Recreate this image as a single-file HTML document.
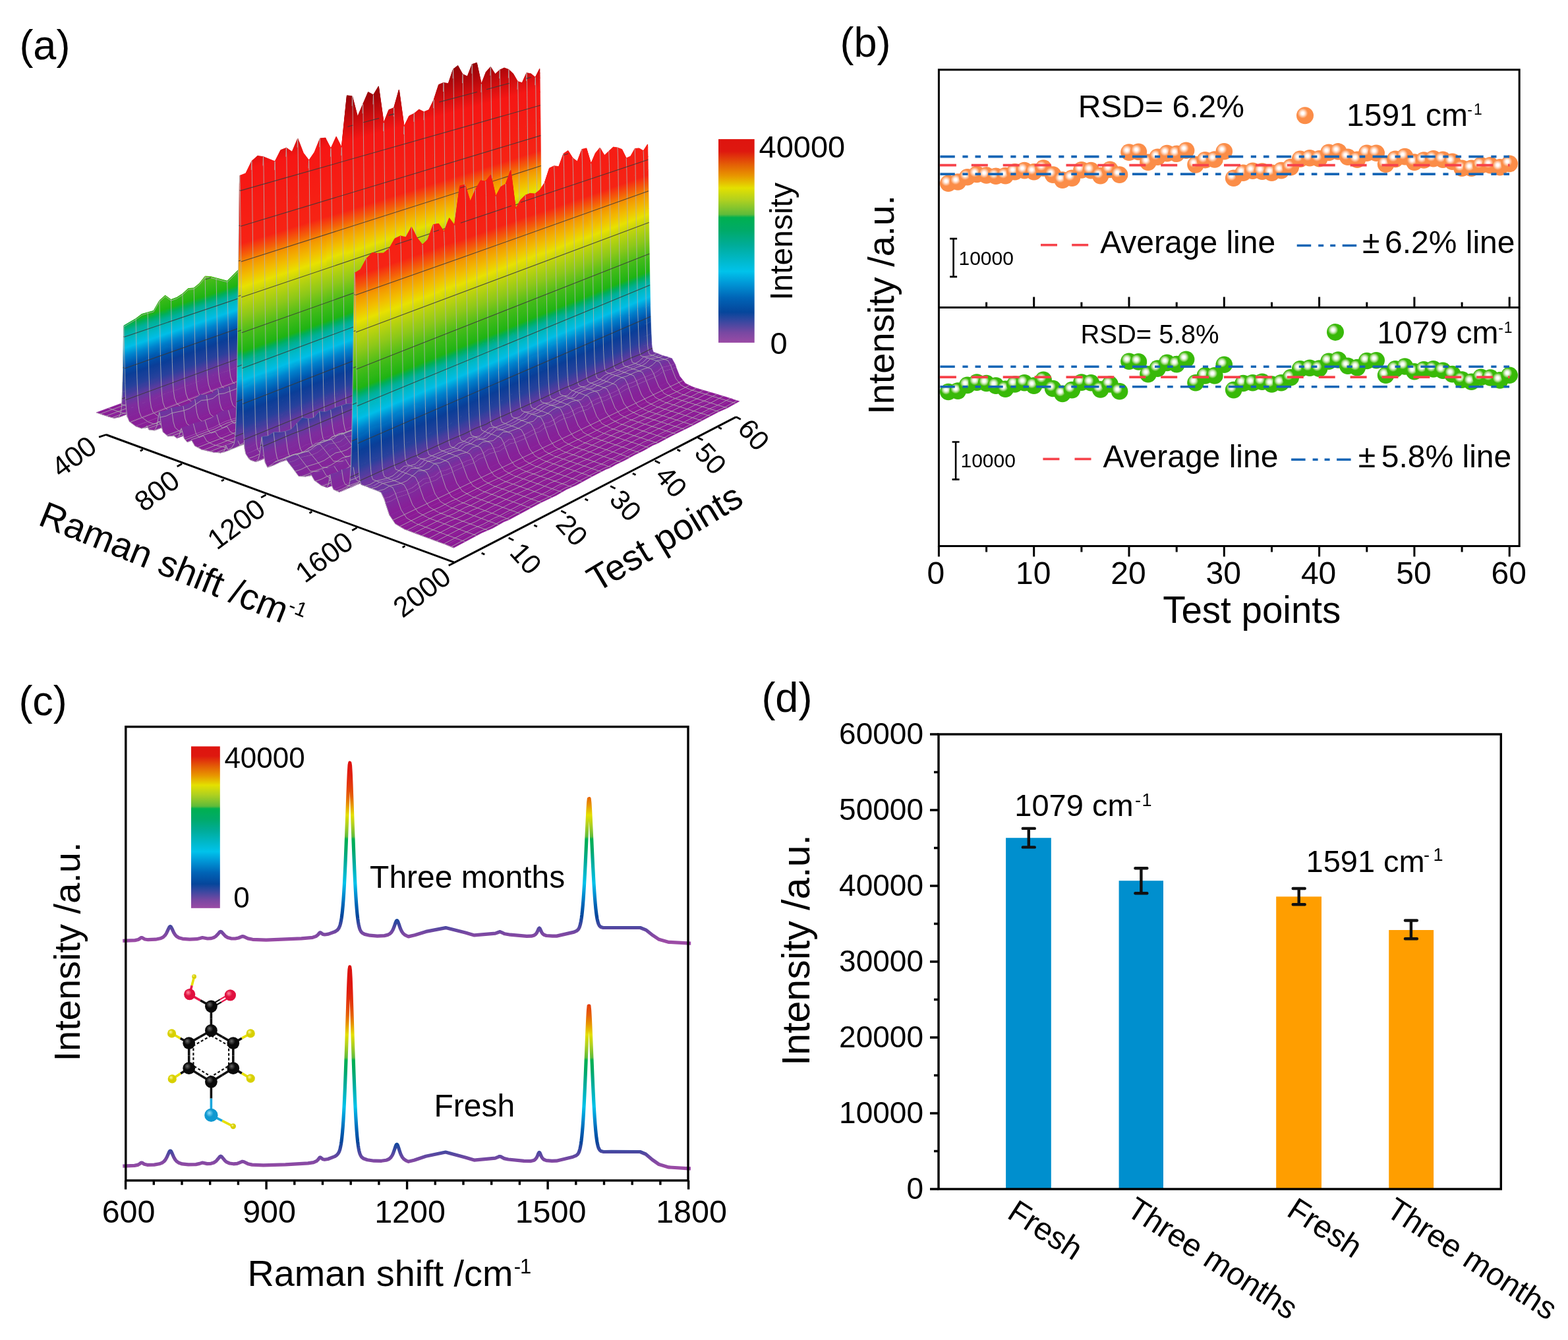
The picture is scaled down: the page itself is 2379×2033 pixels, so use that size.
<!DOCTYPE html>
<html><head><meta charset="utf-8"><title>Figure</title><style>html,body{margin:0;padding:0;background:#fff;}svg{display:block;}</style></head>
<body>
<svg xmlns="http://www.w3.org/2000/svg" xmlns:xlink="http://www.w3.org/1999/xlink" width="2379" height="2033" viewBox="0 0 2379 2033" style="font-family:'Liberation Sans',Arial,Helvetica,sans-serif">
<defs><linearGradient id="scm" x1="0" y1="0" x2="1" y2="0"><stop offset="0" stop-color="#8c1a96"/><stop offset="0.0476" stop-color="#8c1a96"/><stop offset="0.0952" stop-color="#7d2d9e"/><stop offset="0.1143" stop-color="#643aa0"/><stop offset="0.1429" stop-color="#28419c"/><stop offset="0.1746" stop-color="#0a3e98"/><stop offset="0.1952" stop-color="#0050aa"/><stop offset="0.2222" stop-color="#0082cd"/><stop offset="0.2444" stop-color="#00bee8"/><stop offset="0.2635" stop-color="#00b9c8"/><stop offset="0.2857" stop-color="#00b096"/><stop offset="0.2984" stop-color="#00af5a"/><stop offset="0.3095" stop-color="#1eb414"/><stop offset="0.3476" stop-color="#46bc19"/><stop offset="0.3889" stop-color="#8cc819"/><stop offset="0.4365" stop-color="#cdd70a"/><stop offset="0.4524" stop-color="#e8e100"/><stop offset="0.4762" stop-color="#f2be00"/><stop offset="0.5048" stop-color="#f49600"/><stop offset="0.5238" stop-color="#f46408"/><stop offset="0.5524" stop-color="#f62314"/><stop offset="0.7143" stop-color="#f61614"/><stop offset="0.7937" stop-color="#ac060a"/><stop offset="0.873" stop-color="#700005"/><stop offset="1" stop-color="#640005"/></linearGradient>
<linearGradient id="s1" href="#scm" gradientUnits="userSpaceOnUse" x1="442.6" y1="571.2" x2="262.6" y2="87.7"/>
<linearGradient id="s2" href="#scm" gradientUnits="userSpaceOnUse" x1="446.4" y1="571.1" x2="267.1" y2="86.8"/>
<linearGradient id="s3" href="#scm" gradientUnits="userSpaceOnUse" x1="450" y1="570.6" x2="271.8" y2="85.1"/>
<linearGradient id="s4" href="#scm" gradientUnits="userSpaceOnUse" x1="454" y1="569.7" x2="277.4" y2="82.9"/>
<linearGradient id="s5" href="#scm" gradientUnits="userSpaceOnUse" x1="458.3" y1="568.7" x2="283.4" y2="80.3"/>
<linearGradient id="s6" href="#scm" gradientUnits="userSpaceOnUse" x1="346.1" y1="612.6" x2="166.8" y2="103.3"/>
<linearGradient id="s7" href="#scm" gradientUnits="userSpaceOnUse" x1="576" y1="523.8" x2="409.8" y2="51.6"/>
<linearGradient id="s8" href="#scm" gradientUnits="userSpaceOnUse" x1="352" y1="611.5" x2="178" y2="97.9"/>
<linearGradient id="s9" href="#scm" gradientUnits="userSpaceOnUse" x1="581.9" y1="522.6" x2="420.6" y2="46.5"/>
<linearGradient id="s10" href="#scm" gradientUnits="userSpaceOnUse" x1="367.2" y1="607.1" x2="197" y2="90.7"/>
<linearGradient id="s11" href="#scm" gradientUnits="userSpaceOnUse" x1="597" y1="518.3" x2="439.4" y2="39.3"/>
<linearGradient id="s12" href="#scm" gradientUnits="userSpaceOnUse" x1="369" y1="606.7" x2="199.5" y2="89.7"/>
<linearGradient id="s13" href="#scm" gradientUnits="userSpaceOnUse" x1="598.7" y1="517.9" x2="441.8" y2="38.4"/>
<linearGradient id="s14" href="#scm" gradientUnits="userSpaceOnUse" x1="370.2" y1="606.5" x2="201.1" y2="89.2"/>
<linearGradient id="s15" href="#scm" gradientUnits="userSpaceOnUse" x1="600" y1="517.6" x2="443.4" y2="37.9"/>
<linearGradient id="s16" href="#scm" gradientUnits="userSpaceOnUse" x1="370.3" y1="606.5" x2="201.2" y2="89.2"/>
<linearGradient id="s17" href="#scm" gradientUnits="userSpaceOnUse" x1="600.1" y1="517.6" x2="443.6" y2="37.9"/>
<linearGradient id="s18" href="#scm" gradientUnits="userSpaceOnUse" x1="369.4" y1="606.9" x2="199.9" y2="89.8"/>
<linearGradient id="s19" href="#scm" gradientUnits="userSpaceOnUse" x1="599.2" y1="518" x2="442.2" y2="38.5"/>
<linearGradient id="s20" href="#scm" gradientUnits="userSpaceOnUse" x1="365.8" y1="608.1" x2="195" y2="91.8"/>
<linearGradient id="s21" href="#scm" gradientUnits="userSpaceOnUse" x1="595.6" y1="519.1" x2="437.4" y2="40.5"/>
<linearGradient id="s22" href="#scm" gradientUnits="userSpaceOnUse" x1="354.1" y1="612" x2="179.2" y2="98.6"/>
<linearGradient id="s23" href="#scm" gradientUnits="userSpaceOnUse" x1="583.9" y1="523" x2="421.8" y2="47.1"/>
<linearGradient id="s24" href="#scm" gradientUnits="userSpaceOnUse" x1="349.3" y1="613.7" x2="169.5" y2="103.8"/>
<linearGradient id="s25" href="#scm" gradientUnits="userSpaceOnUse" x1="579.1" y1="524.7" x2="412.5" y2="52"/>
<linearGradient id="s26" href="#scm" gradientUnits="userSpaceOnUse" x1="462.4" y1="570" x2="286.8" y2="80.8"/>
<linearGradient id="s27" href="#scm" gradientUnits="userSpaceOnUse" x1="459.2" y1="571.4" x2="281.6" y2="83.6"/>
<linearGradient id="s28" href="#scm" gradientUnits="userSpaceOnUse" x1="456.6" y1="572.8" x2="277.3" y2="86.1"/>
<linearGradient id="s29" href="#scm" gradientUnits="userSpaceOnUse" x1="455.1" y1="574.1" x2="274.2" y2="88.2"/>
<linearGradient id="s30" href="#scm" gradientUnits="userSpaceOnUse" x1="455.5" y1="575.5" x2="273.1" y2="89.7"/>
<linearGradient id="s31" href="#scm" gradientUnits="userSpaceOnUse" x1="496.7" y1="589.2" x2="304.5" y2="90.1"/>
<linearGradient id="s32" href="#scm" gradientUnits="userSpaceOnUse" x1="500.9" y1="589.4" x2="309.1" y2="88.6"/>
<linearGradient id="s33" href="#scm" gradientUnits="userSpaceOnUse" x1="505.4" y1="589" x2="314.5" y2="86.4"/>
<linearGradient id="s34" href="#scm" gradientUnits="userSpaceOnUse" x1="509.6" y1="588.1" x2="319.1" y2="84.7"/>
<linearGradient id="s35" href="#scm" gradientUnits="userSpaceOnUse" x1="509.7" y1="588.4" x2="319" y2="84.9"/>
<linearGradient id="s36" href="#scm" gradientUnits="userSpaceOnUse" x1="506.4" y1="590.8" x2="314.3" y2="87.7"/>
<linearGradient id="s37" href="#scm" gradientUnits="userSpaceOnUse" x1="507.1" y1="592.3" x2="312.8" y2="89.8"/>
<linearGradient id="s38" href="#scm" gradientUnits="userSpaceOnUse" x1="535.2" y1="600.9" x2="335" y2="89.1"/>
<linearGradient id="s39" href="#scm" gradientUnits="userSpaceOnUse" x1="539.8" y1="600.8" x2="339.5" y2="87.9"/>
<linearGradient id="s40" href="#scm" gradientUnits="userSpaceOnUse" x1="539" y1="602.5" x2="337.5" y2="89.7"/>
<linearGradient id="s41" href="#scm" gradientUnits="userSpaceOnUse" x1="552.6" y1="608.1" x2="346.5" y2="91.4"/>
<linearGradient id="s42" href="#scm" gradientUnits="userSpaceOnUse" x1="602" y1="622.9" x2="385.3" y2="91.7"/>
<linearGradient id="s43" href="#scm" gradientUnits="userSpaceOnUse" x1="606.9" y1="623.5" x2="390.1" y2="91.8"/>
<linearGradient id="s44" href="#scm" gradientUnits="userSpaceOnUse" x1="611" y1="624.8" x2="393.6" y2="93"/>
<linearGradient id="s45" href="#scm" gradientUnits="userSpaceOnUse" x1="617" y1="625.7" x2="399.7" y2="93"/>
<linearGradient id="s46" href="#scm" gradientUnits="userSpaceOnUse" x1="621.7" y1="625.6" x2="405" y2="91.9"/>
<linearGradient id="s47" href="#scm" gradientUnits="userSpaceOnUse" x1="625.5" y1="625" x2="410" y2="90"/>
<linearGradient id="s48" href="#scm" gradientUnits="userSpaceOnUse" x1="629.4" y1="624" x2="415.5" y2="87.4"/>
<linearGradient id="s49" href="#scm" gradientUnits="userSpaceOnUse" x1="519.6" y1="671.9" x2="299.5" y2="111.4"/>
<linearGradient id="s50" href="#scm" gradientUnits="userSpaceOnUse" x1="744.4" y1="575.5" x2="541.1" y2="57.2"/>
<linearGradient id="s51" href="#scm" gradientUnits="userSpaceOnUse" x1="526.4" y1="670" x2="309.2" y2="106.7"/>
<linearGradient id="s52" href="#scm" gradientUnits="userSpaceOnUse" x1="750.9" y1="573.6" x2="550.4" y2="52.7"/>
<linearGradient id="s53" href="#scm" gradientUnits="userSpaceOnUse" x1="533" y1="668.2" x2="319.2" y2="101.7"/>
<linearGradient id="s54" href="#scm" gradientUnits="userSpaceOnUse" x1="757" y1="571.9" x2="559.7" y2="48"/>
<linearGradient id="s55" href="#scm" gradientUnits="userSpaceOnUse" x1="540.7" y1="666.1" x2="331.2" y2="95.8"/>
<linearGradient id="s56" href="#scm" gradientUnits="userSpaceOnUse" x1="764.3" y1="570" x2="571" y2="42.6"/>
<linearGradient id="s57" href="#scm" gradientUnits="userSpaceOnUse" x1="487.5" y1="690.5" x2="277.6" y2="104.6"/>
<linearGradient id="s58" href="#scm" gradientUnits="userSpaceOnUse" x1="609.5" y1="638.1" x2="409.6" y2="75"/>
<linearGradient id="s59" href="#scm" gradientUnits="userSpaceOnUse" x1="719.4" y1="590.9" x2="527.4" y2="48.8"/>
<linearGradient id="s60" href="#scm" gradientUnits="userSpaceOnUse" x1="821.4" y1="547" x2="636.6" y2="24.7"/>
<linearGradient id="s61" href="#scm" gradientUnits="userSpaceOnUse" x1="497" y1="688.6" x2="294.2" y2="97"/>
<linearGradient id="s62" href="#scm" gradientUnits="userSpaceOnUse" x1="618.6" y1="636.4" x2="426.1" y2="67.3"/>
<linearGradient id="s63" href="#scm" gradientUnits="userSpaceOnUse" x1="728.1" y1="589.2" x2="543.3" y2="41.5"/>
<linearGradient id="s64" href="#scm" gradientUnits="userSpaceOnUse" x1="830.2" y1="545.3" x2="652.4" y2="17.4"/>
<linearGradient id="s65" href="#scm" gradientUnits="userSpaceOnUse" x1="508.6" y1="687.7" x2="320.1" y2="85.4"/>
<linearGradient id="s66" href="#scm" gradientUnits="userSpaceOnUse" x1="629.1" y1="635.9" x2="451.8" y2="55.9"/>
<linearGradient id="s67" href="#scm" gradientUnits="userSpaceOnUse" x1="738.2" y1="588.9" x2="568.1" y2="30.5"/>
<linearGradient id="s68" href="#scm" gradientUnits="userSpaceOnUse" x1="840.5" y1="544.9" x2="677" y2="6.7"/>
<linearGradient id="s69" href="#scm" gradientUnits="userSpaceOnUse" x1="535.8" y1="682.3" x2="359.5" y2="71.8"/>
<linearGradient id="s70" href="#scm" gradientUnits="userSpaceOnUse" x1="654.7" y1="631.1" x2="489.6" y2="43.1"/>
<linearGradient id="s71" href="#scm" gradientUnits="userSpaceOnUse" x1="762.9" y1="584.3" x2="604.6" y2="18.3"/>
<linearGradient id="s72" href="#scm" gradientUnits="userSpaceOnUse" x1="865.2" y1="540.4" x2="713.6" y2="-5.5"/>
<linearGradient id="s73" href="#scm" gradientUnits="userSpaceOnUse" x1="540.5" y1="682" x2="368.3" y2="69"/>
<linearGradient id="s74" href="#scm" gradientUnits="userSpaceOnUse" x1="658.9" y1="631.1" x2="498" y2="40.4"/>
<linearGradient id="s75" href="#scm" gradientUnits="userSpaceOnUse" x1="766.9" y1="584.2" x2="612.7" y2="15.7"/>
<linearGradient id="s76" href="#scm" gradientUnits="userSpaceOnUse" x1="869.2" y1="540.4" x2="721.7" y2="-8"/>
<linearGradient id="s77" href="#scm" gradientUnits="userSpaceOnUse" x1="544.5" y1="681.6" x2="374.6" y2="67.1"/>
<linearGradient id="s78" href="#scm" gradientUnits="userSpaceOnUse" x1="662.6" y1="630.7" x2="504.1" y2="38.7"/>
<linearGradient id="s79" href="#scm" gradientUnits="userSpaceOnUse" x1="770.4" y1="583.9" x2="618.6" y2="14"/>
<linearGradient id="s80" href="#scm" gradientUnits="userSpaceOnUse" x1="872.7" y1="540.1" x2="727.5" y2="-9.7"/>
<linearGradient id="s81" href="#scm" gradientUnits="userSpaceOnUse" x1="545.8" y1="681.5" x2="376.9" y2="66.4"/>
<linearGradient id="s82" href="#scm" gradientUnits="userSpaceOnUse" x1="663.7" y1="630.7" x2="506.3" y2="38.1"/>
<linearGradient id="s83" href="#scm" gradientUnits="userSpaceOnUse" x1="771.5" y1="583.9" x2="620.7" y2="13.4"/>
<linearGradient id="s84" href="#scm" gradientUnits="userSpaceOnUse" x1="873.8" y1="540.1" x2="729.6" y2="-10.2"/>
<linearGradient id="s85" href="#scm" gradientUnits="userSpaceOnUse" x1="546.7" y1="681.5" x2="378.3" y2="66.1"/>
<linearGradient id="s86" href="#scm" gradientUnits="userSpaceOnUse" x1="664.6" y1="630.7" x2="507.7" y2="37.7"/>
<linearGradient id="s87" href="#scm" gradientUnits="userSpaceOnUse" x1="772.4" y1="583.9" x2="622" y2="13.1"/>
<linearGradient id="s88" href="#scm" gradientUnits="userSpaceOnUse" x1="874.6" y1="540.1" x2="730.9" y2="-10.5"/>
<linearGradient id="s89" href="#scm" gradientUnits="userSpaceOnUse" x1="546.8" y1="681.6" x2="378.3" y2="66.1"/>
<linearGradient id="s90" href="#scm" gradientUnits="userSpaceOnUse" x1="664.7" y1="630.8" x2="507.7" y2="37.8"/>
<linearGradient id="s91" href="#scm" gradientUnits="userSpaceOnUse" x1="772.4" y1="584" x2="622" y2="13.2"/>
<linearGradient id="s92" href="#scm" gradientUnits="userSpaceOnUse" x1="874.7" y1="540.1" x2="730.9" y2="-10.5"/>
<linearGradient id="s93" href="#scm" gradientUnits="userSpaceOnUse" x1="546.1" y1="681.7" x2="377" y2="66.6"/>
<linearGradient id="s94" href="#scm" gradientUnits="userSpaceOnUse" x1="664.1" y1="630.9" x2="506.5" y2="38.3"/>
<linearGradient id="s95" href="#scm" gradientUnits="userSpaceOnUse" x1="771.9" y1="584.1" x2="620.8" y2="13.6"/>
<linearGradient id="s96" href="#scm" gradientUnits="userSpaceOnUse" x1="874.1" y1="540.2" x2="729.8" y2="-10"/>
<linearGradient id="s97" href="#scm" gradientUnits="userSpaceOnUse" x1="545.1" y1="681.8" x2="374.9" y2="67.4"/>
<linearGradient id="s98" href="#scm" gradientUnits="userSpaceOnUse" x1="663.2" y1="631" x2="504.5" y2="39"/>
<linearGradient id="s99" href="#scm" gradientUnits="userSpaceOnUse" x1="771.1" y1="584.2" x2="618.9" y2="14.3"/>
<linearGradient id="s100" href="#scm" gradientUnits="userSpaceOnUse" x1="873.3" y1="540.3" x2="727.9" y2="-9.4"/>
<linearGradient id="s101" href="#scm" gradientUnits="userSpaceOnUse" x1="541.5" y1="682.5" x2="368.7" y2="69.6"/>
<linearGradient id="s102" href="#scm" gradientUnits="userSpaceOnUse" x1="659.9" y1="631.5" x2="498.5" y2="41"/>
<linearGradient id="s103" href="#scm" gradientUnits="userSpaceOnUse" x1="767.9" y1="584.6" x2="613.2" y2="16.2"/>
<linearGradient id="s104" href="#scm" gradientUnits="userSpaceOnUse" x1="870.2" y1="540.7" x2="722.2" y2="-7.5"/>
<linearGradient id="s105" href="#scm" gradientUnits="userSpaceOnUse" x1="534.2" y1="683.7" x2="355.7" y2="74.2"/>
<linearGradient id="s106" href="#scm" gradientUnits="userSpaceOnUse" x1="653.3" y1="632.4" x2="486.1" y2="45.3"/>
<linearGradient id="s107" href="#scm" gradientUnits="userSpaceOnUse" x1="761.5" y1="585.5" x2="601.2" y2="20.4"/>
<linearGradient id="s108" href="#scm" gradientUnits="userSpaceOnUse" x1="863.9" y1="541.5" x2="710.4" y2="-3.5"/>
<linearGradient id="s109" href="#scm" gradientUnits="userSpaceOnUse" x1="511.4" y1="688.9" x2="320.3" y2="87.8"/>
<linearGradient id="s110" href="#scm" gradientUnits="userSpaceOnUse" x1="632.1" y1="637" x2="452" y2="58.2"/>
<linearGradient id="s111" href="#scm" gradientUnits="userSpaceOnUse" x1="741" y1="589.8" x2="568.2" y2="32.8"/>
<linearGradient id="s112" href="#scm" gradientUnits="userSpaceOnUse" x1="843.4" y1="545.7" x2="677.5" y2="8.7"/>
<linearGradient id="s113" href="#scm" gradientUnits="userSpaceOnUse" x1="500.8" y1="690.9" x2="296" y2="99.9"/>
<linearGradient id="s114" href="#scm" gradientUnits="userSpaceOnUse" x1="622.4" y1="638.6" x2="428.1" y2="70.1"/>
<linearGradient id="s115" href="#scm" gradientUnits="userSpaceOnUse" x1="731.7" y1="591.3" x2="545.1" y2="44.2"/>
<linearGradient id="s116" href="#scm" gradientUnits="userSpaceOnUse" x1="834" y1="547.2" x2="654.5" y2="19.9"/>
<linearGradient id="s117" href="#scm" gradientUnits="userSpaceOnUse" x1="554" y1="666.8" x2="347.6" y2="92.7"/>
<linearGradient id="s118" href="#scm" gradientUnits="userSpaceOnUse" x1="776.9" y1="570.5" x2="586.6" y2="39.6"/>
<linearGradient id="s119" href="#scm" gradientUnits="userSpaceOnUse" x1="546" y1="669.4" x2="334.2" y2="99.8"/>
<linearGradient id="s120" href="#scm" gradientUnits="userSpaceOnUse" x1="769.4" y1="572.9" x2="573.9" y2="46.3"/>
<linearGradient id="s121" href="#scm" gradientUnits="userSpaceOnUse" x1="539.1" y1="671.8" x2="322.8" y2="106.2"/>
<linearGradient id="s122" href="#scm" gradientUnits="userSpaceOnUse" x1="762.9" y1="575.2" x2="563.3" y2="52.2"/>
<linearGradient id="s123" href="#scm" gradientUnits="userSpaceOnUse" x1="533.6" y1="674" x2="313.7" y2="111.5"/>
<linearGradient id="s124" href="#scm" gradientUnits="userSpaceOnUse" x1="757.7" y1="577.2" x2="554.6" y2="57.2"/>
<linearGradient id="s125" href="#scm" gradientUnits="userSpaceOnUse" x1="642.3" y1="627" x2="428" y2="89"/>
<linearGradient id="s126" href="#scm" gradientUnits="userSpaceOnUse" x1="638.9" y1="628.7" x2="422.1" y2="92.9"/>
<linearGradient id="s127" href="#scm" gradientUnits="userSpaceOnUse" x1="636.2" y1="630.3" x2="417.6" y2="96.1"/>
<linearGradient id="s128" href="#scm" gradientUnits="userSpaceOnUse" x1="635.1" y1="631.6" x2="415.1" y2="98.7"/>
<linearGradient id="s129" href="#scm" gradientUnits="userSpaceOnUse" x1="636.8" y1="633.4" x2="415.4" y2="101.3"/>
<linearGradient id="s130" href="#scm" gradientUnits="userSpaceOnUse" x1="650.8" y1="638" x2="427.3" y2="105.7"/>
<linearGradient id="s131" href="#scm" gradientUnits="userSpaceOnUse" x1="655.2" y1="638.4" x2="432.1" y2="105.2"/>
<linearGradient id="s132" href="#scm" gradientUnits="userSpaceOnUse" x1="659.5" y1="638" x2="437.8" y2="103.2"/>
<linearGradient id="s133" href="#scm" gradientUnits="userSpaceOnUse" x1="665.7" y1="636.6" x2="445.2" y2="100.2"/>
<linearGradient id="s134" href="#scm" gradientUnits="userSpaceOnUse" x1="668.7" y1="635.9" x2="448.6" y2="99"/>
<linearGradient id="s135" href="#scm" gradientUnits="userSpaceOnUse" x1="668.8" y1="636.1" x2="448.6" y2="99.3"/>
<linearGradient id="s136" href="#scm" gradientUnits="userSpaceOnUse" x1="663.2" y1="639.4" x2="441.3" y2="104.1"/>
<linearGradient id="s137" href="#scm" gradientUnits="userSpaceOnUse" x1="662.9" y1="641.2" x2="438.4" y2="108"/>
<linearGradient id="s138" href="#scm" gradientUnits="userSpaceOnUse" x1="664" y1="642.6" x2="438.3" y2="110.4"/>
<linearGradient id="s139" href="#scm" gradientUnits="userSpaceOnUse" x1="669.7" y1="644.4" x2="443.3" y2="111.9"/>
<linearGradient id="s140" href="#scm" gradientUnits="userSpaceOnUse" x1="683.6" y1="646.7" x2="456.9" y2="112.7"/>
<linearGradient id="s141" href="#scm" gradientUnits="userSpaceOnUse" x1="694.2" y1="648.3" x2="466.9" y2="113.5"/>
<linearGradient id="s142" href="#scm" gradientUnits="userSpaceOnUse" x1="699.7" y1="650.2" x2="471.6" y2="115.3"/>
<linearGradient id="s143" href="#scm" gradientUnits="userSpaceOnUse" x1="703.4" y1="652.3" x2="474" y2="117.9"/>
<linearGradient id="s144" href="#scm" gradientUnits="userSpaceOnUse" x1="708.1" y1="655.9" x2="476.8" y2="122.4"/>
<linearGradient id="s145" href="#scm" gradientUnits="userSpaceOnUse" x1="734.8" y1="663.8" x2="499.6" y2="130.1"/>
<linearGradient id="s146" href="#scm" gradientUnits="userSpaceOnUse" x1="755.7" y1="671.3" x2="516.7" y2="138.1"/>
<linearGradient id="s147" href="#scm" gradientUnits="userSpaceOnUse" x1="759.4" y1="671.3" x2="521.3" y2="136.8"/>
<linearGradient id="s148" href="#scm" gradientUnits="userSpaceOnUse" x1="764.3" y1="670.1" x2="526.8" y2="134.7"/>
<linearGradient id="s149" href="#scm" gradientUnits="userSpaceOnUse" x1="764.7" y1="670.5" x2="527" y2="135.2"/>
<linearGradient id="s150" href="#scm" gradientUnits="userSpaceOnUse" x1="762.7" y1="672.3" x2="524" y2="137.8"/>
<linearGradient id="s151" href="#scm" gradientUnits="userSpaceOnUse" x1="763.3" y1="673.5" x2="523.3" y2="140.2"/>
<linearGradient id="s152" href="#scm" gradientUnits="userSpaceOnUse" x1="778.2" y1="678.3" x2="536.1" y2="144.8"/>
<linearGradient id="s153" href="#scm" gradientUnits="userSpaceOnUse" x1="788" y1="679.5" x2="545.7" y2="145"/>
<linearGradient id="s154" href="#scm" gradientUnits="userSpaceOnUse" x1="792.8" y1="679.5" x2="551" y2="144"/>
<linearGradient id="s155" href="#scm" gradientUnits="userSpaceOnUse" x1="796.4" y1="678.8" x2="555.6" y2="142"/>
<linearGradient id="s156" href="#scm" gradientUnits="userSpaceOnUse" x1="800.5" y1="677.7" x2="561.2" y2="139.1"/>
<linearGradient id="s157" href="#scm" gradientUnits="userSpaceOnUse" x1="805.5" y1="676.2" x2="568.4" y2="135"/>
<linearGradient id="s158" href="#scm" gradientUnits="userSpaceOnUse" x1="700.9" y1="727.3" x2="457.2" y2="159.8"/>
<linearGradient id="s159" href="#scm" gradientUnits="userSpaceOnUse" x1="919.7" y1="622.9" x2="695.3" y2="99.7"/>
<linearGradient id="s160" href="#scm" gradientUnits="userSpaceOnUse" x1="710" y1="724.5" x2="470.9" y2="152.1"/>
<linearGradient id="s161" href="#scm" gradientUnits="userSpaceOnUse" x1="928.4" y1="620.2" x2="708.3" y2="92.4"/>
<linearGradient id="s162" href="#scm" gradientUnits="userSpaceOnUse" x1="721.1" y1="721.2" x2="487.9" y2="142.9"/>
<linearGradient id="s163" href="#scm" gradientUnits="userSpaceOnUse" x1="938.9" y1="617.2" x2="724.5" y2="83.7"/>
<linearGradient id="s164" href="#scm" gradientUnits="userSpaceOnUse" x1="672.9" y1="747.2" x2="442.2" y2="148.8"/>
<linearGradient id="s165" href="#scm" gradientUnits="userSpaceOnUse" x1="793" y1="690.1" x2="574.6" y2="114.8"/>
<linearGradient id="s166" href="#scm" gradientUnits="userSpaceOnUse" x1="898.8" y1="639.4" x2="689.1" y2="86.6"/>
<linearGradient id="s167" href="#scm" gradientUnits="userSpaceOnUse" x1="999" y1="591.6" x2="797.6" y2="59.4"/>
<linearGradient id="s168" href="#scm" gradientUnits="userSpaceOnUse" x1="693.2" y1="742.2" x2="473.4" y2="134.3"/>
<linearGradient id="s169" href="#scm" gradientUnits="userSpaceOnUse" x1="812.8" y1="685.6" x2="605.9" y2="100.4"/>
<linearGradient id="s170" href="#scm" gradientUnits="userSpaceOnUse" x1="917.7" y1="635.1" x2="718.9" y2="72.9"/>
<linearGradient id="s171" href="#scm" gradientUnits="userSpaceOnUse" x1="1018.4" y1="587.2" x2="827.9" y2="45.7"/>
<linearGradient id="s172" href="#scm" gradientUnits="userSpaceOnUse" x1="709.6" y1="738.3" x2="496.4" y2="124.8"/>
<linearGradient id="s173" href="#scm" gradientUnits="userSpaceOnUse" x1="828.5" y1="682" x2="628.5" y2="91.3"/>
<linearGradient id="s174" href="#scm" gradientUnits="userSpaceOnUse" x1="932.8" y1="631.6" x2="740.7" y2="64.2"/>
<linearGradient id="s175" href="#scm" gradientUnits="userSpaceOnUse" x1="1033.8" y1="583.7" x2="850" y2="36.9"/>
<linearGradient id="s176" href="#scm" gradientUnits="userSpaceOnUse" x1="714.5" y1="737.5" x2="504.2" y2="121.7"/>
<linearGradient id="s177" href="#scm" gradientUnits="userSpaceOnUse" x1="833.2" y1="681.4" x2="636.2" y2="88.3"/>
<linearGradient id="s178" href="#scm" gradientUnits="userSpaceOnUse" x1="937.3" y1="631" x2="748" y2="61.3"/>
<linearGradient id="s179" href="#scm" gradientUnits="userSpaceOnUse" x1="1038.3" y1="583.1" x2="857.5" y2="34.1"/>
<linearGradient id="s180" href="#scm" gradientUnits="userSpaceOnUse" x1="718.2" y1="736.8" x2="509.4" y2="119.8"/>
<linearGradient id="s181" href="#scm" gradientUnits="userSpaceOnUse" x1="836.6" y1="680.8" x2="641.2" y2="86.5"/>
<linearGradient id="s182" href="#scm" gradientUnits="userSpaceOnUse" x1="940.6" y1="630.4" x2="752.9" y2="59.6"/>
<linearGradient id="s183" href="#scm" gradientUnits="userSpaceOnUse" x1="1041.7" y1="582.6" x2="862.3" y2="32.4"/>
<linearGradient id="s184" href="#scm" gradientUnits="userSpaceOnUse" x1="719.3" y1="736.6" x2="510.9" y2="119.3"/>
<linearGradient id="s185" href="#scm" gradientUnits="userSpaceOnUse" x1="837.7" y1="680.7" x2="642.7" y2="86"/>
<linearGradient id="s186" href="#scm" gradientUnits="userSpaceOnUse" x1="941.6" y1="630.3" x2="754.3" y2="59.1"/>
<linearGradient id="s187" href="#scm" gradientUnits="userSpaceOnUse" x1="1042.7" y1="582.4" x2="863.8" y2="31.9"/>
<linearGradient id="s188" href="#scm" gradientUnits="userSpaceOnUse" x1="719.5" y1="736.7" x2="511.1" y2="119.3"/>
<linearGradient id="s189" href="#scm" gradientUnits="userSpaceOnUse" x1="837.9" y1="680.7" x2="642.9" y2="86.1"/>
<linearGradient id="s190" href="#scm" gradientUnits="userSpaceOnUse" x1="941.8" y1="630.3" x2="754.5" y2="59.1"/>
<linearGradient id="s191" href="#scm" gradientUnits="userSpaceOnUse" x1="1042.9" y1="582.5" x2="864" y2="31.9"/>
<linearGradient id="s192" href="#scm" gradientUnits="userSpaceOnUse" x1="718.8" y1="736.9" x2="510" y2="119.9"/>
<linearGradient id="s193" href="#scm" gradientUnits="userSpaceOnUse" x1="837.3" y1="680.9" x2="641.8" y2="86.6"/>
<linearGradient id="s194" href="#scm" gradientUnits="userSpaceOnUse" x1="941.2" y1="630.5" x2="753.5" y2="59.6"/>
<linearGradient id="s195" href="#scm" gradientUnits="userSpaceOnUse" x1="1042.3" y1="582.7" x2="862.9" y2="32.4"/>
<linearGradient id="s196" href="#scm" gradientUnits="userSpaceOnUse" x1="715.8" y1="737.8" x2="505.5" y2="121.9"/>
<linearGradient id="s197" href="#scm" gradientUnits="userSpaceOnUse" x1="834.4" y1="681.7" x2="637.4" y2="88.5"/>
<linearGradient id="s198" href="#scm" gradientUnits="userSpaceOnUse" x1="938.5" y1="631.3" x2="749.2" y2="61.4"/>
<linearGradient id="s199" href="#scm" gradientUnits="userSpaceOnUse" x1="1039.5" y1="583.4" x2="858.6" y2="34.2"/>
<linearGradient id="s200" href="#scm" gradientUnits="userSpaceOnUse" x1="711.7" y1="738.8" x2="498.4" y2="125.1"/>
<linearGradient id="s201" href="#scm" gradientUnits="userSpaceOnUse" x1="830.6" y1="682.5" x2="630.5" y2="91.6"/>
<linearGradient id="s202" href="#scm" gradientUnits="userSpaceOnUse" x1="934.9" y1="632" x2="742.6" y2="64.4"/>
<linearGradient id="s203" href="#scm" gradientUnits="userSpaceOnUse" x1="1035.8" y1="584.1" x2="851.9" y2="37.2"/>
<linearGradient id="s204" href="#scm" gradientUnits="userSpaceOnUse" x1="696.9" y1="743.1" x2="476.8" y2="134.8"/>
<linearGradient id="s205" href="#scm" gradientUnits="userSpaceOnUse" x1="816.4" y1="686.4" x2="609.3" y2="100.9"/>
<linearGradient id="s206" href="#scm" gradientUnits="userSpaceOnUse" x1="921.2" y1="635.8" x2="722.2" y2="73.3"/>
<linearGradient id="s207" href="#scm" gradientUnits="userSpaceOnUse" x1="1021.8" y1="587.8" x2="831.1" y2="46.1"/>
<linearGradient id="s208" href="#scm" gradientUnits="userSpaceOnUse" x1="678.9" y1="748.5" x2="447.8" y2="149.6"/>
<linearGradient id="s209" href="#scm" gradientUnits="userSpaceOnUse" x1="798.7" y1="691.4" x2="580" y2="115.6"/>
<linearGradient id="s210" href="#scm" gradientUnits="userSpaceOnUse" x1="904.6" y1="640.5" x2="694.5" y2="87.3"/>
<linearGradient id="s211" href="#scm" gradientUnits="userSpaceOnUse" x1="1004.6" y1="592.7" x2="802.9" y2="60.1"/>
<linearGradient id="s212" href="#scm" gradientUnits="userSpaceOnUse" x1="729" y1="723" x2="495.3" y2="144"/>
<linearGradient id="s213" href="#scm" gradientUnits="userSpaceOnUse" x1="946.6" y1="618.6" x2="731.6" y2="84.7"/>
<linearGradient id="s214" href="#scm" gradientUnits="userSpaceOnUse" x1="719.6" y1="726.6" x2="479.8" y2="153.5"/>
<linearGradient id="s215" href="#scm" gradientUnits="userSpaceOnUse" x1="937.7" y1="622" x2="717" y2="93.6"/>
<linearGradient id="s216" href="#scm" gradientUnits="userSpaceOnUse" x1="712.1" y1="729.7" x2="467.6" y2="161.5"/>
<linearGradient id="s217" href="#scm" gradientUnits="userSpaceOnUse" x1="930.6" y1="624.9" x2="705.4" y2="101.1"/>
<linearGradient id="s218" href="#scm" gradientUnits="userSpaceOnUse" x1="706.6" y1="732.3" x2="458.5" y2="167.7"/>
<linearGradient id="s219" href="#scm" gradientUnits="userSpaceOnUse" x1="925.3" y1="627.4" x2="696.9" y2="106.9"/>
<linearGradient id="s220" href="#scm" gradientUnits="userSpaceOnUse" x1="814" y1="681" x2="573.4" y2="141.7"/>
<linearGradient id="s221" href="#scm" gradientUnits="userSpaceOnUse" x1="812" y1="682.5" x2="569.6" y2="145.1"/>
<linearGradient id="s222" href="#scm" gradientUnits="userSpaceOnUse" x1="811.7" y1="683.7" x2="568.1" y2="147.4"/>
<linearGradient id="s223" href="#scm" gradientUnits="userSpaceOnUse" x1="837.4" y1="692.1" x2="589.4" y2="156.5"/>
<linearGradient id="s224" href="#scm" gradientUnits="userSpaceOnUse" x1="841.5" y1="695.2" x2="592.1" y2="160.1"/>
<linearGradient id="s225" href="#scm" gradientUnits="userSpaceOnUse" x1="843" y1="696.9" x2="592.3" y2="162.8"/>
<linearGradient id="s226" href="#scm" gradientUnits="userSpaceOnUse" x1="842.2" y1="700.4" x2="589.6" y2="167.9"/>
<linearGradient id="s227" href="#scm" gradientUnits="userSpaceOnUse" x1="846.2" y1="704.2" x2="591.1" y2="173.6"/>
<linearGradient id="cba" x1="0" y1="1" x2="0" y2="0"><stop offset="0" stop-color="#9b4ba5"/><stop offset="0.05" stop-color="#7848a2"/><stop offset="0.11" stop-color="#3248a0"/><stop offset="0.15" stop-color="#05469b"/><stop offset="0.22" stop-color="#0064b6"/><stop offset="0.29" stop-color="#0096d6"/><stop offset="0.35" stop-color="#00c3eb"/><stop offset="0.4" stop-color="#00b9cd"/><stop offset="0.48" stop-color="#00ac98"/><stop offset="0.55" stop-color="#00aa69"/><stop offset="0.615" stop-color="#00b050"/><stop offset="0.63" stop-color="#5fbb3a"/><stop offset="0.7" stop-color="#afd020"/><stop offset="0.76" stop-color="#e4e000"/><stop offset="0.82" stop-color="#e89600"/><stop offset="0.87" stop-color="#e46405"/><stop offset="0.94" stop-color="#de180f"/><stop offset="1" stop-color="#de140f"/></linearGradient>
<radialGradient id="mo" cx="0.367" cy="0.367" r="0.3" fx="0.367" fy="0.367"><stop offset="0" stop-color="#fff"/><stop offset="0.22" stop-color="#fff"/><stop offset="0.5" stop-color="#ffdcc8"/><stop offset="0.75" stop-color="#fdb486"/><stop offset="1" stop-color="#fb8d48"/></radialGradient>
<radialGradient id="mg" cx="0.367" cy="0.367" r="0.3" fx="0.367" fy="0.367"><stop offset="0" stop-color="#fff"/><stop offset="0.22" stop-color="#fff"/><stop offset="0.5" stop-color="#d4ecc4"/><stop offset="0.75" stop-color="#8fd36a"/><stop offset="1" stop-color="#38b908"/></radialGradient>
<linearGradient id="cbc" x1="0" y1="1" x2="0" y2="0"><stop offset="0" stop-color="#9b4ba5"/><stop offset="0.05" stop-color="#7848a2"/><stop offset="0.11" stop-color="#3248a0"/><stop offset="0.15" stop-color="#05469b"/><stop offset="0.22" stop-color="#0064b6"/><stop offset="0.29" stop-color="#0096d6"/><stop offset="0.35" stop-color="#00c3eb"/><stop offset="0.4" stop-color="#00b9cd"/><stop offset="0.48" stop-color="#00ac98"/><stop offset="0.55" stop-color="#00aa69"/><stop offset="0.615" stop-color="#00b050"/><stop offset="0.63" stop-color="#5fbb3a"/><stop offset="0.7" stop-color="#afd020"/><stop offset="0.76" stop-color="#e4e000"/><stop offset="0.82" stop-color="#e89600"/><stop offset="0.87" stop-color="#e46405"/><stop offset="0.94" stop-color="#de180f"/><stop offset="1" stop-color="#de140f"/></linearGradient>
<radialGradient id="aty" cx="0.42" cy="0.4" r="0.62" fx="0.36" fy="0.33"><stop offset="0" stop-color="#fbf6a0"/><stop offset="0.45" stop-color="#d8d000"/><stop offset="1" stop-color="#d8d000"/></radialGradient><radialGradient id="atr" cx="0.42" cy="0.4" r="0.62" fx="0.36" fy="0.33"><stop offset="0" stop-color="#ff8aa0"/><stop offset="0.45" stop-color="#e0103f"/><stop offset="1" stop-color="#e0103f"/></radialGradient><radialGradient id="atk" cx="0.42" cy="0.4" r="0.62" fx="0.36" fy="0.33"><stop offset="0" stop-color="#6a6a6a"/><stop offset="0.45" stop-color="#0a0a0a"/><stop offset="1" stop-color="#0a0a0a"/></radialGradient><radialGradient id="atc" cx="0.42" cy="0.4" r="0.62" fx="0.36" fy="0.33"><stop offset="0" stop-color="#8fdcf8"/><stop offset="0.45" stop-color="#1098d0"/><stop offset="1" stop-color="#1098d0"/></radialGradient>
<linearGradient id="sgU" gradientUnits="userSpaceOnUse" x1="0" y1="1428" x2="0" y2="1138.2"><stop offset="0" stop-color="#9b4ba5"/><stop offset="0.0435" stop-color="#7848a2"/><stop offset="0.0957" stop-color="#3248a0"/><stop offset="0.1304" stop-color="#05469b"/><stop offset="0.1913" stop-color="#0064b6"/><stop offset="0.2522" stop-color="#0096d6"/><stop offset="0.3043" stop-color="#00c3eb"/><stop offset="0.3478" stop-color="#00b9cd"/><stop offset="0.4174" stop-color="#00ac98"/><stop offset="0.4783" stop-color="#00aa69"/><stop offset="0.5348" stop-color="#00b050"/><stop offset="0.5478" stop-color="#5fbb3a"/><stop offset="0.6087" stop-color="#afd020"/><stop offset="0.6609" stop-color="#e4e000"/><stop offset="0.713" stop-color="#e89600"/><stop offset="0.7565" stop-color="#e66206"/><stop offset="0.8087" stop-color="#e43e0c"/><stop offset="0.8696" stop-color="#e1200f"/><stop offset="0.9217" stop-color="#de140f"/><stop offset="1" stop-color="#da120f"/></linearGradient>
<linearGradient id="sgL" gradientUnits="userSpaceOnUse" x1="0" y1="1772" x2="0" y2="1466.1"><stop offset="0" stop-color="#9b4ba5"/><stop offset="0.0435" stop-color="#7848a2"/><stop offset="0.0957" stop-color="#3248a0"/><stop offset="0.1304" stop-color="#05469b"/><stop offset="0.1913" stop-color="#0064b6"/><stop offset="0.2522" stop-color="#0096d6"/><stop offset="0.3043" stop-color="#00c3eb"/><stop offset="0.3478" stop-color="#00b9cd"/><stop offset="0.4174" stop-color="#00ac98"/><stop offset="0.4783" stop-color="#00aa69"/><stop offset="0.5348" stop-color="#00b050"/><stop offset="0.5478" stop-color="#5fbb3a"/><stop offset="0.6087" stop-color="#afd020"/><stop offset="0.6609" stop-color="#e4e000"/><stop offset="0.713" stop-color="#e89600"/><stop offset="0.7565" stop-color="#e66206"/><stop offset="0.8087" stop-color="#e43e0c"/><stop offset="0.8696" stop-color="#e1200f"/><stop offset="0.9217" stop-color="#de140f"/><stop offset="1" stop-color="#da120f"/></linearGradient>
</defs>
<rect width="2379" height="2033" fill="#fff"/>
<text x="29.4" y="89.5" font-size="63">(a)</text>
<g stroke-linejoin="round"><path d="M146.2 625.9l465.7 -171.1l8.5 2.4l-465.3 171.9z" fill="#8a1d97" stroke="#8a1d97" stroke-width="0.6"/>
<path d="M155.1 629l465.3 -171.9l8.5 2.2l-464.9 172.6z" fill="#891d97" stroke="#891d97" stroke-width="0.6"/>
<path d="M164 632l464.9 -172.6l8.6 1.6l-464.5 173.4z" fill="#891e98" stroke="#891e98" stroke-width="0.6"/>
<path d="M173 634.4l464.5 -173.4l6.9 -1.9l-234.2 87.7l-56.5 20.6l-16.5 6.6l-33.6 11.9l-123.4 47.3z" fill="#882098" stroke="#882098" stroke-width="0.6"/>
<path d="M180.2 633l123.4 -47.3l33.6 -11.9l16.5 -6.6l56.5 -20.6l234.2 -87.7l2.4 -5.5l-6.8 2.3l-13.6 6l-34.7 12.2l-28.4 11.2l-28.9 9.6l-29.5 11.9l-7.5 2.3l-22.6 8.8l-46.3 16.7l-15.8 6.4l-56.5 20l-16.5 7l-33.6 11l-17.1 7.3l-25.9 10.1l-8.7 3.3l-8.8 2.5l-17.7 8.1l-45.1 17.3z" fill="url(#s1)" stroke="url(#s1)" stroke-width="0.6"/>
<path d="M182.8 627.7l45.1 -17.3l17.7 -8.1l8.8 -2.5l8.7 -3.3l25.9 -10.1l17.1 -7.3l33.6 -11l16.5 -7l56.5 -20l15.8 -6.4l46.3 -16.7l22.6 -8.8l7.5 -2.3l29.5 -11.9l28.9 -9.6l28.4 -11.2l34.7 -12.2l13.6 -6l6.8 -2.3l1.3 -8.2l-6.8 2.2l-13.6 6.7l-13.8 5l-6.9 1.8l-7 3l-7 1.9l-7 3.2l-14.2 5l-7.1 3.4l-28.9 8.7l-7.3 3.5l-14.8 5.2l-7.4 3.7l-7.5 2l-22.6 9.1l-7.6 2.2l-38.7 14l-15.8 6.8l-7.9 2.2l-40.3 14.4l-8.2 2.5l-16.5 7.6l-33.6 9.9l-17.1 8l-8.6 2.9l-17.3 7.5l-8.7 3.3l-8.8 1.9l-8.8 4l-8.9 5.1l-17.9 6.5l-27.2 11.2z" fill="url(#s2)" stroke="url(#s2)" stroke-width="0.6"/>
<path d="M184.1 619.6l27.2 -11.2l17.9 -6.5l8.9 -5.1l8.8 -4l8.8 -1.9l8.7 -3.3l17.3 -7.5l8.6 -2.9l17.1 -8l33.6 -9.9l16.5 -7.6l8.2 -2.5l40.3 -14.4l7.9 -2.2l15.8 -6.8l38.7 -14l7.6 -2.2l22.6 -9.1l7.5 -2l7.4 -3.7l14.8 -5.2l7.3 -3.5l28.9 -8.7l7.1 -3.4l14.2 -5l7 -3.2l7 -1.9l7 -3l6.9 -1.8l13.8 -5l13.6 -6.7l6.8 -2.2l0.9 -11.3l-6.8 2l-13.6 7.6l-13.8 4.9l-6.9 1.3l-7 3.2l-7 1.5l-7 3.6l-14.2 4.8l-7.1 3.9l-7.2 1.3l-7.2 2.5l-7.2 1.4l-7.3 2.2l-7.3 4l-14.8 5l-7.4 4.2l-7.5 1.6l-22.6 9.4l-7.6 1.8l-38.7 13.7l-15.8 7.3l-7.9 1.7l-40.3 14l-8.2 2.2l-16.5 8.4l-33.6 8.3l-8.5 4.8l-8.5 4l-8.6 2.7l-17.3 8.1l-8.7 3.2l-8.8 1.1l-8.8 4.3l-8.9 6.1l-17.9 6.4l-27.2 11.8z" fill="url(#s3)" stroke="url(#s3)" stroke-width="0.6"/>
<path d="M185 608.3l27.2 -11.8l17.9 -6.4l8.9 -6.1l8.8 -4.3l8.8 -1.1l8.7 -3.2l17.3 -8.1l8.6 -2.7l8.5 -4l8.5 -4.8l33.6 -8.3l16.5 -8.4l8.2 -2.2l40.3 -14l7.9 -1.7l15.8 -7.3l38.7 -13.7l7.6 -1.8l22.6 -9.4l7.5 -1.6l7.4 -4.2l14.8 -5l7.3 -4l7.3 -2.2l7.2 -1.4l7.2 -2.5l7.2 -1.3l7.1 -3.9l14.2 -4.8l7 -3.6l7 -1.5l7 -3.2l6.9 -1.3l13.8 -4.9l13.6 -7.6l6.8 -2l0.6 -13.1l-6.8 1.8l-13.6 8.7l-13.8 4.7l-6.9 0.8l-7 3.5l-7 1l-7 3.9l-14.2 4.6l-7.1 4.3l-7.2 0.7l-7.2 2.4l-7.2 0.8l-7.3 2l-7.3 4.5l-14.8 4.8l-7.4 4.7l-7.5 1.2l-15.1 6.1l-7.6 3.8l-7.6 1.4l-15.4 5.1l-15.5 6.1l-7.8 2.2l-7.9 3.5l-7.9 4.4l-7.9 1.2l-16 5.8l-8.1 1.8l-16.3 5.9l-8.2 1.8l-16.5 9.4l-25.1 4.5l-8.5 2l-8.5 5.5l-8.5 4.4l-8.6 2.5l-17.3 8.7l-8.7 3.2l-8.8 0.3l-8.8 4.7l-8.9 7.2l-17.9 6.2l-27.2 12.4z" fill="url(#s4)" stroke="url(#s4)" stroke-width="0.6"/>
<path d="M185.6 595.2l27.2 -12.4l17.9 -6.2l8.9 -7.2l8.8 -4.7l8.8 -0.3l8.7 -3.2l17.3 -8.7l8.6 -2.5l8.5 -4.4l8.5 -5.5l8.5 -2l25.1 -4.5l16.5 -9.4l8.2 -1.8l16.3 -5.9l8.1 -1.8l16 -5.8l7.9 -1.2l7.9 -4.4l7.9 -3.5l7.8 -2.2l15.5 -6.1l15.4 -5.1l7.6 -1.4l7.6 -3.8l15.1 -6.1l7.5 -1.2l7.4 -4.7l14.8 -4.8l7.3 -4.5l7.3 -2l7.2 -0.8l7.2 -2.4l7.2 -0.7l7.1 -4.3l14.2 -4.6l7 -3.9l7 -1l7 -3.5l6.9 -0.8l13.8 -4.7l13.6 -8.7l6.8 -1.8l0.4 -14.8l-6.8 1.5l-13.6 9.9l-13.8 4.5l-6.9 0.1l-7 3.7l-7 0.4l-7 4.4l-14.2 4.3l-7.1 4.9l-7.2 0l-7.2 2.2l-7.2 0.2l-7.3 1.8l-7.3 5.1l-14.8 4.5l-7.4 5.4l-7.5 0.6l-15.1 6.2l-7.6 4.1l-7.6 0.9l-15.4 4.8l-7.7 3.6l-7.8 2.6l-7.8 1.9l-7.9 3.6l-7.9 4.9l-7.9 0.6l-16 5.8l-8.1 1.4l-16.3 5.8l-8.2 1.4l-16.5 10.4l-25.1 2.9l-8.5 1.7l-8.5 6.3l-8.5 4.8l-8.6 2.2l-8.6 5.1l-8.7 4.3l-8.7 3.2l-8.8 -0.7l-8.8 5.2l-8.9 8.4l-17.9 6l-27.2 13.2z" fill="url(#s5)" stroke="url(#s5)" stroke-width="0.6"/>
<path d="M186.1 580.3l27.2 -13.2l17.9 -6l8.9 -8.4l8.8 -5.2l8.8 0.7l8.7 -3.2l8.7 -4.3l8.6 -5.1l8.6 -2.2l8.5 -4.8l8.5 -6.3l8.5 -1.7l25.1 -2.9l16.5 -10.4l8.2 -1.4l16.3 -5.8l8.1 -1.4l16 -5.8l7.9 -0.6l7.9 -4.9l7.9 -3.6l7.8 -1.9l0.4 -21.9l-7.8 1.5l-7.9 3.9l-7.9 5.5l-7.9 -0.3l-16 5.7l-8.1 0.8l-8.1 3.2l-8.1 2.4l-8.2 0.8l-16.5 11.9l-25.1 0.6l-8.5 1.1l-8.5 7.4l-8.5 5.3l-8.6 1.9l-8.6 5.8l-8.7 4.6l-8.7 3.2l-8.8 -2.1l-8.8 5.8l-8.9 10.1l-17.9 5.8l-9 5.2l-18.2 9z" fill="url(#s6)" stroke="url(#s6)" stroke-width="0.6"/>
<path d="M439.5 482l7.8 -2.6l7.7 -3.6l15.4 -4.8l7.6 -0.9l7.6 -4.1l15.1 -6.2l7.5 -0.6l7.4 -5.4l14.8 -4.5l7.3 -5.1l7.3 -1.8l7.2 -0.2l7.2 -2.2l7.2 0l7.1 -4.9l14.2 -4.3l7 -4.4l7 -0.4l7 -3.7l6.9 -0.1l13.8 -4.5l13.6 -9.9l6.8 -1.5l0.4 -20.8l-6.8 1.1l-13.6 11.6l-6.9 1.7l-6.9 2.6l-6.9 -0.7l-7 4.1l-7 -0.3l-7 5l-14.2 4l-7.1 5.7l-7.2 -0.9l-7.2 2.1l-7.2 -0.6l-7.3 1.4l-7.3 5.9l-7.4 1.6l-7.4 2.5l-7.4 6.2l-7.5 -0.1l-15.1 6.4l-7.6 4.5l-7.6 0.3l-15.4 4.5l-7.7 3.8l-7.8 2.5z" fill="url(#s7)" stroke="url(#s7)" stroke-width="0.6"/>
<path d="M186.5 559.5l18.2 -9l9 -5.2l17.9 -5.8l8.9 -10.1l8.8 -5.8l8.8 2.1l8.7 -3.2l8.7 -4.6l8.6 -5.8l8.6 -1.9l8.5 -5.3l8.5 -7.4l8.5 -1.1l25.1 -0.6l16.5 -11.9l8.2 -0.8l8.1 -2.4l8.1 -3.2l8.1 -0.8l16 -5.7l7.9 0.3l7.9 -5.5l7.9 -3.9l7.8 -1.5l0.9 -56l-7.8 0.5l-7.9 4.5l-7.9 7.2l-7.9 -2.4l-16 5.5l-8.1 -0.6l-8.1 3.3l-8.1 1.9l-8.2 -0.6l-16.5 15.6l-25.1 -5.3l-8.5 -0.2l-8.5 10.1l-8.5 6.7l-8.6 1l-8.6 7.6l-8.7 5.4l-8.7 3.2l-8.8 -5.6l-8.8 7.4l-8.9 14.6l-17.9 5.2l-9 6.5l-18.2 10.4z" fill="url(#s8)" stroke="url(#s8)" stroke-width="0.6"/>
<path d="M440 460.2l7.8 -2.5l7.7 -3.8l15.4 -4.5l7.6 -0.3l7.6 -4.5l15.1 -6.4l7.5 0.1l7.4 -6.2l7.4 -2.5l7.4 -1.6l7.3 -5.9l7.3 -1.4l7.2 0.6l7.2 -2.1l7.2 0.9l7.1 -5.7l14.2 -4l7 -5l7 0.3l7 -4.1l6.9 0.7l6.9 -2.6l6.9 -1.7l13.6 -11.6l6.8 -1.1l0.9 -53.2l-6.8 0.2l-13.6 16l-6.9 1l-6.9 2.5l-6.9 -2.9l-7 5.1l-7 -2.3l-7 6.5l-7.1 1.2l-7.1 1.9l-7.1 7.6l-7.2 -3.3l-7.2 1.7l-7.2 -2.8l-7.3 0.6l-7.3 8.1l-7.4 0.8l-7.4 2.4l-7.4 8.5l-7.5 -2l-15 6.9l-7.6 5.6l-7.6 -1.4l-15.4 3.5l-7.7 4.4l-7.8 2.3z" fill="url(#s9)" stroke="url(#s9)" stroke-width="0.6"/>
<path d="M187.4 506.1l18.2 -10.4l9 -6.5l17.9 -5.2l8.9 -14.6l8.8 -7.4l8.8 5.6l8.7 -3.2l8.7 -5.4l8.6 -7.6l8.6 -1l8.5 -6.7l8.5 -10.1l8.5 0.2l25.1 5.3l16.5 -15.6l8.2 0.6l8.1 -1.9l8.1 -3.3l8.1 0.6l16 -5.5l7.9 2.4l7.9 -7.2l7.9 -4.5l7.8 -0.5l0.1 -6.8l-7.8 0.3l-7.9 4.6l-7.9 7.4l-7.9 -2.7l-16 5.4l-8.1 -0.7l-8.1 3.3l-8.1 1.9l-8.2 -0.8l-16.5 16.1l-25.1 -6l-8.5 -0.4l-8.5 10.5l-8.5 6.9l-8.6 0.9l-8.6 7.8l-8.7 5.5l-8.7 3.2l-8.8 -6.1l-8.8 7.6l-8.9 15.1l-17.9 5.2l-9 6.6l-18.2 10.6z" fill="url(#s10)" stroke="url(#s10)" stroke-width="0.6"/>
<path d="M440.9 404.1l7.8 -2.3l7.7 -4.4l15.4 -3.5l7.6 1.4l7.6 -5.6l15 -6.9l7.5 2l7.4 -8.5l7.4 -2.4l7.4 -0.8l7.3 -8.1l7.3 -0.6l7.2 2.8l7.2 -1.7l7.2 3.3l7.1 -7.6l7.1 -1.9l7.1 -1.2l7 -6.5l7 2.3l7 -5.1l6.9 2.9l6.9 -2.5l6.9 -1l13.6 -16l6.8 -0.2l0.1 -6.4l-6.8 0.1l-6.8 7.7l-6.8 8.8l-6.9 1l-6.9 2.5l-6.9 -3.1l-7 5.2l-7 -2.5l-7 6.7l-7.1 1.1l-7.1 1.9l-7.1 7.9l-7.2 -3.6l-7.2 1.6l-7.2 -3.1l-7.3 0.5l-7.3 8.3l-7.4 0.7l-7.4 2.3l-7.4 8.7l-7.5 -2.2l-15 6.9l-7.6 5.7l-7.6 -1.6l-15.4 3.4l-7.7 4.4l-7.8 2.3z" fill="url(#s11)" stroke="url(#s11)" stroke-width="0.6"/>
<path d="M187.6 499.6l18.2 -10.6l9 -6.6l17.9 -5.2l8.9 -15.1l8.8 -7.6l8.8 6.1l8.7 -3.2l8.7 -5.5l8.6 -7.8l8.6 -0.9l8.5 -6.9l8.5 -10.5l8.5 0.4l25.1 6l16.5 -16.1l8.2 0.8l8.1 -1.9l8.1 -3.3l8.1 0.7l16 -5.4l7.9 2.7l7.9 -7.4l7.9 -4.6l7.8 -0.3l0.1 -4.4l-7.8 0.3l-7.9 4.7l-7.9 7.5l-7.9 -2.9l-16 5.4l-8.1 -0.8l-8.1 3.3l-8.1 1.9l-8.2 -0.9l-16.5 16.4l-25.1 -6.4l-8.5 -0.5l-8.5 10.7l-8.5 7l-8.6 0.8l-8.6 7.9l-8.7 5.6l-8.7 3.2l-8.8 -6.4l-8.8 7.8l-8.9 15.5l-17.9 5.1l-9 6.7l-18.2 10.7z" fill="url(#s12)" stroke="url(#s12)" stroke-width="0.6"/>
<path d="M441 397.4l7.8 -2.3l7.7 -4.4l15.4 -3.4l7.6 1.6l7.6 -5.7l15 -6.9l7.5 2.2l7.4 -8.7l7.4 -2.3l7.4 -0.7l7.3 -8.3l7.3 -0.5l7.2 3.1l7.2 -1.6l7.2 3.6l7.1 -7.9l7.1 -1.9l7.1 -1.1l7 -6.7l7 2.5l7 -5.2l6.9 3.1l6.9 -2.5l6.9 -1l6.8 -8.8l6.8 -7.7l6.8 -0.1l0.1 -4.1l-6.8 0l-6.8 7.8l-6.8 9l-6.9 0.9l-6.9 2.5l-6.9 -3.3l-7 5.3l-7 -2.7l-7 6.8l-7.1 1l-7.1 1.9l-7.1 8l-7.2 -3.8l-7.2 1.6l-7.2 -3.3l-7.3 0.4l-7.3 8.5l-7.4 0.7l-7.4 2.3l-7.4 8.9l-7.5 -2.3l-15 7l-7.6 5.8l-7.6 -1.8l-15.4 3.4l-7.7 4.5l-7.8 2.3z" fill="url(#s13)" stroke="url(#s13)" stroke-width="0.6"/>
<path d="M187.7 495.5l18.2 -10.7l9 -6.7l17.9 -5.1l8.9 -15.5l8.8 -7.8l8.8 6.4l8.7 -3.2l8.7 -5.6l8.6 -7.9l8.6 -0.8l8.5 -7l8.5 -10.7l8.5 0.5l25.1 6.4l16.5 -16.4l8.2 0.9l8.1 -1.9l8.1 -3.3l8.1 0.8l16 -5.4l7.9 2.9l7.9 -7.5l7.9 -4.7l7.8 -0.3l0.1 -1.5l-7.8 0.2l-7.9 4.7l-7.9 7.6l-7.9 -2.9l-16 5.4l-8.1 -0.9l-8.1 3.3l-8.1 1.8l-8.2 -0.9l-16.5 16.5l-25.1 -6.6l-8.5 -0.5l-8.5 10.8l-8.5 7l-8.6 0.8l-8.6 8l-8.7 5.6l-8.7 3.2l-8.8 -6.4l-8.8 7.8l-8.9 15.6l-17.9 5.1l-9 6.8l-18.2 10.7z" fill="url(#s14)" stroke="url(#s14)" stroke-width="0.6"/>
<path d="M441.2 393l7.8 -2.3l7.7 -4.5l15.4 -3.4l7.6 1.8l7.6 -5.8l15 -7l7.5 2.3l7.4 -8.9l7.4 -2.3l7.4 -0.7l7.3 -8.5l7.3 -0.4l7.2 3.3l7.2 -1.6l7.2 3.8l7.1 -8l7.1 -1.9l7.1 -1l7 -6.8l7 2.7l7 -5.3l6.9 3.3l6.9 -2.5l6.9 -0.9l6.8 -9l6.8 -7.8l6.8 0l0.1 -1.4l-6.8 0l-6.8 7.9l-6.8 9.1l-6.9 0.9l-6.9 2.5l-6.9 -3.4l-7 5.3l-7 -2.7l-7 6.9l-7.1 1l-7.1 1.9l-7.1 8.1l-7.2 -3.9l-7.2 1.6l-7.2 -3.3l-7.3 0.4l-7.3 8.5l-7.4 0.7l-7.4 2.3l-7.4 9l-7.5 -2.4l-15 7l-7.6 5.8l-7.6 -1.8l-15.4 3.3l-7.7 4.5l-7.8 2.2z" fill="url(#s15)" stroke="url(#s15)" stroke-width="0.6"/>
<path d="M146.2 625.9l17.8 6.1l9 2.4l7.2 -1.3l2.6 -5.3l1.4 -8.1l1.5 -24.4l2.3 -101.1M164.5 619.2l17.8 6.1l9 2.3l7.2 -1.5l2.6 -5.5l1.4 -8.3l1.5 -25.1l2.3 -103.8M182.5 612.6l17.8 6l8.9 2.3l7.2 -1.6l2.6 -5.6l1.4 -8.5l1.5 -25.6l2.3 -105.9M200.4 605.9l17.8 5.9l8.9 2.2l7.2 -1.9l2.5 -6.1l1.3 -9.1l1.5 -27.5l2.3 -113.5M218 599.5l17.7 5.9l8.9 2.2l7.2 -1.8l2.5 -5.9l1.3 -8.8l1.5 -26.6l2.3 -109.8M235.5 593l17.7 5.8l8.9 2.1l7.2 -1.9l2.5 -6l1.3 -9l1.5 -27l2.2 -111.4M252.8 586.7l17.7 5.7l8.9 2.1l7.1 -1.9l2.5 -6.1l1.3 -9.1l1.5 -27.4l2.2 -113M269.9 580.4l17.7 5.6l8.9 2l7.1 -2.3l2.5 -6.6l1.3 -9.8l1.5 -29.3l2.2 -120.9M286.8 574.2l17.6 5.6l8.9 2l7.1 -2.1l2.5 -6.2l1.3 -9.3l1.5 -27.8l2.2 -114.7M303.6 568.1l17.6 5.6l8.9 2l7.1 -1.8l2.5 -5.8l1.3 -8.6l1.5 -26l2.2 -107.2M320.1 562l17.6 5.5l8.9 2l7.1 -2.1l2.5 -6.2l1.3 -9.2l1.5 -27.7l2.2 -114.3M336.5 555.9l17.6 5.4l8.8 2l7.1 -2l2.5 -6l1.3 -8.9l1.5 -26.8l2.2 -110.7M352.8 550l17.5 5.4l8.8 2l7.1 -1.9l2.5 -5.9l1.3 -8.7l1.5 -26.2l2.2 -108.2M368.8 544.1l17.5 5.3l8.8 1.9l7.1 -1.9l2.5 -5.8l1.3 -8.7l1.5 -26.1l2.2 -107.8M384.7 538.2l17.5 5.3l8.8 1.9l7.1 -1.9l2.5 -5.8l1.3 -8.6l1.5 -25.9l2.2 -106.8M400.5 532.4l17.5 5.3l8.8 1.9l7.1 -1.9l2.5 -5.8l1.3 -8.6l1.5 -25.7l2.2 -106.1M416 526.7l17.4 5.2l8.8 1.9l7 -1.9l2.5 -5.8l1.3 -8.6l1.5 -25.9l2.2 -106.8M431.5 521l17.4 5.2l8.8 1.9l7 -1.9l2.5 -5.7l1.3 -8.5l1.5 -25.5l2.2 -105.1M446.7 515.4l17.4 5.1l8.7 1.8l7 -1.8l2.5 -5.6l1.3 -8.4l1.5 -25.2l2.2 -103.9M461.8 509.9l17.4 5.1l8.7 1.8l7 -1.9l2.5 -5.7l1.3 -8.5l1.5 -25.4l2.2 -104.8M476.8 504.4l17.3 5l8.7 1.8l7 -1.9l2.5 -5.8l1.3 -8.5l1.5 -25.6l2.2 -105.5M491.6 498.9l17.3 5l8.7 1.8l7 -1.9l2.5 -5.7l1.3 -8.4l1.5 -25.1l2.2 -103.7M506.3 493.6l17.3 4.9l8.7 1.7l7 -2l2.5 -5.8l1.3 -8.6l1.5 -25.7l2.2 -106.1M520.8 488.2l17.2 4.9l8.7 1.7l7 -1.8l2.5 -5.5l1.3 -8.2l1.5 -24.5l2.2 -101.1M535.2 482.9l17.2 4.8l8.7 1.7l7 -1.8l2.5 -5.5l1.3 -8.1l1.5 -24.3l2.2 -100.2M549.5 477.7l17.2 4.8l8.6 1.7l6.9 -1.8l2.5 -5.4l1.3 -8l1.5 -23.9l2.2 -98.5M563.6 472.5l17.2 4.8l8.6 1.7l6.9 -1.8l2.5 -5.3l1.3 -7.9l1.4 -23.7l2.2 -97.8M577.5 467.4l17.1 4.7l8.6 1.7l6.9 -1.7l2.5 -5.2l1.3 -7.7l1.4 -23.1l2.2 -95.5M591.4 462.2l17.1 4.7l8.6 1.7l6.9 -1.7l2.4 -5.1l1.3 -7.6l1.4 -22.8l2.2 -94.2M605.1 457.3l17.1 4.6l8.6 1.6l6.9 -2l2.4 -5.6l1.3 -8.3l1.4 -24.9l2.2 -102.5M152.1 628l465.4 -171.6M161.1 631l465 -172.4M170 633.7l464.6 -173.2M179 633.9l123.4 -47l33.6 -12l307.3 -114.9" fill="none" stroke="#b4b4b4" stroke-opacity="0.8" stroke-width="1"/>
<path d="M185.2 604.9l463.7 -169.6M186.6 558l463.7 -163.1M187.3 511l463.6 -156.5M311 423.9l8.6 -2.7" fill="none" stroke="#3a3a3a" stroke-opacity="0.85" stroke-width="1.1"/>
<path d="M187.9 494.1l18.2 -10.7l9 -6.8l17.9 -5.1l8.9 -15.6l8.8 -7.8l8.8 6.4l8.7 -3.2l8.7 -5.6l8.6 -8l8.6 -0.8l8.5 -7l8.5 -10.8l8.5 0.5l25.1 6.6l16.5 -16.5l8.2 0.9l8.1 -1.8l8.1 -3.3l8.1 0.9l16 -5.4l7.9 2.9l7.9 -7.6l7.9 -4.7l7.8 -0.2l0.1 1.6l-7.8 0.3l-7.9 4.7l-7.9 7.5l-7.9 -2.9l-16 5.4l-8.1 -0.8l-8.1 3.3l-8.1 1.9l-8.2 -0.9l-16.5 16.4l-25.1 -6.4l-8.5 -0.5l-8.5 10.7l-8.5 7l-8.6 0.8l-8.6 7.9l-8.7 5.6l-8.7 3.2l-8.8 -6.4l-8.8 7.8l-8.9 15.5l-17.9 5.1l-9 6.7l-18.2 10.7z" fill="url(#s16)" stroke="url(#s16)" stroke-width="0.6"/>
<path d="M441.3 391.5l7.8 -2.2l7.7 -4.5l15.4 -3.3l7.6 1.8l7.6 -5.8l15 -7l7.5 2.4l7.4 -9l7.4 -2.3l7.4 -0.7l7.3 -8.5l7.3 -0.4l7.2 3.3l7.2 -1.6l7.2 3.9l7.1 -8.1l7.1 -1.9l7.1 -1l7 -6.9l7 2.7l7 -5.3l6.9 3.4l6.9 -2.5l6.9 -0.9l6.8 -9.1l6.8 -7.9l6.8 0l0.1 1.5l-6.8 0l-6.8 7.8l-6.8 9l-6.9 0.9l-6.9 2.5l-6.9 -3.3l-7 5.3l-7 -2.7l-7 6.8l-7.1 1l-7.1 1.9l-7.1 8l-7.2 -3.8l-7.2 1.6l-7.2 -3.3l-7.3 0.4l-7.3 8.5l-7.4 0.7l-7.4 2.3l-7.4 8.9l-7.5 -2.3l-15 7l-7.6 5.8l-7.6 -1.8l-15.4 3.4l-7.7 4.5l-7.8 2.3z" fill="url(#s17)" stroke="url(#s17)" stroke-width="0.6"/>
<path d="M188 495.6l18.2 -10.7l9 -6.7l17.9 -5.1l8.9 -15.5l8.8 -7.8l8.8 6.4l8.7 -3.2l8.7 -5.6l8.6 -7.9l8.6 -0.8l8.5 -7l8.5 -10.7l8.5 0.5l25.1 6.4l16.5 -16.4l8.2 0.9l8.1 -1.9l8.1 -3.3l8.1 0.8l16 -5.4l7.9 2.9l7.9 -7.5l7.9 -4.7l7.8 -0.3l0.1 4.4l-7.8 0.3l-7.9 4.6l-7.9 7.4l-7.9 -2.7l-16 5.4l-8.1 -0.7l-8.1 3.3l-8.1 1.9l-8.2 -0.8l-16.5 16.1l-25.1 -6l-8.5 -0.4l-8.5 10.5l-8.5 6.9l-8.6 0.9l-8.6 7.8l-8.7 5.5l-8.7 3.2l-8.8 -6.1l-8.8 7.6l-8.9 15.1l-17.9 5.2l-9 6.6l-18.2 10.6z" fill="url(#s18)" stroke="url(#s18)" stroke-width="0.6"/>
<path d="M441.4 393.1l7.8 -2.3l7.7 -4.5l15.4 -3.4l7.6 1.8l7.6 -5.8l15 -7l7.5 2.3l7.4 -8.9l7.4 -2.3l7.4 -0.7l7.3 -8.5l7.3 -0.4l7.2 3.3l7.2 -1.6l7.2 3.8l7.1 -8l7.1 -1.9l7.1 -1l7 -6.8l7 2.7l7 -5.3l6.9 3.3l6.9 -2.5l6.9 -0.9l6.8 -9l6.8 -7.8l6.8 0l0.1 4.2l-6.8 0.1l-6.8 7.7l-6.8 8.8l-6.9 1l-6.9 2.5l-6.9 -3.1l-7 5.2l-7 -2.5l-7 6.7l-7.1 1.1l-7.1 1.9l-7.1 7.9l-7.2 -3.6l-7.2 1.6l-7.2 -3.1l-7.3 0.5l-7.3 8.3l-7.4 0.7l-7.4 2.3l-7.4 8.7l-7.5 -2.2l-15 6.9l-7.6 5.7l-7.6 -1.6l-15.4 3.4l-7.7 4.4l-7.8 2.3z" fill="url(#s19)" stroke="url(#s19)" stroke-width="0.6"/>
<path d="M188.2 499.8l18.2 -10.6l9 -6.6l17.9 -5.2l8.9 -15.1l8.8 -7.6l8.8 6.1l8.7 -3.2l8.7 -5.5l8.6 -7.8l8.6 -0.9l8.5 -6.9l8.5 -10.5l8.5 0.4l25.1 6l16.5 -16.1l8.2 0.8l8.1 -1.9l8.1 -3.3l8.1 0.7l16 -5.4l7.9 2.7l7.9 -7.4l7.9 -4.6l7.8 -0.3l0.3 15.4l-7.8 0.6l-7.9 4.4l-7.9 6.9l-7.9 -2.1l-16 5.5l-8.1 -0.3l-8.1 3.3l-8.1 2l-8.2 -0.4l-16.5 15.1l-25.1 -4.4l-8.5 0l-8.5 9.7l-8.5 6.5l-8.6 1.1l-8.6 7.3l-8.7 5.3l-8.7 3.2l-8.8 -5.1l-8.8 7.2l-8.9 13.9l-17.9 5.3l-9 6.3l-18.2 10.2z" fill="url(#s20)" stroke="url(#s20)" stroke-width="0.6"/>
<path d="M441.6 397.5l7.8 -2.3l7.7 -4.4l15.4 -3.4l7.6 1.6l7.6 -5.7l15 -6.9l7.5 2.2l7.4 -8.7l7.4 -2.3l7.4 -0.7l7.3 -8.3l7.3 -0.5l7.2 3.1l7.2 -1.6l7.2 3.6l7.1 -7.9l7.1 -1.9l7.1 -1.1l7 -6.7l7 2.5l7 -5.2l6.9 3.1l6.9 -2.5l6.9 -1l6.8 -8.8l6.8 -7.7l6.8 -0.1l0.3 14.6l-6.8 0.4l-13.6 15.4l-6.9 1.1l-6.9 2.5l-6.9 -2.5l-7 5l-7 -2l-7 6.3l-14.2 3.2l-7.1 7.3l-7.2 -3l-7.2 1.7l-7.2 -2.5l-7.3 0.7l-7.3 7.7l-7.4 0.9l-7.4 2.4l-7.4 8.1l-7.5 -1.7l-15 6.8l-7.6 5.4l-7.6 -1.2l-15.4 3.7l-7.7 4.3l-7.8 2.3z" fill="url(#s21)" stroke="url(#s21)" stroke-width="0.6"/>
<path d="M188.5 514.5l18.2 -10.2l9 -6.3l17.9 -5.3l8.9 -13.9l8.8 -7.2l8.8 5.1l8.7 -3.2l8.7 -5.3l8.6 -7.3l8.6 -1.1l8.5 -6.5l8.5 -9.7l8.5 0l25.1 4.4l16.5 -15.1l8.2 0.4l8.1 -2l8.1 -3.3l8.1 0.3l16 -5.5l7.9 2.1l7.9 -6.9l7.9 -4.4l7.8 -0.6l0.7 48l-7.8 1.5l-7.9 3.9l-7.9 5.5l-7.9 -0.3l-16 5.7l-8.1 0.8l-8.1 3.2l-8.1 2.4l-8.2 0.8l-16.5 11.9l-25.1 0.6l-8.5 1.1l-8.5 7.4l-8.5 5.3l-8.6 1.9l-8.6 5.8l-8.7 4.6l-8.7 3.2l-8.8 -2.1l-8.8 5.8l-8.9 10.2l-17.9 5.8l-9 5.2l-18.2 9z" fill="url(#s22)" stroke="url(#s22)" stroke-width="0.6"/>
<path d="M441.9 412.9l7.8 -2.3l7.7 -4.3l15.4 -3.7l7.6 1.2l7.6 -5.4l15 -6.8l7.5 1.7l7.4 -8.1l7.4 -2.4l7.4 -0.9l7.3 -7.7l7.3 -0.7l7.2 2.5l7.2 -1.7l7.2 3l7.1 -7.3l14.2 -3.2l7 -6.3l7 2l7 -5l6.9 2.5l6.9 -2.5l6.9 -1.1l13.6 -15.4l6.8 -0.4l0.7 45.5l-6.8 1.1l-13.6 11.7l-6.9 1.7l-6.9 2.6l-6.9 -0.7l-7 4.1l-7 -0.3l-7 5l-14.2 4l-7.1 5.7l-7.2 -0.9l-7.2 2.1l-7.2 -0.6l-7.3 1.4l-7.3 5.9l-7.4 1.6l-7.4 2.5l-7.4 6.2l-7.5 -0.1l-15 6.4l-7.6 4.5l-7.6 0.3l-15.4 4.5l-7.7 3.8l-7.8 2.5z" fill="url(#s23)" stroke="url(#s23)" stroke-width="0.6"/>
<path d="M189.2 560.4l18.2 -9l9 -5.2l17.9 -5.8l8.9 -10.2l8.8 -5.8l8.8 2.1l8.7 -3.2l8.7 -4.6l8.6 -5.8l8.6 -1.9l8.5 -5.3l8.5 -7.4l8.5 -1.1l25.1 -0.6l16.5 -11.9l8.2 -0.8l8.1 -2.4l8.1 -3.2l8.1 -0.8l16 -5.7l7.9 0.3l7.9 -5.5l7.9 -3.9l7.8 -1.5l0.4 22.1l-7.8 1.9l-7.9 3.7l-7.9 4.9l-7.9 0.6l-16 5.8l-8.1 1.4l-16.3 5.8l-8.2 1.4l-16.5 10.4l-25.1 2.9l-8.5 1.7l-8.5 6.3l-8.5 4.8l-8.6 2.2l-8.6 5.2l-8.7 4.3l-8.7 3.2l-8.8 -0.7l-8.8 5.2l-8.9 8.4l-17.9 6.1l-27.2 13.2z" fill="url(#s24)" stroke="url(#s24)" stroke-width="0.6"/>
<path d="M442.6 460.9l7.8 -2.5l7.7 -3.8l15.4 -4.5l7.6 -0.3l7.6 -4.5l15 -6.4l7.5 0.1l7.4 -6.2l7.4 -2.5l7.4 -1.6l7.3 -5.9l7.3 -1.4l7.2 0.6l7.2 -2.1l7.2 0.9l7.1 -5.7l14.2 -4l7 -5l7 0.3l7 -4.1l6.9 0.7l6.9 -2.6l6.9 -1.7l13.6 -11.7l6.8 -1.1l0.4 21l-6.8 1.5l-13.6 10l-13.8 4.5l-6.9 0.1l-7 3.7l-7 0.4l-7 4.4l-14.2 4.3l-7.1 4.9l-7.2 0l-7.2 2.3l-7.2 0.2l-7.3 1.8l-7.3 5.1l-14.7 4.5l-7.4 5.4l-7.5 0.7l-15 6.2l-7.6 4.1l-7.6 0.9l-15.4 4.8l-7.7 3.6l-7.8 2.6z" fill="url(#s25)" stroke="url(#s25)" stroke-width="0.6"/>
<path d="M189.7 581.5l27.2 -13.2l17.9 -6.1l8.9 -8.4l8.8 -5.2l8.8 0.7l8.7 -3.2l8.7 -4.3l8.6 -5.2l8.6 -2.2l8.5 -4.8l8.5 -6.3l8.5 -1.7l25.1 -2.9l16.5 -10.4l8.2 -1.4l16.3 -5.8l8.1 -1.4l16 -5.8l7.9 -0.6l7.9 -4.9l7.9 -3.7l7.8 -1.9l7.8 -2.6l7.7 -3.6l15.4 -4.8l7.6 -0.9l7.6 -4.1l15 -6.2l7.5 -0.7l7.4 -5.4l14.7 -4.5l7.3 -5.1l7.3 -1.8l7.2 -0.2l7.2 -2.3l7.2 0l7.1 -4.9l14.2 -4.3l7 -4.4l7 -0.4l7 -3.7l6.9 -0.1l13.8 -4.5l13.6 -10l6.8 -1.5l0.4 15.1l-6.8 1.8l-13.6 8.7l-13.8 4.7l-6.9 0.8l-7 3.5l-7 1l-7 4l-14.2 4.6l-7.1 4.4l-7.2 0.7l-7.2 2.4l-7.2 0.9l-7.3 2l-7.3 4.5l-14.7 4.8l-7.4 4.8l-7.5 1.2l-15 6.1l-7.6 3.8l-7.6 1.4l-15.4 5.1l-15.5 6.1l-7.8 2.2l-7.9 3.5l-7.9 4.4l-7.9 1.2l-16 5.8l-8.1 1.8l-16.3 5.9l-8.2 1.8l-16.5 9.4l-25.1 4.5l-8.5 2l-8.5 5.5l-8.5 4.4l-8.6 2.5l-17.3 8.7l-8.7 3.3l-8.8 0.3l-8.8 4.8l-8.9 7.2l-17.9 6.2l-27.2 12.5z" fill="url(#s26)" stroke="url(#s26)" stroke-width="0.6"/>
<path d="M190.1 596.7l27.2 -12.5l17.9 -6.2l8.9 -7.2l8.8 -4.8l8.8 -0.3l8.7 -3.3l17.3 -8.7l8.6 -2.5l8.5 -4.4l8.5 -5.5l8.5 -2l25.1 -4.5l16.5 -9.4l8.2 -1.8l16.3 -5.9l8.1 -1.8l16 -5.8l7.9 -1.2l7.9 -4.4l7.9 -3.5l7.8 -2.2l15.5 -6.1l15.4 -5.1l7.6 -1.4l7.6 -3.8l15 -6.1l7.5 -1.2l7.4 -4.8l14.7 -4.8l7.3 -4.5l7.3 -2l7.2 -0.9l7.2 -2.4l7.2 -0.7l7.1 -4.4l14.2 -4.6l7 -4l7 -1l7 -3.5l6.9 -0.8l13.8 -4.7l13.6 -8.7l6.8 -1.8l0.6 13.5l-6.8 2l-13.6 7.7l-13.8 4.9l-6.9 1.3l-7 3.2l-7 1.5l-7 3.6l-14.2 4.8l-7.1 3.9l-7.2 1.3l-7.2 2.5l-7.2 1.4l-7.3 2.2l-7.3 4l-14.7 5l-7.4 4.2l-7.5 1.6l-22.6 9.5l-7.6 1.8l-38.7 13.7l-15.8 7.3l-7.9 1.7l-40.3 14l-8.2 2.2l-16.5 8.5l-33.5 8.4l-8.5 4.8l-8.5 4.1l-8.6 2.7l-17.3 8.1l-8.7 3.3l-8.8 1.1l-8.8 4.4l-8.9 6.1l-17.9 6.4l-27.2 11.8z" fill="url(#s27)" stroke="url(#s27)" stroke-width="0.6"/>
<path d="M190.8 610.3l27.2 -11.8l17.9 -6.4l8.9 -6.1l8.8 -4.4l8.8 -1.1l8.7 -3.3l17.3 -8.1l8.6 -2.7l8.5 -4.1l8.5 -4.8l33.5 -8.4l16.5 -8.5l8.2 -2.2l40.3 -14l7.9 -1.7l15.8 -7.3l38.7 -13.7l7.6 -1.8l22.6 -9.5l7.5 -1.6l7.4 -4.2l14.7 -5l7.3 -4l7.3 -2.2l7.2 -1.4l7.2 -2.5l7.2 -1.3l7.1 -3.9l14.2 -4.8l7 -3.6l7 -1.5l7 -3.2l6.9 -1.3l13.8 -4.9l13.6 -7.7l6.8 -2l0.9 11.8l-6.8 2.2l-13.6 6.7l-13.8 5l-6.9 1.8l-7 3l-7 1.9l-7 3.2l-14.2 5l-7.1 3.4l-28.9 8.7l-7.3 3.5l-14.7 5.2l-7.4 3.7l-7.5 2.1l-22.6 9.1l-7.6 2.2l-38.7 14.1l-15.7 6.8l-7.9 2.2l-40.3 14.5l-8.2 2.5l-16.5 7.6l-33.5 9.9l-17 8l-8.6 2.9l-17.3 7.5l-8.7 3.3l-8.8 1.9l-8.8 4l-8.9 5.1l-17.9 6.5l-27.2 11.2z" fill="url(#s28)" stroke="url(#s28)" stroke-width="0.6"/>
<path d="M191.7 622.3l27.2 -11.2l17.9 -6.5l8.9 -5.1l8.8 -4l8.8 -1.9l8.7 -3.3l17.3 -7.5l8.6 -2.9l17 -8l33.5 -9.9l16.5 -7.6l8.2 -2.5l40.3 -14.5l7.9 -2.2l15.7 -6.8l38.7 -14.1l7.6 -2.2l22.6 -9.1l7.5 -2.1l7.4 -3.7l14.7 -5.2l7.3 -3.5l28.9 -8.7l7.1 -3.4l14.2 -5l7 -3.2l7 -1.9l7 -3l6.9 -1.8l13.8 -5l13.6 -6.7l6.8 -2.2l1.4 9.6l-6.8 2.4l-13.6 6l-34.7 12.4l-28.3 11.2l-28.9 9.8l-29.5 11.9l-76.4 28.1l-15.7 6.4l-56.4 20.1l-16.5 7l-33.5 11.2l-43 17.5l-8.7 3.3l-8.8 2.5l-17.7 8.1l-45.1 17.4z" fill="url(#s29)" stroke="url(#s29)" stroke-width="0.6"/>
<path d="M193.2 632l45.1 -17.4l17.7 -8.1l8.8 -2.5l8.7 -3.3l43 -17.5l33.5 -11.2l16.5 -7l56.4 -20.1l15.7 -6.4l76.4 -28.1l29.5 -11.9l28.9 -9.8l28.3 -11.2l34.7 -12.4l13.6 -6l6.8 -2.4l2.9 7.2l-306.7 115.8l-33.5 12.1l-123.3 47.6z" fill="url(#s30)" stroke="url(#s30)" stroke-width="0.6"/>
<path d="M196.2 639.5l123.3 -47.6l33.5 -12.1l306.7 -115.8l8.7 6l-463.1 176.2z" fill="#881f98" stroke="#881f98" stroke-width="0.6"/>
<path d="M205.3 646.4l463.1 -176.2l0.9 0.3l-463 176.3z" fill="#891e98" stroke="#891e98" stroke-width="0.6"/>
<path d="M187.9 494.1l1.8 87.4l1.1 28.8l0.9 12l1.5 9.8l3 7.5l10 7.3M206.1 483.4l1.8 89.7l1.1 29.5l0.9 12.3l1.5 10l3 7.7l10 7.3M224.1 473.7l1.8 91.4l1.1 30.1l0.9 12.5l1.5 10.2l3 7.8l10 7.4M241.9 455.9l1.8 97.9l1.1 32.2l0.9 13.4l1.5 10.9l3 8.2l10 7.6M259.5 454.5l1.8 94.8l1.1 31.2l0.9 12.9l1.5 10.5l3 8l10 7.4M276.9 445.7l1.8 96.1l1.1 31.6l0.9 13.1l1.5 10.6l3 8.1l10 7.5M294.2 437l1.8 97.5l1 32.1l0.9 13.3l1.5 10.8l3 8.2l9.9 7.5M311.2 419.2l1.8 104.2l1 34.3l0.9 14.2l1.5 11.5l3 8.7l9.9 7.8M328.1 421.8l1.8 98.9l1 32.5l0.9 13.5l1.5 10.9l3 8.3l9.9 7.5M344.8 426.3l1.8 92.5l1 30.4l0.9 12.6l1.5 10.3l3 7.8l9.9 7.2M361.3 409.8l1.8 98.6l1 32.4l0.9 13.4l1.5 10.9l3 8.2l9.9 7.4M377.6 408.9l1.8 95.5l1 31.4l0.9 13l1.5 10.6l3 8l9.9 7.2M393.8 406.5l1.8 93.3l1 30.7l0.9 12.7l1.5 10.3l3 7.8l9.9 7.1M409.8 401.1l1.8 92.9l1 30.6l0.9 12.7l1.5 10.3l3 7.8l9.8 7.1M425.6 396.4l1.8 92.1l1 30.3l0.9 12.6l1.5 10.2l3 7.7l9.8 7M441.3 391.5l1.8 91.5l1 30.1l0.9 12.5l1.5 10.1l3 7.7l9.8 7M456.8 384.8l1.8 92.1l1 30.3l0.9 12.6l1.5 10.2l3 7.7l9.8 7M472.2 381.4l1.8 90.6l1 29.8l0.9 12.4l1.5 10l3 7.6l9.8 6.9M487.4 377.4l1.8 89.6l1 29.5l0.9 12.2l1.5 9.9l2.9 7.5l9.8 6.8M502.4 370.5l1.8 90.4l1 29.7l0.9 12.3l1.5 10l2.9 7.5l9.7 6.8M517.3 363.9l1.8 90.9l1 29.9l0.9 12.4l1.5 10l2.9 7.6l9.7 6.8M532.1 360.9l1.8 89.4l1 29.4l0.9 12.2l1.5 9.9l2.9 7.5l9.7 6.7M546.7 352l1.8 91.4l1 30.1l0.9 12.5l1.5 10.1l2.9 7.6l9.7 6.8M561.1 353.8l1.7 87.1l1 28.7l0.9 11.9l1.5 9.6l2.9 7.3l9.7 6.6M575.4 349.6l1.7 86.4l1 28.4l0.9 11.8l1.5 9.5l2.9 7.2l9.7 6.5M589.6 346.7l1.7 85l1 27.9l0.9 11.6l1.5 9.4l2.9 7.1l9.6 6.4M603.7 342.5l1.7 84.3l1 27.7l0.9 11.5l1.5 9.3l2.9 7l9.6 6.4M617.6 340.6l1.7 82.4l1 27.1l0.9 11.2l1.5 9.1l2.9 6.9l9.6 6.3M631.3 337.1l1.7 81.3l1 26.7l0.9 11.1l1.4 9l2.9 6.8l9.6 6.2M645 320.2l1.7 88.3l1 29l0.9 12l1.4 9.7l2.9 7.3l9.6 6.5M188 495.6l18.2 -10.7l9 -6.7l9 -2.9l8.9 -2.2l8.9 -15.5l8.8 -7.8l8.8 6.4l8.7 -3.2l8.7 -5.6l8.6 -7.9l8.6 -0.8l8.5 -7l8.5 -10.7l8.5 0.5l25.1 6.4l8.3 -7.8l8.2 -8.6l8.2 0.9l8.1 -1.9l8.1 -3.3l8.1 0.8l16 -5.4l7.9 2.9l7.9 -7.5l7.9 -4.7l7.8 -0.3l7.8 -2.3l7.7 -4.5l15.4 -3.4l7.6 1.8l7.6 -5.8l15 -7l7.5 2.3l7.4 -8.9l7.4 -2.3l7.4 -0.7l7.3 -8.5l7.3 -0.4l7.2 3.3l7.2 -1.6l7.2 3.8l7.1 -8l7.1 -1.9l7.1 -1l7 -6.8l7 2.7l7 -5.3l6.9 3.3l6.9 -2.5l6.9 -0.9l6.8 -9l6.8 -7.8l6.8 0M197.1 640.7l123.2 -47.4l33.5 -12.2l306.7 -115.9M206.2 646.8l463 -176.3" fill="none" stroke="#b4b4b4" stroke-opacity="0.8" stroke-width="1"/>
<path d="M190.6 606.7l464 -169.9M189.2 558.9l464 -163.2M188.4 511.3l464.1 -156.4M311.5 424.1l8.4 -2.8" fill="none" stroke="#3a3a3a" stroke-opacity="0.85" stroke-width="1.1"/>
<path d="M206.2 646.8l463 -176.3l7.9 2.4l-462.6 177z" fill="#891e98" stroke="#891e98" stroke-width="0.6"/>
<path d="M214.4 649.9l462.6 -177l6.1 -0.7l-20.3 7.3l-13.7 5.8l-41.9 15.6l-57.9 22.3l-7.4 3.3l-68.3 25.5l-7.8 3.5l-23.6 9.1l-24 8.6l-16.2 6.9l-16.4 5.7l-24.9 10.1l-51 18.9l-8.7 3.8l-17.5 6.1l-17.7 7.7l-45 16.7z" fill="#881f98" stroke="#881f98" stroke-width="0.6"/>
<path d="M220.9 649.1l45 -16.7l17.7 -7.7l17.5 -6.1l8.7 -3.8l51 -18.9l24.9 -10.1l16.4 -5.7l16.2 -6.9l24 -8.6l23.6 -9.1l7.8 -3.5l68.3 -25.5l7.4 -3.3l57.9 -22.3l41.9 -15.6l13.7 -5.8l20.3 -7.3l2 -2.6l-20.3 6.8l-13.7 6.3l-41.9 15.2l-35.9 14.6l-22 7.8l-7.4 3.7l-14.9 4.8l-15.1 6.1l-15.2 5.2l-15.4 6.5l-7.7 2.3l-7.8 4l-23.6 9l-15.9 5.8l-8 2.3l-16.2 7.6l-16.4 5.1l-16.5 6.6l-8.3 3.9l-42.4 15.6l-8.6 2.6l-8.7 4.3l-17.5 5.6l-17.7 8.4l-45 16.2z" fill="#872199" stroke="#872199" stroke-width="0.6"/>
<path d="M223 646l45 -16.2l17.7 -8.4l17.5 -5.6l8.7 -4.3l8.6 -2.6l42.4 -15.6l8.3 -3.9l16.5 -6.6l16.4 -5.1l16.2 -7.6l8 -2.3l15.9 -5.8l23.6 -9l7.8 -4l7.7 -2.3l15.4 -6.5l15.2 -5.2l15.1 -6.1l14.9 -4.8l7.4 -3.7l22 -7.8l35.9 -14.6l41.9 -15.2l13.7 -6.3l20.3 -6.8l2.9 4.7l-20.3 7.4l-120.9 47.1l-68.3 25.7l-31.4 12.5l-24 8.7l-16.2 6.8l-16.4 5.8l-24.9 10l-77.1 29l-17.7 7.5l-45 16.9z" fill="#872199" stroke="#872199" stroke-width="0.6"/>
<path d="M226.1 651.9l45 -16.9l17.7 -7.5l77.1 -29l24.9 -10l16.4 -5.8l16.2 -6.8l24 -8.7l31.4 -12.5l68.3 -25.7l120.9 -47.1l20.3 -7.4l8.1 0.6l-20.3 7.2l-13.7 6l-41.9 15.6l-35.9 14.4l-21.9 8.1l-7.4 3.5l-14.9 5.1l-45.6 17.9l-7.7 2.5l-7.8 3.7l-23.6 9.1l-24 8.5l-16.2 7.2l-16.4 5.5l-24.9 10.3l-51 18.7l-8.7 4l-17.5 6l-17.6 8l-45 16.6z" fill="#882098" stroke="#882098" stroke-width="0.6"/>
<path d="M234.6 652.8l45 -16.6l17.6 -8l17.5 -6l8.7 -4l51 -18.7l24.9 -10.3l16.4 -5.5l16.2 -7.2l24 -8.5l23.6 -9.1l7.8 -3.7l7.7 -2.5l45.6 -17.9l14.9 -5.1l7.4 -3.5l21.9 -8.1l35.9 -14.4l41.9 -15.6l13.7 -6l20.3 -7.2l3.1 -4.5l-6.7 2.5l-13.5 3.9l-6.8 3.8l-6.9 3l-41.9 14.9l-14.2 6.4l-21.6 8.6l-7.3 2.1l-14.7 5.5l-7.4 4.2l-14.9 4.4l-15 6.3l-7.6 2l-7.6 3l-15.4 6.9l-7.7 2l-7.8 4.5l-7.8 2.5l-15.8 6.6l-15.9 5.7l-8 1.9l-16.2 8.3l-16.4 4.5l-8.2 3.9l-8.3 2.8l-8.3 4.3l-8.4 2.6l-34 12.7l-8.6 2.3l-8.7 4.8l-17.4 5.1l-17.6 9.2l-8.9 3.4l-17.9 5.5l-9 3.9l-9.1 2.9z" fill="url(#s31)" stroke="url(#s31)" stroke-width="0.6"/>
<path d="M237.8 647.3l9.1 -2.9l9 -3.9l17.9 -5.5l8.9 -3.4l17.6 -9.2l17.4 -5.1l8.7 -4.8l8.6 -2.3l34 -12.7l8.4 -2.6l8.3 -4.3l8.3 -2.8l8.2 -3.9l16.4 -4.5l16.2 -8.3l8 -1.9l15.9 -5.7l15.8 -6.6l7.8 -2.5l7.8 -4.5l7.7 -2l15.4 -6.9l7.6 -3l7.6 -2l15 -6.3l14.9 -4.4l7.4 -4.2l14.7 -5.5l7.3 -2.1l21.6 -8.6l14.2 -6.4l41.9 -14.9l6.9 -3l6.8 -3.8l13.5 -3.9l6.7 -2.5l1.8 -8.1l-6.7 2.4l-13.5 2.7l-6.8 4.8l-6.9 3.2l-20.8 6.6l-14 5.4l-7.1 1.8l-7.1 2.9l-7.1 4.3l-14.4 5.4l-7.2 3.5l-7.3 1.4l-14.7 5.4l-7.4 5.3l-14.9 3.1l-15 6.7l-7.6 1.1l-7.6 3l-7.7 4.3l-7.7 3.3l-7.7 1.1l-7.8 5.7l-7.8 2.1l-15.8 7l-15.9 5.2l-8 0.9l-16.2 10l-16.3 3l-8.2 4.5l-8.3 2.5l-8.3 5.3l-8.4 2l-34 12.4l-8.6 1.5l-8.7 6l-8.7 2.5l-8.7 1.2l-17.6 11.2l-8.9 3.3l-17.9 4.3l-9 4.3l-9.1 2.3z" fill="url(#s32)" stroke="url(#s32)" stroke-width="0.6"/>
<path d="M239.7 637.2l9.1 -2.3l9 -4.3l17.9 -4.3l8.9 -3.3l17.6 -11.2l8.7 -1.2l8.7 -2.5l8.7 -6l8.6 -1.5l34 -12.4l8.4 -2l8.3 -5.3l8.3 -2.5l8.2 -4.5l16.3 -3l16.2 -10l8 -0.9l15.9 -5.2l15.8 -7l7.8 -2.1l7.8 -5.7l7.7 -1.1l7.7 -3.3l7.7 -4.3l7.6 -3l7.6 -1.1l15 -6.7l14.9 -3.1l7.4 -5.3l14.7 -5.4l7.3 -1.4l7.2 -3.5l14.4 -5.4l7.1 -4.3l7.1 -2.9l7.1 -1.8l14 -5.4l20.8 -6.6l6.9 -3.2l6.8 -4.8l13.5 -2.7l6.7 -2.4l1.6 -9.3l-6.7 2.4l-13.5 1.3l-6.8 6l-6.9 3.5l-20.8 5.8l-14 5.3l-7.1 1.4l-7.1 3l-7.1 5.1l-7.2 3.2l-7.2 2.1l-7.2 3.8l-7.3 0.7l-7.3 2l-7.3 3.1l-7.4 6.5l-7.4 0.4l-7.5 1.4l-15 7.2l-7.6 0.2l-7.6 3l-7.7 5l-7.7 3.5l-7.7 0.1l-7.8 7.2l-7.8 1.6l-7.9 4.2l-7.9 3.2l-15.9 4.7l-8 -0.3l-16.2 11.9l-16.3 1.2l-8.2 5.2l-8.3 2.2l-8.3 6.3l-8.4 1.3l-16.9 5.5l-17.1 6.5l-8.6 0.5l-8.7 7.3l-8.7 2l-8.7 0l-17.6 13.5l-8.9 3.2l-17.9 3l-9 4.7l-9.1 1.7z" fill="url(#s33)" stroke="url(#s33)" stroke-width="0.6"/>
<path d="M241.4 625.7l9.1 -1.7l9 -4.7l17.9 -3l8.9 -3.2l17.6 -13.5l8.7 0l8.7 -2l8.7 -7.3l8.6 -0.5l17.1 -6.5l16.9 -5.5l8.4 -1.3l8.3 -6.3l8.3 -2.2l8.2 -5.2l16.3 -1.2l16.2 -11.9l8 0.3l15.9 -4.7l7.9 -3.2l7.9 -4.2l7.8 -1.6l7.8 -7.2l7.7 -0.1l7.7 -3.5l7.7 -5l7.6 -3l7.6 -0.2l15 -7.2l7.5 -1.4l7.4 -0.4l7.4 -6.5l7.3 -3.1l7.3 -2l7.3 -0.7l7.2 -3.8l7.2 -2.1l7.2 -3.2l7.1 -5.1l7.1 -3l7.1 -1.4l14 -5.3l20.8 -5.8l6.9 -3.5l6.8 -6l13.5 -1.3l6.7 -2.4l0.3 -0.3l-6.7 2.4l-13.5 1.3l-6.8 6l-6.9 3.5l-20.8 5.8l-14 5.3l-7.1 1.4l-7.1 3l-7.1 5.1l-7.2 3.2l-7.2 2.1l-7.2 3.9l-7.3 0.7l-7.3 2l-7.3 3.2l-7.4 6.6l-7.4 0.3l-7.5 1.4l-15 7.2l-7.6 0.2l-7.6 3l-7.7 5l-7.7 3.5l-7.7 0.1l-7.8 7.2l-7.8 1.6l-7.9 4.2l-7.9 3.2l-15.9 4.7l-8 -0.3l-16.2 12l-16.3 1.1l-8.2 5.2l-8.3 2.1l-8.3 6.3l-8.4 1.3l-16.9 5.5l-17.1 6.5l-8.6 0.4l-8.7 7.4l-8.7 2l-8.7 -0.1l-17.6 13.6l-8.9 3.2l-17.9 2.9l-9 4.7l-9.1 1.7z" fill="url(#s34)" stroke="url(#s34)" stroke-width="0.6"/>
<path d="M206.2 646.8l8.2 3.1l6.4 -0.7l2.1 -3.2l3.1 6l8.5 0.9l3.2 -5.5l3.9 -22M224.4 639.9l8.2 3.1l6.4 -0.7l2.1 -3.1l3.1 5.9l8.5 0.9l3.2 -5.4l3.9 -21.6M242.4 633.1l8.2 3.1l6.4 -0.3l2.1 -2.7l3.1 5.3l8.4 1.1l3.2 -4.6l3.9 -18.9M260.2 626.1l8.2 3.1l6.4 -0.6l2.1 -3.1l3.1 5.7l8.4 0.9l3.2 -5.3l3.9 -21.1M277.7 619.5l8.2 3l6.4 -0.6l2.1 -3l3.1 5.7l8.4 0.9l3.2 -5.2l3.8 -20.9M295.1 612.8l8.2 3l6.4 -0.9l2.1 -3.3l3 6l8.4 0.7l3.2 -5.7l3.8 -22.6M312.4 606.3l8.2 3l6.4 -0.6l2.1 -3l3 5.6l8.4 0.8l3.2 -5.1l3.8 -20.5M329.4 599.7l8.2 3l6.4 -0.6l2.1 -2.9l3 5.5l8.4 0.9l3.2 -5l3.8 -20.2M346.2 593.4l8.1 3l6.4 -0.4l2.1 -2.7l3 5.2l8.4 1l3.2 -4.6l3.8 -18.6M362.9 587.1l8.1 2.9l6.3 -0.6l2.1 -2.9l3 5.4l8.4 0.8l3.2 -5l3.8 -20M379.4 580.8l8.1 2.9l6.3 -0.6l2.1 -2.8l3 5.3l8.3 0.8l3.2 -4.9l3.8 -19.6M395.7 574.6l8.1 2.9l6.3 -0.6l2.1 -2.9l3 5.4l8.3 0.8l3.2 -4.9l3.8 -19.8M411.8 568.5l8.1 2.8l6.3 -0.6l2.1 -2.8l3 5.3l8.3 0.8l3.2 -4.8l3.8 -19.4M427.8 562.4l8.1 2.8l6.3 -0.5l2.1 -2.6l3 5.1l8.3 0.9l3.2 -4.6l3.8 -18.4M443.6 556.4l8.1 2.8l6.3 -0.6l2.1 -2.8l3 5.2l8.3 0.7l3.2 -4.8l3.8 -19.3M459.2 550.3l8.1 2.7l6.3 -0.9l2.1 -3.1l3 5.6l8.3 0.6l3.2 -5.3l3.8 -21M474.7 544.5l8 2.7l6.3 -0.7l2.1 -2.8l3 5.3l8.3 0.7l3.2 -4.9l3.8 -19.5M490.1 538.6l8 2.7l6.3 -0.9l2.1 -3.1l3 5.5l8.3 0.5l3.2 -5.3l3.8 -20.8M505.2 532.9l8 2.7l6.3 -0.7l2.1 -2.9l3 5.2l8.2 0.6l3.2 -4.9l3.8 -19.5M520.3 527.2l8 2.6l6.2 -0.7l2.1 -2.8l3 5.1l8.2 0.7l3.1 -4.7l3.8 -18.9M535.1 521.5l8 2.6l6.2 -0.8l2.1 -2.9l3 5.2l8.2 0.6l3.1 -5l3.7 -19.7M549.8 515.9l8 2.6l6.2 -0.7l2.1 -2.8l3 5.2l8.2 0.6l3.1 -4.9l3.7 -19.4M564.4 510.3l8 2.6l6.2 -0.7l2.1 -2.7l3 5l8.2 0.6l3.1 -4.7l3.7 -18.6M578.8 504.9l7.9 2.5l6.2 -0.7l2.1 -2.7l3 5l8.2 0.6l3.1 -4.6l3.7 -18.5M593.1 499.4l7.9 2.5l6.2 -0.9l2.1 -3l3 5.3l8.1 0.4l3.1 -5.1l3.7 -20.2M607.3 494.1l7.9 2.5l6.2 -0.8l2.1 -2.8l3 5.1l8.1 0.5l3.1 -4.8l3.7 -19.1M621.3 488.8l7.9 2.5l6.2 -0.7l2.1 -2.7l2.9 4.9l8.1 0.6l3.1 -4.7l3.7 -18.5M635.1 483.5l7.9 2.4l6.2 -0.6l2.1 -2.6l2.9 4.8l8.1 0.6l3.1 -4.5l3.7 -17.7M648.9 478.2l7.9 2.4l6.1 -1l2.1 -3.1l2.9 5.3l8.1 0.3l3.1 -5.2l3.7 -20.5M662.5 473l7.9 2.4l6.1 -0.7l2 -2.6l2.9 4.8l8.1 0.6l3.1 -4.5l3.7 -17.9M215.4 650.1l462.6 -177M224.6 650l45 -16.7l17.7 -7.8l17.5 -6l8.7 -3.9l51 -18.8l24.9 -10.1l16.4 -5.6l16.2 -7l24 -8.5l23.6 -9.1l7.8 -3.6l7.7 -2.6l45.7 -17.7l14.9 -5.2l7.4 -3.4l22 -8.1l35.9 -14.3l41.9 -15.6l13.7 -5.9l20.3 -7.3M233.8 653.2l45 -16.7l17.6 -7.8l17.5 -6l8.7 -3.9l51 -18.9l24.9 -10.2l16.4 -5.6l16.2 -7.1l24 -8.6l23.6 -9.1l7.8 -3.6l7.7 -2.6l45.6 -17.8l14.9 -5.2l7.4 -3.4l22 -8.1l35.9 -14.4l41.9 -15.7l13.7 -5.9l20.3 -7.2" fill="none" stroke="#b4b4b4" stroke-opacity="0.8" stroke-width="1"/>
<path d="M241.7 625.3l9.1 -1.7l9 -4.7l17.9 -2.9l8.9 -3.2l17.6 -13.6l8.7 0.1l8.7 -2l8.7 -7.4l8.6 -0.4l17.1 -6.5l16.9 -5.5l8.4 -1.3l8.3 -6.3l8.3 -2.1l8.2 -5.2l16.3 -1.1l16.2 -12l8 0.3l15.9 -4.7l7.9 -3.2l7.9 -4.2l7.8 -1.6l7.8 -7.2l7.7 -0.1l7.7 -3.5l7.7 -5l7.6 -3l7.6 -0.2l15 -7.2l7.5 -1.4l7.4 -0.3l7.4 -6.6l7.3 -3.2l7.3 -2l7.3 -0.7l7.2 -3.9l7.2 -2.1l7.2 -3.2l7.1 -5.1l7.1 -3l7.1 -1.4l14 -5.3l20.8 -5.8l6.9 -3.5l6.8 -6l13.5 -1.3l6.7 -2.4l0.6 1.6l-6.7 2.4l-13.5 1.5l-6.8 5.9l-6.9 3.5l-20.8 5.9l-14 5.3l-7.1 1.4l-7.1 3l-7.1 5l-7.2 3.1l-7.2 2.2l-7.2 3.8l-7.3 0.8l-7.3 2.1l-7.3 3.1l-7.4 6.4l-7.4 0.5l-7.5 1.4l-15 7.1l-7.6 0.3l-7.6 3l-7.7 4.9l-7.7 3.5l-7.7 0.2l-7.8 7l-7.8 1.6l-7.9 4.1l-7.9 3.2l-15.9 4.8l-8 -0.2l-16.2 11.7l-16.3 1.4l-8.2 5.1l-8.3 2.2l-8.3 6.2l-8.4 1.4l-16.9 5.5l-17.1 6.5l-8.6 0.6l-8.6 7.2l-8.7 2l-8.7 0.1l-17.6 13.2l-8.9 3.2l-17.9 3.1l-9 4.7l-9.1 1.8z" fill="url(#s35)" stroke="url(#s35)" stroke-width="0.6"/>
<path d="M242.3 627.3l9.1 -1.8l9 -4.7l17.9 -3.1l8.9 -3.2l17.6 -13.2l8.7 -0.1l8.7 -2l8.6 -7.2l8.6 -0.6l17.1 -6.5l16.9 -5.5l8.4 -1.4l8.3 -6.2l8.3 -2.2l8.2 -5.1l16.3 -1.4l16.2 -11.7l8 0.2l15.9 -4.8l7.9 -3.2l7.9 -4.1l7.8 -1.6l7.8 -7l7.7 -0.2l7.7 -3.5l7.7 -4.9l7.6 -3l7.6 -0.3l15 -7.1l7.5 -1.4l7.4 -0.5l7.4 -6.4l7.3 -3.1l7.3 -2.1l7.3 -0.8l7.2 -3.8l7.2 -2.2l7.2 -3.1l7.1 -5l7.1 -3l7.1 -1.4l14 -5.3l20.8 -5.9l6.9 -3.5l6.8 -5.9l13.5 -1.5l6.7 -2.4l2.5 15.8l-6.7 2.5l-13.5 3.5l-6.8 4.1l-6.9 3l-41.8 14.7l-7.1 2.9l-7.1 3.8l-21.6 8.7l-7.3 1.9l-14.7 5.5l-7.4 4.5l-14.9 4l-15 6.4l-7.6 1.7l-7.6 3l-15.3 7.1l-7.7 1.8l-7.8 4.8l-7.8 2.4l-15.7 6.7l-15.9 5.6l-8 1.6l-16.2 8.8l-16.3 4.1l-8.2 4.1l-8.3 2.8l-8.3 4.6l-8.4 2.4l-33.9 12.7l-8.6 2.1l-8.6 5.1l-8.7 2.8l-8.7 1.9l-17.6 9.8l-8.9 3.4l-17.9 5.2l-9 4l-9.1 2.7z" fill="url(#s36)" stroke="url(#s36)" stroke-width="0.6"/>
<path d="M244.9 646.9l9.1 -2.7l9 -4l17.9 -5.2l8.9 -3.4l17.6 -9.8l8.7 -1.9l8.7 -2.8l8.6 -5.1l8.6 -2.1l33.9 -12.7l8.4 -2.4l8.3 -4.6l8.3 -2.8l8.2 -4.1l16.3 -4.1l16.2 -8.8l8 -1.6l15.9 -5.6l15.7 -6.7l7.8 -2.4l7.8 -4.8l7.7 -1.8l15.3 -7.1l7.6 -3l7.6 -1.7l15 -6.4l14.9 -4l7.4 -4.5l14.7 -5.5l7.3 -1.9l21.6 -8.7l7.1 -3.8l7.1 -2.9l41.8 -14.7l6.9 -3l6.8 -4.1l13.5 -3.5l6.7 -2.5l2.5 6.9l-20.2 7l-13.7 6.3l-41.8 15.5l-35.8 14.7l-21.9 8l-7.4 3.7l-14.9 4.9l-15 6.2l-15.2 5.3l-15.3 6.6l-7.7 2.4l-7.8 3.9l-23.6 9.2l-15.9 5.9l-8 2.4l-16.2 7.6l-16.3 5.2l-24.8 10.6l-42.3 15.8l-8.6 2.7l-8.6 4.3l-17.4 5.7l-17.6 8.4l-44.9 16.5z" fill="url(#s37)" stroke="url(#s37)" stroke-width="0.6"/>
<path d="M247.6 655.6l44.9 -16.5l17.6 -8.4l17.4 -5.7l8.6 -4.3l8.6 -2.7l42.3 -15.8l24.8 -10.6l16.3 -5.2l16.2 -7.6l8 -2.4l15.9 -5.9l23.6 -9.2l7.8 -3.9l7.7 -2.4l15.3 -6.6l15.2 -5.3l15 -6.2l14.9 -4.9l7.4 -3.7l21.9 -8l35.8 -14.7l41.8 -15.5l13.7 -6.3l20.2 -7l6.7 4.9l-20.2 7.4l-13.6 5.9l-41.8 15.9l-57.7 22.7l-7.4 3.3l-68.1 26l-31.3 12.7l-23.9 8.8l-16.2 7l-16.3 5.8l-24.8 10.2l-50.9 19.2l-8.6 3.9l-17.4 6.3l-17.6 7.7l-44.9 17z" fill="#872099" stroke="#872099" stroke-width="0.6"/>
<path d="M254.5 661.8l44.9 -17l17.6 -7.7l17.4 -6.3l8.6 -3.9l50.9 -19.2l24.8 -10.2l16.3 -5.8l16.2 -7l23.9 -8.8l31.3 -12.7l68.1 -26l7.4 -3.3l57.7 -22.7l41.8 -15.9l13.6 -5.9l20.2 -7.4l6.4 -0.2l-20.2 7.2l-13.6 6.2l-41.7 15.7l-35.7 14.7l-21.9 8.1l-7.4 3.6l-14.8 5.1l-15 6.2l-15.2 5.4l-15.3 6.5l-7.7 2.5l-7.8 3.8l-23.5 9.2l-23.9 8.5l-16.1 7.4l-16.3 5.4l-24.8 10.5l-50.8 18.9l-8.6 4.2l-17.4 5.9l-17.6 8.2l-44.9 16.7z" fill="#872099" stroke="#872099" stroke-width="0.6"/>
<path d="M261.3 661.6l44.9 -16.7l17.6 -8.2l17.4 -5.9l8.6 -4.2l50.8 -18.9l24.8 -10.5l16.3 -5.4l16.1 -7.4l23.9 -8.5l23.5 -9.2l7.8 -3.8l7.7 -2.5l15.3 -6.5l15.2 -5.4l15 -6.2l14.8 -5.1l7.4 -3.6l21.9 -8.1l35.7 -14.7l41.7 -15.7l13.6 -6.2l20.2 -7.2l2.5 -0.3l-20.2 7l-13.6 6.3l-41.7 15.6l-35.7 14.8l-21.9 8l-7.4 3.7l-14.8 4.9l-15 6.2l-15.2 5.3l-15.3 6.6l-7.7 2.4l-7.8 4l-23.5 9.2l-15.9 5.9l-8 2.4l-16.1 7.7l-16.3 5.2l-16.5 6.7l-8.3 4l-42.2 15.9l-8.6 2.7l-8.6 4.3l-17.4 5.8l-17.6 8.5l-44.9 16.6z" fill="#862199" stroke="#862199" stroke-width="0.6"/>
<path d="M263.9 661.3l44.9 -16.6l17.6 -8.5l17.4 -5.8l8.6 -4.3l8.6 -2.7l42.2 -15.9l8.3 -4l16.5 -6.7l16.3 -5.2l16.1 -7.7l8 -2.4l15.9 -5.9l23.5 -9.2l7.8 -4l7.7 -2.4l15.3 -6.6l15.2 -5.3l15 -6.2l14.8 -4.9l7.4 -3.7l21.9 -8l35.7 -14.8l41.7 -15.6l13.6 -6.3l20.2 -7l4.3 2.5l-20.2 7.2l-13.6 6.2l-41.7 15.8l-35.7 14.7l-21.9 8.2l-7.4 3.6l-14.8 5.1l-15 6.2l-15.1 5.5l-15.3 6.5l-7.7 2.5l-7.8 3.8l-23.5 9.3l-23.9 8.5l-16.1 7.4l-16.3 5.5l-24.8 10.6l-50.8 19l-8.6 4.1l-17.4 6l-17.6 8.2l-44.9 16.8z" fill="#862199" stroke="#862199" stroke-width="0.6"/>
<path d="M268.5 664.4l44.9 -16.8l17.6 -8.2l17.4 -6l8.6 -4.1l50.8 -19l24.8 -10.6l16.3 -5.5l16.1 -7.4l23.9 -8.5l23.5 -9.3l7.8 -3.8l7.7 -2.5l15.3 -6.5l15.1 -5.5l15 -6.2l14.8 -5.1l7.4 -3.6l21.9 -8.2l35.7 -14.7l41.7 -15.8l13.6 -6.2l20.2 -7.2l3.3 -3.3l-6.7 2.6l-13.5 4l-6.8 3.8l-6.8 3l-41.7 15.3l-14.2 6.5l-21.5 8.8l-7.2 2.2l-14.6 5.6l-7.4 4.1l-14.8 4.5l-15 6.4l-7.5 2.1l-7.6 3l-15.3 6.9l-7.7 2.1l-7.7 4.4l-7.8 2.6l-15.7 6.6l-15.9 5.8l-8 2l-16.1 8.3l-16.3 4.7l-8.2 3.9l-8.3 2.9l-8.3 4.3l-8.3 2.7l-33.9 13l-8.6 2.4l-8.6 4.7l-17.4 5.3l-17.6 9.2l-8.9 3.4l-17.9 5.7l-9 4l-9.1 3z" fill="#852299" stroke="#852299" stroke-width="0.6"/>
<path d="M271.9 660.4l9.1 -3l9 -4l17.9 -5.7l8.9 -3.4l17.6 -9.2l17.4 -5.3l8.6 -4.7l8.6 -2.4l33.9 -13l8.3 -2.7l8.3 -4.3l8.3 -2.9l8.2 -3.9l16.3 -4.7l16.1 -8.3l8 -2l15.9 -5.8l15.7 -6.6l7.8 -2.6l7.7 -4.4l7.7 -2.1l15.3 -6.9l7.6 -3l7.5 -2.1l15 -6.4l14.8 -4.5l7.4 -4.1l14.6 -5.6l7.2 -2.2l21.5 -8.8l14.2 -6.5l41.7 -15.3l6.8 -3l6.8 -3.8l13.5 -4l6.7 -2.6l3 -8.8l-6.7 2.5l-13.5 2.7l-6.8 4.9l-6.8 3.3l-20.7 6.7l-14 5.4l-7 1.9l-7.1 3l-7.1 4.4l-14.3 5.5l-7.2 3.6l-7.2 1.5l-14.6 5.4l-7.4 5.4l-14.8 3.2l-15 6.8l-7.5 1.1l-7.6 3l-7.6 4.4l-7.7 3.4l-7.7 1.1l-7.7 5.8l-7.8 2.1l-15.7 7.1l-15.9 5.3l-8 0.9l-16.1 10.2l-16.3 3l-8.2 4.6l-8.3 2.6l-8.3 5.4l-8.3 2l-33.8 12.6l-8.6 1.5l-8.6 6.1l-8.7 2.5l-8.7 1.2l-17.6 11.4l-8.9 3.4l-17.9 4.4l-9 4.4l-9.1 2.4z" fill="url(#s38)" stroke="url(#s38)" stroke-width="0.6"/>
<path d="M275 649.5l9.1 -2.4l9 -4.4l17.9 -4.4l8.9 -3.4l17.6 -11.4l8.7 -1.2l8.7 -2.5l8.6 -6.1l8.6 -1.5l33.8 -12.6l8.3 -2l8.3 -5.4l8.3 -2.6l8.2 -4.6l16.3 -3l16.1 -10.2l8 -0.9l15.9 -5.3l15.7 -7.1l7.8 -2.1l7.7 -5.8l7.7 -1.1l7.7 -3.4l7.6 -4.4l7.6 -3l7.5 -1.1l15 -6.8l14.8 -3.2l7.4 -5.4l14.6 -5.4l7.2 -1.5l7.2 -3.6l14.3 -5.5l7.1 -4.4l7.1 -3l7 -1.9l14 -5.4l20.7 -6.7l6.8 -3.3l6.8 -4.9l13.5 -2.7l6.7 -2.5l0.1 0l-6.7 2.5l-13.5 2.7l-6.8 4.9l-6.8 3.3l-20.7 6.7l-14 5.4l-7 1.9l-7.1 3l-7.1 4.4l-14.3 5.5l-7.2 3.6l-7.2 1.5l-14.6 5.4l-7.4 5.4l-14.8 3.2l-15 6.8l-7.5 1.1l-7.6 3l-7.6 4.4l-7.7 3.4l-7.7 1.1l-7.7 5.9l-7.8 2.1l-15.7 7.1l-15.9 5.3l-8 0.9l-16.1 10.2l-16.3 3l-8.2 4.6l-8.3 2.6l-8.3 5.4l-8.3 2l-33.8 12.6l-8.6 1.5l-8.6 6.1l-8.7 2.5l-8.7 1.2l-17.6 11.4l-8.9 3.4l-17.9 4.4l-9 4.4l-9.1 2.4z" fill="#7f2b9d" stroke="#7f2b9d" stroke-width="0.6"/>
<path d="M241.7 625.3l0.6 2l2.6 19.7l2.6 8.6l7 6.2l9.4 -0.5l4.5 3.2l3.5 -4.1l3.3 -10.8M259.8 618.9l0.6 2l2.6 19.3l2.6 8.5l7 6.1l9.4 -0.5l4.5 3.1l3.4 -4l3.3 -10.6M277.7 616l0.6 1.8l2.6 17.2l2.6 7.6l7 5.7l9.3 -0.1l4.5 3l3.4 -3.4l3.3 -9.3M295.5 605.7l0.6 1.9l2.6 18.9l2.6 8.3l7 6l9.3 -0.5l4.5 3.1l3.4 -3.9l3.3 -10.4M313 599.3l0.6 1.9l2.6 18.7l2.6 8.2l7 5.9l9.3 -0.4l4.5 3l3.4 -3.9l3.3 -10.3M330.4 589.9l0.6 2l2.6 20l2.6 8.7l6.9 6.2l9.3 -0.8l4.5 3.1l3.4 -4.3l3.3 -11.2M347.5 586.5l0.6 1.9l2.6 18.4l2.6 8.1l6.9 5.8l9.3 -0.4l4.5 3l3.4 -3.8l3.3 -10.1M364.5 580.4l0.6 1.8l2.6 18l2.6 7.9l6.9 5.7l9.3 -0.4l4.5 2.9l3.4 -3.7l3.3 -9.9M381.3 576.2l0.6 1.7l2.6 16.8l2.6 7.4l6.9 5.5l9.3 -0.2l4.5 2.8l3.4 -3.4l3.3 -9.2M397.9 567.7l0.6 1.8l2.6 17.9l2.6 7.8l6.9 5.6l9.2 -0.4l4.5 2.9l3.4 -3.7l3.3 -9.9M414.3 562l0.6 1.8l2.6 17.5l2.6 7.7l6.9 5.6l9.2 -0.4l4.5 2.9l3.4 -3.6l3.2 -9.7M430.6 555.4l0.6 1.8l2.6 17.7l2.6 7.8l6.9 5.6l9.2 -0.5l4.5 2.9l3.4 -3.7l3.2 -9.8M446.7 549.7l0.6 1.8l2.6 17.3l2.6 7.6l6.9 5.5l9.2 -0.4l4.5 2.8l3.4 -3.6l3.2 -9.6M462.6 545l0.6 1.7l2.6 16.6l2.6 7.3l6.9 5.3l9.2 -0.3l4.5 2.7l3.4 -3.4l3.2 -9.1M478.3 537.6l0.6 1.7l2.6 17.2l2.6 7.5l6.8 5.4l9.2 -0.5l4.4 2.8l3.4 -3.6l3.2 -9.5M493.9 528.8l0.6 1.9l2.6 18.6l2.6 8.1l6.8 5.7l9.1 -0.8l4.4 2.9l3.4 -4l3.2 -10.4M509.4 525.2l0.6 1.8l2.6 17.4l2.6 7.6l6.8 5.4l9.1 -0.5l4.4 2.8l3.4 -3.7l3.2 -9.6M524.6 517.2l0.6 1.9l2.6 18.4l2.6 8l6.8 5.6l9.1 -0.8l4.4 2.8l3.4 -4l3.2 -10.3M539.7 513.4l0.6 1.8l2.6 17.4l2.6 7.6l6.8 5.4l9.1 -0.6l4.4 2.7l3.4 -3.7l3.2 -9.7M554.7 508.5l0.6 1.7l2.6 16.9l2.6 7.4l6.8 5.3l9.1 -0.5l4.4 2.7l3.3 -3.5l3.2 -9.3M569.5 501.6l0.6 1.8l2.6 17.4l2.6 7.6l6.8 5.3l9.1 -0.7l4.4 2.7l3.3 -3.7l3.2 -9.7M584.2 496.4l0.6 1.7l2.5 17.2l2.5 7.5l6.8 5.3l9 -0.6l4.4 2.7l3.3 -3.7l3.2 -9.6M598.7 491.9l0.6 1.7l2.5 16.6l2.5 7.3l6.8 5.1l9 -0.5l4.4 2.6l3.3 -3.5l3.2 -9.2M613 486.6l0.6 1.7l2.5 16.4l2.5 7.2l6.7 5.1l9 -0.5l4.4 2.6l3.3 -3.5l3.2 -9.1M627.3 478.4l0.6 1.8l2.5 17.8l2.5 7.7l6.7 5.3l9 -0.9l4.4 2.7l3.3 -3.9l3.2 -10M641.3 474.6l0.6 1.7l2.5 16.9l2.5 7.4l6.7 5.2l9 -0.7l4.4 2.6l3.3 -3.6l3.2 -9.5M655.3 470.2l0.6 1.7l2.5 16.4l2.5 7.2l6.7 5l9 -0.6l4.3 2.6l3.3 -3.5l3.2 -9.1M669.1 465.9l0.6 1.6l2.5 15.8l2.5 6.9l6.7 4.9l8.9 -0.5l4.3 2.5l3.3 -3.3l3.1 -8.8M682.8 456.4l0.6 1.8l2.5 18l2.5 7.8l6.7 5.3l8.9 -1l4.3 2.7l3.3 -4l3.1 -10.2M696.3 455.1l0.6 1.6l2.5 15.9l2.5 6.9l6.7 4.9l8.9 -0.6l4.3 2.5l3.3 -3.4l3.1 -8.8M243.1 633.2l9.1 -2.1l9 -4.5l17.9 -3.7l8.9 -3.3l17.6 -12.2l8.7 -0.7l8.7 -2.3l8.6 -6.6l8.6 -1l17.1 -6.5l16.9 -5.7l8.4 -1.7l8.3 -5.7l8.3 -2.4l8.2 -4.8l16.3 -2.2l16.2 -10.8l8 -0.4l15.9 -5l7.9 -3.2l7.9 -4l7.8 -1.9l7.8 -6.3l7.7 -0.7l7.7 -3.4l7.7 -4.6l7.6 -3l7.6 -0.7l15 -6.9l7.5 -1.7l7.4 -0.9l7.4 -5.8l7.3 -3.1l7.3 -2.2l7.3 -1.1l7.2 -3.6l7.2 -2.3l7.2 -3.1l7.1 -4.6l7.1 -3l7.1 -1.6l14 -5.3l20.8 -6.3l6.9 -3.3l6.8 -5.3l13.5 -2.1l6.7 -2.4M252.4 660.7l44.9 -17l17.6 -7.8l17.4 -6.2l8.6 -3.9l50.9 -19.2l24.8 -10.2l16.3 -5.7l16.2 -7l23.9 -8.7l23.5 -9.2l7.8 -3.6l7.7 -2.7l45.5 -18l14.9 -5.3l7.4 -3.4l21.9 -8.2l35.8 -14.4l41.8 -15.9l13.7 -5.9l20.2 -7.4M261.7 661.1l44.9 -16.7l17.6 -8.3l17.4 -5.8l8.6 -4.2l8.6 -2.8l42.2 -16l8.3 -3.9l8.3 -3l8.2 -3.7l16.3 -5.3l16.1 -7.5l8 -2.4l15.9 -5.9l23.5 -9.2l7.8 -3.9l7.7 -2.4l15.3 -6.6l15.2 -5.4l15 -6.2l14.8 -5l7.4 -3.7l21.9 -8.1l35.7 -14.8l41.7 -15.6l13.6 -6.3l20.2 -7.1M271.1 662.1l9.1 -3.1l9 -3.9l17.9 -6l8.9 -3.4l17.6 -8.8l17.4 -5.5l8.6 -4.5l8.6 -2.6l33.9 -13.1l8.3 -2.8l8.3 -4.1l8.3 -3l8.2 -3.8l16.3 -5l16.1 -8l8 -2.2l15.9 -5.9l15.7 -6.6l7.8 -2.7l7.7 -4.2l7.7 -2.3l15.3 -6.8l7.6 -3l7.5 -2.2l15 -6.3l14.8 -4.8l7.4 -3.9l14.6 -5.6l7.2 -2.3l21.5 -8.7l14.2 -6.3l41.7 -15.5l6.8 -2.9l6.8 -3.6l13.5 -4.2l6.7 -2.6" fill="none" stroke="#b4b4b4" stroke-opacity="0.8" stroke-width="1"/>
<path d="M275.2 649.5l9.1 -2.4l9 -4.4l17.9 -4.4l8.9 -3.4l17.6 -11.4l8.7 -1.2l8.7 -2.5l8.6 -6.1l8.6 -1.5l33.8 -12.6l8.3 -2l8.3 -5.4l8.3 -2.6l8.2 -4.6l16.3 -3l16.1 -10.2l8 -0.9l15.9 -5.3l15.7 -7.1l7.8 -2.1l7.7 -5.9l7.7 -1.1l7.7 -3.4l7.6 -4.4l7.6 -3l7.5 -1.1l15 -6.8l14.8 -3.2l7.4 -5.4l14.6 -5.4l7.2 -1.5l7.2 -3.6l14.3 -5.5l7.1 -4.4l7.1 -3l7 -1.9l14 -5.4l20.7 -6.7l6.8 -3.3l6.8 -4.9l13.5 -2.7l6.7 -2.5l1.2 3.1l-6.7 2.5l-13.5 3.1l-6.8 4.6l-6.8 3.2l-20.7 6.9l-13.9 5.5l-7 2l-7.1 3l-7.1 4.2l-14.3 5.5l-7.2 3.5l-7.2 1.7l-14.6 5.5l-7.4 5l-14.8 3.6l-15 6.7l-7.5 1.4l-7.6 3l-7.6 4.2l-7.7 3.4l-7.7 1.4l-7.7 5.5l-7.8 2.3l-15.7 7l-15.9 5.5l-8 1.2l-16.1 9.7l-16.3 3.5l-8.2 4.4l-8.3 2.7l-8.3 5.1l-8.3 2.2l-33.8 12.7l-8.6 1.8l-8.6 5.7l-8.7 2.6l-8.7 1.5l-17.6 10.8l-8.9 3.4l-17.9 4.8l-9 4.3l-9.1 2.5z" fill="url(#s39)" stroke="url(#s39)" stroke-width="0.6"/>
<path d="M276.5 653.4l9.1 -2.5l9 -4.3l17.9 -4.8l8.9 -3.4l17.6 -10.8l8.7 -1.5l8.7 -2.6l8.6 -5.7l8.6 -1.8l33.8 -12.7l8.3 -2.2l8.3 -5.1l8.3 -2.7l8.2 -4.4l16.3 -3.5l16.1 -9.7l8 -1.2l15.9 -5.5l15.7 -7l7.8 -2.3l7.7 -5.5l7.7 -1.4l7.7 -3.4l7.6 -4.2l7.6 -3l7.5 -1.4l15 -6.7l14.8 -3.6l7.4 -5l14.6 -5.5l7.2 -1.7l7.2 -3.5l14.3 -5.5l7.1 -4.2l7.1 -3l7 -2l13.9 -5.5l20.7 -6.9l6.8 -3.2l6.8 -4.6l13.5 -3.1l6.7 -2.5l2.7 9.3l-20.2 6.9l-13.6 6.6l-41.6 15.5l-35.7 15.1l-21.8 8l-7.4 3.9l-14.8 4.8l-15 6.3l-7.5 2.2l-7.6 3l-15.3 6.8l-7.7 2.3l-7.7 4.2l-7.8 2.7l-15.7 6.6l-15.9 5.9l-8 2.2l-16.1 8l-16.3 5l-8.2 3.8l-8.3 3l-8.3 4.2l-42.2 15.9l-8.6 2.6l-8.6 4.5l-17.4 5.6l-17.6 8.8l-44.8 16.5z" fill="url(#s40)" stroke="url(#s40)" stroke-width="0.6"/>
<path d="M279.3 665.1l44.8 -16.5l17.6 -8.8l17.4 -5.6l8.6 -4.5l8.6 -2.6l42.2 -15.9l8.3 -4.2l8.3 -3l8.2 -3.8l16.3 -5l16.1 -8l8 -2.2l15.9 -5.9l15.7 -6.6l7.8 -2.7l7.7 -4.2l7.7 -2.3l15.3 -6.8l7.6 -3l7.5 -2.2l15 -6.3l14.8 -4.8l7.4 -3.9l21.8 -8l35.7 -15.1l41.6 -15.5l13.6 -6.6l20.2 -6.9l4.3 4.4l-20.1 7.3l-13.6 6.1l-41.6 16l-35.6 14.8l-21.8 8.3l-7.3 3.5l-14.8 5.2l-45.4 18.3l-7.7 2.6l-7.7 3.8l-23.5 9.3l-23.8 8.7l-16.1 7.4l-16.3 5.6l-24.7 10.6l-50.7 19.2l-8.6 4.1l-17.4 6.1l-17.6 8.1l-44.8 17.1z" fill="#862199" stroke="#862199" stroke-width="0.6"/>
<path d="M283.9 670.7l44.8 -17.1l17.6 -8.1l17.4 -6.1l8.6 -4.1l50.7 -19.2l24.7 -10.6l16.3 -5.6l16.1 -7.4l23.8 -8.7l23.5 -9.3l7.7 -3.8l7.7 -2.6l45.4 -18.3l14.8 -5.2l7.3 -3.5l21.8 -8.3l35.6 -14.8l41.6 -16l13.6 -6.1l20.1 -7.3l4.2 -1.7l-20.1 6.9l-13.6 6.6l-41.6 15.6l-35.6 15.1l-21.8 8l-7.3 3.9l-14.8 4.8l-15 6.3l-15.1 5.3l-15.3 6.8l-7.7 2.3l-7.7 4.2l-23.4 9.3l-15.8 5.9l-8 2.3l-16.1 8l-16.3 5.1l-8.2 3.8l-8.2 3l-8.3 4.1l-42.1 16l-8.6 2.7l-8.6 4.5l-17.4 5.7l-17.6 8.8l-44.8 16.6z" fill="#862199" stroke="#862199" stroke-width="0.6"/>
<path d="M288.3 668.7l44.8 -16.6l17.6 -8.8l17.4 -5.7l8.6 -4.5l8.6 -2.7l42.1 -16l8.3 -4.1l8.2 -3l8.2 -3.8l16.3 -5.1l16.1 -8l8 -2.3l15.8 -5.9l23.4 -9.3l7.7 -4.2l7.7 -2.3l15.3 -6.8l15.1 -5.3l15 -6.3l14.8 -4.8l7.3 -3.9l21.8 -8l35.6 -15.1l41.6 -15.6l13.6 -6.6l20.1 -6.9l2.3 -0.7l-20.1 6.7l-6.8 3.8l-6.8 3l-41.6 15.5l-14.1 6.5l-21.5 8.8l-7.2 2.2l-14.6 5.7l-7.3 4.1l-14.8 4.7l-14.9 6.4l-7.5 2.2l-7.6 3l-15.3 6.9l-7.7 2.2l-7.7 4.4l-7.8 2.7l-15.7 6.7l-15.8 5.9l-8 2.1l-16.1 8.2l-16.3 4.9l-8.2 3.9l-8.2 3l-8.3 4.3l-8.3 2.7l-33.8 13.2l-8.6 2.5l-8.6 4.7l-17.4 5.4l-17.6 9.1l-26.7 9.4l-9 4l-9.1 3.1z" fill="#85239a" stroke="#85239a" stroke-width="0.6"/>
<path d="M290.7 667.9l9.1 -3.1l9 -4l26.7 -9.4l17.6 -9.1l17.4 -5.4l8.6 -4.7l8.6 -2.5l33.8 -13.2l8.3 -2.7l8.3 -4.3l8.2 -3l8.2 -3.9l16.3 -4.9l16.1 -8.2l8 -2.1l15.8 -5.9l15.7 -6.7l7.8 -2.7l7.7 -4.4l7.7 -2.2l15.3 -6.9l7.6 -3l7.5 -2.2l14.9 -6.4l14.8 -4.7l7.3 -4.1l14.6 -5.7l7.2 -2.2l21.5 -8.8l14.1 -6.5l41.6 -15.5l6.8 -3l6.8 -3.8l20.1 -6.7l4.7 6.8l-20.1 7.6l-13.6 6l-41.5 16.2l-57.4 23.1l-7.3 3.4l-67.8 26.5l-31.2 13l-23.8 9l-16.1 7.2l-16.3 5.9l-24.7 10.4l-50.7 19.6l-8.6 4l-17.4 6.4l-17.6 7.9l-44.8 17.4z" fill="url(#s41)" stroke="url(#s41)" stroke-width="0.6"/>
<path d="M295.6 676.5l44.8 -17.4l17.6 -7.9l17.4 -6.4l8.6 -4l50.7 -19.6l24.7 -10.4l16.3 -5.9l16.1 -7.2l23.8 -9l31.2 -13l67.8 -26.5l7.3 -3.4l57.4 -23.1l41.5 -16.2l13.6 -6l20.1 -7.6l9.1 4l-458.2 184.7z" fill="#881f98" stroke="#881f98" stroke-width="0.6"/>
<path d="M305.1 681.7l458.2 -184.7l0.8 0.2l-458.1 184.8z" fill="#891e98" stroke="#891e98" stroke-width="0.6"/>
<path d="M275.2 649.5l4.1 15.6l4.6 5.6l6.8 -2.8l4.9 8.6l10.3 5.6M293.3 642.8l4.1 15.3l4.6 5.5l6.8 -2.7l4.9 8.4l10.3 5.5M311.2 638.4l4.1 13.7l4.6 5.1l6.8 -2.2l4.9 7.6l10.3 5.3M328.9 629.1l4.1 15l4.6 5.4l6.8 -2.7l4.9 8.3l10.3 5.4M346.4 622.4l4.1 14.8l4.5 5.3l6.8 -2.7l4.9 8.2l10.3 5.3M363.7 613.8l4.1 15.8l4.5 5.6l6.8 -3.1l4.9 8.6l10.3 5.4M380.8 609.2l4.1 14.5l4.5 5.2l6.7 -2.6l4.9 8l10.3 5.2M397.7 602.8l4.1 14.3l4.5 5.2l6.7 -2.5l4.9 7.9l10.2 5.2M414.4 597.8l4 13.4l4.5 4.9l6.7 -2.2l4.9 7.4l10.2 5M431 589.8l4 14.2l4.5 5.1l6.7 -2.5l4.8 7.8l10.2 5.1M447.4 583.7l4 13.9l4.5 5l6.7 -2.5l4.8 7.7l10.2 5M463.6 577.1l4 14l4.5 5l6.7 -2.5l4.8 7.7l10.2 5M479.6 571.2l4 13.7l4.5 5l6.7 -2.5l4.8 7.6l10.1 4.9M495.5 565.9l4 13.1l4.5 4.8l6.7 -2.3l4.8 7.3l10.1 4.8M511.2 558.8l4 13.6l4.5 4.9l6.6 -2.5l4.8 7.5l10.1 4.9M526.7 550.8l4 14.7l4.5 5.2l6.6 -2.9l4.8 8l10.1 5M542.1 546.3l4 13.7l4.5 4.9l6.6 -2.6l4.8 7.5l10.1 4.8M557.3 538.9l4 14.5l4.4 5.1l6.6 -2.9l4.8 7.9l10.1 4.9M572.3 534.3l4 13.7l4.4 4.9l6.6 -2.6l4.8 7.5l10 4.8M587.2 529l4 13.3l4.4 4.8l6.6 -2.5l4.8 7.3l10 4.7M602 522.4l4 13.8l4.4 4.9l6.6 -2.7l4.8 7.5l10 4.7M616.6 516.9l4 13.5l4.4 4.8l6.6 -2.6l4.7 7.4l10 4.6M631 511.9l3.9 13.1l4.4 4.7l6.6 -2.5l4.7 7.2l10 4.6M645.3 506.5l3.9 13l4.4 4.6l6.5 -2.4l4.7 7.1l9.9 4.5M659.5 499.1l3.9 14l4.4 4.9l6.5 -2.8l4.7 7.6l9.9 4.6M673.5 494.6l3.9 13.3l4.4 4.7l6.5 -2.6l4.7 7.3l9.9 4.5M687.4 489.8l3.9 12.9l4.4 4.6l6.5 -2.5l4.7 7.1l9.9 4.4M701.1 485.1l3.9 12.5l4.4 4.5l6.5 -2.3l4.7 6.8l9.9 4.4M714.7 476.8l3.9 14.1l4.4 4.9l6.5 -3l4.7 7.6l9.8 4.5M728.2 474.2l3.9 12.5l4.3 4.5l6.5 -2.4l4.7 6.8l9.8 4.3M280.6 667.6l44.8 -16.8l17.6 -8.5l17.4 -5.9l8.6 -4.3l8.6 -2.8l42.2 -16.1l8.3 -4l8.3 -3.1l8.2 -3.7l16.3 -5.4l16.1 -7.6l8 -2.4l15.9 -6l23.5 -9.3l7.7 -4l7.7 -2.4l15.3 -6.6l15.1 -5.4l15 -6.3l14.8 -5l7.3 -3.7l21.8 -8.1l35.6 -14.9l41.6 -15.8l13.6 -6.3l20.2 -7.1M290 667.2l9.1 -3l9 -4l17.9 -5.8l8.9 -3.5l17.6 -9.2l8.7 -2.4l8.7 -3l8.6 -4.8l8.6 -2.5l33.8 -13.1l8.3 -2.7l8.3 -4.3l8.2 -3l8.2 -4l16.3 -4.8l16.1 -8.3l8 -2.1l15.8 -5.9l15.7 -6.7l7.8 -2.6l7.7 -4.4l7.7 -2.1l15.3 -6.9l7.6 -3l7.5 -2.1l14.9 -6.4l14.8 -4.6l7.3 -4.1l14.6 -5.7l7.2 -2.2l21.5 -8.8l7.1 -3.6l7 -2.9l41.6 -15.4l6.8 -3l6.8 -3.8l13.4 -4.1l6.7 -2.6M299.6 679.1l44.8 -17.6l17.6 -7.7l76.6 -30.3l24.7 -10.3l16.3 -6.1l16.1 -7l23.8 -9.1l31.1 -12.9l173.9 -69.6l13.6 -5.8l20.1 -7.7" fill="none" stroke="#b4b4b4" stroke-opacity="0.8" stroke-width="1"/>
<path d="M305.9 682l458.1 -184.8l8.3 1.5l-20.1 7.7l-13.5 5.9l-173.6 70l-31.1 13l-23.8 9.1l-16.1 7.1l-16.2 6.1l-24.7 10.5l-76.5 30.4l-17.5 7.8l-44.7 17.7z" fill="#891e98" stroke="#891e98" stroke-width="0.6"/>
<path d="M314.7 684.1l44.7 -17.7l17.5 -7.8l76.5 -30.4l24.7 -10.5l16.2 -6.1l16.1 -7.1l23.8 -9.1l31.1 -13l173.6 -70l13.5 -5.9l20.1 -7.7l9.1 1.4l-20 7.6l-13.5 6.1l-41.4 16.4l-35.4 15l-21.7 8.5l-7.3 3.5l-14.7 5.5l-52.8 21.4l-7.7 3.7l-23.4 9.5l-23.7 9l-16 7.4l-16.2 5.9l-24.6 10.7l-50.5 19.8l-8.6 4.1l-17.3 6.4l-17.5 8.1l-44.7 17.6z" fill="#881f98" stroke="#881f98" stroke-width="0.6"/>
<path d="M324.4 686.1l44.7 -17.6l17.5 -8.1l17.3 -6.4l8.6 -4.1l50.5 -19.8l24.6 -10.7l16.2 -5.9l16 -7.4l23.7 -9l23.4 -9.5l7.7 -3.7l52.8 -21.4l14.7 -5.5l7.3 -3.5l21.7 -8.5l35.4 -15l41.4 -16.4l13.5 -6.1l20 -7.6l9.2 0.8l-20 7.4l-13.5 6.4l-41.3 16.2l-35.4 15.2l-21.7 8.4l-7.3 3.7l-14.7 5.2l-14.9 6.4l-15 5.6l-15.2 6.7l-7.7 2.6l-7.7 3.9l-23.3 9.6l-23.7 8.7l-16 7.7l-16.2 5.6l-24.6 11l-41.9 16.6l-8.5 2.9l-8.6 4.3l-17.3 6.1l-17.5 8.5l-44.6 17.4z" fill="#872099" stroke="#872099" stroke-width="0.6"/>
<path d="M334 687.3l44.6 -17.4l17.5 -8.5l17.3 -6.1l8.6 -4.3l8.5 -2.9l41.9 -16.6l24.6 -11l16.2 -5.6l16 -7.7l23.7 -8.7l23.3 -9.6l7.7 -3.9l7.7 -2.6l15.2 -6.7l15 -5.6l14.9 -6.4l14.7 -5.2l7.3 -3.7l21.7 -8.4l35.4 -15.2l41.3 -16.2l13.5 -6.4l20 -7.4l5.5 -1.9l-6.6 2.7l-13.4 4.3l-6.7 3.8l-6.8 3l-41.3 15.8l-14 6.6l-21.3 9l-7.2 2.3l-14.5 5.8l-7.3 4.2l-14.7 4.8l-14.9 6.6l-7.5 2.2l-7.5 3.1l-15.2 7.1l-7.6 2.3l-7.7 4.4l-7.7 2.8l-15.6 6.8l-15.7 6l-7.9 2.2l-16 8.4l-16.2 5l-8.2 4.1l-8.2 3l-8.2 4.4l-8.3 2.8l-33.6 13.5l-8.5 2.6l-8.6 4.8l-17.3 5.6l-17.5 9.3l-26.6 9.6l-9 4.1l-9 3.2z" fill="#862299" stroke="#862299" stroke-width="0.6"/>
<path d="M339.9 685.1l9 -3.2l9 -4.1l26.6 -9.6l17.5 -9.3l17.3 -5.6l8.6 -4.8l8.5 -2.6l33.6 -13.5l8.3 -2.8l8.2 -4.4l8.2 -3l8.2 -4.1l16.2 -5l16 -8.4l7.9 -2.2l15.7 -6l15.6 -6.8l7.7 -2.8l7.7 -4.4l7.6 -2.3l15.2 -7.1l7.5 -3.1l7.5 -2.2l14.9 -6.6l14.7 -4.8l7.3 -4.2l14.5 -5.8l7.2 -2.3l21.3 -9l14 -6.6l41.3 -15.8l6.8 -3l6.7 -3.8l13.4 -4.3l6.6 -2.7l2.1 -5.7l-6.6 2.6l-13.3 3.4l-6.7 4.6l-6.8 3.2l-20.5 7.2l-13.8 5.6l-7 2.1l-7 3l-7 4.2l-14.2 5.6l-7.1 3.5l-7.2 1.8l-14.5 5.7l-7.3 5l-14.7 3.9l-14.9 6.9l-7.5 1.6l-7.5 3.1l-15.2 7.6l-7.6 1.7l-7.7 5.2l-7.7 2.5l-15.6 7.1l-15.7 5.6l-7.9 1.5l-16 9.6l-16.2 3.9l-8.2 4.6l-8.2 2.8l-8.2 5.1l-8.3 2.4l-33.6 13.3l-8.5 2l-8.6 5.7l-8.6 2.8l-8.7 1.8l-17.5 10.7l-8.8 3.5l-17.8 5.2l-9 4.4l-9 2.8z" fill="url(#s42)" stroke="url(#s42)" stroke-width="0.6"/>
<path d="M342.1 678.2l9 -2.8l9 -4.4l17.8 -5.2l8.8 -3.5l17.5 -10.7l8.7 -1.8l8.6 -2.8l8.6 -5.7l8.5 -2l33.6 -13.3l8.3 -2.4l8.2 -5.1l8.2 -2.8l8.2 -4.6l16.2 -3.9l16 -9.6l7.9 -1.5l15.7 -5.6l15.6 -7.1l7.7 -2.5l7.7 -5.2l7.6 -1.7l15.2 -7.6l7.5 -3.1l7.5 -1.6l14.9 -6.9l14.7 -3.9l7.3 -5l14.5 -5.7l7.2 -1.8l7.1 -3.5l14.2 -5.6l7 -4.2l7 -3l7 -2.1l13.8 -5.6l20.5 -7.2l6.8 -3.2l6.7 -4.6l13.3 -3.4l6.6 -2.6l0.8 -2l-6.6 2.6l-13.3 3.1l-6.7 4.8l-6.8 3.3l-20.5 7.1l-13.8 5.6l-7 2l-7 3.1l-7 4.3l-14.2 5.6l-7.1 3.6l-7.2 1.7l-14.5 5.6l-7.3 5.3l-14.7 3.6l-14.9 7l-7.5 1.4l-7.5 3.1l-7.6 4.3l-7.6 3.5l-7.6 1.5l-7.7 5.5l-7.7 2.4l-15.6 7.2l-15.7 5.5l-7.9 1.2l-16 10.1l-16.2 3.5l-8.2 4.7l-8.2 2.7l-8.2 5.3l-8.3 2.2l-33.6 13.2l-8.5 1.7l-8.6 6l-8.6 2.7l-8.7 1.5l-17.5 11.2l-8.8 3.5l-17.8 4.9l-9 4.4l-9 2.6z" fill="#80299c" stroke="#80299c" stroke-width="0.6"/>
<path d="M305.9 682l18.4 4l9.7 1.2l5.8 -2.2l3.1 -9.5M324 674.8l18.4 4l9.7 1.2l5.8 -2.1l3.1 -9.3M341.8 667.8l18.4 4.2l9.6 1.4l5.8 -1.7l3.1 -8.1M359.5 660.5l18.3 3.9l9.6 1.2l5.8 -2.1l3.1 -9.1M376.9 653.4l18.3 3.9l9.6 1.2l5.8 -2.1l3.1 -9M394.2 646.3l18.3 3.6l9.6 1l5.8 -2.4l3.1 -9.8M411.2 639.6l18.3 3.8l9.6 1.2l5.8 -2l3.1 -8.8M428.1 632.8l18.2 3.8l9.6 1.2l5.8 -2l3 -8.7M444.8 626.2l18.2 3.9l9.6 1.3l5.8 -1.7l3 -8M461.3 619.4l18.2 3.7l9.5 1.1l5.7 -2l3 -8.6M477.6 612.8l18.1 3.7l9.5 1.1l5.7 -2l3 -8.5M493.8 606.3l18.1 3.6l9.5 1.1l5.7 -2l3 -8.5M509.8 599.9l18.1 3.6l9.5 1.1l5.7 -1.9l3 -8.4M525.6 593.6l18 3.6l9.5 1.1l5.7 -1.8l3 -7.9M541.2 587.2l18 3.5l9.4 1l5.7 -1.9l3 -8.3M556.7 580.7l18 3.2l9.4 0.9l5.7 -2.2l3 -9.1M572 574.7l17.9 3.4l9.4 1l5.7 -2l3 -8.4M587.1 568.4l17.9 3.2l9.4 0.8l5.7 -2.2l3 -9M602.1 562.5l17.9 3.2l9.4 0.9l5.6 -2l3 -8.4M617 556.6l17.8 3.3l9.4 0.9l5.6 -2l3 -8.2M631.7 550.5l17.8 3.1l9.3 0.8l5.6 -2.1l3 -8.5M646.2 544.7l17.8 3.1l9.3 0.8l5.6 -2.1l3 -8.4M660.6 539l17.7 3.1l9.3 0.9l5.6 -2l3 -8.1M674.9 533.2l17.7 3.1l9.3 0.9l5.6 -1.9l3 -8M689 527.3l17.7 2.9l9.3 0.7l5.6 -2.2l2.9 -8.7M702.9 521.8l17.6 2.9l9.2 0.8l5.6 -2.1l2.9 -8.3M716.8 516.3l17.6 3l9.2 0.8l5.6 -2l2.9 -8M730.4 510.8l17.5 3l9.2 0.9l5.5 -1.8l2.9 -7.7M744 505.1l17.5 2.7l9.2 0.6l5.5 -2.3l2.9 -8.9M757.4 499.9l17.5 2.9l9.2 0.8l5.5 -1.9l2.9 -7.7M309.1 682.8l44.7 -17.7l17.5 -7.6l76.5 -30.5l24.7 -10.3l16.2 -6.2l16.1 -7l23.8 -9.2l218.3 -88.7l20.1 -7.8M318.7 685l44.7 -17.6l17.5 -7.9l17.3 -6.5l8.6 -4l50.6 -19.9l24.7 -10.5l16.2 -6l16 -7.2l23.7 -9.1l23.4 -9.5l7.7 -3.6l52.8 -21.3l14.7 -5.5l7.3 -3.4l21.7 -8.5l35.5 -14.8l41.4 -16.4l13.5 -6l20 -7.7M328.4 686.7l44.7 -17.5l17.5 -8.2l17.3 -6.3l8.6 -4.2l50.5 -19.7l24.6 -10.8l16.2 -5.8l16 -7.5l23.7 -8.9l23.3 -9.6l7.7 -3.8l7.7 -2.7l15.2 -6.6l15 -5.7l14.9 -6.3l14.7 -5.4l7.3 -3.6l21.7 -8.5l35.4 -15.1l41.3 -16.3l13.5 -6.2l20 -7.5M338.1 686.9l9 -3.3l9 -4l26.6 -9.9l17.5 -8.9l17.3 -5.9l8.6 -4.5l8.5 -2.8l33.6 -13.6l8.3 -2.9l8.2 -4.2l8.2 -3.1l8.2 -4l16.2 -5.3l16 -8l7.9 -2.4l15.8 -6.1l15.6 -6.8l7.7 -2.9l7.7 -4.1l7.6 -2.5l15.2 -6.9l7.5 -3.1l7.5 -2.4l14.9 -6.5l14.7 -5.1l7.3 -3.9l21.7 -8.3l21.3 -8.9l14 -6.5l41.3 -16l13.5 -6.6l20 -7.2" fill="none" stroke="#b4b4b4" stroke-opacity="0.8" stroke-width="1"/>
<path d="M342.9 675.7l9 -2.6l9 -4.4l17.8 -4.9l8.8 -3.5l17.5 -11.2l8.7 -1.5l8.6 -2.7l8.6 -6l8.5 -1.7l33.6 -13.2l8.3 -2.2l8.2 -5.3l8.2 -2.7l8.2 -4.7l16.2 -3.5l16 -10.1l7.9 -1.2l15.7 -5.5l15.6 -7.2l7.7 -2.4l7.7 -5.5l7.6 -1.5l7.6 -3.5l7.6 -4.3l7.5 -3.1l7.5 -1.4l14.9 -7l14.7 -3.6l7.3 -5.3l14.5 -5.6l7.2 -1.7l7.1 -3.6l14.2 -5.6l7 -4.3l7 -3.1l7 -2l13.8 -5.6l20.5 -7.1l6.8 -3.3l6.7 -4.8l13.3 -3.1l6.6 -2.6l0.3 0.2l-6.6 2.6l-13.3 3.1l-6.7 4.8l-6.8 3.3l-20.5 7.1l-13.8 5.6l-7 2l-7 3.1l-7 4.3l-14.2 5.6l-7.1 3.6l-7.2 1.7l-14.5 5.6l-7.3 5.2l-14.7 3.7l-14.8 7l-7.5 1.5l-7.5 3.1l-7.6 4.3l-7.6 3.5l-7.6 1.5l-7.7 5.5l-7.7 2.4l-15.6 7.2l-15.7 5.5l-7.9 1.2l-16 10l-16.2 3.5l-8.2 4.7l-8.2 2.7l-8.2 5.3l-8.3 2.2l-33.6 13.2l-8.5 1.8l-8.6 5.9l-8.6 2.7l-8.7 1.5l-17.5 11.2l-8.8 3.5l-17.8 4.9l-9 4.4l-9 2.6z" fill="#80299c" stroke="#80299c" stroke-width="0.6"/>
<path d="M343.3 676l9 -2.6l9 -4.4l17.8 -4.9l8.8 -3.5l17.5 -11.2l8.7 -1.5l8.6 -2.7l8.6 -5.9l8.5 -1.8l33.6 -13.2l8.3 -2.2l8.2 -5.3l8.2 -2.7l8.2 -4.7l16.2 -3.5l16 -10l7.9 -1.2l15.7 -5.5l15.6 -7.2l7.7 -2.4l7.7 -5.5l7.6 -1.5l7.6 -3.5l7.6 -4.3l7.5 -3.1l7.5 -1.5l14.8 -7l14.7 -3.7l7.3 -5.2l14.5 -5.6l7.2 -1.7l7.1 -3.6l14.2 -5.6l7 -4.3l7 -3.1l7 -2l13.8 -5.6l20.5 -7.1l6.8 -3.3l6.7 -4.8l13.3 -3.1l6.6 -2.6l2.5 5l-6.6 2.7l-13.3 3.8l-6.7 4.3l-6.8 3.1l-41.2 15.3l-7 3l-7 4l-14.2 5.6l-7.1 3.5l-7.2 2l-14.5 5.7l-7.3 4.7l-14.7 4.3l-14.8 6.8l-7.5 1.9l-7.5 3.1l-15.2 7.4l-7.6 1.9l-7.7 4.8l-7.7 2.6l-15.6 7l-15.7 5.7l-7.9 1.8l-16 9.2l-16.2 4.3l-8.2 4.5l-8.2 2.9l-8.2 4.8l-8.3 2.5l-33.6 13.4l-8.5 2.2l-8.6 5.3l-8.6 2.9l-8.7 2.1l-17.5 10.1l-8.8 3.5l-17.8 5.6l-9 4.3l-9 2.9z" fill="url(#s43)" stroke="url(#s43)" stroke-width="0.6"/>
<path d="M345.9 682.3l9 -2.9l9 -4.3l17.8 -5.6l8.8 -3.5l17.5 -10.1l8.7 -2.1l8.6 -2.9l8.6 -5.3l8.5 -2.2l33.6 -13.4l8.3 -2.5l8.2 -4.8l8.2 -2.9l8.2 -4.5l16.2 -4.3l16 -9.2l7.9 -1.8l15.7 -5.7l15.6 -7l7.7 -2.6l7.7 -4.8l7.6 -1.9l15.2 -7.4l7.5 -3.1l7.5 -1.9l14.8 -6.8l14.7 -4.3l7.3 -4.7l14.5 -5.7l7.2 -2l7.1 -3.5l14.2 -5.6l7 -4l7 -3l41.2 -15.3l6.8 -3.1l6.7 -4.3l13.3 -3.8l6.6 -2.7l5.4 -2.7l-6.6 2.7l-13.3 3.3l-6.7 4.7l-6.7 3.2l-20.4 7.1l-13.8 5.7l-7 2.1l-7 3.1l-7 4.3l-14.2 5.5l-7.1 3.6l-14.4 4.3l-7.2 3.2l-7.3 5.1l-14.7 3.9l-14.8 7.1l-7.5 1.6l-7.5 3.1l-7.6 4.2l-7.6 3.4l-7.6 1.7l-7.7 5l-7.7 2.6l-15.6 7.2l-15.7 5.4l-7.9 1.4l-16 9.9l-16.2 3.7l-8.1 4.9l-8.2 2.7l-8.2 5.2l-8.3 2.3l-33.6 13.3l-8.5 1.8l-8.6 5.8l-8.6 2.8l-8.7 1.8l-17.5 10.9l-8.8 3.5l-17.8 5.2l-9 4.4l-9 2.8z" fill="url(#s44)" stroke="url(#s44)" stroke-width="0.6"/>
<path d="M351.6 679.3l9 -2.8l9 -4.4l17.8 -5.2l8.8 -3.5l17.5 -10.9l8.7 -1.8l8.6 -2.8l8.6 -5.8l8.5 -1.8l33.6 -13.3l8.3 -2.3l8.2 -5.2l8.2 -2.7l8.1 -4.9l16.2 -3.7l16 -9.9l7.9 -1.4l15.7 -5.4l15.6 -7.2l7.7 -2.6l7.7 -5l7.6 -1.7l7.6 -3.4l7.6 -4.2l7.5 -3.1l7.5 -1.6l14.8 -7.1l14.7 -3.9l7.3 -5.1l7.2 -3.2l14.4 -4.3l7.1 -3.6l14.2 -5.5l7 -4.3l7 -3.1l7 -2.1l13.8 -5.7l20.4 -7.1l6.7 -3.2l6.7 -4.7l13.3 -3.3l6.6 -2.7l3.4 -5.3l-6.6 2.7l-13.3 2.8l-6.7 5.1l-6.7 3.3l-20.4 6.7l-13.8 5.7l-7 1.8l-7 3.2l-7 4.6l-14.2 5.2l-7.1 3.9l-14.4 3.8l-7.2 3.2l-7.3 5.6l-14.7 3.5l-14.8 7.5l-7.5 1.4l-7.5 3l-7.6 4.5l-7.6 3.5l-7.6 1.5l-7.7 5l-7.7 2.6l-15.6 7.5l-7.8 2l-7.9 2.9l-7.9 1l-16 10.7l-16.2 2.9l-8.1 5.8l-8.2 2.4l-8.2 5.6l-8.3 1.9l-33.6 13.3l-8.5 1.3l-8.6 6.3l-8.6 2.5l-8.7 1.4l-17.5 11.6l-8.8 3.4l-17.8 4.8l-9 4.7l-9 2.6z" fill="url(#s45)" stroke="url(#s45)" stroke-width="0.6"/>
<path d="M355.2 673.4l9 -2.6l9 -4.7l17.8 -4.8l8.8 -3.4l17.5 -11.6l8.7 -1.4l8.6 -2.5l8.6 -6.3l8.5 -1.3l33.6 -13.3l8.3 -1.9l8.2 -5.6l8.2 -2.4l8.1 -5.8l16.2 -2.9l16 -10.7l7.9 -1l7.9 -2.9l7.8 -2l15.6 -7.5l7.7 -2.6l7.7 -5l7.6 -1.5l7.6 -3.5l7.6 -4.5l7.5 -3l7.5 -1.4l14.8 -7.5l14.7 -3.5l7.3 -5.6l7.2 -3.2l14.4 -3.8l7.1 -3.9l14.2 -5.2l7 -4.6l7 -3.2l7 -1.8l13.8 -5.7l20.4 -6.7l6.7 -3.3l6.7 -5.1l13.3 -2.8l6.6 -2.7l1.4 -7.7l-6.6 2.9l-13.3 2.4l-6.7 5.5l-6.7 3.2l-20.4 6.1l-13.8 5.8l-6.9 1.5l-7 3.3l-7 5l-14.1 4.6l-7.1 4.2l-14.4 3.3l-7.2 3.3l-7.3 6.1l-7.3 1.2l-7.4 2l-14.8 8.1l-7.5 1.2l-7.5 2.9l-7.5 4.6l-7.6 3.5l-7.6 1.6l-7.7 4.3l-7.7 2.9l-15.5 7.9l-7.8 1.1l-7.9 3l-7.9 0.7l-16 11.5l-8.1 0.5l-8.1 1.4l-8.1 7.1l-8.2 2.1l-8.2 6l-8.3 1.5l-25.1 10.5l-8.5 2.9l-8.5 0.8l-8.6 6.8l-8.6 2.3l-8.7 1.2l-17.5 12.1l-8.8 3.3l-17.8 4.6l-9 5l-9 2.5z" fill="url(#s46)" stroke="url(#s46)" stroke-width="0.6"/>
<path d="M356.6 664.9l9 -2.5l9 -5l17.8 -4.6l8.8 -3.3l17.5 -12.1l8.7 -1.2l8.6 -2.3l8.6 -6.8l8.5 -0.8l8.5 -2.9l25.1 -10.5l8.3 -1.5l8.2 -6l8.2 -2.1l8.1 -7.1l8.1 -1.4l8.1 -0.5l16 -11.5l7.9 -0.7l7.9 -3l7.8 -1.1l15.5 -7.9l7.7 -2.9l7.7 -4.3l7.6 -1.6l7.6 -3.5l7.5 -4.6l7.5 -2.9l7.5 -1.2l14.8 -8.1l7.4 -2l7.3 -1.2l7.3 -6.1l7.2 -3.3l14.4 -3.3l7.1 -4.2l14.1 -4.6l7 -5l7 -3.3l6.9 -1.5l13.8 -5.8l20.4 -6.1l6.7 -3.2l6.7 -5.5l13.3 -2.4l6.6 -2.9l0.8 -9.5l-6.6 3.1l-13.3 2.1l-6.7 5.8l-6.7 3.2l-6.8 1.4l-13.7 4l-13.8 5.8l-6.9 1.2l-7 3.4l-7 5.4l-7.1 1.4l-7.1 2.4l-7.1 4.5l-14.4 2.7l-7.2 3.4l-7.3 6.6l-7.3 1l-7.4 2l-14.8 8.8l-7.5 1.2l-7.5 2.8l-7.5 4.7l-7.6 3.6l-7.6 1.8l-7.7 3l-7.7 3.4l-15.5 8.2l-7.8 -0.2l-7.9 3.2l-7.9 0.5l-16 12.3l-8.1 -0.3l-8.1 1.3l-8.1 8.8l-8.2 1.6l-8.2 6.4l-8.3 1l-8.3 3.1l-16.8 8l-8.5 2.5l-8.5 0.1l-8.6 7.3l-8.6 2.1l-8.7 1.2l-17.5 12.4l-8.8 3.1l-17.8 4.5l-9 5.4l-9 2.4z" fill="url(#s47)" stroke="url(#s47)" stroke-width="0.6"/>
<path d="M357.4 654.7l9 -2.4l9 -5.4l17.8 -4.5l8.8 -3.1l17.5 -12.4l8.7 -1.2l8.6 -2.1l8.6 -7.3l8.5 -0.1l8.5 -2.5l16.8 -8l8.3 -3.1l8.3 -1l8.2 -6.4l8.2 -1.6l8.1 -8.8l8.1 -1.3l8.1 0.3l16 -12.3l7.9 -0.5l7.9 -3.2l7.8 0.2l15.5 -8.2l7.7 -3.4l7.7 -3l7.6 -1.8l7.6 -3.6l7.5 -4.7l7.5 -2.8l7.5 -1.2l14.8 -8.8l7.4 -2l7.3 -1l7.3 -6.6l7.2 -3.4l14.4 -2.7l7.1 -4.5l7.1 -2.4l7.1 -1.4l7 -5.4l7 -3.4l6.9 -1.2l13.8 -5.8l13.7 -4l6.8 -1.4l6.7 -3.2l6.7 -5.8l13.3 -2.1l6.6 -3.1l0.6 -12.6l-6.6 3.4l-13.3 1.7l-6.7 6.2l-6.7 3l-6.8 0.9l-13.7 3.6l-13.8 6l-6.9 0.7l-7 3.5l-7 5.9l-7.1 0.3l-7.1 2.4l-7.1 5l-14.4 2l-7.2 3.4l-7.3 7.2l-7.3 0.9l-7.4 2l-14.8 9.8l-7.5 1.1l-7.5 2.6l-7.5 4.8l-7.6 3.6l-7.6 2.2l-7.7 1.3l-15.5 8.2l-7.8 4.7l-7.8 -2l-7.9 3.5l-7.9 0.2l-16 13.3l-8.1 -1.3l-8.1 1.1l-8.1 11.1l-8.2 1l-8.2 6.9l-8.3 0.4l-8.3 3l-16.8 8.8l-8.5 2.1l-8.5 -0.7l-8.6 7.8l-17.3 2.9l-8.7 6.9l-8.8 5.7l-8.8 2.9l-17.8 4.4l-9 5.8l-9 2.4z" fill="url(#s48)" stroke="url(#s48)" stroke-width="0.6"/>
<path d="M358.1 641.3l9 -2.4l9 -5.8l17.8 -4.4l8.8 -2.9l8.8 -5.7l8.7 -6.9l17.3 -2.9l8.6 -7.8l8.5 0.7l8.5 -2.1l16.8 -8.8l8.3 -3l8.3 -0.4l8.2 -6.9l8.2 -1l8.1 -11.1l8.1 -1.1l8.1 1.3l16 -13.3l7.9 -0.2l7.9 -3.5l7.8 2l7.8 -4.7l15.5 -8.2l7.7 -1.3l0.6 -18.9l-7.7 -1.5l-7.7 5.3l-7.8 4l-7.8 5.5l-7.8 -4.8l-7.9 3.9l-7.9 -0.1l-16 14.7l-8.1 -2.9l-8.1 0.9l-8.1 14.7l-8.2 0.1l-8.2 7.5l-8.3 -0.5l-8.3 2.9l-16.8 10l-8.5 1.4l-8.5 -1.8l-8.6 8.6l-17.3 2.5l-8.7 7.6l-8.8 5.3l-26.6 6.9l-9 6.5l-9 2.4z" fill="url(#s49)" stroke="url(#s49)" stroke-width="0.6"/>
<path d="M607.5 541l7.6 -2.2l7.6 -3.6l7.5 -4.8l7.5 -2.6l7.5 -1.1l14.8 -9.8l7.4 -2l7.3 -0.9l7.3 -7.2l7.2 -3.4l14.4 -2l7.1 -5l7.1 -2.4l7.1 -0.3l7 -5.9l7 -3.5l6.9 -0.7l13.8 -6l13.7 -3.6l6.8 -0.9l6.7 -3l6.7 -6.2l13.3 -1.7l6.6 -3.4l0.6 -19l-6.6 3.9l-13.3 1.1l-6.7 6.8l-6.7 2.8l-6.8 0.3l-13.7 2.9l-13.8 6.1l-6.9 0.1l-7 3.8l-7 6.6l-7.1 -1.4l-7.1 2.4l-7.1 5.7l-14.4 1l-7.2 3.6l-7.3 8.1l-7.3 0.7l-7.4 2l-14.8 11.3l-7.5 1.2l-7.5 2.2l-7.5 5l-7.6 3.6l-7.6 2.8z" fill="url(#s50)" stroke="url(#s50)" stroke-width="0.6"/>
<path d="M358.8 621.1l9 -2.4l9 -6.5l26.6 -6.9l8.8 -5.3l8.7 -7.6l17.3 -2.5l8.6 -8.6l8.5 1.8l8.5 -1.4l16.8 -10l8.3 -2.9l8.3 0.5l8.2 -7.5l8.2 -0.1l8.1 -14.7l8.1 -0.9l8.1 2.9l16 -14.7l7.9 0.1l7.9 -3.9l7.8 4.8l7.8 -5.5l7.8 -4l7.7 -5.3l7.7 1.5l0.5 -19.3l-7.7 -4.5l-7.7 6.5l-7.8 4l-7.8 6.3l-7.8 -7.7l-7.9 4.4l-7.9 -0.4l-16 16l-8.1 -4.6l-8.1 0.7l-8.1 18.3l-8.2 -0.9l-8.2 8.2l-8.3 -1.4l-8.3 2.7l-8.4 6.1l-8.4 5.2l-8.5 0.7l-8.5 -3l-8.6 9.3l-17.3 2.1l-8.7 8.2l-8.8 4.9l-17.7 3.8l-8.9 2.9l-9 7.2l-9 2.4z" fill="url(#s51)" stroke="url(#s51)" stroke-width="0.6"/>
<path d="M608.1 522.1l7.6 -2.8l7.6 -3.6l7.5 -5l7.5 -2.2l7.5 -1.2l14.8 -11.3l7.4 -2l7.3 -0.7l7.3 -8.1l7.2 -3.6l14.4 -1l7.1 -5.7l7.1 -2.4l7.1 1.4l7 -6.6l7 -3.8l6.9 -0.1l13.8 -6.1l13.7 -2.9l6.8 -0.3l6.7 -2.8l6.7 -6.8l13.3 -1.1l6.6 -3.9l0.5 -19.5l-6.6 4.4l-13.3 0.6l-6.7 7.3l-6.7 2.5l-6.8 -0.4l-13.6 2.2l-13.8 6.3l-6.9 -0.6l-7 4l-7 7.2l-7.1 -3.1l-7.1 2.4l-7.1 6.4l-7.2 0.4l-7.2 -0.5l-7.2 3.7l-7.3 8.9l-7.3 0.5l-7.4 2l-7.4 7l-7.4 5.8l-15 3.2l-7.5 5.1l-15.2 7.1z" fill="url(#s52)" stroke="url(#s52)" stroke-width="0.6"/>
<path d="M359.2 600.4l9 -2.4l9 -7.2l8.9 -2.9l17.7 -3.8l8.8 -4.9l8.7 -8.2l17.3 -2.1l8.6 -9.3l8.5 3l8.5 -0.7l8.4 -5.2l8.4 -6.1l8.3 -2.7l8.3 1.4l8.2 -8.2l8.2 0.9l8.1 -18.3l8.1 -0.7l8.1 4.6l16 -16l7.9 0.4l7.9 -4.4l7.8 7.7l7.8 -6.3l7.8 -4l7.7 -6.5l7.7 4.5l0.5 -24.3l-7.7 -8.3l-7.7 8.1l-7.8 3.9l-7.8 7.4l-7.8 -11.4l-7.9 5.1l-7.9 -0.8l-16 17.8l-8 -6.6l-8.1 0.6l-8.1 23l-8.2 -2.1l-8.2 9l-8.3 -2.5l-8.3 2.6l-8.4 7.2l-8.4 5.7l-8.5 -0.2l-8.5 -4.5l-8.6 10.2l-8.6 0.3l-8.7 1.3l-8.7 8.9l-8.8 4.3l-17.7 3l-8.9 3.2l-9 8.1l-9 2.5z" fill="url(#s53)" stroke="url(#s53)" stroke-width="0.6"/>
<path d="M608.6 502.8l15.2 -7.1l7.5 -5.1l15 -3.2l7.4 -5.8l7.4 -7l7.4 -2l7.3 -0.5l7.3 -8.9l7.2 -3.7l7.2 0.5l7.2 -0.4l7.1 -6.4l7.1 -2.4l7.1 3.1l7 -7.2l7 -4l6.9 0.6l13.8 -6.3l13.6 -2.2l6.8 0.4l6.7 -2.5l6.7 -7.3l13.3 -0.6l6.6 -4.4l0.5 -24.6l-6.6 5.1l-6.6 -0.4l-6.7 0.4l-6.7 8l-6.7 2.2l-6.8 -1.3l-13.6 1.3l-13.8 6.6l-6.9 -1.4l-7 4.3l-7 8.1l-7.1 -5.3l-7.1 2.4l-7.1 7.4l-7.2 0.1l-7.2 -1.4l-7.2 3.9l-7.3 10l-7.3 0.3l-7.4 2.1l-7.4 8.2l-7.4 6.5l-15 2.8l-7.5 5.2l-15.2 8z" fill="url(#s54)" stroke="url(#s54)" stroke-width="0.6"/>
<path d="M359.7 574.3l9 -2.5l9 -8.1l8.9 -3.2l17.7 -3l8.8 -4.3l8.7 -8.9l8.7 -1.3l8.6 -0.3l8.6 -10.2l8.5 4.5l8.5 0.2l8.4 -5.7l8.4 -7.2l8.3 -2.6l8.3 2.5l8.2 -9l8.2 2.1l8.1 -23l8.1 -0.6l8 6.6l16 -17.8l7.9 0.8l7.9 -5.1l7.8 11.4l7.8 -7.4l7.8 -3.9l7.7 -8.1l7.7 8.3l0.5 -29.5l-7.7 -13l-7.7 10l-7.7 3.8l-7.8 8.6l-7.8 -15.8l-7.9 5.9l-7.9 -1.2l-16 19.8l-8 -9.1l-8.1 0.3l-8.1 28.6l-8.2 -3.5l-8.2 9.9l-8.3 -3.9l-8.3 2.4l-8.4 8.6l-8.4 6.4l-8.5 -1.3l-8.5 -6.3l-8.6 11.3l-8.6 -0.3l-8.7 1.4l-8.7 9.8l-8.8 3.6l-17.7 2.2l-8.9 3.6l-9 9.2l-9 2.5z" fill="url(#s55)" stroke="url(#s55)" stroke-width="0.6"/>
<path d="M609.1 478.5l15.2 -8l7.5 -5.2l15 -2.8l7.4 -6.5l7.4 -8.2l7.4 -2.1l7.3 -0.3l7.3 -10l7.2 -3.9l7.2 1.4l7.2 -0.1l7.1 -7.4l7.1 -2.4l7.1 5.3l7 -8.1l7 -4.3l6.9 1.4l13.8 -6.6l13.6 -1.3l6.8 1.3l6.7 -2.2l6.7 -8l6.7 -0.4l6.6 0.4l6.6 -5.1l0.5 -29.9l-6.6 5.9l-6.6 -1l-6.7 0.3l-6.7 8.7l-6.7 1.8l-6.8 -2.4l-6.8 -0.2l-6.8 0.5l-6.9 3l-6.9 3.8l-6.9 -2.4l-7 4.7l-7 9.1l-7.1 -8l-7.1 2.4l-7.1 8.5l-7.2 -0.3l-7.2 -2.6l-7.2 4l-7.3 11.2l-7.3 0.1l-7.4 2.1l-7.4 9.7l-7.4 7.4l-15 2.4l-7.5 5.3l-7.6 3.7l-7.6 5.5z" fill="url(#s56)" stroke="url(#s56)" stroke-width="0.6"/>
<path d="M360.2 542.6l9 -2.5l9 -9.2l8.9 -3.6l17.7 -2.2l8.8 -3.6l8.7 -9.8l8.7 -1.4l8.6 0.3l8.6 -11.3l8.5 6.3l8.5 1.3l8.4 -6.4l8.4 -8.6l8.3 -2.4l0.5 -37.4l-8.3 2.2l-8.4 10.2l-8.4 7.2l-8.5 -2.6l-8.5 -8.4l-8.6 12.6l-8.6 -1.1l-8.7 1.6l-8.7 10.8l-8.8 2.8l-17.7 1.2l-8.9 4.2l-9 10.4l-9 2.6z" fill="url(#s57)" stroke="url(#s57)" stroke-width="0.6"/>
<path d="M490.1 489.5l8.3 3.9l8.2 -9.9l8.2 3.5l8.1 -28.6l8.1 -0.3l8 9.1l16 -19.8l7.9 1.2l7.9 -5.9l7.8 15.8l7.8 -8.6l7.7 -3.8l7.7 -10l7.7 13l0.5 -34.4l-7.7 -18.5l-7.7 12.3l-7.7 3.8l-7.8 10.1l-7.8 -21.1l-7.9 6.8l-7.9 -1.7l-16 22.2l-8 -12l-8.1 0.1l-8.1 35.3l-8.2 -5.2l-8.2 11l-8.3 -5.5z" fill="url(#s58)" stroke="url(#s58)" stroke-width="0.6"/>
<path d="M609.6 449l7.6 -5.5l7.6 -3.7l7.5 -5.3l15 -2.4l7.4 -7.4l7.4 -9.7l7.4 -2.1l7.3 -0.1l7.3 -11.2l7.2 -4l7.2 2.6l7.2 0.3l7.1 -8.5l0.5 -39.2l-7.1 9.8l-7.2 -0.8l-7.2 -4l-7.2 4.3l-7.3 12.7l-7.3 -0.1l-7.3 2.2l-7.4 11.4l-7.4 8.5l-7.5 1.7l-7.5 0.3l-7.5 5.4l-7.6 3.7l-7.6 6.8z" fill="url(#s59)" stroke="url(#s59)" stroke-width="0.6"/>
<path d="M712.8 392l7.1 -2.4l7.1 8l7 -9.1l7 -4.7l6.9 2.4l6.9 -3.8l6.9 -3l6.8 -0.5l6.8 0.2l6.8 2.4l6.7 -1.8l6.7 -8.7l6.7 -0.3l6.6 1l6.6 -5.9l0.5 -34.9l-6.6 6.8l-6.6 -1.6l-6.7 0l-6.7 9.6l-6.7 1.3l-6.8 -3.6l-6.8 -1l-6.8 0.1l-6.9 3l-6.9 4.2l-6.9 -3.6l-7 5.1l-7 10.3l-7.1 -11.2l-7.1 2.3z" fill="url(#s60)" stroke="url(#s60)" stroke-width="0.6"/>
<path d="M360.7 505.7l9 -2.6l9 -10.4l8.9 -4.2l17.7 -1.2l8.8 -2.8l8.7 -10.8l8.7 -1.6l8.6 1.1l8.6 -12.6l8.5 8.4l8.5 2.6l8.4 -7.2l8.4 -10.2l8.3 -2.2l0.6 -56.9l-8.3 1.9l-8.4 12.7l-8.4 8.3l-8.5 -4.6l-8.5 -11.6l-8.6 14.4l-8.6 -2.3l-8.7 2l-8.7 12.3l-8.8 1.5l-8.8 -0.6l-8.9 0.2l-8.9 5l-9 12.3l-9 2.8z" fill="url(#s61)" stroke="url(#s61)" stroke-width="0.6"/>
<path d="M490.6 452.1l8.3 5.5l8.2 -11l8.2 5.2l8.1 -35.3l8.1 -0.1l8 12l16 -22.2l7.9 1.7l7.9 -6.8l7.8 21.1l7.8 -10.1l7.7 -3.8l7.7 -12.3l7.7 18.5l0.6 -52.3l-7.7 -27l-7.7 15.8l-7.7 3.6l-7.8 12.3l-7.8 -29.1l-7.9 8.3l-7.9 -2.3l-16 25.8l-8 -16.4l-8.1 -0.3l-8.1 45.4l-8.2 -7.8l-8.2 12.7l-8.3 -8z" fill="url(#s62)" stroke="url(#s62)" stroke-width="0.6"/>
<path d="M610 414.6l7.6 -6.8l7.6 -3.7l7.5 -5.4l7.5 -0.3l7.5 -1.7l7.4 -8.5l7.4 -11.4l7.3 -2.2l7.3 0.1l7.3 -12.7l7.2 -4.3l7.2 4l7.2 0.8l7.1 -9.8l0.6 -59.7l-7.1 11.8l-7.2 -1.4l-7.2 -6.2l-7.2 4.6l-7.3 14.8l-7.3 -0.5l-7.3 2.4l-7.4 14.1l-7.4 10.1l-7.5 2l-7.5 -0.6l-7.5 5.6l-7.6 3.7l-7.6 8.8z" fill="url(#s63)" stroke="url(#s63)" stroke-width="0.6"/>
<path d="M713.3 352.7l7.1 -2.3l7.1 11.2l7 -10.3l7 -5.1l6.9 3.6l6.9 -4.2l6.9 -3l6.8 -0.1l6.8 1l6.8 3.6l6.7 -1.3l6.7 -9.6l6.7 0l6.6 1.6l6.6 -6.8l0.6 -53.1l-6.6 8.2l-6.6 -2.5l-6.7 -0.3l-6.7 10.9l-6.7 0.5l-6.8 -5.5l-6.8 -2.3l-6.8 -0.6l-6.9 3.1l-6.9 4.7l-6.9 -5.3l-7 5.8l-7 12.2l-7.1 -16l-7.1 2.3z" fill="url(#s64)" stroke="url(#s64)" stroke-width="0.6"/>
<path d="M361.4 449.5l9 -2.8l9 -12.3l8.9 -5l8.9 -0.2l8.8 0.6l8.8 -1.5l8.7 -12.3l8.7 -2l8.6 2.3l8.6 -14.4l8.5 11.6l8.5 4.6l8.4 -8.3l8.4 -12.7l8.3 -1.9l1.3 -123.9l-8.3 1.2l-8.4 18.1l-8.4 10.9l-8.5 -8.9l-8.5 -18.5l-8.6 18.4l-8.6 -4.8l-8.7 2.8l-8.7 15.6l-8.8 -1.6l-8.8 -2.8l-8.9 -0.8l-8.9 6.9l-9 16.4l-9 3.2z" fill="url(#s65)" stroke="url(#s65)" stroke-width="0.6"/>
<path d="M491.2 395.2l8.3 8l8.2 -12.7l8.2 7.8l8.1 -45.4l8.1 0.3l8 16.4l16 -25.8l7.9 2.3l7.9 -8.3l7.8 29.1l7.8 -12.3l7.7 -3.6l7.7 -15.8l7.7 27l1.3 -113.8l-7.7 -45.8l-7.7 23.4l-7.7 3.2l-7.8 17.3l-7.8 -46.6l-7.9 11.5l-7.9 -3.7l-16 33.5l-8 -26l-8.1 -0.9l-8.1 67.5l-8.2 -13.5l-8.2 16.2l-8.3 -13.3z" fill="url(#s66)" stroke="url(#s66)" stroke-width="0.6"/>
<path d="M610.7 362.3l7.6 -8.8l7.6 -3.7l7.5 -5.6l7.5 0.6l7.5 -2l7.4 -10.1l7.4 -14.1l7.3 -2.4l7.3 0.5l7.3 -14.8l7.2 -4.6l7.2 6.2l7.2 1.4l7.1 -11.8l1.3 -130.1l-7.1 16.1l-7.2 -2.8l-7.2 -10.8l-7.2 5.3l-7.3 19.4l-7.3 -1.1l-7.3 2.8l-7.4 19.9l-7.4 13.5l-7.5 2.8l-7.5 -2.7l-7.5 6l-7.6 3.7l-7.6 13.4z" fill="url(#s67)" stroke="url(#s67)" stroke-width="0.6"/>
<path d="M713.9 293.1l7.1 -2.3l7.1 16l7 -12.2l7 -5.8l6.9 5.3l6.9 -4.7l6.9 -3.1l6.8 0.6l6.8 2.3l6.8 5.5l6.7 -0.5l6.7 -10.9l6.7 0.3l6.6 2.5l6.6 -8.2l1.2 -115.6l-6.6 11.4l-6.6 -4.5l-6.7 -0.9l-6.7 13.7l-6.7 -1.2l-6.8 -9.6l-6.8 -5l-6.8 -1.9l-6.9 3.1l-6.9 5.8l-6.9 -9.2l-7 7.3l-7 16.1l-7 -26.6l-7.1 2.3z" fill="url(#s68)" stroke="url(#s68)" stroke-width="0.6"/>
<path d="M362.7 327.4l9 -3.2l9 -16.4l8.9 -6.9l8.9 0.8l8.8 2.8l8.8 1.6l8.7 -15.6l8.7 -2.8l8.6 4.8l8.6 -18.4l8.5 18.5l8.5 8.9l8.4 -10.9l8.4 -18.1l8.3 -1.2l0.3 -27.5l-8.3 1l-8.4 19.3l-8.4 11.5l-8.5 -9.8l-8.5 -20.1l-8.6 19.3l-8.6 -5.3l-8.7 3l-8.7 16.3l-8.8 -2.3l-8.8 -3.3l-8.9 -1.1l-8.9 7.3l-9 17.3l-9 3.3z" fill="url(#s69)" stroke="url(#s69)" stroke-width="0.6"/>
<path d="M492.5 271.2l8.3 13.3l8.2 -16.2l8.2 13.5l8.1 -67.5l8.1 0.9l8 26l16 -33.5l7.9 3.7l7.9 -11.5l7.8 46.6l7.8 -17.3l7.7 -3.2l7.7 -23.4l7.7 45.8l0.3 -25.2l-7.7 -50l-7.7 25.1l-7.7 3.2l-7.8 18.4l-7.8 -50.5l-7.9 12.2l-7.9 -4l-16 35.1l-8 -28.1l-8.1 -1.1l-8.1 72.4l-8.2 -14.7l-8.2 17l-8.3 -14.5z" fill="url(#s70)" stroke="url(#s70)" stroke-width="0.6"/>
<path d="M612 248.5l7.6 -13.4l7.6 -3.7l7.5 -6l7.5 2.7l7.5 -2.8l7.4 -13.5l7.4 -19.9l7.3 -2.8l7.3 1.1l7.3 -19.4l7.2 -5.3l7.2 10.8l7.2 2.8l7.1 -16.1l0.3 -28.8l-7.1 17l-7.2 -3l-7.2 -11.8l-7.2 5.5l-7.3 20.5l-7.3 -1.2l-7.3 2.9l-7.4 21.1l-7.4 14.3l-7.5 3l-7.5 -3.1l-7.5 6.1l-7.6 3.7l-7.6 14.4z" fill="url(#s71)" stroke="url(#s71)" stroke-width="0.6"/>
<path d="M715.1 163l7.1 -2.3l7 26.6l7 -16.1l7 -7.3l6.9 9.2l6.9 -5.8l6.9 -3.1l6.8 1.9l6.8 5l6.8 9.6l6.7 1.2l6.7 -13.7l6.7 0.9l6.6 4.5l6.6 -11.4l0.3 -25.6l-6.6 12.1l-6.6 -4.9l-6.7 -1l-6.7 14.3l-6.7 -1.6l-6.8 -10.5l-6.8 -5.6l-6.8 -2.2l-6.9 3.1l-6.9 6l-6.9 -10l-7 7.6l-7 16.9l-7 -29l-7.1 2.3z" fill="url(#s72)" stroke="url(#s72)" stroke-width="0.6"/>
<path d="M363 300.4l9 -3.3l9 -17.3l8.9 -7.3l8.9 1.1l8.8 3.3l8.8 2.3l8.7 -16.3l8.7 -3l8.6 5.3l8.6 -19.3l8.5 20.1l8.5 9.8l8.4 -11.5l8.4 -19.3l8.3 -1l0.3 -21.5l-8.3 0.9l-8.4 20.3l-8.4 11.9l-8.5 -10.6l-8.5 -21.3l-8.6 19.9l-8.6 -5.8l-8.7 3.2l-8.7 16.9l-8.8 -2.9l-8.8 -3.6l-8.9 -1.2l-8.9 7.7l-9 18.1l-9 3.4z" fill="url(#s73)" stroke="url(#s73)" stroke-width="0.6"/>
<path d="M492.8 243.8l8.3 14.5l8.2 -17l8.2 14.7l8.1 -72.4l8.1 1.1l8 28.1l16 -35.1l7.9 4l7.9 -12.2l7.8 50.5l7.8 -18.4l7.7 -3.2l7.7 -25.1l7.7 50l0.3 -19.7l-7.7 -53.4l-7.7 26.5l-7.7 3.1l-7.8 19.2l-7.8 -53.6l-7.9 12.7l-7.9 -4.2l-16 36.4l-8 -29.8l-8.1 -1.2l-8.1 76.3l-8.2 -15.7l-8.2 17.6l-8.3 -15.4z" fill="url(#s74)" stroke="url(#s74)" stroke-width="0.6"/>
<path d="M612.3 223.3l7.6 -14.4l7.6 -3.7l7.5 -6.1l7.5 3.1l7.5 -3l7.4 -14.3l7.4 -21.1l7.3 -2.9l7.3 1.2l7.3 -20.5l7.2 -5.5l7.2 11.8l7.2 3l7.1 -17l0.3 -22.6l-7.1 17.8l-7.2 -3.3l-7.2 -12.6l-7.2 5.6l-7.3 21.2l-7.3 -1.3l-7.3 3l-7.4 22.2l-7.4 14.9l-7.5 3.2l-7.5 -3.5l-7.5 6.1l-7.6 3.7l-7.6 15.3z" fill="url(#s75)" stroke="url(#s75)" stroke-width="0.6"/>
<path d="M715.4 134.1l7.1 -2.3l7 29l7 -16.9l7 -7.6l6.9 10l6.9 -6l6.9 -3.1l6.8 2.2l6.8 5.6l6.8 10.5l6.7 1.6l6.7 -14.3l6.7 1l6.6 4.9l6.6 -12.1l0.3 -20l-6.6 12.6l-6.6 -5.3l-6.7 -1.1l-6.7 14.8l-6.7 -1.9l-6.8 -11.2l-6.8 -6.1l-6.8 -2.4l-6.9 3.1l-6.9 6.2l-6.9 -10.7l-7 7.9l-7 17.6l-7 -30.9l-7.1 2.4z" fill="url(#s76)" stroke="url(#s76)" stroke-width="0.6"/>
<path d="M342.9 675.7l2.9 6.6l5.7 -3l3.6 -6l1.5 -8.4l0.8 -10.2l1.3 -33.6l1 -46.8l3.6 -295M360.9 668.6l2.9 6.5l5.7 -3l3.6 -6l1.5 -8.7l0.8 -10.5l1.3 -34.8l1 -48.5l3.6 -305.9M378.7 663.7l2.9 5.8l5.7 -2.6l3.6 -5.6l1.5 -8.4l0.8 -10.4l1.3 -34.7l1 -48.6l3.6 -307.8M396.3 654.4l2.9 6.4l5.7 -2.9l3.6 -5.9l1.5 -8.4l0.8 -10.1l1.3 -33.6l1 -46.8l3.6 -295.3M413.7 647.5l2.9 6.3l5.7 -3l3.6 -5.9l1.5 -8.6l0.8 -10.4l1.3 -34.6l1 -48.3l3.6 -305.2M430.9 638.8l2.9 6.7l5.7 -3.3l3.6 -6.3l1.5 -8.8l0.8 -10.6l1.3 -35.2l1 -49l3.6 -308.8M447.9 633.8l2.9 6.2l5.6 -2.8l3.6 -5.6l1.5 -8l0.8 -9.7l1.3 -32.1l1 -44.6l3.6 -281.7M464.7 627.1l2.9 6.1l5.6 -2.9l3.5 -5.8l1.5 -8.4l0.8 -10.3l1.3 -34.1l1 -47.6l3.6 -300.9M481.3 621.7l2.9 5.7l5.6 -2.6l3.5 -5.4l1.4 -7.9l0.8 -9.7l1.3 -32.4l1 -45.3l3.6 -286.4M497.8 613.7l2.9 6l5.6 -2.8l3.5 -5.6l1.4 -8l0.8 -9.7l1.3 -32l1 -44.6l3.5 -281.3M514 607.2l2.9 5.9l5.6 -3l3.5 -6.1l1.4 -9.1l0.8 -11.2l1.3 -37.5l1 -52.5l3.5 -332.9M530.1 600.4l2.9 5.9l5.6 -3l3.5 -6l1.4 -8.8l0.8 -10.8l1.3 -36l1 -50.4l3.5 -319.1M546 594.2l2.9 5.8l5.6 -2.9l3.5 -6l1.4 -8.9l0.8 -11l1.3 -36.6l1 -51.3l3.5 -325M561.8 588.7l2.9 5.6l5.6 -2.6l3.5 -5.5l1.4 -8l0.8 -9.8l1.3 -32.8l1 -45.9l3.5 -290.4M577.3 581.4l2.9 5.8l5.6 -2.8l3.5 -5.7l1.4 -8.4l0.8 -10.2l1.3 -34.1l1 -47.6l3.5 -301.5M592.8 573.5l2.8 6.2l5.5 -3l3.5 -5.7l1.4 -7.9l0.8 -9.5l1.3 -31.4l1 -43.6l3.5 -274.8M608 568.6l2.8 5.8l5.5 -2.8l3.5 -5.6l1.4 -8l0.8 -9.8l1.3 -32.4l1 -45.2l3.5 -285.8M623.1 561.2l2.8 6.1l5.5 -3l3.5 -5.8l1.4 -8.1l0.8 -9.7l1.3 -32.1l1 -44.7l3.5 -281.7M638 556.2l2.8 5.8l5.5 -2.9l3.5 -5.7l1.4 -8.2l0.8 -10l1.3 -33.1l0.9 -46.2l3.5 -291.9M652.8 550.6l2.8 5.6l5.5 -2.9l3.5 -5.8l1.4 -8.5l0.8 -10.4l1.3 -34.6l0.9 -48.4l3.5 -306.7M667.4 543.8l2.8 5.8l5.5 -3.1l3.5 -6l1.4 -8.8l0.8 -10.7l1.3 -35.7l0.9 -50l3.5 -316.3M681.9 538.2l2.8 5.7l5.5 -3l3.5 -5.9l1.4 -8.5l0.8 -10.4l1.3 -34.7l0.9 -48.5l3.5 -306.9M696.2 532.9l2.8 5.5l5.5 -2.9l3.4 -5.8l1.4 -8.6l0.8 -10.6l1.3 -35.4l0.9 -49.5l3.5 -314M710.4 527.3l2.8 5.5l5.5 -2.8l3.4 -5.5l1.4 -8l0.8 -9.8l1.3 -32.6l0.9 -45.6l3.4 -288.4M724.4 519.9l2.8 5.9l5.4 -3.1l3.4 -6l1.4 -8.5l0.8 -10.3l1.2 -34.2l0.9 -47.7l3.4 -301.4M738.3 515.2l2.8 5.6l5.4 -2.9l3.4 -5.7l1.4 -8.2l0.8 -10l1.2 -33.4l0.9 -46.6l3.4 -294.8M752 510.1l2.8 5.4l5.4 -2.8l3.4 -5.6l1.4 -8.1l0.8 -9.9l1.2 -33l0.9 -46.1l3.4 -291.7M765.7 505.2l2.8 5.3l5.4 -2.7l3.4 -5.3l1.4 -7.7l0.8 -9.4l1.2 -31.1l0.9 -43.5l3.4 -275.2M779.1 497.1l2.8 5.9l5.4 -3.1l3.4 -5.8l1.4 -8l0.8 -9.6l1.2 -31.7l0.9 -44.1l3.4 -277.9M792.5 494l2.8 5.3l5.4 -2.7l3.4 -5.3l1.4 -7.6l0.8 -9.3l1.2 -30.8l0.9 -42.9l3.4 -271.6M347.8 682.4l9 -2.9l9 -4.3l17.8 -5.6l8.8 -3.5l17.5 -10.2l8.7 -2.1l8.6 -2.9l8.6 -5.4l8.5 -2.2l33.6 -13.4l8.3 -2.5l8.2 -4.8l8.2 -2.9l8.1 -4.5l16.2 -4.3l16 -9.2l7.9 -1.7l15.7 -5.7l15.6 -7.1l7.7 -2.6l7.7 -4.8l7.6 -1.9l15.2 -7.4l7.5 -3.1l7.5 -1.9l14.8 -6.9l14.7 -4.3l7.3 -4.7l7.2 -3.1l14.4 -4.6l7.1 -3.5l14.2 -5.6l7 -4l7 -3l7 -2.2l13.8 -5.7l20.5 -7.4l6.8 -3.2l6.7 -4.3l13.3 -3.7l6.6 -2.7" fill="none" stroke="#b4b4b4" stroke-opacity="0.8" stroke-width="1"/>
<path d="M356.8 662.3l455.4 -183.9M359 609.4l455.2 -176.3M360 556.2l455.1 -168.6M360.8 502.8l455 -160.8M361.4 449.4l454.9 -153.1M361.9 396l454.9 -145.3M362.5 342.5l454.8 -137.5M363.2 289l454.6 -129.8M525.6 191.8l8.1 -2.2M549.9 185.4l23.5 -6.4M664.9 154.6l57.5 -15.5M736.7 135.4l34.6 -9.2" fill="none" stroke="#3a3a3a" stroke-opacity="0.85" stroke-width="1.1"/>
<path d="M363.3 279.3l9 -3.4l9 -18.1l8.9 -7.7l8.9 1.2l8.8 3.6l8.8 2.9l8.7 -16.9l8.7 -3.2l8.6 5.8l8.6 -19.9l8.5 21.3l8.5 10.6l8.4 -11.9l8.4 -20.3l8.3 -0.9l0.2 -7.3l-8.3 0.9l-8.4 20.6l-8.4 12.1l-8.5 -10.9l-8.5 -21.7l-8.6 20.1l-8.6 -5.9l-8.7 3.3l-8.7 17l-17.5 -6.8l-8.9 -1.3l-8.9 7.8l-9 18.3l-9 3.4z" fill="url(#s77)" stroke="url(#s77)" stroke-width="0.6"/>
<path d="M493.2 222.3l8.3 15.4l8.2 -17.6l8.2 15.7l8.1 -76.3l8.1 1.2l8 29.8l16 -36.4l7.9 4.2l7.9 -12.7l7.8 53.6l7.8 -19.2l7.7 -3.1l7.7 -26.5l7.7 53.4l0.2 -6.7l-7.7 -54.5l-7.7 27l-7.7 3.1l-7.8 19.5l-7.8 -54.7l-7.9 12.9l-7.9 -4.3l-16 36.9l-8 -30.4l-8.1 -1.2l-8.1 77.6l-8.2 -16.1l-8.2 17.8l-8.3 -15.7z" fill="url(#s78)" stroke="url(#s78)" stroke-width="0.6"/>
<path d="M612.6 203.7l7.6 -15.3l7.6 -3.7l7.5 -6.1l7.5 3.5l7.5 -3.2l7.4 -14.9l7.4 -22.2l7.3 -3l7.3 1.3l7.3 -21.2l7.2 -5.6l7.2 12.6l7.2 3.3l7.1 -17.8l0.2 -7.7l-7.1 18l-7.2 -3.3l-7.2 -12.9l-7.2 5.6l-7.3 21.5l-7.3 -1.4l-7.3 3l-7.4 22.5l-7.4 15.1l-7.5 3.2l-7.5 -3.6l-7.5 6.1l-7.6 3.7l-7.6 15.6z" fill="url(#s79)" stroke="url(#s79)" stroke-width="0.6"/>
<path d="M715.8 111.6l7.1 -2.4l7 30.9l7 -17.6l7 -7.9l6.9 10.7l6.9 -6.2l6.9 -3.1l6.8 2.4l6.8 6.1l6.8 11.2l6.7 1.9l6.7 -14.8l6.7 1.1l6.6 5.3l6.6 -12.6l0.2 -6.8l-6.6 12.8l-6.6 -5.4l-6.7 -1.1l-6.7 14.9l-6.7 -2l-6.8 -11.5l-6.8 -6.3l-6.8 -2.5l-6.9 3.1l-6.9 6.3l-6.9 -10.9l-7 7.9l-7 17.8l-7 -31.5l-7.1 2.4z" fill="url(#s80)" stroke="url(#s80)" stroke-width="0.6"/>
<path d="M363.5 272.1l9 -3.4l9 -18.3l8.9 -7.8l8.9 1.3l17.5 6.8l8.7 -17l8.7 -3.3l8.6 5.9l8.6 -20.1l8.5 21.7l8.5 10.9l8.4 -12.1l8.4 -20.6l8.3 -0.9l0.2 -4.5l-8.3 0.9l-8.4 20.8l-8.4 12.2l-8.5 -11l-8.5 -21.9l-8.6 20.3l-8.6 -6l-8.7 3.3l-8.7 17.1l-17.5 -7.1l-8.9 -1.3l-8.9 7.9l-9 18.4l-9 3.5z" fill="url(#s81)" stroke="url(#s81)" stroke-width="0.6"/>
<path d="M493.3 215l8.3 15.7l8.2 -17.8l8.2 16.1l8.1 -77.6l8.1 1.2l8 30.4l16 -36.9l7.9 4.3l7.9 -12.9l7.8 54.7l7.8 -19.5l7.7 -3.1l7.7 -27l7.7 54.5l0.2 -4.1l-7.7 -55.3l-7.7 27.3l-7.7 3l-7.8 19.7l-7.8 -55.3l-7.9 13.1l-7.9 -4.3l-16 37.1l-8 -30.7l-8.1 -1.2l-8.1 78.5l-8.2 -16.3l-8.2 17.9l-8.3 -15.9z" fill="url(#s82)" stroke="url(#s82)" stroke-width="0.6"/>
<path d="M612.8 197l7.6 -15.6l7.6 -3.7l7.5 -6.1l7.5 3.6l7.5 -3.2l7.4 -15.1l7.4 -22.5l7.3 -3l7.3 1.4l7.3 -21.5l7.2 -5.6l7.2 12.9l7.2 3.3l7.1 -18l0.2 -4.7l-7.1 18.2l-7.2 -3.4l-7.2 -13.1l-7.2 5.7l-7.3 21.7l-7.3 -1.4l-7.3 3l-7.4 22.7l-7.4 15.2l-7.5 3.3l-7.5 -3.7l-7.5 6.1l-7.6 3.7l-7.6 15.8z" fill="url(#s83)" stroke="url(#s83)" stroke-width="0.6"/>
<path d="M715.9 103.8l7.1 -2.4l7 31.5l7 -17.8l7 -7.9l6.9 10.9l6.9 -6.3l6.9 -3.1l6.8 2.5l6.8 6.3l6.8 11.5l6.7 2l6.7 -14.9l6.7 1.1l6.6 5.4l6.6 -12.8l0.2 -4.2l-6.6 13l-6.6 -5.5l-6.7 -1.1l-6.7 15l-6.7 -2l-6.8 -11.6l-6.8 -6.4l-6.8 -2.5l-6.9 3.1l-6.9 6.3l-6.9 -11.1l-7 8l-7 17.9l-7 -31.9l-7.1 2.4z" fill="url(#s84)" stroke="url(#s84)" stroke-width="0.6"/>
<path d="M363.7 267.7l9 -3.5l9 -18.4l8.9 -7.9l8.9 1.3l17.5 7.1l8.7 -17.1l8.7 -3.3l8.6 6l8.6 -20.3l8.5 21.9l8.5 11l8.4 -12.2l8.4 -20.8l8.3 -0.9l0.2 -1.3l-8.3 0.8l-8.4 20.9l-8.4 12.2l-8.5 -11.1l-8.5 -22l-8.6 20.3l-8.6 -6l-8.7 3.4l-8.7 17.2l-17.5 -7.1l-8.9 -1.3l-8.9 8l-9 18.5l-9 3.5z" fill="url(#s85)" stroke="url(#s85)" stroke-width="0.6"/>
<path d="M493.5 210.5l8.3 15.9l8.2 -17.9l8.2 16.3l8.1 -78.5l8.1 1.2l8 30.7l16 -37.1l7.9 4.3l7.9 -13.1l7.8 55.3l7.8 -19.7l7.7 -3l7.7 -27.3l7.7 55.3l0.2 -1.2l-7.7 -55.6l-7.7 27.4l-7.7 3l-7.8 19.8l-7.8 -55.5l-7.9 13.1l-7.9 -4.3l-16 37.2l-8 -30.8l-8.1 -1.2l-8.1 78.7l-8.2 -16.3l-8.2 17.9l-8.3 -16z" fill="url(#s86)" stroke="url(#s86)" stroke-width="0.6"/>
<path d="M612.9 192.9l7.6 -15.8l7.6 -3.7l7.5 -6.1l7.5 3.7l7.5 -3.3l7.4 -15.2l7.4 -22.7l7.3 -3l7.3 1.4l7.3 -21.7l7.2 -5.7l7.2 13.1l7.2 3.4l7.1 -18.2l0.2 -1.4l-7.1 18.2l-7.2 -3.4l-7.2 -13.1l-7.2 5.7l-7.3 21.7l-7.3 -1.4l-7.3 3.1l-7.4 22.8l-7.4 15.2l-7.5 3.3l-7.5 -3.7l-7.5 6.1l-7.6 3.7l-7.6 15.8z" fill="url(#s87)" stroke="url(#s87)" stroke-width="0.6"/>
<path d="M716.1 99.1l7.1 -2.4l7 31.9l7 -17.9l7 -8l6.9 11.1l6.9 -6.3l6.9 -3.1l6.8 2.5l6.8 6.4l6.8 11.6l6.7 2l6.7 -15l6.7 1.1l6.6 5.5l6.6 -13l0.2 -1.3l-6.6 13l-6.6 -5.5l-6.7 -1.1l-6.7 15l-6.7 -2.1l-6.8 -11.7l-6.8 -6.4l-6.8 -2.5l-6.9 3.1l-6.9 6.3l-6.9 -11.1l-7 8l-7 18l-7 -32.1l-7.1 2.4z" fill="url(#s88)" stroke="url(#s88)" stroke-width="0.6"/>
<path d="M363.8 266.4l9 -3.5l9 -18.5l8.9 -8l8.9 1.3l17.5 7.1l8.7 -17.2l8.7 -3.4l8.6 6l8.6 -20.3l8.5 22l8.5 11.1l8.4 -12.2l8.4 -20.9l8.3 -0.8l0.2 1.9l-8.3 0.9l-8.4 20.9l-8.4 12.2l-8.5 -11l-8.5 -21.9l-8.6 20.2l-8.6 -6l-8.7 3.4l-8.7 17.1l-17.5 -7.1l-8.9 -1.3l-8.9 8l-9 18.4l-9 3.5z" fill="url(#s89)" stroke="url(#s89)" stroke-width="0.6"/>
<path d="M493.6 209.2l8.3 16l8.2 -17.9l8.2 16.3l8.1 -78.7l8.1 1.2l8 30.8l16 -37.2l7.9 4.3l7.9 -13.1l7.8 55.5l7.8 -19.8l7.7 -3l7.7 -27.4l7.7 55.6l0.2 1.8l-7.7 -55.3l-7.7 27.3l-7.7 3l-7.8 19.7l-7.8 -55.3l-7.9 13.1l-7.9 -4.2l-16 37l-8 -30.7l-8.1 -1.1l-8.1 78.4l-8.2 -16.3l-8.2 17.8l-8.3 -15.9z" fill="url(#s90)" stroke="url(#s90)" stroke-width="0.6"/>
<path d="M613.1 191.7l7.6 -15.8l7.6 -3.7l7.5 -6.1l7.5 3.7l7.5 -3.3l7.4 -15.2l7.4 -22.8l7.3 -3.1l7.3 1.4l7.3 -21.7l7.2 -5.7l7.2 13.1l7.2 3.4l7.1 -18.2l0.2 2l-7.1 18.2l-7.2 -3.3l-7.2 -13.1l-7.2 5.7l-7.3 21.6l-7.3 -1.3l-7.3 3.1l-7.4 22.7l-7.4 15.2l-7.5 3.3l-7.5 -3.7l-7.5 6.1l-7.6 3.7l-7.6 15.8z" fill="url(#s91)" stroke="url(#s91)" stroke-width="0.6"/>
<path d="M716.2 97.7l7.1 -2.4l7 32.1l7 -18l7 -8l6.9 11.1l6.9 -6.3l6.9 -3.1l6.8 2.5l6.8 6.4l6.8 11.7l6.7 2.1l6.7 -15l6.7 1.1l6.6 5.5l6.6 -13l0.2 1.8l-6.6 13l-6.6 -5.4l-6.7 -1.1l-6.7 15l-6.7 -2.1l-6.8 -11.6l-6.8 -6.4l-6.8 -2.5l-6.9 3.1l-6.9 6.3l-6.9 -11l-7 8l-7 17.9l-7 -31.9l-7.1 2.4z" fill="url(#s92)" stroke="url(#s92)" stroke-width="0.6"/>
<path d="M364 268.3l9 -3.5l9 -18.4l8.9 -8l8.9 1.3l17.5 7.1l8.7 -17.1l8.7 -3.4l8.6 6l8.6 -20.2l8.5 21.9l8.5 11l8.4 -12.2l8.4 -20.9l8.3 -0.9l0.2 5.1l-8.3 0.9l-8.4 20.7l-8.4 12.1l-8.5 -10.8l-8.5 -21.6l-8.6 20l-8.6 -5.9l-8.7 3.4l-8.7 17l-17.5 -6.9l-8.9 -1.2l-8.9 7.9l-9 18.3l-9 3.5z" fill="url(#s93)" stroke="url(#s93)" stroke-width="0.6"/>
<path d="M493.8 211.1l8.3 15.9l8.2 -17.8l8.2 16.3l8.1 -78.4l8.1 1.1l8 30.7l16 -37l7.9 4.2l7.9 -13.1l7.8 55.3l7.8 -19.7l7.7 -3l7.7 -27.3l7.7 55.3l0.2 4.7l-7.7 -54.7l-7.7 27l-7.7 3l-7.8 19.5l-7.8 -54.6l-7.9 13l-7.9 -4.2l-16 36.7l-8 -30.3l-8.1 -1.1l-8.1 77.6l-8.2 -16l-8.2 17.7l-8.3 -15.7z" fill="url(#s94)" stroke="url(#s94)" stroke-width="0.6"/>
<path d="M613.2 193.5l7.6 -15.8l7.6 -3.7l7.5 -6.1l7.5 3.7l7.5 -3.3l7.4 -15.2l7.4 -22.7l7.3 -3.1l7.3 1.3l7.3 -21.6l7.2 -5.7l7.2 13.1l7.2 3.3l7.1 -18.2l0.2 5.3l-7.1 18l-7.2 -3.3l-7.2 -12.9l-7.2 5.6l-7.3 21.4l-7.3 -1.3l-7.3 3.1l-7.4 22.5l-7.4 15l-7.5 3.3l-7.5 -3.6l-7.5 6.1l-7.6 3.7l-7.6 15.7z" fill="url(#s95)" stroke="url(#s95)" stroke-width="0.6"/>
<path d="M716.4 99.7l7.1 -2.4l7 31.9l7 -17.9l7 -8l6.9 11l6.9 -6.3l6.9 -3.1l6.8 2.5l6.8 6.4l6.8 11.6l6.7 2.1l6.7 -15l6.7 1.1l6.6 5.4l6.6 -13l0.2 4.7l-6.6 12.8l-6.6 -5.3l-6.7 -1l-6.7 14.8l-6.7 -2l-6.8 -11.4l-6.8 -6.3l-6.8 -2.4l-6.9 3.1l-6.9 6.3l-6.9 -10.9l-7 7.9l-7 17.7l-7 -31.5l-7.1 2.4z" fill="url(#s96)" stroke="url(#s96)" stroke-width="0.6"/>
<path d="M364.2 273.3l9 -3.5l9 -18.3l8.9 -7.9l8.9 1.2l17.5 6.9l8.7 -17l8.7 -3.4l8.6 5.9l8.6 -20l8.5 21.6l8.5 10.8l8.4 -12.1l8.4 -20.7l8.3 -0.9l0.2 7.9l-8.3 0.9l-8.4 20.3l-8.4 11.9l-8.5 -10.6l-8.5 -21.1l-8.6 19.7l-8.6 -5.7l-8.7 3.4l-8.7 16.7l-17.5 -6.6l-8.8 -1.2l-8.9 7.8l-9 18l-9 3.5z" fill="url(#s97)" stroke="url(#s97)" stroke-width="0.6"/>
<path d="M494 216.1l8.3 15.7l8.2 -17.7l8.2 16l8.1 -77.6l8.1 1.1l8 30.3l16 -36.7l7.9 4.2l7.9 -13l7.8 54.6l7.8 -19.5l7.7 -3l7.7 -27l7.7 54.7l0.2 7.3l-7.7 -53.6l-7.7 26.6l-7.7 3l-7.8 19.2l-7.8 -53.6l-7.9 12.8l-7.9 -4l-16 36.2l-8 -29.7l-8.1 -1l-8.1 76.2l-8.2 -15.7l-8.2 17.4l-8.3 -15.3z" fill="url(#s98)" stroke="url(#s98)" stroke-width="0.6"/>
<path d="M613.4 198.2l7.6 -15.7l7.6 -3.7l7.5 -6.1l7.5 3.6l7.5 -3.3l7.4 -15l7.4 -22.5l7.3 -3.1l7.3 1.3l7.3 -21.4l7.2 -5.6l7.2 12.9l7.2 3.3l7.1 -18l0.2 8.3l-7.1 17.7l-7.2 -3.2l-7.2 -12.6l-7.2 5.6l-7.3 21.1l-7.3 -1.2l-7.3 3.1l-7.4 22.1l-7.4 14.8l-7.5 3.3l-7.5 -3.5l-7.5 6l-7.6 3.7l-7.6 15.4z" fill="url(#s99)" stroke="url(#s99)" stroke-width="0.6"/>
<path d="M716.6 104.9l7.1 -2.4l7 31.5l7 -17.7l7 -7.9l6.9 10.9l6.9 -6.3l6.9 -3.1l6.8 2.4l6.8 6.3l6.8 11.4l6.7 2l6.7 -14.8l6.7 1l6.6 5.3l6.6 -12.8l0.2 7.4l-6.6 12.7l-6.6 -5.2l-6.7 -1l-6.7 14.6l-6.7 -1.9l-6.8 -11.2l-6.8 -6.1l-6.8 -2.4l-6.9 3.1l-6.9 6.2l-6.9 -10.6l-7 7.8l-7 17.5l-7 -30.9l-7.1 2.4z" fill="url(#s100)" stroke="url(#s100)" stroke-width="0.6"/>
<path d="M364.3 281.2l9 -3.5l9 -18l8.9 -7.8l8.8 1.2l17.5 6.6l8.7 -16.7l8.7 -3.4l8.6 5.7l8.6 -19.7l8.5 21.1l8.5 10.6l8.4 -11.9l8.4 -20.3l8.3 -0.9l0.3 22.6l-8.3 1.1l-8.4 19.4l-8.4 11.5l-8.5 -9.8l-8.5 -19.8l-8.6 19l-8.6 -5.2l-8.6 3.3l-8.7 16.1l-17.5 -5.8l-8.8 -0.9l-8.9 7.5l-9 17.3l-9 3.5z" fill="url(#s101)" stroke="url(#s101)" stroke-width="0.6"/>
<path d="M494.1 224.1l8.3 15.3l8.2 -17.4l8.2 15.7l8.1 -76.2l8.1 1l8 29.7l16 -36.2l7.9 4l7.9 -12.8l7.8 53.6l7.8 -19.2l7.7 -3l7.7 -26.6l7.7 53.6l0.3 20.9l-7.7 -50.4l-7.7 25.3l-7.7 3.1l-7.8 18.4l-7.8 -50.5l-7.9 12.3l-7.9 -3.7l-16 34.7l-8 -27.9l-8.1 -0.9l-8.1 72.3l-8.2 -14.7l-8.2 16.7l-8.3 -14.3z" fill="url(#s102)" stroke="url(#s102)" stroke-width="0.6"/>
<path d="M613.6 205.5l7.6 -15.4l7.6 -3.7l7.5 -6l7.5 3.5l7.5 -3.3l7.4 -14.8l7.4 -22.1l7.3 -3.1l7.3 1.2l7.3 -21.1l7.2 -5.6l7.2 12.6l7.2 3.2l7.1 -17.7l0.3 23.6l-7.1 17l-7.2 -2.9l-7.2 -11.8l-7.2 5.5l-7.3 20.2l-7.3 -1l-7.3 3l-7.4 21.1l-7.4 14.2l-7.5 3.2l-7.5 -3.1l-7.5 5.9l-7.6 3.6l-7.6 14.7z" fill="url(#s103)" stroke="url(#s103)" stroke-width="0.6"/>
<path d="M716.7 113.2l7.1 -2.4l7 30.9l7 -17.5l7 -7.8l6.9 10.6l6.9 -6.2l6.9 -3.1l6.8 2.4l6.8 6.1l6.8 11.2l6.7 1.9l6.7 -14.6l6.7 1l6.6 5.2l6.6 -12.7l0.3 21l-6.6 12.1l-6.6 -4.8l-6.7 -0.8l-6.7 14.1l-6.7 -1.6l-6.8 -10.4l-6.8 -5.6l-6.8 -2.1l-6.9 3.1l-6.9 6l-6.9 -9.9l-7 7.6l-7 16.8l-7 -29l-7.1 2.4z" fill="url(#s104)" stroke="url(#s104)" stroke-width="0.6"/>
<path d="M364.6 303.6l9 -3.5l9 -17.3l8.9 -7.5l8.8 0.9l17.5 5.8l8.7 -16.1l8.6 -3.3l8.6 5.2l8.6 -19l8.5 19.8l8.5 9.8l8.4 -11.5l8.4 -19.4l8.3 -1.1l0.5 44.1l-8.3 1.3l-8.4 17.6l-8.4 10.6l-8.5 -8.3l-8.5 -17.4l-8.6 17.5l-8.6 -4.3l-8.6 3.1l-8.7 14.9l-8.7 -1.6l-8.8 -2.5l-8.8 -0.5l-8.9 7l-9 15.8l-9 3.4z" fill="url(#s105)" stroke="url(#s105)" stroke-width="0.6"/>
<path d="M494.5 246.7l8.3 14.3l8.2 -16.7l8.2 14.7l8.1 -72.3l8.1 0.9l8 27.9l16 -34.7l7.9 3.7l7.9 -12.3l7.8 50.5l7.8 -18.4l7.7 -3.1l7.7 -25.3l7.7 50.4l0.5 40.6l-7.7 -44l-7.7 22.7l-7.7 3.2l-7.8 16.7l-7.8 -44.4l-7.9 11.2l-7.9 -3.1l-16 31.9l-8 -24.5l-8.1 -0.5l-8.1 64.6l-8.2 -12.7l-8.2 15.4l-8.3 -12.4z" fill="url(#s106)" stroke="url(#s106)" stroke-width="0.6"/>
<path d="M613.9 226.3l7.6 -14.7l7.6 -3.6l7.5 -5.9l7.5 3.1l7.5 -3.2l7.4 -14.2l7.4 -21.1l7.3 -3l7.3 1l7.3 -20.2l7.2 -5.5l7.2 11.8l7.2 2.9l7.1 -17l0.5 46.1l-7.1 15.4l-7.2 -2.3l-7.2 -10.1l-7.2 5.2l-7.3 18.5l-7.3 -0.7l-7.3 2.9l-7.4 19.1l-7.4 13l-7.5 3l-7.5 -2.4l-7.5 5.7l-7.6 3.6l-7.6 13.2z" fill="url(#s107)" stroke="url(#s107)" stroke-width="0.6"/>
<path d="M717 136.8l7.1 -2.4l7 29l7 -16.8l7 -7.6l6.9 9.9l6.9 -6l6.9 -3.1l6.8 2.1l6.8 5.6l6.8 10.4l6.7 1.6l6.7 -14.1l6.7 0.8l6.6 4.8l6.6 -12.1l0.5 41.1l-6.6 11l-6.6 -4.1l-6.7 -0.5l-6.7 13l-6.7 -1.1l-6.8 -9l-6.8 -4.7l-6.8 -1.6l-6.9 3.1l-6.9 5.7l-6.9 -8.6l-7 7.1l-7 15.3l-7 -25.4l-7.1 2.4z" fill="url(#s108)" stroke="url(#s108)" stroke-width="0.6"/>
<path d="M365.1 347.2l9 -3.4l9 -15.8l8.9 -7l8.8 0.5l8.8 2.5l8.7 1.6l8.7 -14.9l8.6 -3.1l8.6 4.3l8.6 -17.5l8.5 17.4l8.5 8.3l8.4 -10.6l8.4 -17.6l8.3 -1.3l1.1 112.3l-8.3 2l-8.4 12.8l-8.4 8.3l-8.5 -4.5l-8.5 -11.1l-8.6 13.6l-8.6 -2l-8.6 2.7l-8.7 11.7l-8.7 0.7l-8.8 -0.5l-8.8 0.6l-8.9 5.5l-9 12.1l-9 3.2z" fill="url(#s109)" stroke="url(#s109)" stroke-width="0.6"/>
<path d="M494.9 290.8l8.3 12.4l8.2 -15.4l8.2 12.7l8.1 -64.6l8.1 0.5l8 24.5l16 -31.9l7.9 3.1l7.9 -11.2l7.8 44.4l7.8 -16.7l7.7 -3.2l7.7 -22.7l7.7 44l1.1 103.5l-7.7 -27.9l-7.7 16.1l-7.7 3.4l-7.8 12.3l-7.8 -29l-7.9 8.5l-7.9 -1.6l-16 24.7l-8 -15.9l-8.1 0.3l-8.1 45l-8.2 -7.6l-8.2 12.1l-8.3 -7.6z" fill="url(#s110)" stroke="url(#s110)" stroke-width="0.6"/>
<path d="M614.4 267l7.6 -13.2l7.6 -3.6l7.5 -5.7l7.5 2.4l7.5 -3l7.4 -13l7.4 -19.1l7.3 -2.9l7.3 0.7l7.3 -18.5l7.2 -5.2l7.2 10.1l7.2 2.3l7.1 -15.4l1.1 117.4l-7.1 11.6l-7.2 -1l-7.2 -6l-7.2 4.5l-7.3 14.1l-7.3 0.1l-7.3 2.7l-7.4 14l-7.4 9.9l-7.5 2.6l-7.5 -0.6l-7.5 5.2l-7.6 3.6l-7.6 9.4z" fill="url(#s111)" stroke="url(#s111)" stroke-width="0.6"/>
<path d="M717.5 182.9l7.1 -2.4l7 25.4l7 -15.3l7 -7.1l6.9 8.6l6.9 -5.7l6.9 -3.1l6.8 1.6l6.8 4.7l6.8 9l6.7 1.1l6.7 -13l6.7 0.5l6.6 4.1l6.6 -11l1.1 104.6l-6.6 8.3l-6.6 -2.2l-6.7 0.2l-6.7 10.3l-6.7 0.3l-6.8 -5.3l-6.8 -2.2l-6.8 -0.3l-6.9 3.1l-6.9 4.7l-6.9 -5.1l-7 5.8l-7 11.7l-7 -16.1l-7.1 2.5z" fill="url(#s112)" stroke="url(#s112)" stroke-width="0.6"/>
<path d="M366.3 458.3l9 -3.2l9 -12.1l8.9 -5.5l8.8 -0.6l8.8 0.5l8.7 -0.7l8.7 -11.7l8.6 -2.7l8.6 2l8.6 -13.6l8.5 11.1l8.5 4.5l8.4 -8.3l8.4 -12.8l8.3 -2l0.6 58.4l-8.3 2.3l-8.4 10.4l-8.4 7.1l-8.5 -2.5l-8.5 -7.8l-8.6 11.6l-8.6 -0.8l-8.6 2.5l-8.7 10.1l-8.7 2l-17.6 1.6l-8.9 4.7l-9 10.2l-9 3.1z" fill="url(#s113)" stroke="url(#s113)" stroke-width="0.6"/>
<path d="M496.1 403.1l8.3 7.6l8.2 -12.1l8.2 7.6l8.1 -45l8.1 -0.3l8 15.9l16 -24.7l7.9 1.6l7.9 -8.5l7.8 29l7.8 -12.3l7.7 -3.4l7.7 -16.1l7.7 27.9l0.6 53.8l-7.7 -19.5l-7.7 12.7l-7.7 3.5l-7.8 10.1l-7.8 -21l-7.9 7l-7.9 -0.9l-16 20.9l-8 -11.4l-8.1 0.7l-8.1 34.8l-8.2 -5l-8.2 10.3l-8.3 -5.1z" fill="url(#s114)" stroke="url(#s114)" stroke-width="0.6"/>
<path d="M615.5 370.4l7.6 -9.4l7.6 -3.6l7.5 -5.2l7.5 0.6l7.5 -2.6l7.4 -9.9l7.4 -14l7.3 -2.7l7.3 -0.1l7.3 -14.1l7.2 -4.5l7.2 6l7.2 1l7.1 -11.6l0.6 61l-7.1 9.5l-7.2 -0.3l-7.2 -3.8l-7.2 4.2l-7.3 11.8l-7.3 0.5l-7.3 2.6l-7.4 11.3l-7.4 8.3l-7.5 2.3l-7.5 0.3l-7.5 5l-7.6 3.5l-7.6 7.5z" fill="url(#s115)" stroke="url(#s115)" stroke-width="0.6"/>
<path d="M718.6 300.3l7.1 -2.5l7 16.1l7 -11.7l7 -5.8l6.9 5.1l6.9 -4.7l6.9 -3.1l6.8 0.3l6.8 2.2l6.8 5.3l6.7 -0.3l6.7 -10.3l6.7 -0.2l6.6 2.2l6.6 -8.3l0.6 54.4l-6.6 6.9l-6.6 -1.2l-6.7 0.5l-6.7 8.8l-6.7 1.1l-6.8 -3.4l-6.8 -1l-6.8 0.3l-6.9 3l-6.9 4.2l-6.9 -3.2l-7 5.1l-7 9.8l-7 -11.3l-7.1 2.5z" fill="url(#s116)" stroke="url(#s116)" stroke-width="0.6"/>
<path d="M366.9 516.1l9 -3.1l9 -10.2l8.9 -4.7l17.6 -1.6l8.7 -2l8.7 -10.1l8.6 -2.5l8.6 0.8l8.6 -11.6l8.5 7.8l8.5 2.5l8.4 -7.1l8.4 -10.4l8.3 -2.3l8.3 5.1l8.2 -10.3l8.2 5l8.1 -34.8l8.1 -0.7l8 11.4l16 -20.9l7.9 0.9l7.9 -7l7.8 21l7.8 -10.1l7.7 -3.5l7.7 -12.7l7.7 19.5l0.5 35.3l-7.7 -14.1l-7.7 10.4l-7.7 3.6l-7.8 8.6l-7.8 -15.7l-7.9 6.1l-7.9 -0.3l-16 18.4l-8 -8.5l-8.1 1l-8.1 28.2l-8.2 -3.3l-8.2 9.2l-8.3 -3.4l-8.3 2.5l-8.4 8.8l-8.4 6.4l-8.5 -1.2l-8.5 -5.6l-8.6 10.3l-8.6 0l-8.6 2.3l-8.7 9.1l-8.7 2.7l-17.6 2.7l-8.9 4.2l-8.9 8.9l-9 3z" fill="url(#s117)" stroke="url(#s117)" stroke-width="0.6"/>
<path d="M616.1 424.2l7.6 -7.5l7.6 -3.5l7.5 -5l7.5 -0.3l7.5 -2.3l7.4 -8.3l7.4 -11.3l7.3 -2.6l7.3 -0.5l7.3 -11.8l7.2 -4.2l7.2 3.8l7.2 0.3l7.1 -9.5l7.1 -2.5l7 11.3l7 -9.8l7 -5.1l6.9 3.2l6.9 -4.2l6.9 -3l6.8 -0.3l6.8 1l6.8 3.4l6.7 -1.1l6.7 -8.8l6.7 -0.5l6.6 1.2l6.6 -6.9l0.5 35.7l-6.6 5.9l-6.6 -0.5l-6.7 0.8l-6.7 7.9l-6.7 1.6l-6.8 -2.1l-6.8 -0.2l-6.8 0.8l-6.9 3l-6.9 3.9l-6.9 -2l-7 4.6l-7 8.6l-7 -8.1l-7.1 2.5l-7.1 8.2l-7.2 0.2l-7.2 -2.4l-7.2 4l-7.3 10.3l-7.3 0.8l-7.3 2.5l-7.4 9.6l-7.4 7.3l-7.5 2.2l-7.5 1l-7.5 4.8l-7.6 3.5l-7.6 6.2z" fill="url(#s118)" stroke="url(#s118)" stroke-width="0.6"/>
<path d="M367.4 554l9 -3l8.9 -8.9l8.9 -4.2l17.6 -2.7l8.7 -2.7l8.7 -9.1l8.6 -2.3l8.6 0l8.6 -10.3l8.5 5.6l8.5 1.2l8.4 -6.4l8.4 -8.8l8.3 -2.5l8.3 3.4l8.2 -9.2l8.2 3.3l8.1 -28.2l8.1 -1l8 8.5l16 -18.4l7.9 0.3l7.9 -6.1l7.8 15.7l7.8 -8.6l7.7 -3.6l7.7 -10.4l7.7 14.1l0.5 30.2l-7.7 -9.4l-7.7 8.5l-7.7 3.6l-7.8 7.3l-7.8 -11.2l-7.9 5.3l-7.9 0.1l-16 16.3l-8 -5.9l-8.1 1.3l-8.1 22.5l-8.2 -1.8l-8.2 8.2l-8.3 -2l-8.3 2.7l-8.4 7.4l-8.4 5.7l-8.5 -0.1l-8.5 -3.8l-8.5 9.2l-8.6 0.7l-8.6 2.2l-8.7 8.1l-8.7 3.4l-17.6 3.6l-8.9 3.8l-8.9 7.8l-9 3z" fill="url(#s119)" stroke="url(#s119)" stroke-width="0.6"/>
<path d="M616.6 459.6l7.6 -6.2l7.6 -3.5l7.5 -4.8l7.5 -1l7.5 -2.2l7.4 -7.3l7.4 -9.6l7.3 -2.5l7.3 -0.8l7.3 -10.3l7.2 -4l7.2 2.4l7.2 -0.2l7.1 -8.2l7.1 -2.5l7 8.1l7 -8.6l7 -4.6l6.9 2l6.9 -3.9l6.9 -3l6.8 -0.8l6.8 0.2l6.8 2.1l6.7 -1.6l6.7 -7.9l6.7 -0.8l6.6 0.5l6.6 -5.9l0.5 30.5l-6.6 5.1l-6.6 0.1l-6.7 1l-6.7 7.1l-6.7 2l-6.8 -1.1l-6.8 0.5l-6.8 1.1l-13.8 6.6l-6.9 -1l-7 4.3l-7 7.5l-7 -5.4l-7.1 2.6l-7.1 7.1l-7.2 0.6l-7.2 -1.2l-7.2 3.8l-7.3 9l-7.3 1l-7.3 2.5l-7.4 8.1l-7.4 6.4l-15 3.6l-7.5 4.7l-7.6 3.5l-7.6 5.1z" fill="url(#s120)" stroke="url(#s120)" stroke-width="0.6"/>
<path d="M367.9 586.5l9 -3l8.9 -7.8l8.9 -3.8l17.6 -3.6l8.7 -3.4l8.7 -8.1l8.6 -2.2l8.6 -0.7l8.5 -9.2l8.5 3.8l8.5 0.1l8.4 -5.7l8.4 -7.4l8.3 -2.7l8.3 2l8.2 -8.2l8.2 1.8l8.1 -22.5l8.1 -1.3l8 5.9l16 -16.3l7.9 -0.1l7.9 -5.3l7.8 11.2l7.8 -7.3l7.7 -3.6l7.7 -8.5l7.7 9.4l0.5 24.9l-7.7 -5.6l-7.7 7l-7.7 3.7l-7.8 6.3l-7.8 -7.5l-7.9 4.7l-7.9 0.5l-16 14.6l-8 -3.9l-8.1 1.5l-8.1 17.8l-8.2 -0.6l-8.2 7.4l-8.3 -0.8l-8.3 2.9l-8.4 6.3l-8.4 5.2l-8.5 0.8l-8.5 -2.2l-8.5 8.3l-8.6 1.3l-8.6 2.1l-8.7 7.4l-8.7 3.9l-17.6 4.3l-8.9 3.5l-8.9 6.9l-9 3z" fill="url(#s121)" stroke="url(#s121)" stroke-width="0.6"/>
<path d="M617.1 489.8l7.6 -5.1l7.6 -3.5l7.5 -4.7l15 -3.6l7.4 -6.4l7.4 -8.1l7.3 -2.5l7.3 -1l7.3 -9l7.2 -3.8l7.2 1.2l7.2 -0.6l7.1 -7.1l7.1 -2.6l7 5.4l7 -7.5l7 -4.3l6.9 1l13.8 -6.6l6.8 -1.1l6.8 -0.5l6.8 1.1l6.7 -2l6.7 -7.1l6.7 -1l6.6 -0.1l6.6 -5.1l0.5 25.1l-6.6 4.5l-13.3 1.7l-6.7 6.4l-6.7 2.3l-6.8 -0.2l-6.8 1.1l-6.8 1.4l-13.8 6.4l-6.9 -0.2l-7 4l-7 6.6l-7 -3.2l-7.1 2.6l-7.1 6.2l-7.2 1l-7.2 -0.2l-7.2 3.6l-7.3 8l-7.3 1.2l-7.3 2.4l-7.4 6.9l-7.4 5.6l-15 3.9l-7.5 4.5l-15.2 7.8z" fill="url(#s122)" stroke="url(#s122)" stroke-width="0.6"/>
<path d="M368.4 613.2l9 -3l8.9 -6.9l8.9 -3.5l17.6 -4.3l8.7 -3.9l8.7 -7.4l8.6 -2.1l8.6 -1.3l8.5 -8.3l8.5 2.2l8.5 -0.8l8.4 -5.2l8.4 -6.3l8.3 -2.9l8.3 0.8l8.2 -7.4l8.2 0.6l8.1 -17.8l8.1 -1.5l8 3.9l16 -14.6l7.9 -0.5l7.9 -4.7l7.8 7.5l7.8 -6.3l7.7 -3.7l7.7 -7l7.7 5.6l0.5 19.7l-7.7 -2.7l-7.7 5.8l-7.7 3.7l-7.8 5.5l-7.8 -4.7l-7.9 4.2l-7.9 0.8l-16 13.2l-8 -2.2l-8.1 1.6l-8.1 14.2l-8.2 0.4l-8.2 6.7l-8.3 0.1l-8.3 3l-16.8 10.2l-8.5 1.5l-8.5 -1l-8.5 7.5l-17.2 3.8l-8.7 6.8l-8.7 4.3l-17.6 4.9l-8.9 3.3l-8.9 6.2l-9 2.9z" fill="url(#s123)" stroke="url(#s123)" stroke-width="0.6"/>
<path d="M617.5 514.7l15.2 -7.8l7.5 -4.5l15 -3.9l7.4 -5.6l7.4 -6.9l7.3 -2.4l7.3 -1.2l7.3 -8l7.2 -3.6l7.2 0.2l7.2 -1l7.1 -6.2l7.1 -2.6l7 3.2l7 -6.6l7 -4l6.9 0.2l13.8 -6.4l6.8 -1.4l6.8 -1.1l6.8 0.2l6.7 -2.3l6.7 -6.4l13.3 -1.7l6.6 -4.5l0.5 19.9l-6.6 4l-13.3 2.2l-6.7 5.9l-6.7 2.6l-6.8 0.5l-13.6 3.2l-13.8 6.2l-6.9 0.5l-7 3.7l-7 5.9l-7 -1.5l-7.1 2.6l-7.1 5.4l-14.3 1.8l-7.2 3.5l-7.3 7.1l-7.3 1.4l-7.3 2.4l-7.4 5.9l-7.4 5l-15 4.2l-7.5 4.4l-15.2 7.1z" fill="url(#s124)" stroke="url(#s124)" stroke-width="0.6"/>
<path d="M368.9 634.3l9 -2.9l8.9 -6.2l8.9 -3.3l17.6 -4.9l8.7 -4.3l8.7 -6.8l17.2 -3.8l8.5 -7.5l8.5 1l8.5 -1.5l16.8 -10.2l8.3 -3l8.3 -0.1l8.2 -6.7l8.2 -0.4l8.1 -14.2l8.1 -1.6l8 2.2l16 -13.2l7.9 -0.8l7.9 -4.2l7.8 4.7l7.8 -5.5l7.7 -3.7l7.7 -5.8l7.7 2.7l15.2 -7.1l7.5 -4.4l15 -4.2l7.4 -5l7.4 -5.9l7.3 -2.4l7.3 -1.4l7.3 -7.1l7.2 -3.5l14.3 -1.8l7.1 -5.4l7.1 -2.6l7 1.5l7 -5.9l7 -3.7l6.9 -0.5l13.8 -6.2l13.6 -3.2l6.8 -0.5l6.7 -2.6l6.7 -5.9l13.3 -2.2l6.6 -4l0.6 19.3l-6.6 3.5l-13.3 2.8l-6.7 5.3l-6.7 2.8l-6.8 1.2l-13.6 3.9l-13.8 6l-6.9 1.1l-7 3.5l-7 5.3l-7 0.2l-7.1 2.6l-7.1 4.7l-14.3 2.8l-7.2 3.4l-7.3 6.3l-7.3 1.6l-7.3 2.4l-14.8 9.5l-15 4.5l-7.5 4.3l-15.2 6.4l-7.7 0.2l-23.2 13l-7.8 -1.9l-7.9 3.7l-7.9 1.1l-16 11.8l-8 -0.6l-8.1 1.8l-8.1 10.6l-8.2 1.3l-8.2 6l-8.3 1l-8.3 3.1l-16.8 9l-8.5 2.2l-8.5 0.1l-8.5 6.8l-17.2 4.2l-8.7 6.1l-8.7 4.7l-26.5 8.5l-8.9 5.5l-9 2.9z" fill="url(#s125)" stroke="url(#s125)" stroke-width="0.6"/>
<path d="M369.6 655l9 -2.9l8.9 -5.5l26.5 -8.5l8.7 -4.7l8.7 -6.1l17.2 -4.2l8.5 -6.8l8.5 -0.1l8.5 -2.2l16.8 -9l8.3 -3.1l8.3 -1l8.2 -6l8.2 -1.3l8.1 -10.6l8.1 -1.8l8 0.6l16 -11.8l7.9 -1.1l7.9 -3.7l7.8 1.9l23.2 -13l7.7 -0.2l15.2 -6.4l7.5 -4.3l15 -4.5l14.8 -9.5l7.3 -2.4l7.3 -1.6l7.3 -6.3l7.2 -3.4l14.3 -2.8l7.1 -4.7l7.1 -2.6l7 -0.2l7 -5.3l7 -3.5l6.9 -1.1l13.8 -6l13.6 -3.9l6.8 -1.2l6.7 -2.8l6.7 -5.3l13.3 -2.8l6.6 -3.5l0.6 12.8l-6.6 3.2l-13.3 3.2l-6.7 5l-6.7 2.9l-20.4 6l-13.8 5.9l-6.9 1.6l-7 3.3l-7 4.8l-7 1.3l-7.1 2.6l-7.1 4.3l-14.3 3.5l-7.2 3.3l-7.3 5.7l-14.6 4.1l-14.8 8.5l-7.5 1.9l-7.5 2.8l-7.5 4.2l-7.6 3.4l-15.3 4.5l-23.2 11.8l-7.8 -0.1l-7.9 3.4l-7.9 1.4l-15.9 10.9l-8 0.4l-8.1 2l-8.1 8.3l-8.2 1.9l-8.2 5.6l-8.3 1.6l-8.3 3.2l-16.8 8.2l-8.5 2.6l-8.5 0.9l-8.5 6.3l-17.2 4.5l-8.7 5.7l-8.7 4.9l-26.5 8.8l-8.9 5.1l-9 2.9z" fill="url(#s126)" stroke="url(#s126)" stroke-width="0.6"/>
<path d="M370.2 668.7l9 -2.9l8.9 -5.1l26.5 -8.8l8.7 -4.9l8.7 -5.7l17.2 -4.5l8.5 -6.3l8.5 -0.9l8.5 -2.6l16.8 -8.2l8.3 -3.2l8.3 -1.6l8.2 -5.6l8.2 -1.9l8.1 -8.3l8.1 -2l8 -0.4l15.9 -10.9l7.9 -1.4l7.9 -3.4l7.8 0.1l23.2 -11.8l15.3 -4.5l7.6 -3.4l7.5 -4.2l7.5 -2.8l7.5 -1.9l14.8 -8.5l14.6 -4.1l7.3 -5.7l7.2 -3.3l14.3 -3.5l7.1 -4.3l7.1 -2.6l7 -1.3l7 -4.8l7 -3.3l6.9 -1.6l13.8 -5.9l20.4 -6l6.7 -2.9l6.7 -5l13.3 -3.2l6.6 -3.2l0.9 10.9l-6.6 2.9l-13.3 3.5l-6.7 4.6l-6.7 3.1l-20.4 6.8l-13.8 5.8l-6.9 1.9l-7 3.2l-7 4.4l-14.1 4.8l-7.1 3.9l-14.3 4.1l-7.2 3.2l-7.3 5.2l-14.6 4.3l-14.8 7.7l-7.5 1.9l-7.5 3l-15.1 7.6l-7.6 2.3l-15.4 6.7l-15.5 7.5l-7.8 1.4l-7.9 3.2l-7.9 1.6l-15.9 10l-8 1.3l-8.1 2.1l-8.1 6.4l-8.2 2.4l-8.2 5.2l-8.3 2.1l-25.1 10.8l-8.5 3l-8.5 1.6l-8.5 5.8l-17.2 4.9l-17.4 10.4l-8.8 3.4l-17.7 5.7l-8.9 4.7l-9 3z" fill="url(#s127)" stroke="url(#s127)" stroke-width="0.6"/>
<path d="M371.2 680.5l9 -3l8.9 -4.7l17.7 -5.7l8.8 -3.4l17.4 -10.4l17.2 -4.9l8.5 -5.8l8.5 -1.6l8.5 -3l25.1 -10.8l8.3 -2.1l8.2 -5.2l8.2 -2.4l8.1 -6.4l8.1 -2.1l8 -1.3l15.9 -10l7.9 -1.6l7.9 -3.2l7.8 -1.4l15.5 -7.5l15.4 -6.7l7.6 -2.3l15.1 -7.6l7.5 -3l7.5 -1.9l14.8 -7.7l14.6 -4.3l7.3 -5.2l7.2 -3.2l14.3 -4.1l7.1 -3.9l14.1 -4.8l7 -4.4l7 -3.2l6.9 -1.9l13.8 -5.8l20.4 -6.8l6.7 -3.1l6.7 -4.6l13.3 -3.5l6.6 -2.9l1.6 7.3l-6.6 2.8l-13.3 3.8l-6.7 4.3l-6.7 3.1l-20.4 7.3l-13.8 5.8l-6.9 2.2l-7 3.1l-7 4.1l-14.1 5.4l-7.1 3.6l-14.3 4.5l-7.2 3.2l-7.3 4.8l-14.6 4.4l-14.8 7.2l-7.5 2l-7.5 3.1l-15.1 7.4l-7.6 2.2l-7.7 4.2l-7.7 2.9l-15.5 7.3l-7.8 2.3l-7.9 3.1l-7.9 1.8l-15.9 9.4l-16.1 4.1l-8.1 5.2l-8.2 2.7l-8.2 4.9l-8.3 2.4l-33.5 13.7l-8.5 2.1l-8.5 5.4l-17.2 5.1l-17.4 10.2l-8.8 3.5l-17.7 5.8l-8.9 4.4l-9 3z" fill="url(#s128)" stroke="url(#s128)" stroke-width="0.6"/>
<path d="M372.9 688.6l9 -3l8.9 -4.4l17.7 -5.8l8.8 -3.5l17.4 -10.2l17.2 -5.1l8.5 -5.4l8.5 -2.1l33.5 -13.7l8.3 -2.4l8.2 -4.9l8.2 -2.7l8.1 -5.2l16.1 -4.1l15.9 -9.4l7.9 -1.8l7.9 -3.1l7.8 -2.3l15.5 -7.3l7.7 -2.9l7.7 -4.2l7.6 -2.2l15.1 -7.4l7.5 -3.1l7.5 -2l14.8 -7.2l14.6 -4.4l7.3 -4.8l7.2 -3.2l14.3 -4.5l7.1 -3.6l14.1 -5.4l7 -4.1l7 -3.1l6.9 -2.2l13.8 -5.8l20.4 -7.3l6.7 -3.1l6.7 -4.3l13.3 -3.8l6.6 -2.8l5 6.6l-6.6 2.7l-13.3 4.2l-6.7 4.1l-6.7 3.1l-41 15.8l-14 6.9l-14.1 5.7l-7.1 3.4l-14.3 4.9l-7.2 3.2l-7.3 4.4l-14.6 4.7l-14.8 6.9l-7.4 2.2l-7.5 3.1l-15.1 7.3l-7.6 2.3l-7.7 4.4l-7.7 2.8l-15.5 7.1l-15.7 5.9l-7.9 2.1l-15.9 8.8l-16.1 4.8l-8.1 4.5l-8.2 3l-8.2 4.6l-8.3 2.7l-33.5 13.7l-8.5 2.5l-8.5 5.1l-17.2 5.5l-17.4 9.7l-8.8 3.6l-17.7 6.1l-8.9 4.3l-9 3.2z" fill="url(#s129)" stroke="url(#s129)" stroke-width="0.6"/>
<path d="M378.1 696.3l9 -3.2l8.9 -4.3l17.7 -6.1l8.8 -3.6l17.4 -9.7l17.2 -5.5l8.5 -5.1l8.5 -2.5l33.5 -13.7l8.3 -2.7l8.2 -4.6l8.2 -3l8.1 -4.5l16.1 -4.8l15.9 -8.8l7.9 -2.1l15.7 -5.9l15.5 -7.1l7.7 -2.8l7.7 -4.4l7.6 -2.3l15.1 -7.3l7.5 -3.1l7.4 -2.2l14.8 -6.9l14.6 -4.7l7.3 -4.4l7.2 -3.2l14.3 -4.9l7.1 -3.4l14.1 -5.7l14 -6.9l41 -15.8l6.7 -3.1l6.7 -4.1l13.3 -4.2l6.6 -2.7l2.3 1.5l-6.6 2.7l-13.3 4.2l-6.7 4l-6.7 3.1l-41 15.9l-14 6.9l-21.2 9.1l-14.3 5l-7.2 3.2l-7.3 4.4l-14.6 4.8l-14.8 6.8l-7.4 2.2l-7.5 3.1l-15.1 7.3l-7.6 2.3l-7.6 4.4l-7.7 2.8l-15.5 7l-15.7 6l-7.9 2.2l-15.9 8.8l-16.1 4.9l-8.1 4.4l-8.2 3l-8.2 4.6l-8.3 2.8l-33.5 13.8l-8.5 2.5l-8.5 5l-17.2 5.6l-17.4 9.6l-8.8 3.6l-17.7 6.1l-8.9 4.2l-9 3.2z" fill="#84259a" stroke="#84259a" stroke-width="0.6"/>
<path d="M363.3 279.3l0.5 -12.9l0.5 14.8l3.1 272.8l2.1 101l1.6 25.5l1.6 8.1l5.3 7.7l2.5 1.9M381.3 257.8l0.5 -13.4l0.5 15.3l3.1 282.4l2.1 104.4l1.6 26.3l1.6 8.3l5.3 7.8l2.5 1.9M399 251.3l0.5 -13.6l0.5 15.3l3.1 283.3l2.1 104.6l1.6 26.2l1.6 8.2l5.3 7.5l2.5 1.8M416.6 257.8l0.5 -12.9l0.5 14.8l3.1 272.7l2.1 100.9l1.6 25.4l1.6 8l5.2 7.6l2.5 1.8M433.9 237.8l0.5 -13.4l0.5 15.2l3.1 281.4l2.1 104l1.6 26.1l1.6 8.2l5.2 7.6l2.5 1.8M451.1 223.6l0.5 -13.5l0.5 15.4l3.1 285.1l2.1 105.5l1.6 26.5l1.6 8.4l5.2 7.8l2.5 1.9M468.1 255.4l0.5 -12.3l0.5 14.1l3.1 260.3l2.1 96.3l1.6 24.3l1.6 7.7l5.2 7.3l2.5 1.8M484.8 223.2l0.5 -13.2l0.5 15l3.1 277.4l2.1 102.5l1.6 25.7l1.6 8.1l5.2 7.5l2.4 1.8M501.4 237.7l0.5 -12.6l0.5 14.2l3.1 263.9l2.1 97.5l1.6 24.4l1.6 7.7l5.2 7.1l2.4 1.7M517.8 235.9l0.5 -12.3l0.5 14.1l3.1 259.7l2.1 96.1l1.6 24.2l1.6 7.6l5.2 7.2l2.4 1.7M534.1 160.7l0.5 -14.7l0.5 16.4l3.1 305.8l2.1 112.8l1.6 28.1l1.6 8.7l5.2 7.7l2.4 1.8M550.1 172.2l0.5 -14.1l0.5 15.8l3.1 293.4l2.1 108.3l1.6 27l1.6 8.4l5.2 7.5l2.4 1.8M566 158.3l0.5 -14.4l0.5 16l3.1 298.6l2.1 110.1l1.6 27.5l1.6 8.5l5.2 7.6l2.4 1.8M581.7 199.1l0.5 -12.8l0.5 14.4l3 267.3l2.1 98.7l1.6 24.7l1.6 7.7l5.2 7l2.4 1.7M597.2 176.8l0.5 -13.3l0.5 15l3 277.4l2.1 102.4l1.6 25.6l1.6 8l5.1 7.2l2.4 1.7M612.6 203.7l0.5 -12l0.5 13.8l3 254.1l2.1 94l1.6 23.7l1.6 7.5l5.1 7.1l2.4 1.7M627.8 184.7l0.5 -12.5l0.5 14.2l3 263.4l2.1 97.3l1.6 24.4l1.6 7.7l5.1 7.1l2.4 1.7M642.9 182.1l0.5 -12.3l0.5 14.1l3 260.2l2.1 96.2l1.6 24.2l1.6 7.7l5.1 7.1l2.4 1.7M657.7 164.1l0.5 -12.8l0.5 14.5l3 268.8l2.1 99.3l1.6 24.9l1.6 7.8l5.1 7.1l2.4 1.7M672.5 139l0.5 -13.5l0.5 15.2l3 281.9l2.1 104l1.6 26l1.6 8l5.1 7.2l2.4 1.7M687.1 119l0.5 -14l0.5 15.6l3 290.7l2.1 107.3l1.6 26.8l1.6 8.3l5.1 7.3l2.4 1.7M701.5 126.1l0.5 -13.5l0.5 15.2l3 282.2l2.1 104.1l1.6 26l1.6 8.1l5.1 7.2l2.4 1.7M715.8 111.6l0.5 -13.9l0.5 15.5l3 288.3l2 106.3l1.6 26.5l1.6 8.2l5.1 7.2l2.4 1.7M729.9 140.1l0.5 -12.7l0.5 14.3l3 265.3l2 97.9l1.6 24.5l1.6 7.6l5 6.9l2.4 1.6M743.9 114.6l0.5 -13.2l0.5 15l3 277.4l2 102.4l1.6 25.6l1.6 8l5 7.2l2.4 1.6M757.7 119.1l0.5 -13l0.5 14.6l3 271.2l2 100.1l1.6 25l1.6 7.8l5 7l2.4 1.6M771.4 118.4l0.5 -12.9l0.5 14.4l3 268.2l2 99l1.6 24.7l1.6 7.7l5 6.8l2.4 1.6M785 135.7l0.5 -12.1l0.5 13.6l3 253.2l2 93.5l1.6 23.4l1.6 7.3l5 6.6l2.3 1.5M798.5 122.8l0.5 -12.1l0.5 13.9l3 256.5l2 94.8l1.6 23.8l1.6 7.5l5 6.9l2.3 1.6M811.8 129.1l0.5 -11.9l0.5 13.5l2.9 250l2 92.3l1.6 23.1l1.6 7.2l5 6.5l2.3 1.5M377.3 695.5l9 -3.1l8.9 -4.3l17.7 -6l8.8 -3.6l17.4 -9.8l8.6 -2.4l8.6 -3.1l8.5 -5.1l8.5 -2.4l33.5 -13.7l8.3 -2.7l8.2 -4.6l8.2 -3l8.1 -4.5l16.1 -4.7l15.9 -8.9l7.9 -2.1l15.7 -5.8l15.5 -7.1l7.7 -2.9l7.7 -4.4l7.6 -2.3l22.6 -10.4l7.5 -2.2l14.8 -6.9l14.6 -4.7l7.3 -4.5l7.2 -3.2l14.3 -4.9l7.1 -3.4l14.1 -5.7l7 -3.9l7 -3.1l41 -15.8l6.7 -3.1l6.7 -4.1l13.3 -4.1l6.6 -2.7" fill="none" stroke="#b4b4b4" stroke-opacity="0.8" stroke-width="1"/>
<path d="M370.1 667l454.7 -185.1M368.4 612.7l454.9 -177.1M367.5 558.7l455 -169.1M366.8 504.7l455 -161.2M366.2 450.9l455.1 -153.3M365.7 397l455.2 -145.4M365.1 343.2l455.2 -137.6M364.4 289.4l455.4 -129.6M527.3 192.2l8.1 -2.2M551.2 185.7l24 -6.3M589.6 174.9l7.7 -2.1M590.3 175.1l7.8 -2.1M666.2 154.9l57.9 -15.4M738 135.7l34.5 -9.3M798.5 119l6.7 -1.8M799.3 119.1l6.6 -1.8" fill="none" stroke="#3a3a3a" stroke-opacity="0.85" stroke-width="1.1"/>
<path d="M380.6 698.2l9 -3.2l8.9 -4.2l17.7 -6.1l8.8 -3.6l17.4 -9.6l17.2 -5.6l8.5 -5l8.5 -2.5l33.5 -13.8l8.3 -2.8l8.2 -4.6l8.2 -3l8.1 -4.4l16.1 -4.9l15.9 -8.8l7.9 -2.2l15.7 -6l15.5 -7l7.7 -2.8l7.6 -4.4l7.6 -2.3l15.1 -7.3l7.5 -3.1l7.4 -2.2l14.8 -6.8l14.6 -4.8l7.3 -4.4l7.2 -3.2l14.3 -5l21.2 -9.1l14 -6.9l41 -15.9l6.7 -3.1l6.7 -4l13.3 -4.2l6.6 -2.7l7 1.8l-6.6 2.7l-13.3 4.1l-6.7 4.1l-6.7 3.2l-41 15.9l-7 3.1l-7 3.9l-21.2 9.2l-7.1 2.2l-14.4 5.9l-7.2 4.5l-14.6 4.7l-14.8 6.8l-7.4 2.1l-7.5 3.2l-15.1 7.4l-7.6 2.2l-7.6 4.7l-7.7 2.8l-15.5 7.1l-15.7 6l-7.9 2.1l-15.9 8.9l-16.1 4.8l-8.1 4.3l-8.2 3l-8.2 4.7l-8.2 2.8l-33.5 13.8l-8.5 2.5l-8.5 5.1l-17.2 5.5l-17.4 9.9l-8.8 3.6l-17.7 6l-8.9 4.3l-9 3.1z" fill="#84249a" stroke="#84249a" stroke-width="0.6"/>
<path d="M388.1 700.4l9 -3.1l8.9 -4.3l17.7 -6l8.8 -3.6l17.4 -9.9l17.2 -5.5l8.5 -5.1l8.5 -2.5l33.5 -13.8l8.2 -2.8l8.2 -4.7l8.2 -3l8.1 -4.3l16.1 -4.8l15.9 -8.9l7.9 -2.1l15.7 -6l15.5 -7.1l7.7 -2.8l7.6 -4.7l7.6 -2.2l15.1 -7.4l7.5 -3.2l7.4 -2.1l14.8 -6.8l14.6 -4.7l7.2 -4.5l14.4 -5.9l7.1 -2.2l21.2 -9.2l7 -3.9l7 -3.1l41 -15.9l6.7 -3.2l6.7 -4.1l13.3 -4.1l6.6 -2.7l3.8 -3.1l-6.6 2.7l-13.2 3.5l-6.7 4.6l-6.7 3.3l-20.3 7.4l-13.7 5.8l-6.9 2.2l-6.9 3.1l-7 4.2l-14.1 5.8l-7.1 3.6l-7.1 1.9l-14.4 5.8l-7.2 5l-14.6 4.1l-14.8 7l-7.4 1.7l-7.5 3.2l-15.1 7.8l-7.6 1.7l-7.6 5.4l-7.7 2.5l-15.5 7.3l-15.6 5.8l-7.9 1.5l-15.9 9.8l-16.1 4.1l-8.1 4.6l-8.2 2.9l-8.2 5.1l-8.2 2.5l-33.4 13.6l-8.5 2.1l-8.5 5.7l-8.6 2.9l-8.6 1.9l-17.4 10.9l-8.8 3.6l-17.7 5.4l-8.9 4.4l-9 2.9z" fill="url(#s130)" stroke="url(#s130)" stroke-width="0.6"/>
<path d="M392 696.6l9 -2.9l8.9 -4.4l17.7 -5.4l8.8 -3.6l17.4 -10.9l8.6 -1.9l8.6 -2.9l8.5 -5.7l8.5 -2.1l33.4 -13.6l8.2 -2.5l8.2 -5.1l8.2 -2.9l8.1 -4.6l16.1 -4.1l15.9 -9.8l7.9 -1.5l15.6 -5.8l15.5 -7.3l7.7 -2.5l7.6 -5.4l7.6 -1.7l15.1 -7.8l7.5 -3.2l7.4 -1.7l14.8 -7l14.6 -4.1l7.2 -5l14.4 -5.8l7.1 -1.9l7.1 -3.6l14.1 -5.8l7 -4.2l6.9 -3.1l6.9 -2.2l13.7 -5.8l20.3 -7.4l6.7 -3.3l6.7 -4.6l13.2 -3.5l6.6 -2.7l1.9 -6.7l-6.6 2.6l-13.2 2.5l-6.7 5.5l-6.7 3.5l-20.3 6.9l-13.7 5.7l-6.9 1.9l-6.9 3.2l-7 4.8l-7 3.2l-7.1 2.5l-7.1 3.8l-7.1 1.4l-7.2 2.4l-7.2 3.3l-7.2 6l-7.3 1.1l-7.3 1.9l-14.7 7.3l-7.4 1l-7.5 3.2l-7.5 4.8l-7.6 3.6l-7.6 1l-7.6 6.4l-7.7 2.1l-15.5 7.6l-15.6 5.5l-7.9 0.7l-15.9 11.2l-16.1 2.7l-8.1 5.1l-8.2 2.6l-8.2 5.9l-8.2 2l-33.4 13.3l-8.5 1.3l-8.5 6.8l-8.6 2.5l-8.6 1l-17.4 12.6l-8.8 3.5l-17.7 4.4l-8.9 4.7l-9 2.4z" fill="url(#s131)" stroke="url(#s131)" stroke-width="0.6"/>
<path d="M394 688.2l9 -2.4l8.9 -4.7l17.7 -4.4l8.8 -3.5l17.4 -12.6l8.6 -1l8.6 -2.5l8.5 -6.8l8.5 -1.3l33.4 -13.3l8.2 -2l8.2 -5.9l8.2 -2.6l8.1 -5.1l16.1 -2.7l15.9 -11.2l7.9 -0.7l15.6 -5.5l15.5 -7.6l7.7 -2.1l7.6 -6.4l7.6 -1l7.6 -3.6l7.5 -4.8l7.5 -3.2l7.4 -1l14.7 -7.3l7.3 -1.9l7.3 -1.1l7.2 -6l7.2 -3.3l7.2 -2.4l7.1 -1.4l7.1 -3.8l7.1 -2.5l7 -3.2l7 -4.8l6.9 -3.2l6.9 -1.9l13.7 -5.7l20.3 -6.9l6.7 -3.5l6.7 -5.5l13.2 -2.5l6.6 -2.6l1.7 -13.5l-6.6 2.5l-13.2 0.6l-6.7 7.1l-6.7 3.9l-6.7 1.6l-6.8 2.7l-6.8 1.5l-13.7 5.7l-6.9 1.2l-6.9 3.3l-7 6l-7 3.4l-7.1 2.1l-7.1 4.4l-7.1 0.3l-7.2 2l-7.2 3.4l-7.2 7.8l-7.3 -0.1l-7.3 1.2l-14.7 8l-7.4 -0.3l-7.5 3.2l-7.5 5.8l-7.6 3.9l-7.6 -0.4l-7.6 8.5l-7.7 1.4l-7.7 4.7l-7.8 3.5l-15.6 4.8l-7.9 -1l-15.9 14l-16.1 0.2l-8.1 6.1l-8.2 2.1l-8.2 7.4l-8.2 1l-16.6 5.7l-16.8 7l-8.5 -0.1l-8.5 8.7l-8.6 1.8l-8.6 -0.7l-17.4 15.9l-8.8 3.4l-8.8 1.6l-8.9 0.8l-8.9 5.3l-9 1.5z" fill="url(#s132)" stroke="url(#s132)" stroke-width="0.6"/>
<path d="M395.9 671.3l9 -1.5l8.9 -5.3l8.9 -0.8l8.8 -1.6l8.8 -3.4l17.4 -15.9l8.6 0.7l8.6 -1.8l8.5 -8.7l8.5 0.1l16.8 -7l16.6 -5.7l8.2 -1l8.2 -7.4l8.2 -2.1l8.1 -6.1l16.1 -0.2l15.9 -14l7.9 1l15.6 -4.8l7.8 -3.5l7.7 -4.7l7.7 -1.4l7.6 -8.5l7.6 0.4l7.6 -3.9l7.5 -5.8l7.5 -3.2l7.4 0.3l14.7 -8l7.3 -1.2l7.3 0.1l7.2 -7.8l7.2 -3.4l7.2 -2l7.1 -0.3l7.1 -4.4l7.1 -2.1l7 -3.4l7 -6l6.9 -3.3l6.9 -1.2l13.7 -5.7l6.8 -1.5l6.8 -2.7l6.7 -1.6l6.7 -3.9l6.7 -7.1l13.2 -0.6l6.6 -2.5l0.9 -6.5l-6.6 2.4l-13.2 -0.4l-6.7 7.9l-6.7 4.1l-6.7 1.4l-6.8 2.6l-6.8 1.2l-13.7 5.6l-6.9 0.9l-6.9 3.4l-7 6.5l-7 3.5l-7.1 2l-7.1 4.6l-7.1 -0.2l-7.2 1.8l-7.2 3.5l-7.2 8.6l-7.3 -0.7l-7.3 0.8l-14.7 8.3l-7.4 -1l-7.5 3.2l-7.5 6.2l-7.6 4l-7.6 -1.1l-7.6 9.5l-7.7 1.1l-7.7 5l-7.8 3.6l-15.6 4.4l-7.9 -1.8l-15.9 15.3l-16.1 -1l-8.1 6.6l-8.1 1.9l-8.2 8.2l-8.2 0.6l-16.6 5.4l-16.8 6.9l-8.5 -0.8l-8.5 9.7l-8.6 1.5l-8.6 -1.5l-17.4 17.5l-8.8 3.4l-8.8 1.2l-8.9 0.2l-8.9 5.6l-9 1z" fill="url(#s133)" stroke="url(#s133)" stroke-width="0.6"/>
<path d="M396.9 663.3l9 -1l8.9 -5.6l8.9 -0.2l8.8 -1.2l8.8 -3.4l17.4 -17.5l8.6 1.5l8.6 -1.5l8.5 -9.7l8.5 0.8l16.8 -6.9l16.6 -5.4l8.2 -0.6l8.2 -8.2l8.1 -1.9l8.1 -6.6l16.1 1l15.9 -15.3l7.9 1.8l15.6 -4.4l7.8 -3.6l7.7 -5l7.7 -1.1l7.6 -9.5l7.6 1.1l7.6 -4l7.5 -6.2l7.5 -3.2l7.4 1l14.7 -8.3l7.3 -0.8l7.3 0.7l7.2 -8.6l7.2 -3.5l7.2 -1.8l7.1 0.2l7.1 -4.6l7.1 -2l7 -3.5l7 -6.5l6.9 -3.4l6.9 -0.9l13.7 -5.6l6.8 -1.2l6.8 -2.6l6.7 -1.4l6.7 -4.1l6.7 -7.9l13.2 0.4l6.6 -2.4l0.3 -0.4l-6.6 2.4l-13.2 -0.4l-6.7 8l-6.7 4.1l-6.7 1.4l-6.8 2.6l-6.8 1.2l-13.7 5.6l-6.9 0.8l-6.9 3.4l-7 6.6l-7 3.5l-7.1 2l-7.1 4.6l-7.1 -0.2l-7.2 1.8l-7.2 3.5l-7.2 8.7l-7.3 -0.8l-7.3 0.8l-14.7 8.3l-7.4 -1l-7.5 3.2l-7.5 6.3l-7.5 4l-7.6 -1.2l-7.6 9.5l-7.7 1l-7.7 5l-7.8 3.6l-15.6 4.4l-7.9 -1.9l-15.9 15.4l-16.1 -1.1l-8.1 6.6l-8.1 1.8l-8.2 8.2l-8.2 0.5l-16.6 5.4l-16.8 6.9l-8.5 -0.8l-8.5 9.7l-8.6 1.5l-8.6 -1.6l-17.4 17.6l-8.8 3.4l-8.8 1.1l-8.9 0.2l-8.9 5.6l-9 1z" fill="url(#s134)" stroke="url(#s134)" stroke-width="0.6"/>
<path d="M380.6 698.2l7.4 2.3l4 -3.8l2 -8.4l3.2 -25.5M398.5 690.8l7.4 2.3l4 -3.7l2 -8.2l3.2 -25M416.3 684.7l7.4 2.4l4 -3.1l2 -7.2l3.1 -22M433.8 676.2l7.4 2.2l4 -3.6l2 -8.1l3.1 -24.5M451.1 668.9l7.4 2.2l4 -3.6l2 -8l3.1 -24.2M468.2 660.8l7.4 2.1l3.9 -4l2 -8.6l3.1 -26.1M485.2 654.8l7.4 2.1l3.9 -3.5l2 -7.8l3.1 -23.8M501.9 647.9l7.4 2.2l3.9 -3.5l2 -7.7l3.1 -23.3M518.5 641.7l7.3 2.2l3.9 -3.1l2 -7.1l3.1 -21.6M534.8 634.1l7.3 2.1l3.9 -3.4l2 -7.6l3.1 -23.1M551 627.2l7.3 2.2l3.9 -3.3l2 -7.4l3.1 -22.7M567.1 620.5l7.3 2.1l3.9 -3.4l2 -7.5l3.1 -22.9M582.9 613.9l7.3 2.2l3.9 -3.3l1.9 -7.4l3.1 -22.4M598.6 608l7.3 2.1l3.9 -3.1l1.9 -7l3.1 -21.3M614.1 600.9l7.3 2.1l3.9 -3.3l1.9 -7.3l3.1 -22.3M629.4 593.7l7.2 1.9l3.9 -3.8l1.9 -8l3.1 -24.3M644.6 588l7.2 2l3.9 -3.4l1.9 -7.4l3.1 -22.5M659.6 581l7.2 1.9l3.9 -3.7l1.9 -8l3.1 -24M674.4 575.3l7.2 1.9l3.8 -3.4l1.9 -7.4l3.1 -22.6M689.1 569.4l7.2 2l3.8 -3.3l1.9 -7.2l3 -21.8M703.7 562.8l7.2 1.9l3.8 -3.5l1.9 -7.5l3 -22.7M718.1 556.9l7.2 1.9l3.8 -3.4l1.9 -7.4l3 -22.3M732.3 551.2l7.1 2l3.8 -3.2l1.9 -7.1l3 -21.5M746.4 545.5l7.1 1.9l3.8 -3.2l1.9 -7l3 -21.3M760.4 538.7l7.1 1.8l3.8 -3.6l1.9 -7.7l3 -23.2M774.2 533.4l7.1 1.8l3.8 -3.4l1.9 -7.3l3 -22M787.9 528l7.1 1.8l3.8 -3.2l1.9 -7l3 -21.3M801.4 522.7l7.1 1.8l3.8 -3.1l1.9 -6.7l3 -20.5M814.8 515.6l7 1.7l3.8 -3.7l1.9 -7.8l3 -23.6M828.1 511.4l7 1.8l3.8 -3.1l1.9 -6.8l3 -20.6M387.2 700.5l9 -3.1l8.9 -4.2l17.7 -6.1l8.8 -3.6l17.4 -9.8l8.6 -2.4l8.6 -3.1l8.5 -5.1l8.5 -2.5l33.5 -13.8l8.2 -2.8l8.2 -4.6l8.2 -3l8.1 -4.3l16.1 -4.9l15.9 -8.9l7.9 -2.1l15.7 -6l15.5 -7.1l7.7 -2.8l7.6 -4.6l7.6 -2.2l15.1 -7.3l7.5 -3.2l7.4 -2.2l14.8 -6.8l14.6 -4.7l7.2 -4.4l14.4 -5.9l7.1 -2.3l21.2 -9.2l7 -3.8l7 -3.1l41 -16l6.7 -3.1l6.7 -4.1l13.3 -4.2l6.6 -2.7M397.2 662.7l9 -1l8.9 -5.6l8.9 -0.2l8.8 -1.1l8.8 -3.4l17.4 -17.6l8.6 1.6l8.6 -1.5l8.5 -9.7l8.5 0.8l8.4 -3.1l8.4 -3.8l16.6 -5.4l8.2 -0.5l8.2 -8.2l8.1 -1.8l8.1 -6.6l16.1 1.1l15.9 -15.4l7.9 1.9l15.6 -4.4l7.8 -3.6l7.7 -5l7.7 -1l7.6 -9.5l7.6 1.2l7.5 -4l7.5 -6.3l7.5 -3.2l7.4 1l14.7 -8.3l7.3 -0.8l7.3 0.8l7.2 -8.7l7.2 -3.5l7.2 -1.8l7.1 0.2l7.1 -4.6l7.1 -2l7 -3.5l7 -6.6l6.9 -3.4l6.9 -0.8l13.7 -5.6l6.8 -1.2l6.8 -2.6l6.7 -1.4l6.7 -4.1l6.7 -8l13.2 0.4l6.6 -2.4" fill="none" stroke="#b4b4b4" stroke-opacity="0.8" stroke-width="1"/>
<path d="M395.4 675.9l45 -18.1l16.5 -7.5l76.7 -31.1l23.9 -10.3l16.8 -6.4l15.1 -6.8l259.6 -107" fill="none" stroke="#3a3a3a" stroke-opacity="0.85" stroke-width="1.1"/>
<path d="M397.2 662.7l9 -1l8.9 -5.6l8.9 -0.2l8.8 -1.1l8.8 -3.4l17.4 -17.6l8.6 1.6l8.6 -1.5l8.5 -9.7l8.5 0.8l16.8 -6.9l16.6 -5.4l8.2 -0.5l8.2 -8.2l8.1 -1.8l8.1 -6.6l16.1 1.1l15.9 -15.4l7.9 1.9l15.6 -4.4l7.8 -3.6l7.7 -5l7.7 -1l7.6 -9.5l7.6 1.2l7.5 -4l7.5 -6.3l7.5 -3.2l7.4 1l14.7 -8.3l7.3 -0.8l7.3 0.8l7.2 -8.7l7.2 -3.5l7.2 -1.8l7.1 0.2l7.1 -4.6l7.1 -2l7 -3.5l7 -6.6l6.9 -3.4l6.9 -0.8l13.7 -5.6l6.8 -1.2l6.8 -2.6l6.7 -1.4l6.7 -4.1l6.7 -8l13.2 0.4l6.6 -2.4l0.5 1.5l-6.6 2.4l-13.2 -0.3l-6.7 7.8l-6.7 4.1l-6.7 1.4l-6.8 2.6l-6.8 1.3l-13.7 5.6l-6.9 0.9l-6.9 3.4l-7 6.5l-7 3.5l-7.1 2l-7.1 4.6l-7.1 -0.1l-7.2 1.8l-7.2 3.5l-7.2 8.5l-7.3 -0.6l-7.3 0.9l-14.7 8.3l-7.4 -0.9l-7.5 3.2l-7.5 6.2l-7.5 4l-7.6 -1l-7.6 9.4l-7.7 1.1l-7.7 4.9l-7.8 3.5l-15.6 4.5l-7.9 -1.7l-15.9 15.2l-16.1 -0.9l-8.1 6.5l-8.1 1.9l-8.2 8.1l-8.2 0.6l-16.6 5.5l-16.8 6.9l-8.5 -0.7l-8.5 9.5l-8.6 1.5l-8.6 -1.4l-17.4 17.3l-8.8 3.4l-8.8 1.2l-8.9 0.3l-8.9 5.6l-9 1.1z" fill="url(#s135)" stroke="url(#s135)" stroke-width="0.6"/>
<path d="M397.7 664.6l9 -1.1l8.9 -5.6l8.9 -0.3l8.8 -1.2l8.8 -3.4l17.4 -17.3l8.6 1.4l8.6 -1.5l8.5 -9.5l8.5 0.7l16.8 -6.9l16.6 -5.5l8.2 -0.6l8.2 -8.1l8.1 -1.9l8.1 -6.5l16.1 0.9l15.9 -15.2l7.9 1.7l15.6 -4.5l7.8 -3.5l7.7 -4.9l7.7 -1.1l7.6 -9.4l7.6 1l7.5 -4l7.5 -6.2l7.5 -3.2l7.4 0.9l14.7 -8.3l7.3 -0.9l7.3 0.6l7.2 -8.5l7.2 -3.5l7.2 -1.8l7.1 0.1l7.1 -4.6l7.1 -2l7 -3.5l7 -6.5l6.9 -3.4l6.9 -0.9l13.7 -5.6l6.8 -1.3l6.8 -2.6l6.7 -1.4l6.7 -4.1l6.7 -7.8l13.2 0.3l6.6 -2.4l2.5 21.5l-6.6 2.6l-13.2 2.6l-6.7 5.4l-6.7 3.5l-20.3 7l-13.7 5.8l-6.9 1.9l-6.9 3.2l-7 4.8l-7 3.2l-7 2.5l-7.1 3.8l-7.1 1.4l-7.2 2.4l-7.2 3.3l-7.2 5.9l-7.3 1.2l-7.3 2l-14.7 7.3l-7.4 1.1l-7.5 3.2l-7.5 4.7l-7.5 3.6l-7.6 1.1l-7.6 6.4l-7.7 2.2l-15.5 7.6l-15.6 5.5l-7.9 0.8l-15.9 11.1l-16.1 2.9l-8.1 5l-8.1 2.7l-8.2 5.9l-8.2 2l-33.4 13.3l-8.5 1.4l-8.5 6.7l-8.6 2.6l-8.6 1.1l-17.4 12.5l-8.8 3.6l-17.7 4.5l-8.9 4.7l-9 2.4z" fill="url(#s136)" stroke="url(#s136)" stroke-width="0.6"/>
<path d="M400.4 691.5l9 -2.4l8.9 -4.7l17.7 -4.5l8.8 -3.6l17.4 -12.5l8.6 -1.1l8.6 -2.6l8.5 -6.7l8.5 -1.4l33.4 -13.3l8.2 -2l8.2 -5.9l8.1 -2.7l8.1 -5l16.1 -2.9l15.9 -11.1l7.9 -0.8l15.6 -5.5l15.5 -7.6l7.7 -2.2l7.6 -6.4l7.6 -1.1l7.5 -3.6l7.5 -4.7l7.5 -3.2l7.4 -1.1l14.7 -7.3l7.3 -2l7.3 -1.2l7.2 -5.9l7.2 -3.3l7.2 -2.4l7.1 -1.4l7.1 -3.8l7 -2.5l7 -3.2l7 -4.8l6.9 -3.2l6.9 -1.9l13.7 -5.8l20.3 -7l6.7 -3.5l6.7 -5.4l13.2 -2.6l6.6 -2.6l1.9 8.4l-6.6 2.7l-13.2 3.7l-6.7 4.5l-6.7 3.3l-40.9 15.7l-6.9 3.1l-7 4.1l-14.1 5.8l-7.1 3.5l-7.1 2l-14.3 5.9l-7.2 4.9l-14.6 4.3l-14.7 7l-7.4 1.8l-7.5 3.2l-15 7.7l-7.6 1.9l-7.6 5.2l-7.7 2.6l-15.5 7.2l-15.6 6l-7.9 1.7l-15.9 9.6l-16.1 4.3l-8.1 4.5l-8.1 3l-8.2 5l-8.2 2.6l-33.4 13.7l-8.5 2.2l-8.5 5.6l-8.6 3l-8.6 2l-17.4 10.7l-8.8 3.6l-17.7 5.6l-8.9 4.4l-9 2.9z" fill="url(#s137)" stroke="url(#s137)" stroke-width="0.6"/>
<path d="M402.4 702l9 -2.9l8.9 -4.4l17.7 -5.6l8.8 -3.6l17.4 -10.7l8.6 -2l8.6 -3l8.5 -5.6l8.5 -2.2l33.4 -13.7l8.2 -2.6l8.2 -5l8.1 -3l8.1 -4.5l16.1 -4.3l15.9 -9.6l7.9 -1.7l15.6 -6l15.5 -7.2l7.7 -2.6l7.6 -5.2l7.6 -1.9l15 -7.7l7.5 -3.2l7.4 -1.8l14.7 -7l14.6 -4.3l7.2 -4.9l14.3 -5.9l7.1 -2l7.1 -3.5l14.1 -5.8l7 -4.1l6.9 -3.1l40.9 -15.7l6.7 -3.3l6.7 -4.5l13.2 -3.7l6.6 -2.7l3.3 5.5l-6.6 2.7l-13.2 4.4l-6.7 4l-6.7 3.1l-40.9 16.3l-13.9 6.8l-21.1 9.3l-7.1 2.4l-14.3 6l-7.2 4.3l-14.6 4.9l-14.7 6.8l-7.4 2.3l-7.5 3.2l-15 7.3l-7.6 2.3l-7.6 4.6l-7.7 2.8l-15.5 7.1l-15.6 6.2l-7.9 2.2l-15.9 8.7l-16.1 5.2l-8.1 4.2l-8.1 3.1l-8.2 4.5l-8.2 2.9l-33.4 13.9l-8.5 2.7l-8.5 5l-17.2 5.8l-17.4 9.6l-8.8 3.7l-17.7 6.3l-8.9 4.2l-9 3.2z" fill="url(#s138)" stroke="url(#s138)" stroke-width="0.6"/>
<path d="M405.9 709l9 -3.2l8.9 -4.2l17.7 -6.3l8.8 -3.7l17.4 -9.6l17.2 -5.8l8.5 -5l8.5 -2.7l33.4 -13.9l8.2 -2.9l8.2 -4.5l8.1 -3.1l8.1 -4.2l16.1 -5.2l15.9 -8.7l7.9 -2.2l15.6 -6.2l15.5 -7.1l7.7 -2.8l7.6 -4.6l7.6 -2.3l15 -7.3l7.5 -3.2l7.4 -2.3l14.7 -6.8l14.6 -4.9l7.2 -4.3l14.3 -6l7.1 -2.4l21.1 -9.3l13.9 -6.8l40.9 -16.3l6.7 -3.1l6.7 -4l13.2 -4.4l6.6 -2.7l7.6 -4.5l-6.5 2.7l-13.2 3.4l-6.6 4.8l-6.7 3.4l-20.3 7.5l-13.7 5.8l-6.9 2.2l-6.9 3.1l-7 4.3l-14 5.9l-7.1 3.6l-7.1 1.9l-14.3 5.9l-7.2 5.2l-14.6 4l-14.7 7.1l-7.4 1.6l-7.5 3.2l-7.5 4.4l-7.5 3.6l-7.6 1.6l-7.6 5.6l-7.7 2.5l-15.4 7.4l-15.6 5.9l-7.9 1.5l-15.9 10l-16 4l-8.1 4.7l-8.1 2.9l-8.2 5.3l-8.2 2.4l-33.4 13.7l-8.5 2l-8.5 5.9l-8.6 2.9l-8.6 1.8l-17.4 11.2l-8.8 3.6l-17.7 5.3l-8.9 4.5l-9 2.8z" fill="url(#s139)" stroke="url(#s139)" stroke-width="0.6"/>
<path d="M397.2 662.7l3.2 28.8l2 10.5l3.5 7l8 -5.4M415.1 656.1l3.2 28.2l2 10.3l3.5 6.9l8 -5.3M432.8 654.7l3.2 25.1l2 9.2l3.5 6.2l8 -4.4M450.3 642.2l3.1 27.7l2 10.1l3.5 6.7l8 -5.2M467.6 635.4l3.1 27.4l2 10l3.5 6.6l8 -5.1M484.7 624.2l3.1 29.3l2 10.7l3.5 7l8 -5.7M501.6 621.9l3.1 26.8l2 9.8l3.5 6.5l7.9 -5M518.3 615.6l3.1 26.4l2 9.6l3.5 6.4l7.9 -4.9M534.8 612.1l3.1 24.6l2 9l3.5 6l7.9 -4.4M551.2 602l3.1 26.1l2 9.5l3.4 6.3l7.9 -4.9M567.3 596l3.1 25.6l2 9.4l3.4 6.2l7.9 -4.8M583.3 588.8l3.1 25.8l2 9.4l3.4 6.3l7.9 -4.9M599.1 583l3.1 25.3l2 9.2l3.4 6.2l7.9 -4.7M614.8 578.6l3.1 24.2l2 8.8l3.4 5.9l7.8 -4.4M630.2 570.1l3.1 25.1l1.9 9.2l3.4 6.1l7.8 -4.7M645.5 559.5l3.1 27.2l1.9 9.9l3.4 6.5l7.8 -5.4M660.7 556.6l3.1 25.4l1.9 9.2l3.4 6.1l7.8 -4.9M675.6 547.1l3.1 26.9l1.9 9.8l3.4 6.4l7.8 -5.4M690.5 543.9l3.1 25.4l1.9 9.2l3.4 6.1l7.8 -4.9M705.1 539.1l3.1 24.6l1.9 9l3.4 5.9l7.7 -4.7M719.6 531.1l3 25.5l1.9 9.3l3.4 6.1l7.7 -5M734 525.8l3 25l1.9 9.1l3.4 6l7.7 -4.9M748.2 521.4l3 24.2l1.9 8.8l3.4 5.8l7.7 -4.7M762.3 515.9l3 23.9l1.9 8.7l3.3 5.8l7.7 -4.6M776.2 505.9l3 25.9l1.9 9.4l3.3 6.2l7.7 -5.2M790 502.6l3 24.7l1.9 9l3.3 5.9l7.6 -4.9M803.6 498.3l3 23.9l1.9 8.7l3.3 5.7l7.6 -4.7M817.1 494.2l3 23l1.9 8.4l3.3 5.5l7.6 -4.4M830.5 482.1l3 26.2l1.9 9.5l3.3 6.2l7.6 -5.4M843.7 482.6l3 23.2l1.9 8.4l3.3 5.6l7.6 -4.5M407.2 708.5l9 -3.2l8.9 -4.3l17.7 -6.2l8.8 -3.7l17.4 -9.8l8.6 -2.5l8.6 -3.2l8.5 -5.1l8.5 -2.6l33.4 -13.9l8.2 -2.8l8.2 -4.6l8.1 -3.1l8.1 -4.2l16.1 -5l15.9 -8.8l7.9 -2.2l15.6 -6.2l15.4 -7.1l7.7 -2.8l7.6 -4.7l7.6 -2.2l15 -7.4l7.5 -3.2l7.4 -2.2l14.7 -6.8l14.6 -4.8l7.2 -4.4l14.3 -6l7.1 -2.3l21.1 -9.3l7 -3.8l6.9 -3.1l40.9 -16.2l6.7 -3.2l6.7 -4.1l13.2 -4.3l6.6 -2.7" fill="none" stroke="#b4b4b4" stroke-opacity="0.8" stroke-width="1"/>
<path d="M398.9 677.2l43.8 -18.6l18.3 -6.9l115.5 -48.5l16.7 -6.3l258.6 -107.4" fill="none" stroke="#3a3a3a" stroke-opacity="0.85" stroke-width="1.1"/>
<path d="M413.9 703.6l9 -2.8l8.9 -4.5l17.7 -5.3l8.8 -3.6l17.4 -11.2l8.6 -1.8l8.6 -2.9l8.5 -5.9l8.5 -2l33.4 -13.7l8.2 -2.4l8.2 -5.3l8.1 -2.9l8.1 -4.7l16 -4l15.9 -10l7.9 -1.5l15.6 -5.9l15.4 -7.4l7.7 -2.5l7.6 -5.6l7.6 -1.6l7.5 -3.6l7.5 -4.4l7.5 -3.2l7.4 -1.6l14.7 -7.1l14.6 -4l7.2 -5.2l14.3 -5.9l7.1 -1.9l7.1 -3.6l14 -5.9l7 -4.3l6.9 -3.1l6.9 -2.2l13.7 -5.8l20.3 -7.5l6.7 -3.4l6.6 -4.8l13.2 -3.4l6.5 -2.7l1.9 -1.5l-6.5 2.7l-13.2 3.2l-6.6 5l-6.7 3.4l-20.2 7.3l-13.7 5.8l-6.9 2.1l-6.9 3.2l-7 4.5l-14 5.8l-7.1 3.7l-7.1 1.7l-14.3 5.8l-7.2 5.5l-14.5 3.7l-14.7 7.2l-7.4 1.4l-7.5 3.2l-7.5 4.5l-7.5 3.6l-7.6 1.4l-7.6 5.9l-7.7 2.4l-15.4 7.5l-15.6 5.8l-7.9 1.2l-15.9 10.5l-16 3.6l-8.1 4.8l-8.1 2.8l-8.2 5.5l-8.2 2.3l-33.4 13.6l-8.5 1.8l-8.5 6.2l-8.6 2.8l-8.6 1.5l-17.4 11.7l-8.8 3.6l-17.7 5l-8.9 4.6l-9 2.7z" fill="#80299c" stroke="#80299c" stroke-width="0.6"/>
<path d="M415.9 701.7l9 -2.7l8.9 -4.6l17.7 -5l8.8 -3.6l17.4 -11.7l8.6 -1.5l8.6 -2.8l8.5 -6.2l8.5 -1.8l33.4 -13.6l8.2 -2.3l8.2 -5.5l8.1 -2.8l8.1 -4.8l16 -3.6l15.9 -10.5l7.9 -1.2l15.6 -5.8l15.4 -7.5l7.7 -2.4l7.6 -5.9l7.6 -1.4l7.5 -3.6l7.5 -4.5l7.5 -3.2l7.4 -1.4l14.7 -7.2l14.5 -3.7l7.2 -5.5l14.3 -5.8l7.1 -1.7l7.1 -3.7l14 -5.8l7 -4.5l6.9 -3.2l6.9 -2.1l13.7 -5.8l20.2 -7.3l6.7 -3.4l6.6 -5l13.2 -3.2l6.5 -2.7l9.5 -3.8l-6.5 2.6l-13.2 2.3l-6.6 5.8l-6.7 3.6l-20.2 6.8l-13.6 5.8l-6.9 1.8l-6.9 3.2l-6.9 5l-7 3.3l-7 2.5l-7.1 4l-7.1 1.2l-7.1 2.4l-7.2 3.4l-7.2 6.3l-7.2 1l-7.3 1.9l-14.7 7.5l-7.4 0.8l-7.4 3.2l-7.5 5l-7.5 3.7l-7.6 0.8l-7.6 6.9l-7.6 2.1l-7.7 4.3l-7.7 3.5l-15.6 5.5l-7.9 0.4l-15.8 11.8l-16 2.4l-8.1 5.3l-8.1 2.6l-8.2 6.2l-8.2 1.9l-16.6 6.2l-16.8 7.1l-8.4 1.2l-8.5 7.1l-8.5 2.5l-8.6 0.8l-17.3 13.3l-8.7 3.6l-17.6 4.1l-8.9 4.9l-9 2.3z" fill="url(#s140)" stroke="url(#s140)" stroke-width="0.6"/>
<path d="M426 697.2l9 -2.3l8.9 -4.9l17.6 -4.1l8.7 -3.6l17.3 -13.3l8.6 -0.8l8.5 -2.5l8.5 -7.1l8.4 -1.2l16.8 -7.1l16.6 -6.2l8.2 -1.9l8.2 -6.2l8.1 -2.6l8.1 -5.3l16 -2.4l15.8 -11.8l7.9 -0.4l15.6 -5.5l7.7 -3.5l7.7 -4.3l7.6 -2.1l7.6 -6.9l7.6 -0.8l7.5 -3.7l7.5 -5l7.4 -3.2l7.4 -0.8l14.7 -7.5l7.3 -1.9l7.2 -1l7.2 -6.3l7.2 -3.4l7.1 -2.4l7.1 -1.2l7.1 -4l7 -2.5l7 -3.3l6.9 -5l6.9 -3.2l6.9 -1.8l13.6 -5.8l20.2 -6.8l6.7 -3.6l6.6 -5.8l13.2 -2.3l6.5 -2.6l6.4 -1.4l-6.5 2.6l-13.2 1.8l-6.6 6.2l-6.7 3.7l-20.2 6.6l-13.6 5.8l-6.9 1.6l-6.9 3.3l-6.9 5.3l-7 3.4l-7 2.4l-7 4.1l-7.1 1l-7.1 2.3l-7.2 3.4l-7.2 6.7l-7.2 0.7l-7.3 1.7l-14.7 7.7l-7.4 0.5l-7.4 3.3l-7.5 5.2l-7.5 3.8l-7.6 0.5l-7.6 7.4l-7.6 1.9l-7.7 4.4l-7.7 3.5l-15.6 5.3l-7.8 0.1l-15.8 12.4l-16 1.9l-8.1 5.5l-8.1 2.5l-8.2 6.6l-8.2 1.7l-16.6 6.1l-16.7 7.1l-8.4 0.8l-8.5 7.6l-8.5 2.3l-8.6 0.4l-17.3 14.1l-8.7 3.6l-17.6 3.7l-8.9 5l-8.9 2.1z" fill="url(#s141)" stroke="url(#s141)" stroke-width="0.6"/>
<path d="M432.8 695.6l8.9 -2.1l8.9 -5l17.6 -3.7l8.7 -3.6l17.3 -14.1l8.6 -0.4l8.5 -2.3l8.5 -7.6l8.4 -0.8l16.7 -7.1l16.6 -6.1l8.2 -1.7l8.2 -6.6l8.1 -2.5l8.1 -5.5l16 -1.9l15.8 -12.4l7.8 -0.1l15.6 -5.3l7.7 -3.5l7.7 -4.4l7.6 -1.9l7.6 -7.4l7.6 -0.5l7.5 -3.8l7.5 -5.2l7.4 -3.3l7.4 -0.5l14.7 -7.7l7.3 -1.7l7.2 -0.7l7.2 -6.7l7.2 -3.4l7.1 -2.3l7.1 -1l7 -4.1l7 -2.4l7 -3.4l6.9 -5.3l6.9 -3.3l6.9 -1.6l13.6 -5.8l20.2 -6.6l6.7 -3.7l6.6 -6.2l13.2 -1.8l6.5 -2.6l4.5 4.8l-6.5 2.6l-13.1 2.3l-6.6 5.8l-6.7 3.6l-20.2 6.9l-13.6 5.8l-6.9 1.8l-6.9 3.3l-6.9 5l-7 3.4l-7 2.5l-7 4l-7.1 1.3l-7.1 2.4l-7.2 3.4l-7.2 6.3l-7.2 1l-7.3 1.9l-14.7 7.5l-7.4 0.9l-7.4 3.3l-7.5 5l-7.5 3.7l-7.5 0.8l-7.6 6.8l-7.6 2.1l-7.7 4.3l-7.7 3.5l-15.6 5.5l-7.8 0.5l-15.8 11.8l-16 2.5l-8.1 5.3l-8.1 2.6l-8.2 6.2l-8.2 1.9l-16.5 6.3l-16.7 7.2l-8.4 1.2l-8.5 7.1l-8.5 2.5l-8.6 0.8l-17.3 13.3l-8.7 3.6l-17.6 4.2l-8.9 4.9l-8.9 2.3z" fill="url(#s142)" stroke="url(#s142)" stroke-width="0.6"/>
<path d="M413.9 703.6l2 -1.9l10.1 -4.5l6.8 -1.6l4.7 6.2M431.8 696.2l2 -1.8l10.1 -4.4l6.7 -1.5l4.7 6.1M449.4 690.9l2 -1.5l10.1 -3.5l6.7 -1.1l4.7 5.5M466.9 681.5l2 -1.8l10 -4.3l6.7 -1.5l4.7 5.9M484.2 674.2l2 -1.8l10 -4.3l6.7 -1.5l4.7 5.9M501.2 665.4l2 -2l10 -4.9l6.7 -1.8l4.7 6.2M518.1 660l2 -1.7l10 -4.2l6.7 -1.4l4.7 5.8M534.8 653.1l2 -1.7l10 -4.1l6.7 -1.4l4.7 5.7M551.3 647.3l2 -1.5l9.9 -3.6l6.7 -1.2l4.7 5.4M567.6 639.1l2 -1.7l9.9 -4.1l6.6 -1.4l4.7 5.6M583.7 632.5l2 -1.6l9.9 -4l6.6 -1.4l4.7 5.5M599.7 625.5l2 -1.7l9.9 -4.1l6.6 -1.4l4.6 5.5M615.5 619l2 -1.6l9.9 -3.9l6.6 -1.4l4.6 5.4M631.1 613.1l2 -1.5l9.8 -3.6l6.6 -1.2l4.6 5.2M646.5 605.7l2 -1.6l9.8 -4l6.6 -1.4l4.6 5.4M661.8 597.7l2 -1.8l9.8 -4.6l6.6 -1.7l4.6 5.7M676.9 592.5l2 -1.7l9.8 -4.1l6.5 -1.4l4.6 5.4M691.8 584.9l1.9 -1.8l9.8 -4.6l6.5 -1.7l4.6 5.6M706.6 579.6l1.9 -1.7l9.7 -4.2l6.5 -1.5l4.6 5.4M721.2 573.8l1.9 -1.6l9.7 -4l6.5 -1.4l4.6 5.2M735.7 567l1.9 -1.7l9.7 -4.2l6.5 -1.5l4.6 5.3M750 561.1l1.9 -1.7l9.7 -4.2l6.5 -1.5l4.5 5.3M764.2 555.6l1.9 -1.6l9.7 -3.9l6.5 -1.4l4.5 5.1M778.2 549.7l1.9 -1.6l9.6 -3.9l6.4 -1.4l4.5 5.1M792.1 542.2l1.9 -1.8l9.6 -4.5l6.4 -1.7l4.5 5.4M805.9 537.2l1.9 -1.7l9.6 -4.2l6.4 -1.5l4.5 5.2M819.5 531.9l1.9 -1.6l9.6 -4l6.4 -1.4l4.5 5M832.9 526.8l1.9 -1.5l9.5 -3.7l6.4 -1.3l4.5 4.9M846.3 518.7l1.9 -1.8l9.5 -4.7l6.4 -1.8l4.5 5.4M859.5 515.2l1.9 -1.5l9.5 -3.8l6.4 -1.4l4.5 4.9M417.3 700.4l9 -2.6l8.9 -4.7l17.7 -4.8l8.8 -3.6l17.4 -12.1l8.6 -1.4l8.6 -2.7l8.5 -6.4l8.5 -1.7l33.4 -13.5l8.2 -2.2l8.2 -5.7l8.1 -2.8l8.1 -4.9l16 -3.3l15.9 -10.7l7.9 -1l15.6 -5.7l15.4 -7.5l7.7 -2.3l7.6 -6.1l7.6 -1.3l7.5 -3.6l7.5 -4.6l7.4 -3.2l7.4 -1.3l14.7 -7.3l7.3 -2.1l7.3 -1.4l7.2 -5.6l7.2 -3.3l7.1 -2.5l7.1 -1.6l7.1 -3.8l7 -2.6l7 -3.3l7 -4.6l6.9 -3.2l6.9 -2l13.7 -5.8l20.2 -7.2l6.7 -3.5l6.6 -5.2l13.2 -3l6.5 -2.7M427.4 696.7l9 -2.2l8.9 -4.9l17.6 -4l8.7 -3.6l17.3 -13.5l8.6 -0.7l8.5 -2.4l8.5 -7.3l8.4 -1.1l16.8 -7.1l16.6 -6.2l8.2 -1.8l8.2 -6.3l8.1 -2.6l8.1 -5.3l16 -2.3l15.8 -11.9l7.9 -0.3l15.6 -5.5l7.7 -3.5l7.7 -4.3l7.6 -2l7.6 -7l7.6 -0.7l7.5 -3.7l7.5 -5l7.4 -3.2l7.4 -0.7l14.7 -7.6l7.3 -1.8l7.2 -0.9l7.2 -6.4l7.2 -3.4l7.1 -2.4l7.1 -1.2l7.1 -4l7 -2.4l7 -3.4l6.9 -5.1l6.9 -3.2l6.9 -1.8l13.6 -5.8l6.8 -2l6.7 -2.8l6.7 -2l6.7 -3.7l6.6 -5.9l13.2 -2.2l6.5 -2.6M437.5 701.8l8.9 -2.3l8.9 -4.9l17.6 -4.2l8.7 -3.6l17.3 -13.3l8.6 -0.8l8.5 -2.5l8.5 -7.1l8.4 -1.2l16.7 -7.2l16.5 -6.3l8.2 -1.9l8.2 -6.2l8.1 -2.6l8.1 -5.3l16 -2.5l15.8 -11.8l7.8 -0.5l15.6 -5.5l7.7 -3.5l7.7 -4.3l7.6 -2.1l7.6 -6.8l7.5 -0.8l7.5 -3.7l7.5 -5l7.4 -3.3l7.4 -0.9l14.7 -7.5l7.3 -1.9l7.2 -1l7.2 -6.3l7.2 -3.4l7.1 -2.4l7.1 -1.3l7 -4l7 -2.5l7 -3.4l6.9 -5l6.9 -3.3l6.9 -1.8l13.6 -5.8l20.2 -6.9l6.7 -3.6l6.6 -5.8l13.1 -2.3l6.5 -2.6" fill="none" stroke="#b4b4b4" stroke-opacity="0.8" stroke-width="1"/>
<path d="M437.5 701.8l8.9 -2.3l8.9 -4.9l17.6 -4.2l8.7 -3.6l17.3 -13.3l8.6 -0.8l8.5 -2.5l8.5 -7.1l8.4 -1.2l16.7 -7.2l16.5 -6.3l8.2 -1.9l8.2 -6.2l8.1 -2.6l8.1 -5.3l16 -2.5l15.8 -11.8l7.8 -0.5l15.6 -5.5l7.7 -3.5l7.7 -4.3l7.6 -2.1l7.6 -6.8l7.5 -0.8l7.5 -3.7l7.5 -5l7.4 -3.3l7.4 -0.9l14.7 -7.5l7.3 -1.9l7.2 -1l7.2 -6.3l7.2 -3.4l7.1 -2.4l7.1 -1.3l7 -4l7 -2.5l7 -3.4l6.9 -5l6.9 -3.3l6.9 -1.8l13.6 -5.8l20.2 -6.9l6.7 -3.6l6.6 -5.8l13.1 -2.3l6.5 -2.6l5.1 5.2l-6.5 2.7l-13.1 2.9l-6.6 5.3l-6.7 3.5l-20.2 7.2l-13.6 5.9l-6.9 2l-6.9 3.2l-6.9 4.7l-14 5.9l-7 3.8l-7.1 1.6l-7.1 2.5l-7.2 3.3l-7.2 5.8l-7.2 1.3l-7.3 2.1l-14.6 7.4l-7.4 1.2l-7.4 3.3l-7.5 4.7l-7.5 3.7l-7.5 1.2l-7.6 6.3l-7.6 2.3l-15.4 7.7l-15.5 5.8l-7.8 1l-15.8 11l-16 3.2l-8.1 5l-8.1 2.8l-8.1 5.8l-8.2 2.2l-33.3 13.7l-8.4 1.6l-8.5 6.6l-8.5 2.7l-8.6 1.3l-17.3 12.4l-8.7 3.7l-17.6 4.8l-8.9 4.8l-8.9 2.6z" fill="url(#s143)" stroke="url(#s143)" stroke-width="0.6"/>
<path d="M443 708.5l8.9 -2.6l8.9 -4.8l17.6 -4.8l8.7 -3.7l17.3 -12.4l8.6 -1.3l8.5 -2.7l8.5 -6.6l8.4 -1.6l33.3 -13.7l8.2 -2.2l8.1 -5.8l8.1 -2.8l8.1 -5l16 -3.2l15.8 -11l7.8 -1l15.5 -5.8l15.4 -7.7l7.6 -2.3l7.6 -6.3l7.5 -1.2l7.5 -3.7l7.5 -4.7l7.4 -3.3l7.4 -1.2l14.6 -7.4l7.3 -2.1l7.2 -1.3l7.2 -5.8l7.2 -3.3l7.1 -2.5l7.1 -1.6l7 -3.8l14 -5.9l6.9 -4.7l6.9 -3.2l6.9 -2l13.6 -5.9l20.2 -7.2l6.7 -3.5l6.6 -5.3l13.1 -2.9l6.5 -2.7l9.6 11l-6.5 2.8l-13.1 4.1l-6.6 4.4l-6.6 3.3l-40.6 16.3l-6.9 3.2l-6.9 4.1l-21 9.6l-7.1 2.2l-14.2 6.1l-7.2 4.8l-14.5 4.6l-14.6 7l-7.4 2.1l-7.4 3.3l-14.9 7.7l-7.5 2.1l-7.6 5.1l-7.6 2.7l-15.4 7.3l-15.5 6.2l-7.8 2l-15.8 9.4l-16 4.8l-8 4.4l-8.1 3.1l-8.1 4.9l-8.2 2.8l-33.2 14.1l-8.4 2.5l-8.5 5.5l-8.5 3.1l-8.6 2.3l-17.3 10.5l-8.7 3.7l-17.6 6l-8.9 4.4l-8.9 3.1z" fill="url(#s144)" stroke="url(#s144)" stroke-width="0.6"/>
<path d="M453.2 722.5l8.9 -3.1l8.9 -4.4l17.6 -6l8.7 -3.7l17.3 -10.5l8.6 -2.3l8.5 -3.1l8.5 -5.5l8.4 -2.5l33.2 -14.1l8.2 -2.8l8.1 -4.9l8.1 -3.1l8 -4.4l16 -4.8l15.8 -9.4l7.8 -2l15.5 -6.2l15.4 -7.3l7.6 -2.7l7.6 -5.1l7.5 -2.1l14.9 -7.7l7.4 -3.3l7.4 -2.1l14.6 -7l14.5 -4.6l7.2 -4.8l14.2 -6.1l7.1 -2.2l21 -9.6l6.9 -4.1l6.9 -3.2l40.6 -16.3l6.6 -3.3l6.6 -4.4l13.1 -4.1l6.5 -2.8l9.6 0.1l-6.5 2.8l-13.1 3.7l-6.6 4.7l-6.6 3.4l-20.1 7.7l-13.6 6l-6.8 2.3l-6.9 3.2l-6.9 4.3l-13.9 6l-7 3.7l-7.1 2l-14.2 6l-7.2 5.1l-14.4 4.3l-14.6 7.2l-7.4 1.8l-7.4 3.3l-14.9 8l-7.5 1.8l-7.6 5.5l-7.6 2.6l-15.3 7.5l-15.5 6.1l-7.8 1.7l-15.8 10l-15.9 4.3l-8 4.7l-8.1 3l-8.1 5.3l-8.2 2.6l-33.2 14.1l-8.4 2.2l-8.5 5.9l-8.5 3l-8.6 2l-17.3 11.2l-8.7 3.7l-17.6 5.7l-8.9 4.6l-8.9 3z" fill="#82269b" stroke="#82269b" stroke-width="0.6"/>
<path d="M463.4 722.9l8.9 -3l8.9 -4.6l17.6 -5.7l8.7 -3.7l17.3 -11.2l8.6 -2l8.5 -3l8.5 -5.9l8.4 -2.2l33.2 -14.1l8.2 -2.6l8.1 -5.3l8.1 -3l8 -4.7l15.9 -4.3l15.8 -10l7.8 -1.7l15.5 -6.1l15.3 -7.5l7.6 -2.6l7.6 -5.5l7.5 -1.8l14.9 -8l7.4 -3.3l7.4 -1.8l14.6 -7.2l14.4 -4.3l7.2 -5.1l14.2 -6l7.1 -2l7 -3.7l13.9 -6l6.9 -4.3l6.9 -3.2l6.8 -2.3l13.6 -6l20.1 -7.7l6.6 -3.4l6.6 -4.7l13.1 -3.7l6.5 -2.8l6 -1.1l-6.5 2.7l-13.1 3.3l-6.6 5l-6.6 3.5l-20.1 7.5l-13.6 6l-6.8 2.2l-6.9 3.2l-6.9 4.6l-13.9 6l-7 3.8l-7 1.8l-14.2 6l-7.2 5.5l-14.4 3.9l-14.6 7.3l-7.4 1.5l-7.4 3.3l-7.4 4.6l-7.5 3.7l-7.5 1.5l-7.6 6l-7.6 2.5l-15.3 7.6l-15.5 6l-7.8 1.3l-15.8 10.6l-15.9 3.8l-8 4.9l-8.1 2.9l-8.1 5.6l-8.2 2.4l-33.1 14l-8.4 1.9l-8.5 6.3l-8.5 2.9l-8.6 1.7l-17.3 11.9l-8.7 3.7l-17.6 5.3l-8.9 4.7l-8.9 2.8z" fill="#81289c" stroke="#81289c" stroke-width="0.6"/>
<path d="M469.8 721.6l8.9 -2.8l8.9 -4.7l17.6 -5.3l8.7 -3.7l17.3 -11.9l8.6 -1.7l8.5 -2.9l8.5 -6.3l8.4 -1.9l33.1 -14l8.2 -2.4l8.1 -5.6l8.1 -2.9l8 -4.9l15.9 -3.8l15.8 -10.6l7.8 -1.3l15.5 -6l15.3 -7.6l7.6 -2.5l7.6 -6l7.5 -1.5l7.5 -3.7l7.4 -4.6l7.4 -3.3l7.4 -1.5l14.6 -7.3l14.4 -3.9l7.2 -5.5l14.2 -6l7 -1.8l7 -3.8l13.9 -6l6.9 -4.6l6.9 -3.2l6.8 -2.2l13.6 -6l20.1 -7.5l6.6 -3.5l6.6 -5l13.1 -3.3l6.5 -2.7l1.8 -1.5l-6.5 2.7l-13.1 3l-6.6 5.3l-6.6 3.5l-20.1 7.4l-13.5 6l-6.8 2.1l-6.9 3.3l-6.9 4.7l-13.9 6l-7 3.9l-7 1.7l-7.1 2.6l-7.1 3.4l-7.2 5.8l-14.4 3.6l-14.6 7.4l-7.4 1.3l-7.4 3.3l-7.4 4.7l-7.5 3.7l-7.5 1.3l-7.6 6.3l-7.6 2.4l-15.3 7.7l-15.5 5.9l-7.8 1.1l-15.7 11l-15.9 3.5l-8 5l-8.1 2.9l-8.1 5.8l-8.2 2.3l-33.1 13.9l-8.4 1.7l-8.5 6.6l-8.5 2.8l-8.6 1.4l-17.3 12.4l-8.7 3.7l-17.6 5l-8.9 4.8l-8.9 2.7z" fill="#7f2a9d" stroke="#7f2a9d" stroke-width="0.6"/>
<path d="M437.5 701.8l15.7 20.7l10.3 0.4l6.4 -1.3l1.9 -1.9M455.3 694.6l15.6 20.3l10.3 0.4l6.3 -1.2l1.9 -1.8M473 690.3l15.6 18.6l10.2 0.7l6.3 -0.9l1.9 -1.6M490.4 679.8l15.6 19.9l10.2 0.4l6.3 -1.2l1.9 -1.8M507.6 672.6l15.5 19.7l10.2 0.4l6.3 -1.2l1.9 -1.8M524.6 663l15.5 20.7l10.2 0.1l6.3 -1.5l1.9 -2M541.5 658.4l15.5 19.3l10.2 0.4l6.3 -1.2l1.9 -1.7M558.1 651.6l15.4 19l10.1 0.4l6.3 -1.1l1.9 -1.7M574.5 646.4l15.4 18l10.1 0.6l6.3 -0.9l1.9 -1.5M590.8 637.5l15.4 18.8l10.1 0.4l6.2 -1.2l1.9 -1.7M606.9 631l15.4 18.5l10.1 0.4l6.2 -1.1l1.9 -1.7M622.8 623.8l15.3 18.5l10 0.3l6.2 -1.2l1.9 -1.7M638.5 617.5l15.3 18.2l10 0.3l6.2 -1.1l1.8 -1.6M654.1 612l15.3 17.5l10 0.5l6.2 -1l1.8 -1.5M669.5 604.1l15.2 18l10 0.3l6.2 -1.1l1.8 -1.6M684.7 595.2l15.2 19.1l10 0l6.2 -1.4l1.8 -1.8M699.7 590.6l15.2 18l9.9 0.2l6.1 -1.2l1.8 -1.7M714.6 582.4l15.1 18.8l9.9 0l6.1 -1.4l1.8 -1.8M729.4 577.7l15.1 18l9.9 0.1l6.1 -1.2l1.8 -1.7M744 572.1l15.1 17.5l9.9 0.2l6.1 -1.2l1.8 -1.6M758.4 564.8l15 17.9l9.8 0.1l6.1 -1.3l1.8 -1.7M772.7 559l15 17.7l9.8 0.1l6.1 -1.3l1.8 -1.7M786.8 553.8l15 17.2l9.8 0.2l6.1 -1.2l1.8 -1.6M800.8 547.9l14.9 17l9.8 0.2l6.1 -1.2l1.8 -1.6M814.6 539.6l14.9 18l9.8 -0.1l6 -1.4l1.8 -1.8M828.3 535l14.9 17.3l9.7 0l6 -1.3l1.8 -1.7M841.9 530l14.8 16.9l9.7 0.1l6 -1.2l1.8 -1.6M855.3 525.1l14.8 16.3l9.7 0.2l6 -1.1l1.8 -1.5M868.5 515.7l14.7 18.1l9.7 -0.2l6 -1.5l1.8 -1.8M881.7 513.3l14.7 16.3l9.6 0.1l6 -1.2l1.8 -1.5M447.7 715.1l8.9 -2.8l8.9 -4.6l17.6 -5.4l8.7 -3.7l17.3 -11.5l8.6 -1.8l8.5 -2.9l8.5 -6.1l8.4 -2l33.2 -13.9l8.2 -2.5l8.1 -5.4l8.1 -2.9l8.1 -4.7l16 -4l15.8 -10.3l7.8 -1.4l15.5 -6l15.4 -7.5l7.6 -2.5l7.6 -5.8l7.5 -1.6l7.5 -3.6l7.5 -4.5l7.4 -3.3l7.4 -1.6l14.6 -7.2l14.5 -4l7.2 -5.3l7.1 -3.3l7.1 -2.6l7.1 -1.9l7 -3.7l14 -6l6.9 -4.4l6.9 -3.2l6.9 -2.2l13.6 -5.9l20.1 -7.5l6.6 -3.4l6.6 -4.9l13.1 -3.4l6.5 -2.7M458 722.8l8.9 -3.1l8.9 -4.5l17.6 -5.9l8.7 -3.7l17.3 -10.8l8.6 -2.2l8.5 -3.1l8.5 -5.6l8.4 -2.3l33.2 -14.1l8.2 -2.7l8.1 -5.1l8.1 -3.1l8 -4.5l16 -4.6l15.8 -9.7l7.8 -1.8l15.5 -6.2l15.3 -7.4l7.6 -2.7l7.6 -5.3l7.5 -2l7.5 -3.6l7.4 -4.3l7.4 -3.3l7.4 -1.9l14.6 -7.1l14.5 -4.5l7.2 -4.9l14.2 -6l7.1 -2.1l7 -3.6l13.9 -6l6.9 -4.2l6.9 -3.2l6.8 -2.4l13.6 -5.9l20.1 -7.8l6.6 -3.3l6.6 -4.5l13.1 -3.9l6.5 -2.8M468.3 722.9l8.9 -2.9l8.9 -4.6l17.6 -5.5l8.7 -3.7l17.3 -11.5l8.6 -1.8l8.5 -3l8.5 -6.1l8.4 -2.1l33.2 -14l8.2 -2.5l8.1 -5.4l8.1 -3l8 -4.8l15.9 -4.1l15.8 -10.3l7.8 -1.5l15.5 -6.1l15.3 -7.6l7.6 -2.5l7.6 -5.7l7.5 -1.7l7.5 -3.6l7.4 -4.5l7.4 -3.3l7.4 -1.7l14.6 -7.3l14.4 -4.1l7.2 -5.3l14.2 -6l7 -1.9l7 -3.7l13.9 -6l6.9 -4.4l6.9 -3.2l6.8 -2.2l13.6 -6l20.1 -7.7l6.6 -3.4l6.6 -4.9l13.1 -3.5l6.5 -2.7" fill="none" stroke="#b4b4b4" stroke-opacity="0.8" stroke-width="1"/>
<path d="M471.7 719.7l8.9 -2.7l8.9 -4.8l17.6 -5l8.7 -3.7l17.3 -12.4l8.6 -1.4l8.5 -2.8l8.5 -6.6l8.4 -1.7l33.1 -13.9l8.2 -2.3l8.1 -5.8l8.1 -2.9l8 -5l15.9 -3.5l15.7 -11l7.8 -1.1l15.5 -5.9l15.3 -7.7l7.6 -2.4l7.6 -6.3l7.5 -1.3l7.5 -3.7l7.4 -4.7l7.4 -3.3l7.4 -1.3l14.6 -7.4l14.4 -3.6l7.2 -5.8l7.1 -3.4l7.1 -2.6l7 -1.7l7 -3.9l13.9 -6l6.9 -4.7l6.9 -3.3l6.8 -2.1l13.5 -6l20.1 -7.4l6.6 -3.5l6.6 -5.3l13.1 -3l6.5 -2.7l0.5 0.5l-6.5 2.7l-13.1 3.1l-6.6 5.2l-6.6 3.5l-20.1 7.4l-13.5 6l-6.8 2.1l-6.9 3.3l-6.9 4.7l-13.9 6l-7 3.8l-7 1.7l-7.1 2.6l-7.1 3.4l-7.2 5.7l-14.4 3.7l-14.6 7.4l-7.4 1.4l-7.4 3.3l-7.4 4.7l-7.5 3.7l-7.5 1.4l-7.6 6.2l-7.6 2.4l-15.3 7.7l-15.5 5.9l-7.8 1.1l-15.7 10.9l-15.9 3.5l-8 5l-8.1 2.9l-8.1 5.8l-8.2 2.3l-33.1 13.9l-8.4 1.8l-8.5 6.5l-8.5 2.8l-8.6 1.5l-17.3 12.3l-8.7 3.7l-17.6 5l-8.9 4.8l-8.9 2.7z" fill="#7f2a9d" stroke="#7f2a9d" stroke-width="0.6"/>
<path d="M472.2 720.3l8.9 -2.7l8.9 -4.8l17.6 -5l8.7 -3.7l17.3 -12.3l8.6 -1.5l8.5 -2.8l8.5 -6.5l8.4 -1.8l33.1 -13.9l8.2 -2.3l8.1 -5.8l8.1 -2.9l8 -5l15.9 -3.5l15.7 -10.9l7.8 -1.1l15.5 -5.9l15.3 -7.7l7.6 -2.4l7.6 -6.2l7.5 -1.4l7.5 -3.7l7.4 -4.7l7.4 -3.3l7.4 -1.4l14.6 -7.4l14.4 -3.7l7.2 -5.7l7.1 -3.4l7.1 -2.6l7 -1.7l7 -3.8l13.9 -6l6.9 -4.7l6.9 -3.3l6.8 -2.1l13.5 -6l20.1 -7.4l6.6 -3.5l6.6 -5.2l13.1 -3.1l6.5 -2.7l4.4 6.6l-6.5 2.8l-13.1 3.9l-6.6 4.6l-6.6 3.4l-40.4 16.2l-6.9 3.2l-6.9 4.3l-13.9 6.1l-7 3.7l-7 2.1l-14.2 6.1l-7.2 5.1l-14.4 4.4l-14.6 7.2l-7.3 1.9l-7.4 3.3l-14.9 7.9l-7.5 1.9l-7.5 5.4l-7.6 2.7l-15.3 7.5l-15.5 6.2l-7.8 1.8l-15.7 9.9l-15.9 4.5l-8 4.6l-8.1 3.1l-8.1 5.2l-8.2 2.7l-33.1 14.2l-8.4 2.3l-8.4 5.8l-8.5 3.1l-8.5 2.1l-17.2 11.1l-8.7 3.8l-17.5 5.8l-8.9 4.6l-8.9 3.1z" fill="url(#s145)" stroke="url(#s145)" stroke-width="0.6"/>
<path d="M476.9 728.7l8.9 -3.1l8.9 -4.6l17.5 -5.8l8.7 -3.8l17.2 -11.1l8.5 -2.1l8.5 -3.1l8.4 -5.8l8.4 -2.3l33.1 -14.2l8.2 -2.7l8.1 -5.2l8.1 -3.1l8 -4.6l15.9 -4.5l15.7 -9.9l7.8 -1.8l15.5 -6.2l15.3 -7.5l7.6 -2.7l7.5 -5.4l7.5 -1.9l14.9 -7.9l7.4 -3.3l7.3 -1.9l14.6 -7.2l14.4 -4.4l7.2 -5.1l14.2 -6.1l7 -2.1l7 -3.7l13.9 -6.1l6.9 -4.3l6.9 -3.2l40.4 -16.2l6.6 -3.4l6.6 -4.6l13.1 -3.9l6.5 -2.8l9.7 6l-6.5 2.8l-13 4.3l-6.6 4.3l-6.6 3.3l-40.3 16.7l-6.8 3.2l-6.9 4l-20.9 9.7l-7 2.3l-14.2 6.2l-7.1 4.7l-14.4 4.9l-14.6 7.1l-7.3 2.2l-7.4 3.3l-14.9 7.7l-7.5 2.3l-7.5 5l-7.6 2.9l-15.3 7.4l-15.5 6.4l-7.8 2.2l-15.7 9.3l-15.9 5.1l-8 4.4l-8.1 3.2l-8.1 4.9l-8.2 2.9l-33.1 14.4l-8.4 2.6l-8.4 5.4l-8.5 3.3l-8.5 2.5l-17.2 10.4l-8.7 3.8l-17.5 6.3l-8.8 4.5l-8.9 3.3z" fill="#83269b" stroke="#83269b" stroke-width="0.6"/>
<path d="M487.2 736.5l8.9 -3.3l8.8 -4.5l17.5 -6.3l8.7 -3.8l17.2 -10.4l8.5 -2.5l8.5 -3.3l8.4 -5.4l8.4 -2.6l33.1 -14.4l8.2 -2.9l8.1 -4.9l8.1 -3.2l8 -4.4l15.9 -5.1l15.7 -9.3l7.8 -2.2l15.5 -6.4l15.3 -7.4l7.6 -2.9l7.5 -5l7.5 -2.3l14.9 -7.7l7.4 -3.3l7.3 -2.2l14.6 -7.1l14.4 -4.9l7.1 -4.7l14.2 -6.2l7 -2.3l20.9 -9.7l6.9 -4l6.8 -3.2l40.3 -16.7l6.6 -3.3l6.6 -4.3l13 -4.3l6.5 -2.8l8 2.3l-6.5 2.8l-13 4.4l-6.6 4.3l-6.6 3.3l-40.3 16.8l-6.8 3.2l-6.9 4l-20.8 9.7l-7 2.4l-14.1 6.2l-7.1 4.7l-14.4 5l-14.5 7.1l-7.3 2.3l-7.4 3.3l-14.9 7.7l-7.5 2.3l-7.5 5l-7.6 2.9l-15.3 7.4l-15.4 6.4l-7.8 2.2l-15.7 9.3l-15.9 5.2l-8 4.4l-8 3.2l-8.1 4.9l-8.1 2.9l-33 14.5l-8.4 2.7l-8.4 5.4l-8.5 3.3l-8.5 2.5l-17.2 10.4l-8.7 3.8l-17.5 6.4l-8.8 4.5l-8.9 3.3z" fill="#84249a" stroke="#84249a" stroke-width="0.6"/>
<path d="M495.8 739.6l8.9 -3.3l8.8 -4.5l17.5 -6.4l8.7 -3.8l17.2 -10.4l8.5 -2.5l8.5 -3.3l8.4 -5.4l8.4 -2.7l33 -14.5l8.1 -2.9l8.1 -4.9l8 -3.2l8 -4.4l15.9 -5.2l15.7 -9.3l7.8 -2.2l15.4 -6.4l15.3 -7.4l7.6 -2.9l7.5 -5l7.5 -2.3l14.9 -7.7l7.4 -3.3l7.3 -2.3l14.5 -7.1l14.4 -5l7.1 -4.7l14.1 -6.2l7 -2.4l20.8 -9.7l6.9 -4l6.8 -3.2l40.3 -16.8l6.6 -3.3l6.6 -4.3l13 -4.4l6.5 -2.8l2.4 -3.8l-6.5 2.8l-13 3.7l-6.6 4.8l-6.6 3.4l-20 7.8l-13.5 6l-6.8 2.3l-6.8 3.3l-6.9 4.4l-13.8 6.1l-7 3.7l-7 2l-14.1 6.1l-7.1 5.2l-14.4 4.3l-14.5 7.3l-7.3 1.8l-7.4 3.3l-14.8 8.1l-7.5 1.8l-7.5 5.6l-7.6 2.6l-15.3 7.6l-15.4 6.2l-7.8 1.7l-15.7 10.2l-15.9 4.4l-8 4.8l-8 3.1l-8.1 5.4l-8.1 2.6l-33 14.3l-8.4 2.2l-8.4 6l-8.5 3.1l-8.5 2l-17.2 11.4l-8.7 3.8l-17.5 5.7l-8.8 4.7l-8.9 3z" fill="url(#s146)" stroke="url(#s146)" stroke-width="0.6"/>
<path d="M498.4 734.9l8.9 -3l8.8 -4.7l17.5 -5.7l8.7 -3.8l17.2 -11.4l8.5 -2l8.5 -3.1l8.4 -6l8.4 -2.2l33 -14.3l8.1 -2.6l8.1 -5.4l8 -3.1l8 -4.8l15.9 -4.4l15.7 -10.2l7.8 -1.7l15.4 -6.2l15.3 -7.6l7.6 -2.6l7.5 -5.6l7.5 -1.8l14.8 -8.1l7.4 -3.3l7.3 -1.8l14.5 -7.3l14.4 -4.3l7.1 -5.2l14.1 -6.1l7 -2l7 -3.7l13.8 -6.1l6.9 -4.4l6.8 -3.3l6.8 -2.3l13.5 -6l20 -7.8l6.6 -3.4l6.6 -4.8l13 -3.7l6.5 -2.8l1.6 -9.6l-6.5 2.7l-13 2.3l-6.6 6l-6.6 3.7l-20 7.1l-13.5 6l-6.8 1.8l-6.8 3.3l-6.9 5.2l-6.9 3.4l-6.9 2.5l-7 4.1l-7 1.3l-7.1 2.5l-7.1 3.5l-7.1 6.5l-7.2 1l-7.2 1.9l-14.5 7.8l-7.3 0.9l-7.4 3.4l-7.4 5.1l-7.4 3.9l-7.5 0.8l-7.5 7.1l-7.6 2.1l-7.6 4.4l-7.6 3.6l-15.4 5.7l-7.8 0.5l-15.7 12.2l-15.9 2.5l-8 5.5l-8 2.7l-8.1 6.4l-8.1 2l-16.4 6.5l-16.6 7.4l-8.4 1.2l-8.4 7.4l-8.5 2.6l-8.5 0.8l-17.2 13.8l-8.7 3.7l-17.5 4.3l-8.8 5.1l-8.9 2.4z" fill="url(#s147)" stroke="url(#s147)" stroke-width="0.6"/>
<path d="M500.1 723l8.9 -2.4l8.8 -5.1l17.5 -4.3l8.7 -3.7l17.2 -13.8l8.5 -0.8l8.5 -2.6l8.4 -7.4l8.4 -1.2l16.6 -7.4l16.4 -6.5l8.1 -2l8.1 -6.4l8 -2.7l8 -5.5l15.9 -2.5l15.7 -12.2l7.8 -0.5l15.4 -5.7l7.6 -3.6l7.6 -4.4l7.6 -2.1l7.5 -7.1l7.5 -0.8l7.4 -3.9l7.4 -5.1l7.4 -3.4l7.3 -0.9l14.5 -7.8l7.2 -1.9l7.2 -1l7.1 -6.5l7.1 -3.5l7.1 -2.5l7 -1.3l7 -4.1l6.9 -2.5l6.9 -3.4l6.9 -5.2l6.8 -3.3l6.8 -1.8l13.5 -6l20 -7.1l6.6 -3.7l6.6 -6l13 -2.3l6.5 -2.7l0.7 -2.5l-6.5 2.7l-13 2l-6.6 6.3l-6.6 3.8l-20 6.8l-13.5 6l-6.8 1.7l-6.8 3.4l-6.9 5.4l-6.9 3.5l-6.9 2.5l-7 4.2l-7 1.1l-7 2.4l-7.1 3.5l-7.1 6.9l-7.2 0.8l-7.2 1.8l-14.5 7.9l-7.3 0.6l-7.4 3.4l-7.4 5.3l-7.4 3.9l-7.5 0.6l-7.5 7.5l-7.6 2l-7.6 4.6l-7.6 3.6l-15.4 5.5l-7.8 0.1l-15.7 12.7l-15.9 2l-8 5.7l-8 2.6l-8.1 6.7l-8.1 1.8l-16.4 6.4l-16.6 7.4l-8.4 0.9l-8.4 7.8l-8.5 2.4l-8.5 0.5l-17.2 14.4l-8.7 3.7l-17.5 3.9l-8.8 5.2l-8.9 2.2z" fill="url(#s148)" stroke="url(#s148)" stroke-width="0.6"/>
<path d="M471.7 719.7l5.2 9l10.4 7.8l8.5 3.2l2.6 -4.7l2.4 -15M489.5 712.2l5.2 8.9l10.4 7.7l8.5 3.1l2.6 -4.6l2.4 -14.7M507 707.2l5.2 8l10.3 7.2l8.5 3.1l2.6 -4l2.4 -12.9M524.4 697.1l5.1 8.7l10.3 7.5l8.5 3.1l2.6 -4.5l2.4 -14.4M541.5 689.7l5.1 8.6l10.3 7.4l8.4 3l2.6 -4.5l2.4 -14.3M558.5 680.4l5.1 9.1l10.3 7.7l8.4 3l2.6 -4.9l2.4 -15.4M575.2 675.2l5.1 8.4l10.3 7.3l8.4 3l2.6 -4.4l2.4 -14M591.8 668.2l5.1 8.3l10.2 7.2l8.4 2.9l2.6 -4.3l2.4 -13.7M608.2 662.5l5.1 7.8l10.2 6.9l8.4 2.9l2.6 -4l2.4 -12.7M624.4 653.8l5.1 8.2l10.2 7.1l8.4 2.9l2.6 -4.3l2.4 -13.6M640.4 647.1l5.1 8l10.2 7l8.3 2.8l2.6 -4.2l2.4 -13.4M656.2 639.8l5.1 8.1l10.1 6.9l8.3 2.8l2.6 -4.2l2.4 -13.5M671.9 633.3l5 7.9l10.1 6.8l8.3 2.8l2.5 -4.2l2.4 -13.2M687.4 627.4l5 7.6l10.1 6.6l8.3 2.7l2.5 -3.9l2.4 -12.6M702.7 619.7l5 7.8l10.1 6.8l8.3 2.7l2.5 -4.1l2.4 -13.1M717.8 611.1l5 8.4l10.1 7l8.2 2.7l2.5 -4.6l2.4 -14.3M732.8 606l5 7.9l10 6.7l8.2 2.7l2.5 -4.2l2.4 -13.3M747.6 598l5 8.3l10 6.9l8.2 2.7l2.5 -4.5l2.4 -14.2M762.3 592.8l5 7.8l10 6.7l8.2 2.6l2.5 -4.2l2.3 -13.3M776.8 587l5 7.6l10 6.5l8.2 2.6l2.5 -4.1l2.3 -12.9M791.2 579.8l5 7.8l9.9 6.6l8.2 2.6l2.5 -4.3l2.3 -13.4M805.4 573.8l4.9 7.7l9.9 6.5l8.1 2.5l2.5 -4.2l2.3 -13.1M819.4 568.3l4.9 7.5l9.9 6.4l8.1 2.5l2.5 -4l2.3 -12.7M833.3 562.3l4.9 7.4l9.9 6.3l8.1 2.5l2.5 -4l2.3 -12.5M847.1 554.4l4.9 7.9l9.9 6.6l8.1 2.5l2.5 -4.4l2.3 -13.7M860.7 549.4l4.9 7.6l9.8 6.4l8.1 2.4l2.5 -4.1l2.3 -13M874.2 544.1l4.9 7.4l9.8 6.2l8 2.4l2.5 -4l2.3 -12.5M887.5 539l4.9 7.1l9.8 6.1l8 2.4l2.5 -3.8l2.3 -12M900.7 530.1l4.9 7.9l9.8 6.5l8 2.4l2.5 -4.5l2.3 -13.9M913.8 527.1l4.9 7.1l9.7 6l8 2.4l2.4 -3.9l2.3 -12.1M478.6 730.2l8.9 -3.1l8.9 -4.5l17.5 -5.9l8.7 -3.8l17.2 -10.9l8.5 -2.2l8.5 -3.1l8.4 -5.7l8.4 -2.4l33.1 -14.2l8.2 -2.7l8.1 -5.1l8.1 -3.1l8 -4.6l15.9 -4.6l15.7 -9.8l7.8 -1.8l15.5 -6.2l15.3 -7.5l7.6 -2.7l7.5 -5.3l7.5 -2l7.5 -3.6l7.4 -4.3l7.4 -3.3l7.3 -2l14.6 -7.2l14.4 -4.5l7.1 -5l14.2 -6.1l7 -2.1l7 -3.6l13.9 -6.1l6.9 -4.2l6.9 -3.2l6.8 -2.4l13.5 -6l20 -7.9l6.6 -3.4l6.6 -4.6l13.1 -3.9l6.5 -2.8M489 737.6l8.9 -3.3l8.8 -4.4l17.5 -6.4l8.7 -3.8l17.2 -10.3l8.5 -2.6l8.5 -3.3l8.4 -5.3l8.4 -2.7l33.1 -14.4l8.1 -2.9l8.1 -4.8l8.1 -3.2l8 -4.4l15.9 -5.2l15.7 -9.2l7.8 -2.2l15.4 -6.4l15.3 -7.4l7.6 -2.9l7.5 -4.9l7.5 -2.3l14.9 -7.7l7.4 -3.3l7.3 -2.3l14.5 -7.1l14.4 -5l7.1 -4.6l14.2 -6.2l7 -2.4l20.9 -9.7l6.9 -4l6.8 -3.2l40.3 -16.8l6.6 -3.3l6.6 -4.2l13 -4.4l6.5 -2.8M499.4 728.8l8.9 -2.7l8.8 -4.9l17.5 -5l8.7 -3.8l17.2 -12.6l8.5 -1.4l8.5 -2.8l8.4 -6.7l8.4 -1.7l16.6 -7.4l16.4 -6.7l8.1 -2.3l8.1 -5.9l8 -2.9l8 -5.1l15.9 -3.4l15.7 -11.2l7.8 -1l15.4 -5.9l7.6 -3.6l7.6 -4.3l7.6 -2.4l7.5 -6.4l7.5 -1.3l7.4 -3.8l7.4 -4.8l7.4 -3.3l7.3 -1.3l14.5 -7.6l7.2 -2.2l7.2 -1.4l7.1 -5.9l7.1 -3.4l7.1 -2.6l7 -1.6l7 -3.9l6.9 -2.7l6.9 -3.4l6.9 -4.8l6.8 -3.3l6.8 -2.1l13.5 -6l20 -7.4l6.6 -3.6l6.6 -5.4l13 -3l6.5 -2.7" fill="none" stroke="#b4b4b4" stroke-opacity="0.8" stroke-width="1"/>
<path d="M500.8 719.9l8.9 -2.2l8.8 -5.2l17.5 -3.9l8.7 -3.7l17.2 -14.4l8.5 -0.5l8.5 -2.4l8.4 -7.8l8.4 -0.9l16.6 -7.4l16.4 -6.4l8.1 -1.8l8.1 -6.7l8 -2.6l8 -5.7l15.9 -2l15.7 -12.7l7.8 -0.1l15.4 -5.5l7.6 -3.6l7.6 -4.6l7.6 -2l7.5 -7.5l7.5 -0.6l7.4 -3.9l7.4 -5.3l7.4 -3.4l7.3 -0.6l14.5 -7.9l7.2 -1.8l7.2 -0.8l7.1 -6.9l7.1 -3.5l7 -2.4l7 -1.1l7 -4.2l6.9 -2.5l6.9 -3.5l6.9 -5.4l6.8 -3.4l6.8 -1.7l13.5 -6l20 -6.8l6.6 -3.8l6.6 -6.3l13 -2l6.5 -2.7l0.8 4l-6.5 2.7l-13 2.5l-6.6 5.8l-6.6 3.7l-20 7.1l-13.5 6l-6.8 1.9l-6.8 3.3l-6.9 5.1l-6.9 3.4l-6.9 2.6l-7 4.1l-7 1.4l-7 2.5l-7.1 3.5l-7.1 6.4l-7.2 1.1l-7.2 2l-14.5 7.7l-7.3 1l-7.4 3.4l-7.4 5.1l-7.4 3.8l-7.5 0.9l-7.5 6.9l-7.6 2.2l-7.6 4.4l-7.6 3.6l-15.4 5.7l-7.8 0.6l-15.7 12l-15.9 2.7l-8 5.4l-8 2.7l-8.1 6.3l-8.1 2l-16.4 6.5l-16.6 7.4l-8.4 1.3l-8.4 7.2l-8.5 2.6l-8.5 0.9l-17.2 13.5l-8.7 3.7l-17.5 4.5l-8.8 5l-8.9 2.5z" fill="url(#s149)" stroke="url(#s149)" stroke-width="0.6"/>
<path d="M501.7 724.9l8.9 -2.5l8.8 -5l17.5 -4.5l8.7 -3.7l17.2 -13.5l8.5 -0.9l8.5 -2.6l8.4 -7.2l8.4 -1.3l16.6 -7.4l16.4 -6.5l8.1 -2l8.1 -6.3l8 -2.7l8 -5.4l15.9 -2.7l15.7 -12l7.8 -0.6l15.4 -5.7l7.6 -3.6l7.6 -4.4l7.6 -2.2l7.5 -6.9l7.5 -0.9l7.4 -3.8l7.4 -5.1l7.4 -3.4l7.3 -1l14.5 -7.7l7.2 -2l7.2 -1.1l7.1 -6.4l7.1 -3.5l7 -2.5l7 -1.4l7 -4.1l6.9 -2.6l6.9 -3.4l6.9 -5.1l6.8 -3.3l6.8 -1.9l13.5 -6l20 -7.1l6.6 -3.7l6.6 -5.8l13 -2.5l6.5 -2.7l1.5 9.1l-6.4 2.8l-13 3.7l-6.5 4.8l-6.6 3.5l-20 7.8l-13.5 6.1l-6.8 2.3l-6.8 3.3l-6.9 4.4l-13.8 6.1l-7 3.8l-7 2l-14.1 6.1l-7.1 5.3l-14.4 4.3l-14.5 7.4l-7.3 1.8l-7.4 3.4l-7.4 4.5l-7.4 3.7l-7.5 1.8l-7.5 5.6l-7.6 2.6l-15.2 7.6l-15.4 6.2l-7.8 1.6l-15.7 10.3l-15.9 4.3l-8 4.8l-8 3.1l-8.1 5.4l-8.1 2.6l-33 14.3l-8.4 2.2l-8.4 6l-8.5 3.1l-8.5 2l-17.2 11.5l-8.7 3.8l-17.5 5.7l-8.8 4.7l-8.9 3z" fill="url(#s150)" stroke="url(#s150)" stroke-width="0.6"/>
<path d="M503.3 736.3l8.9 -3l8.8 -4.7l17.5 -5.7l8.7 -3.8l17.2 -11.5l8.5 -2l8.5 -3.1l8.4 -6l8.4 -2.2l33 -14.3l8.1 -2.6l8.1 -5.4l8 -3.1l8 -4.8l15.9 -4.3l15.7 -10.3l7.8 -1.6l15.4 -6.2l15.2 -7.6l7.6 -2.6l7.5 -5.6l7.5 -1.8l7.4 -3.7l7.4 -4.5l7.4 -3.4l7.3 -1.8l14.5 -7.4l14.4 -4.3l7.1 -5.3l14.1 -6.1l7 -2l7 -3.8l13.8 -6.1l6.9 -4.4l6.8 -3.3l6.8 -2.3l13.5 -6.1l20 -7.8l6.6 -3.5l6.5 -4.8l13 -3.7l6.4 -2.8l2.5 4.9l-6.4 2.8l-13 4.3l-6.5 4.3l-6.6 3.3l-40.2 16.8l-6.8 3.2l-6.9 4.1l-20.8 9.8l-7 2.3l-14.1 6.2l-7.1 4.7l-14.4 4.9l-14.5 7.2l-7.3 2.2l-7.4 3.4l-14.8 7.8l-7.5 2.3l-7.5 5l-7.6 2.9l-15.2 7.5l-15.4 6.4l-7.8 2.2l-15.7 9.4l-15.9 5.1l-8 4.5l-8 3.2l-8.1 4.9l-8.1 2.9l-33 14.5l-8.4 2.6l-8.4 5.5l-8.5 3.3l-8.5 2.5l-17.2 10.5l-8.7 3.8l-17.5 6.3l-8.8 4.5l-8.9 3.3z" fill="url(#s151)" stroke="url(#s151)" stroke-width="0.6"/>
<path d="M505.9 742.6l8.9 -3.3l8.8 -4.5l17.5 -6.3l8.7 -3.8l17.2 -10.5l8.5 -2.5l8.5 -3.3l8.4 -5.5l8.4 -2.6l33 -14.5l8.1 -2.9l8.1 -4.9l8 -3.2l8 -4.5l15.9 -5.1l15.7 -9.4l7.8 -2.2l15.4 -6.4l15.2 -7.5l7.6 -2.9l7.5 -5l7.5 -2.3l14.8 -7.8l7.4 -3.4l7.3 -2.2l14.5 -7.2l14.4 -4.9l7.1 -4.7l14.1 -6.2l7 -2.3l20.8 -9.8l6.9 -4.1l6.8 -3.2l40.2 -16.8l6.6 -3.3l6.5 -4.3l13 -4.3l6.4 -2.8l8.2 2.7l-6.4 2.9l-13 4.4l-6.5 4.3l-6.6 3.3l-40.1 16.9l-6.8 3.2l-6.8 4.1l-20.8 9.8l-7 2.4l-14.1 6.2l-7.1 4.7l-14.3 5l-14.5 7.2l-7.3 2.3l-7.3 3.4l-14.8 7.8l-7.5 2.3l-7.5 4.9l-7.5 2.9l-15.2 7.5l-15.4 6.4l-7.8 2.2l-15.7 9.4l-15.8 5.2l-8 4.5l-8 3.2l-8.1 4.9l-8.1 3l-33 14.6l-8.4 2.7l-8.4 5.4l-8.5 3.3l-8.5 2.6l-17.2 10.4l-8.7 3.9l-17.5 6.5l-8.8 4.5l-8.9 3.4z" fill="#84259a" stroke="#84259a" stroke-width="0.6"/>
<path d="M514.6 746.3l8.9 -3.4l8.8 -4.5l17.5 -6.5l8.7 -3.9l17.2 -10.4l8.5 -2.6l8.5 -3.3l8.4 -5.4l8.4 -2.7l33 -14.6l8.1 -3l8.1 -4.9l8 -3.2l8 -4.5l15.8 -5.2l15.7 -9.4l7.8 -2.2l15.4 -6.4l15.2 -7.5l7.5 -2.9l7.5 -4.9l7.5 -2.3l14.8 -7.8l7.3 -3.4l7.3 -2.3l14.5 -7.2l14.3 -5l7.1 -4.7l14.1 -6.2l7 -2.4l20.8 -9.8l6.8 -4.1l6.8 -3.2l40.1 -16.9l6.6 -3.3l6.5 -4.3l13 -4.4l6.4 -2.9l9.9 -4.2l-6.4 2.9l-12.9 3.6l-6.5 5l-6.6 3.5l-19.9 7.7l-13.4 6.2l-6.8 2.2l-6.8 3.3l-6.8 4.6l-13.8 6l-6.9 3.9l-14 4.6l-7.1 3.4l-7.1 5.5l-14.3 4.3l-14.5 7.6l-7.3 1.8l-7.3 3.4l-7.4 4.5l-7.4 3.8l-7.5 1.8l-7.5 5.4l-7.5 2.7l-15.2 7.8l-15.4 6.1l-7.7 1.6l-15.6 10.6l-15.8 4.1l-8 5.2l-8 3l-8.1 5.6l-8.1 2.5l-32.9 14.5l-8.3 2.1l-8.4 6.2l-8.4 3l-8.5 2l-17.1 11.8l-8.6 3.8l-17.5 5.7l-8.8 4.8l-8.9 3z" fill="url(#s152)" stroke="url(#s152)" stroke-width="0.6"/>
<path d="M525.2 741.6l8.9 -3l8.8 -4.8l17.5 -5.7l8.6 -3.8l17.1 -11.8l8.5 -2l8.4 -3l8.4 -6.2l8.3 -2.1l32.9 -14.5l8.1 -2.5l8.1 -5.6l8 -3l8 -5.2l15.8 -4.1l15.6 -10.6l7.7 -1.6l15.4 -6.1l15.2 -7.8l7.5 -2.7l7.5 -5.4l7.5 -1.8l7.4 -3.8l7.4 -4.5l7.3 -3.4l7.3 -1.8l14.5 -7.6l14.3 -4.3l7.1 -5.5l7.1 -3.4l14 -4.6l6.9 -3.9l13.8 -6l6.8 -4.6l6.8 -3.3l6.8 -2.2l13.4 -6.2l19.9 -7.7l6.6 -3.5l6.5 -5l12.9 -3.6l6.4 -2.9l4 -4.5l-6.4 2.9l-12.9 3.3l-6.5 5.3l-6.6 3.6l-19.9 7.3l-13.4 6.2l-6.8 2l-6.8 3.4l-6.8 4.9l-13.8 5.7l-6.9 4.1l-14 4.2l-7.1 3.5l-7.1 5.9l-14.3 4l-14.5 8l-7.3 1.7l-7.3 3.3l-7.4 4.7l-7.4 3.8l-7.4 1.8l-7.5 5l-7.5 2.9l-15.2 8l-15.4 5.6l-7.7 1.3l-15.6 11.2l-15.8 3.5l-8 6l-8 2.8l-8.1 6l-8.1 2.2l-32.9 14.5l-8.3 1.7l-8.4 6.6l-8.4 2.9l-8.5 1.8l-17.1 12.4l-8.6 3.8l-17.4 5.5l-8.8 5l-8.9 2.9z" fill="url(#s153)" stroke="url(#s153)" stroke-width="0.6"/>
<path d="M529.4 736.9l8.9 -2.9l8.8 -5l17.4 -5.5l8.6 -3.8l17.1 -12.4l8.5 -1.8l8.4 -2.9l8.4 -6.6l8.3 -1.7l32.9 -14.5l8.1 -2.2l8.1 -6l8 -2.8l8 -6l15.8 -3.5l15.6 -11.2l7.7 -1.3l15.4 -5.6l15.2 -8l7.5 -2.9l7.5 -5l7.4 -1.8l7.4 -3.8l7.4 -4.7l7.3 -3.3l7.3 -1.7l14.5 -8l14.3 -4l7.1 -5.9l7.1 -3.5l14 -4.2l6.9 -4.1l13.8 -5.7l6.8 -4.9l6.8 -3.4l6.8 -2l13.4 -6.2l19.9 -7.3l6.6 -3.6l6.5 -5.3l12.9 -3.3l6.4 -2.9l1.3 -6.7l-6.4 3.1l-12.9 3.1l-6.5 5.5l-6.6 3.6l-6.6 1.8l-13.3 5l-13.4 6.4l-6.8 1.7l-6.8 3.5l-6.8 5.1l-13.8 5.1l-6.9 4.4l-14 3.7l-7.1 3.5l-7.1 6.2l-7.1 1.5l-7.2 2.3l-14.5 8.5l-7.3 1.7l-7.3 3.2l-14.8 8.6l-7.4 2l-15 7l-15.2 8.3l-7.7 1.8l-7.7 3.2l-7.7 1.2l-15.6 11.8l-7.9 0.9l-7.9 1.9l-8 7.1l-8 2.5l-8.1 6.3l-8.1 1.9l-8.2 3.4l-16.4 8.1l-8.3 3.1l-8.3 1.2l-8.4 6.9l-8.4 2.8l-8.5 1.7l-17.1 12.7l-8.6 3.7l-17.4 5.5l-8.8 5.3l-8.9 3z" fill="url(#s154)" stroke="url(#s154)" stroke-width="0.6"/>
<path d="M530.9 730.1l8.9 -3l8.8 -5.3l17.4 -5.5l8.6 -3.7l17.1 -12.7l8.5 -1.7l8.4 -2.8l8.4 -6.9l8.3 -1.2l8.3 -3.1l16.4 -8.1l8.2 -3.4l8.1 -1.9l8.1 -6.3l8 -2.5l8 -7.1l7.9 -1.9l7.9 -0.9l15.6 -11.8l7.7 -1.2l7.7 -3.2l7.7 -1.8l15.2 -8.3l15 -7l7.4 -2l14.8 -8.6l7.3 -3.2l7.3 -1.7l14.5 -8.5l7.2 -2.3l7.1 -1.5l7.1 -6.2l7.1 -3.5l14 -3.7l6.9 -4.4l13.8 -5.1l6.8 -5.1l6.8 -3.5l6.8 -1.7l13.4 -6.4l13.3 -5l6.6 -1.8l6.6 -3.6l6.5 -5.5l12.9 -3.1l6.4 -3.1l0.8 -9.3l-6.4 3.3l-12.9 2.9l-6.5 5.7l-6.5 3.6l-6.6 1.4l-13.3 4.7l-13.4 6.5l-6.8 1.3l-6.8 3.6l-6.8 5.5l-6.9 1.7l-6.9 2.7l-6.9 4.9l-14 3.1l-7.1 3.5l-7.1 6.7l-7.1 1.4l-7.2 2.4l-14.4 9.3l-7.3 1.8l-7.3 3.1l-14.8 8.7l-14.9 4.2l-22.7 12.3l-7.7 0.8l-7.7 3.4l-7.7 1.1l-15.6 12.4l-7.9 0.1l-7.9 1.9l-8 8.7l-8 2.1l-8.1 6.8l-8.1 1.5l-8.1 3.4l-16.4 8.8l-8.3 2.7l-8.3 0.7l-8.4 7.2l-8.4 2.6l-8.5 1.8l-17.1 13.1l-8.6 3.6l-17.4 5.5l-8.8 5.6l-8.8 3z" fill="url(#s155)" stroke="url(#s155)" stroke-width="0.6"/>
<path d="M531.7 720.6l8.8 -3l8.8 -5.6l17.4 -5.5l8.6 -3.6l17.1 -13.1l8.5 -1.8l8.4 -2.6l8.4 -7.2l8.3 -0.7l8.3 -2.7l16.4 -8.8l8.1 -3.4l8.1 -1.5l8.1 -6.8l8 -2.1l8 -8.7l7.9 -1.9l7.9 -0.1l15.6 -12.4l7.7 -1.1l7.7 -3.4l7.7 -0.8l22.7 -12.3l14.9 -4.2l14.8 -8.7l7.3 -3.1l7.3 -1.8l14.4 -9.3l7.2 -2.4l7.1 -1.4l7.1 -6.7l7.1 -3.5l14 -3.1l6.9 -4.9l6.9 -2.7l6.9 -1.7l6.8 -5.5l6.8 -3.6l6.8 -1.3l13.4 -6.5l13.3 -4.7l6.6 -1.4l6.5 -3.6l6.5 -5.7l12.9 -2.9l6.4 -3.3l0.7 -12.4l-6.4 3.5l-12.9 2.6l-6.5 6l-6.5 3.5l-6.6 0.7l-13.3 4.4l-13.4 6.8l-6.8 0.7l-6.8 3.8l-6.8 5.9l-6.9 0.6l-6.9 2.6l-6.9 5.4l-14 2.3l-7.1 3.6l-7.1 7.2l-7.1 1.3l-7.2 2.4l-7.2 5.6l-7.2 4.6l-7.3 2l-7.3 3l-14.8 8.7l-7.4 2.7l-7.5 -0.5l-22.7 13.4l-7.7 -0.6l-7.7 3.7l-7.7 1l-15.6 13.2l-7.9 -0.9l-7.9 1.9l-8 10.8l-8 1.5l-8.1 7.4l-8.1 0.9l-8.1 3.3l-8.2 5.3l-8.2 4.3l-8.3 2.1l-8.3 0l-8.4 7.5l-16.9 4.3l-17.1 13.5l-8.6 3.5l-17.4 5.6l-8.8 6.1l-8.8 3.1z" fill="url(#s156)" stroke="url(#s156)" stroke-width="0.6"/>
<path d="M532.4 708l8.8 -3.1l8.8 -6.1l17.4 -5.6l8.6 -3.5l17.1 -13.5l16.9 -4.3l8.4 -7.5l8.3 0l8.3 -2.1l8.2 -4.3l8.2 -5.3l8.1 -3.3l8.1 -0.9l8.1 -7.4l8 -1.5l8 -10.8l7.9 -1.9l7.9 0.9l15.6 -13.2l7.7 -1l7.7 -3.7l7.7 0.6l22.7 -13.4l7.5 0.5l7.4 -2.7l14.8 -8.7l7.3 -3l7.3 -2l7.2 -4.6l7.2 -5.6l7.2 -2.4l7.1 -1.3l7.1 -7.2l7.1 -3.6l14 -2.3l6.9 -5.4l6.9 -2.6l6.9 -0.6l6.8 -5.9l6.8 -3.8l6.8 -0.7l13.4 -6.8l13.3 -4.4l6.6 -0.7l6.5 -3.5l6.5 -6l12.9 -2.6l6.4 -3.5l0.7 -18.5l-6.4 3.9l-12.9 2.2l-6.5 6.3l-6.5 3.5l-6.6 -0.2l-13.3 3.9l-13.4 7.1l-6.8 0l-6.8 4.1l-6.8 6.6l-6.9 -0.9l-6.9 2.6l-6.9 6.3l-14 1.1l-7 3.7l-7.1 8l-7.1 1.2l-7.2 2.5l-7.2 6.7l-7.2 5l-14.6 4.9l-14.8 8.9l-7.4 3.3l-7.5 -4.2l-7.5 5.5l-7.6 4.3l-7.6 5.3l-7.7 -2.7l-7.7 4.1l-7.7 0.8l-15.6 14.4l-7.9 -2.5l-7.9 1.8l-8 13.9l-8 0.7l-8.1 8.2l-8.1 0.1l-8.1 3.2l-8.2 6.4l-8.2 4.6l-8.3 1.3l-8.3 -1.1l-8.4 8.1l-16.9 4.1l-8.5 7.5l-8.6 6.5l-8.6 3.3l-8.7 2.2l-8.7 3.5l-8.8 6.7l-8.8 3.3z" fill="url(#s157)" stroke="url(#s157)" stroke-width="0.6"/>
<path d="M533.2 689.2l8.8 -3.3l8.8 -6.7l8.7 -3.5l8.7 -2.2l8.6 -3.3l8.6 -6.5l8.5 -7.5l16.9 -4.1l8.4 -8.1l8.3 1.1l8.3 -1.3l8.2 -4.6l8.2 -6.4l8.1 -3.2l8.1 -0.1l8.1 -8.2l8 -0.7l8 -13.9l7.9 -1.8l7.9 2.5l15.6 -14.4l7.7 -0.8l7.7 -4.1l7.7 2.7l7.6 -5.3l7.6 -4.3l7.5 -5.5l7.5 4.2l0.7 -25.2l-7.5 -9.4l-7.5 6.9l-7.6 4.3l-7.6 6.2l-7.7 -5.5l-7.7 4.7l-7.7 0.6l-15.6 16.1l-7.9 -4.7l-7.9 1.8l-8 18.3l-8 -0.4l-8.1 9.4l-8.1 -1.1l-8.1 3l-8.2 8l-8.2 4.9l-8.3 0.1l-8.3 -2.5l-8.4 8.8l-16.9 3.9l-8.5 8.3l-8.6 6.6l-8.6 3l-8.7 1.9l-8.7 4l-8.8 7.7l-8.8 3.5z" fill="url(#s158)" stroke="url(#s158)" stroke-width="0.6"/>
<path d="M777.3 579.6l7.4 -3.3l14.8 -8.9l14.6 -4.9l7.2 -5l7.2 -6.7l7.2 -2.5l7.1 -1.2l7.1 -8l7 -3.7l14 -1.1l6.9 -6.3l6.9 -2.6l6.9 0.9l6.8 -6.6l6.8 -4.1l6.8 0l13.4 -7.1l13.3 -3.9l6.6 0.2l6.5 -3.5l6.5 -6.3l12.9 -2.2l6.4 -3.9l0.7 -25.9l-6.4 4.5l-6.4 0.4l-6.5 1.3l-6.5 6.8l-6.5 3.4l-6.6 -1.4l-13.3 3.2l-13.4 7.6l-6.8 -1.2l-6.8 4.5l-6.8 7.5l-6.9 -3l-6.9 2.5l-6.9 7.4l-7 0.1l-7 -0.7l-7 3.8l-7.1 9.1l-7.1 0.9l-7.2 2.5l-7.2 8.2l-7.2 5.6l-14.6 5l-22.2 13.3z" fill="url(#s159)" stroke="url(#s159)" stroke-width="0.6"/>
<path d="M533.9 662.8l8.8 -3.5l8.8 -7.7l8.7 -4l8.7 -1.9l8.6 -3l8.6 -6.6l8.5 -8.3l16.9 -3.9l8.4 -8.8l8.3 2.5l8.3 -0.1l8.2 -4.9l8.2 -8l8.1 -3l8.1 1.1l8.1 -9.4l8 0.4l8 -18.3l7.9 -1.8l7.9 4.7l15.6 -16.1l7.7 -0.6l7.7 -4.7l7.7 5.5l7.6 -6.2l7.6 -4.3l7.5 -6.9l7.5 9.4l0.7 -32.9l-7.5 -16.2l-7.5 8.9l-7.6 4.3l-7.6 7.3l-7.7 -9.3l-7.7 5.4l-7.7 0.4l-7.8 8.5l-7.8 9.8l-7.9 -7.6l-7.9 1.8l-8 24.1l-8 -1.9l-8.1 11l-8.1 -2.6l-8.1 2.8l-8.2 10l-8.2 5.3l-8.3 -1.4l-8.3 -4.4l-8.4 9.8l-8.4 1.2l-8.5 2.4l-8.5 9.2l-8.6 6.6l-8.6 2.6l-8.7 1.5l-8.7 4.6l-8.8 8.9l-8.8 3.7z" fill="url(#s160)" stroke="url(#s160)" stroke-width="0.6"/>
<path d="M778 554.4l22.2 -13.3l14.6 -5l7.2 -5.6l7.2 -8.2l7.2 -2.5l7.1 -0.9l7.1 -9.1l7 -3.8l7 0.7l7 -0.1l6.9 -7.4l6.9 -2.5l6.9 3l6.8 -7.5l6.8 -4.5l6.8 1.2l13.4 -7.6l13.3 -3.2l6.6 1.4l6.5 -3.4l6.5 -6.8l6.5 -1.3l6.4 -0.4l6.4 -4.5l0.7 -33.8l-6.4 5.3l-6.4 -0.2l-6.5 1.2l-6.5 7.5l-6.5 3.4l-6.6 -3.1l-13.3 2.2l-13.4 8.3l-6.8 -2.6l-6.8 5l-6.8 8.6l-6.9 -5.8l-6.9 2.4l-6.9 8.9l-7 -0.7l-7 -2.1l-7 3.9l-7.1 10.6l-7.1 0.7l-7.2 2.7l-7.2 10.1l-7.2 6.3l-7.3 3l-7.3 2l-7.4 4.1l-14.8 10.6z" fill="url(#s161)" stroke="url(#s161)" stroke-width="0.6"/>
<path d="M534.6 628.3l8.8 -3.7l8.8 -8.9l8.7 -4.6l8.7 -1.5l8.6 -2.6l8.6 -6.6l8.5 -9.2l8.5 -2.4l8.4 -1.2l8.4 -9.8l8.3 4.4l8.3 1.4l8.2 -5.3l8.2 -10l8.1 -2.8l8.1 2.6l8.1 -11l8 1.9l8 -24.1l7.9 -1.8l7.9 7.6l7.8 -9.8l7.8 -8.5l7.7 -0.4l7.7 -5.4l7.7 9.3l7.6 -7.3l7.6 -4.3l7.5 -8.9l7.5 16.2l0.7 -40l-7.5 -24.5l-7.5 11.2l-7.6 4.4l-7.6 8.6l-7.7 -13.9l-7.7 6.3l-7.7 0l-7.8 9.5l-7.8 11.4l-7.9 -11l-7.9 1.8l-8 31.1l-8 -3.7l-8.1 12.9l-8.1 -4.4l-8.1 2.5l-8.2 12.5l-8.2 5.8l-8.3 -3.2l-8.3 -6.8l-8.4 10.9l-8.4 0.6l-8.5 2.7l-8.5 10.4l-8.6 6.7l-8.6 2.2l-8.7 1.1l-8.7 5.4l-8.8 10.3l-8.8 4.1z" fill="url(#s162)" stroke="url(#s162)" stroke-width="0.6"/>
<path d="M778.7 521.4l14.8 -10.6l7.4 -4.1l7.3 -2l7.3 -3l7.2 -6.3l7.2 -10.1l7.2 -2.7l7.1 -0.7l7.1 -10.6l7 -3.9l7 2.1l7 0.7l6.9 -8.9l6.9 -2.4l6.9 5.8l6.8 -8.6l6.8 -5l6.8 2.6l13.4 -8.3l13.3 -2.2l6.6 3.1l6.5 -3.4l6.5 -7.5l6.5 -1.2l6.4 0.2l6.4 -5.3l0.7 -41.1l-6.4 6.2l-6.4 -0.9l-6.5 1.1l-6.5 8.3l-6.5 3.3l-6.6 -5.1l-13.3 1.1l-13.4 9.1l-6.8 -4.4l-6.8 5.6l-6.8 10.1l-6.9 -9.2l-6.9 2.3l-6.9 10.8l-7 -1.6l-7 -3.9l-7 4.1l-7.1 12.3l-7.1 0.4l-7.2 2.8l-7.2 12.5l-7.2 7.2l-7.3 3.6l-7.3 1.4l-7.4 3.8l-7.4 5.6l-7.4 6.9z" fill="url(#s163)" stroke="url(#s163)" stroke-width="0.6"/>
<path d="M535.3 586.5l8.8 -4.1l8.8 -10.3l8.7 -5.4l8.7 -1.1l8.6 -2.2l8.6 -6.7l8.5 -10.4l8.5 -2.7l8.4 -0.6l8.4 -10.9l8.3 6.8l8.3 3.2l8.2 -5.8l8.2 -12.5l8.1 -2.5l1 -76.4l-8.1 2l-8.2 16.8l-8.2 6.6l-8.3 -6.4l-8.3 -10.8l-8.4 12.9l-8.4 -0.4l-8.5 3.3l-8.5 12.4l-8.6 6.8l-8.6 1.5l-8.7 0.3l-8.7 6.8l-8.8 12.9l-8.8 4.7z" fill="url(#s164)" stroke="url(#s164)" stroke-width="0.6"/>
<path d="M662.6 521.2l8.1 4.4l8.1 -12.9l8 3.7l8 -31.1l7.9 -1.8l7.9 11l7.8 -11.4l7.8 -9.5l7.7 0l7.7 -6.3l7.7 13.9l7.6 -8.6l7.6 -4.4l7.5 -11.2l7.5 24.5l1 -69.3l-7.5 -38.8l-7.5 15.3l-7.6 4.4l-7.6 11l-7.7 -21.8l-7.7 7.9l-7.7 -0.5l-7.8 11.4l-7.8 14l-7.9 -17l-7.9 1.7l-8 43.2l-8 -6.8l-8.1 16.1l-8.1 -7.5z" fill="url(#s165)" stroke="url(#s165)" stroke-width="0.6"/>
<path d="M779.4 481.4l7.4 -6.9l7.4 -5.6l7.4 -3.8l7.3 -1.4l7.3 -3.6l7.2 -7.2l7.2 -12.5l7.2 -2.8l7.1 -0.4l7.1 -12.3l7 -4.1l7 3.9l7 1.6l6.9 -10.8l1 -79.4l-6.9 14l-7 -3.1l-7 -7l-7 4.4l-7.1 15.3l-7.1 -0.2l-7.2 3l-7.2 16.5l-7.2 8.7l-7.3 4.6l-7.3 0.5l-7.4 3.4l-7.4 6.4l-7.4 9.5z" fill="url(#s166)" stroke="url(#s166)" stroke-width="0.6"/>
<path d="M880 415.5l6.9 -2.3l6.9 9.2l6.8 -10.1l6.8 -5.6l6.8 4.4l13.4 -9.1l13.3 -1.1l6.6 5.1l6.5 -3.3l6.5 -8.3l6.5 -1.1l6.4 0.9l6.4 -6.2l1 -71.2l-6.4 7.7l-6.4 -2.1l-6.5 0.9l-6.5 9.7l-6.5 3.1l-6.6 -8.6l-6.6 -0.9l-6.6 0.1l-13.4 10.5l-6.8 -7.4l-6.8 6.7l-6.8 12.5l-6.9 -15.1l-6.9 2z" fill="url(#s167)" stroke="url(#s167)" stroke-width="0.6"/>
<path d="M536.3 514l8.8 -4.7l8.8 -12.9l8.7 -6.8l8.7 -0.3l8.6 -1.5l8.6 -6.8l8.5 -12.4l8.5 -3.3l8.4 0.4l8.4 -12.9l8.3 10.8l8.3 6.4l8.2 -6.6l8.2 -16.8l8.1 -2l0.9 -64.2l-8.1 1.6l-8.2 20.4l-8.2 7.4l-8.3 -9l-8.3 -14.1l-8.4 14.6l-8.4 -1.3l-8.5 3.7l-8.5 14l-8.6 6.9l-8.6 0.8l-8.7 -0.4l-8.7 8l-8.8 15l-8.8 5.2z" fill="url(#s168)" stroke="url(#s168)" stroke-width="0.6"/>
<path d="M663.7 444.8l8.1 7.5l8.1 -16.1l8 6.8l8 -43.2l7.9 -1.7l7.9 17l7.8 -14l7.8 -11.4l7.7 0.5l7.7 -7.9l7.7 21.8l7.6 -11l7.6 -4.4l7.5 -15.3l7.5 38.8l0.9 -58.2l-7.5 -50.8l-7.5 18.7l-7.6 4.5l-7.6 12.9l-7.6 -28.5l-7.7 9.2l-7.7 -0.9l-7.8 12.9l-7.8 16.3l-7.9 -22l-7.9 1.7l-8 53.3l-8 -9.4l-8 18.8l-8.1 -10.2z" fill="url(#s169)" stroke="url(#s169)" stroke-width="0.6"/>
<path d="M780.4 412.1l7.4 -9.5l7.4 -6.4l7.4 -3.4l7.3 -0.5l7.3 -4.6l7.2 -8.7l7.2 -16.5l7.2 -3l7.1 0.2l7.1 -15.3l7 -4.4l7 7l7 3.1l6.9 -14l0.8 -66.7l-6.9 16.6l-7 -4.4l-7 -9.6l-7 4.7l-7.1 17.9l-7.1 -0.7l-7.2 3.3l-7.2 19.9l-7.2 10l-7.3 5.5l-7.3 -0.3l-7.4 3l-7.4 7.1l-7.4 11.6z" fill="url(#s170)" stroke="url(#s170)" stroke-width="0.6"/>
<path d="M881 336.1l6.9 -2l6.9 15.1l6.8 -12.5l6.8 -6.7l6.8 7.4l13.4 -10.5l6.6 -0.1l6.6 0.9l6.6 8.6l6.5 -3.1l6.5 -9.7l6.5 -0.9l6.4 2.1l6.4 -7.7l0.8 -59.8l-6.4 9l-6.4 -3.1l-6.5 0.7l-6.5 10.8l-6.5 3l-6.6 -11.5l-6.6 -1.9l-6.6 -0.5l-13.4 11.7l-6.8 -10l-6.8 7.6l-6.8 14.6l-6.9 -20.1l-6.9 1.9z" fill="url(#s171)" stroke="url(#s171)" stroke-width="0.6"/>
<path d="M537.2 453.2l8.8 -5.2l8.8 -15l8.7 -8l8.7 0.4l8.6 -0.8l8.6 -6.9l8.5 -14l8.5 -3.7l8.4 1.3l8.4 -14.6l8.3 14.1l8.3 9l8.2 -7.4l8.2 -20.4l8.1 -1.6l0.3 -21.1l-8.1 1.5l-8.2 21.6l-8.2 7.6l-8.3 -9.9l-8.3 -15.2l-8.4 15.1l-8.4 -1.6l-8.5 3.9l-8.5 14.6l-8.6 6.9l-8.6 0.6l-8.7 -0.7l-8.7 8.4l-8.8 15.7l-8.8 5.3z" fill="url(#s172)" stroke="url(#s172)" stroke-width="0.6"/>
<path d="M664.5 380.6l8.1 10.2l8 -18.8l8 9.4l8 -53.3l7.9 -1.7l7.9 22l7.8 -16.3l7.8 -12.9l7.7 0.9l7.7 -9.2l7.6 28.5l7.6 -12.9l7.6 -4.5l7.5 -18.7l7.5 50.8l0.3 -19.2l-7.5 -54.8l-7.5 19.8l-7.6 4.5l-7.6 13.6l-7.6 -30.6l-7.7 9.6l-7.7 -1.1l-7.8 13.4l-7.8 17l-7.9 -23.7l-7.9 1.7l-8 56.7l-8 -10.2l-8 19.7l-8.1 -11.1z" fill="url(#s173)" stroke="url(#s173)" stroke-width="0.6"/>
<path d="M781.3 354l7.4 -11.6l7.4 -7.1l7.4 -3l7.3 0.3l7.3 -5.5l7.2 -10l7.2 -19.9l7.2 -3.3l7.1 0.7l7.1 -17.9l7 -4.7l7 9.6l7 4.4l6.9 -16.6l0.3 -22l-6.9 17.5l-7 -4.9l-7 -10.4l-7 4.7l-7.1 18.7l-7.1 -0.8l-7.2 3.3l-7.2 21.1l-7.2 10.4l-7.3 5.8l-7.3 -0.5l-7.4 2.9l-7.4 7.3l-7.4 12.4z" fill="url(#s174)" stroke="url(#s174)" stroke-width="0.6"/>
<path d="M881.8 269.3l6.9 -1.9l6.9 20.1l6.8 -14.6l6.8 -7.6l6.8 10l13.4 -11.7l6.6 0.5l6.6 1.9l6.6 11.5l6.5 -3l6.5 -10.8l6.5 -0.7l6.4 3.1l6.4 -9l0.3 -19.7l-6.4 9.5l-6.4 -3.5l-6.5 0.6l-6.5 11.2l-6.5 2.9l-6.6 -12.5l-6.6 -2.2l-6.6 -0.7l-13.4 12.1l-6.8 -10.8l-6.8 7.9l-6.8 15.2l-6.9 -21.7l-6.9 1.8z" fill="url(#s175)" stroke="url(#s175)" stroke-width="0.6"/>
<path d="M537.6 433.2l8.8 -5.3l8.8 -15.7l8.7 -8.4l8.7 0.7l8.6 -0.6l8.6 -6.9l8.5 -14.6l8.5 -3.9l8.4 1.6l8.4 -15.1l8.3 15.2l8.3 9.9l8.2 -7.6l8.2 -21.6l8.1 -1.5l0.3 -14.7l-8.1 1.4l-8.2 22.4l-8.2 7.8l-8.3 -10.5l-8.3 -16l-8.4 15.5l-8.4 -1.8l-8.5 4l-8.5 15l-8.6 6.9l-8.6 0.5l-8.7 -0.8l-8.7 8.7l-8.8 16.2l-8.8 5.5z" fill="url(#s176)" stroke="url(#s176)" stroke-width="0.6"/>
<path d="M664.9 359.4l8.1 11.1l8 -19.7l8 10.2l8 -56.7l7.9 -1.7l7.9 23.7l7.8 -17l7.8 -13.4l7.7 1.1l7.7 -9.6l7.6 30.6l7.6 -13.6l7.6 -4.5l7.5 -19.8l7.5 54.8l0.3 -13.3l-7.5 -57.5l-7.5 20.6l-7.6 4.5l-7.6 14l-7.6 -32.2l-7.7 9.9l-7.7 -1.2l-7.8 13.8l-7.8 17.6l-7.9 -24.8l-7.9 1.7l-8 59l-8 -10.8l-8 20.4l-8.1 -11.7z" fill="url(#s177)" stroke="url(#s177)" stroke-width="0.6"/>
<path d="M781.6 334.8l7.4 -12.4l7.4 -7.3l7.4 -2.9l7.3 0.5l7.3 -5.8l7.2 -10.4l7.2 -21.1l7.2 -3.3l7.1 0.8l7.1 -18.7l7 -4.7l7 10.4l7 4.9l6.9 -17.5l0.3 -15.3l-6.9 18.1l-7 -5.2l-7 -11l-7 4.8l-7.1 19.3l-7.1 -0.9l-7.2 3.4l-7.2 21.8l-7.2 10.7l-7.3 5.9l-7.3 -0.7l-7.4 2.8l-7.4 7.5l-7.4 12.8z" fill="url(#s178)" stroke="url(#s178)" stroke-width="0.6"/>
<path d="M882.2 247.4l6.9 -1.8l6.9 21.7l6.8 -15.2l6.8 -7.9l6.8 10.8l13.4 -12.1l6.6 0.7l6.6 2.2l6.6 12.5l6.5 -2.9l6.5 -11.2l6.5 -0.6l6.4 3.5l6.4 -9.5l0.3 -13.7l-6.4 9.8l-6.4 -3.7l-6.5 0.6l-6.5 11.5l-6.5 2.9l-6.6 -13.1l-6.6 -2.5l-6.6 -0.8l-13.4 12.4l-6.8 -11.4l-6.8 8.1l-6.8 15.7l-6.9 -22.9l-6.9 1.7z" fill="url(#s179)" stroke="url(#s179)" stroke-width="0.6"/>
<path d="M537.9 419.2l8.8 -5.5l8.8 -16.2l8.7 -8.7l8.7 0.8l8.6 -0.5l8.6 -6.9l8.5 -15l8.5 -4l8.4 1.8l8.4 -15.5l8.3 16l8.3 10.5l8.2 -7.8l8.2 -22.4l8.1 -1.4l0.2 -4l-8.1 1.3l-8.2 22.6l-8.2 7.8l-8.3 -10.7l-8.3 -16.2l-8.4 15.6l-8.4 -1.9l-8.5 4l-8.5 15.1l-8.6 6.9l-8.6 0.4l-8.7 -0.9l-8.7 8.7l-8.8 16.3l-8.8 5.5z" fill="url(#s180)" stroke="url(#s180)" stroke-width="0.6"/>
<path d="M665.2 344.7l8.1 11.7l8 -20.4l8 10.8l8 -59l7.9 -1.7l7.9 24.8l7.8 -17.6l7.8 -13.8l7.7 1.2l7.7 -9.9l7.6 32.2l7.6 -14l7.6 -4.5l7.5 -20.6l7.5 57.5l0.2 -3.6l-7.5 -58.3l-7.5 20.8l-7.6 4.5l-7.6 14.1l-7.6 -32.6l-7.7 10l-7.7 -1.2l-7.8 13.9l-7.8 17.7l-7.9 -25.1l-7.9 1.7l-8 59.6l-8 -11l-8 20.5l-8.1 -11.8z" fill="url(#s181)" stroke="url(#s181)" stroke-width="0.6"/>
<path d="M782 321.5l7.4 -12.8l7.4 -7.5l7.4 -2.8l7.3 0.7l7.3 -5.9l7.2 -10.7l7.2 -21.8l7.2 -3.4l7.1 0.9l7.1 -19.3l7 -4.8l7 11l7 5.2l6.9 -18.1l0.2 -4.1l-6.9 18.3l-7 -5.3l-7 -11.2l-7 4.8l-7.1 19.4l-7.1 -1l-7.2 3.4l-7.2 22.1l-7.2 10.8l-7.3 6l-7.3 -0.8l-7.4 2.8l-7.4 7.5l-7.4 13z" fill="url(#s182)" stroke="url(#s182)" stroke-width="0.6"/>
<path d="M882.5 232.1l6.9 -1.7l6.9 22.9l6.8 -15.7l6.8 -8.1l6.8 11.4l13.4 -12.4l6.6 0.8l6.6 2.5l6.6 13.1l6.5 -2.9l6.5 -11.5l6.5 -0.6l6.4 3.7l6.4 -9.8l0.2 -3.7l-6.4 9.9l-6.4 -3.8l-6.5 0.6l-6.5 11.5l-6.5 2.9l-6.6 -13.3l-6.6 -2.5l-6.6 -0.9l-13.4 12.4l-6.8 -11.6l-6.8 8.2l-6.8 15.8l-6.9 -23.2l-6.9 1.7z" fill="url(#s183)" stroke="url(#s183)" stroke-width="0.6"/>
<path d="M538.1 415.4l8.8 -5.5l8.8 -16.3l8.7 -8.7l8.7 0.9l8.6 -0.4l8.6 -6.9l8.5 -15.1l8.5 -4l8.4 1.9l8.4 -15.6l8.3 16.2l8.3 10.7l8.2 -7.8l8.2 -22.6l8.1 -1.3l0.2 -1.4l-8.1 1.3l-8.2 22.7l-8.2 7.8l-8.3 -10.7l-8.3 -16.3l-8.4 15.7l-8.4 -1.9l-8.5 4l-8.5 15.1l-8.6 6.9l-8.6 0.4l-8.7 -0.9l-8.7 8.8l-8.8 16.4l-8.8 5.5z" fill="url(#s184)" stroke="url(#s184)" stroke-width="0.6"/>
<path d="M665.4 340.7l8.1 11.8l8 -20.5l8 11l8 -59.6l7.9 -1.7l7.9 25.1l7.8 -17.7l7.8 -13.9l7.7 1.2l7.7 -10l7.6 32.6l7.6 -14.1l7.6 -4.5l7.5 -20.8l7.5 58.3l0.2 -1.3l-7.5 -58.5l-7.5 20.9l-7.6 4.5l-7.6 14.2l-7.6 -32.7l-7.7 10l-7.7 -1.2l-7.8 13.9l-7.8 17.8l-7.9 -25.3l-7.9 1.7l-8 59.8l-8 -11l-8 20.6l-8.1 -11.9z" fill="url(#s185)" stroke="url(#s185)" stroke-width="0.6"/>
<path d="M782.1 317.9l7.4 -13l7.4 -7.5l7.4 -2.8l7.3 0.8l7.3 -6l7.2 -10.8l7.2 -22.1l7.2 -3.4l7.1 1l7.1 -19.4l7 -4.8l7 11.2l7 5.3l6.9 -18.3l0.2 -1.4l-6.9 18.3l-7 -5.3l-7 -11.2l-7 4.8l-7.1 19.5l-7.1 -1l-7.2 3.4l-7.2 22.1l-7.2 10.9l-7.3 6l-7.3 -0.8l-7.4 2.8l-7.4 7.5l-7.4 13z" fill="url(#s186)" stroke="url(#s186)" stroke-width="0.6"/>
<path d="M882.7 228l6.9 -1.7l6.9 23.2l6.8 -15.8l6.8 -8.2l6.8 11.6l13.4 -12.4l6.6 0.9l6.6 2.5l6.6 13.3l6.5 -2.9l6.5 -11.5l6.5 -0.6l6.4 3.8l6.4 -9.9l0.2 -1.3l-6.4 9.9l-6.4 -3.8l-6.5 0.5l-6.5 11.6l-6.5 2.9l-6.6 -13.4l-6.6 -2.5l-6.6 -0.9l-13.4 12.5l-6.8 -11.6l-6.8 8.2l-6.8 15.9l-6.9 -23.3l-6.9 1.7z" fill="url(#s187)" stroke="url(#s187)" stroke-width="0.6"/>
<path d="M500.8 719.9l2.4 16.4l2.6 6.3l8.8 3.7l10.6 -4.7l4.2 -4.6l1.4 -6.8l1.6 -22l1.4 -45.2l3.7 -229.6l0.7 -19M518.5 712.5l2.4 16.1l2.6 6.1l8.7 3.6l10.5 -4.7l4.2 -4.8l1.4 -7.1l1.6 -23l1.4 -47.2l3.7 -239.5l0.7 -19.8M536 708.6l2.4 14.4l2.6 5.5l8.7 3.5l10.5 -3.9l4.2 -4.6l1.4 -7.1l1.6 -23.1l1.4 -47.5l3.7 -241.4l0.7 -20M553.3 697.4l2.4 15.8l2.6 6l8.7 3.5l10.5 -4.6l4.2 -4.8l1.4 -7.1l1.6 -23l1.4 -47.1l3.7 -239.3l0.7 -19.8M570.4 690l2.4 15.6l2.6 5.9l8.7 3.5l10.5 -4.6l4.2 -4.9l1.4 -7.3l1.6 -23.7l1.4 -48.7l3.7 -247.3l0.7 -20.5M587.3 679.8l2.4 16.7l2.6 6.3l8.7 3.5l10.4 -5.2l4.2 -5.1l1.4 -7.5l1.6 -24.1l1.4 -49.3l3.7 -250.2l0.7 -20.7M604 675.4l2.4 15.3l2.6 5.8l8.7 3.4l10.4 -4.4l4.2 -4.5l1.4 -6.7l1.6 -21.8l1.4 -44.8l3.7 -227.5l0.7 -18.8M620.5 668.5l2.4 15l2.6 5.7l8.6 3.4l10.4 -4.5l4.2 -4.8l1.4 -7.2l1.6 -23.4l1.4 -48l3.7 -243.8l0.7 -20.2M636.8 663.3l2.4 14l2.6 5.4l8.6 3.3l10.4 -4l4.2 -4.5l1.4 -6.8l1.6 -22.2l1.4 -45.7l3.7 -232.3l0.7 -19.2M653 654l2.4 14.9l2.6 5.7l8.6 3.3l10.4 -4.4l4.2 -4.6l1.4 -6.9l1.6 -22.3l1.4 -45.9l3.6 -232.8l0.7 -19.3M668.9 647.3l2.4 14.6l2.6 5.6l8.6 3.2l10.3 -4.6l4.1 -5.2l1.4 -8l1.6 -26l1.4 -53.4l3.6 -271l0.7 -22.4M684.7 639.9l2.4 14.7l2.6 5.6l8.6 3.2l10.3 -4.6l4.1 -5.1l1.4 -7.7l1.6 -25l1.4 -51.3l3.6 -260.6l0.7 -21.6M700.3 633.5l2.4 14.4l2.6 5.5l8.5 3.1l10.3 -4.5l4.1 -5.1l1.4 -7.8l1.6 -25.4l1.4 -52.1l3.6 -264.7l0.7 -21.9M715.7 627.9l2.4 13.8l2.5 5.3l8.5 3.1l10.3 -4.1l4.1 -4.7l1.4 -7.2l1.5 -23.4l1.4 -48.2l3.6 -244.6l0.7 -20.2M731 619.7l2.4 14.3l2.5 5.4l8.5 3.1l10.2 -4.5l4.1 -4.9l1.4 -7.4l1.5 -24.2l1.4 -49.7l3.6 -252.1l0.7 -20.9M746 610.3l2.4 15.5l2.5 5.8l8.5 3.2l10.2 -4.8l4.1 -4.6l1.4 -6.6l1.5 -21.1l1.4 -43.3l3.6 -219.6l0.7 -18.2M761 605.8l2.4 14.4l2.5 5.5l8.5 3.1l10.2 -4.4l4.1 -4.6l1.4 -6.8l1.5 -22.1l1.4 -45.4l3.6 -230.3l0.7 -19.1M775.7 597.1l2.4 15.3l2.5 5.8l8.4 3.1l10.2 -4.8l4.1 -4.7l1.4 -6.8l1.5 -21.7l1.4 -44.5l3.6 -226l0.7 -18.7M790.3 592.5l2.3 14.4l2.5 5.5l8.4 3l10.1 -4.5l4.1 -4.7l1.4 -6.9l1.5 -22.5l1.4 -46.1l3.6 -234l0.7 -19.4M804.8 586.8l2.3 14l2.5 5.3l8.4 3l10.1 -4.5l4.1 -4.9l1.4 -7.3l1.5 -23.8l1.4 -48.8l3.6 -247.7l0.7 -20.5M819.1 579.2l2.3 14.5l2.5 5.5l8.4 2.9l10.1 -4.8l4.1 -5.1l1.4 -7.6l1.5 -24.5l1.4 -50.3l3.6 -255.5l0.7 -21.2M833.2 573.3l2.3 14.2l2.5 5.4l8.4 2.9l10.1 -4.6l4 -4.9l1.3 -7.3l1.5 -23.7l1.3 -48.6l3.5 -246.7l0.7 -20.4M847.2 568l2.3 13.8l2.5 5.2l8.3 2.9l10 -4.5l4 -4.9l1.3 -7.4l1.5 -24.2l1.3 -49.6l3.5 -251.8l0.7 -20.8M861 562.1l2.3 13.6l2.5 5.1l8.3 2.9l10 -4.3l4 -4.6l1.3 -6.9l1.5 -22.3l1.3 -45.8l3.5 -232.5l0.7 -19.2M874.7 553.3l2.3 14.7l2.5 5.5l8.3 2.9l10 -4.9l4 -5l1.3 -7.3l1.5 -23.4l1.3 -48l3.5 -243.6l0.7 -20.2M888.3 548.7l2.3 14l2.5 5.3l8.3 2.8l10 -4.6l4 -4.8l1.3 -7l1.5 -22.7l1.3 -46.6l3.5 -236.6l0.7 -19.6M901.7 543.6l2.3 13.6l2.5 5.1l8.3 2.8l9.9 -4.4l4 -4.7l1.3 -7l1.5 -22.7l1.3 -46.5l3.5 -236.2l0.7 -19.6M915 538.7l2.3 13.1l2.5 4.9l8.2 2.8l9.9 -4.1l4 -4.4l1.3 -6.6l1.5 -21.2l1.3 -43.6l3.5 -221.3l0.7 -18.3M928.1 528.6l2.3 14.9l2.5 5.6l8.2 2.8l9.9 -5l4 -4.7l1.3 -6.8l1.5 -21.7l1.3 -44.4l3.5 -225.1l0.7 -18.7M941.1 526.6l2.3 13.2l2.5 5l8.2 2.7l9.9 -4.2l4 -4.4l1.3 -6.5l1.5 -21.2l1.3 -43.5l3.5 -220.6l0.7 -18.3M509.9 745.4l8.9 -3.4l8.8 -4.5l17.5 -6.5l8.7 -3.9l17.2 -10.3l8.5 -2.7l8.5 -3.3l8.4 -5.3l8.4 -2.7l33 -14.6l8.1 -3l8.1 -4.8l8 -3.3l8 -4.5l15.8 -5.3l15.7 -9.2l7.8 -2.3l15.4 -6.5l15.2 -7.4l7.6 -2.9l7.5 -4.8l7.5 -2.4l14.8 -7.7l7.3 -3.4l7.3 -2.3l14.5 -7.1l14.3 -5.1l7.1 -4.6l14.1 -6.2l7 -2.4l20.8 -9.7l6.9 -4l6.8 -3.2l40.2 -17l6.6 -3.3l6.5 -4.2l13 -4.5l6.4 -2.9M520.4 743.8l8.9 -3.2l8.8 -4.7l17.5 -6l8.7 -3.8l17.2 -11.2l8.5 -2.2l8.5 -3.2l8.4 -5.9l8.4 -2.3l32.9 -14.5l8.1 -2.7l8.1 -5.3l8 -3.1l8 -4.9l15.8 -4.6l15.6 -10.1l7.8 -1.9l15.4 -6.2l15.2 -7.7l7.5 -2.8l7.5 -5.3l7.5 -2l7.4 -3.7l7.4 -4.4l7.3 -3.4l7.3 -2l14.5 -7.4l14.3 -4.6l7.1 -5.1l14.1 -6.2l7 -2.1l7 -3.8l13.8 -6.1l6.8 -4.3l6.8 -3.3l6.8 -2.4l13.4 -6.1l19.9 -8l6.6 -3.4l6.5 -4.7l13 -4l6.4 -2.9M531 728.6l8.9 -3l8.8 -5.3l17.4 -5.5l8.6 -3.7l17.1 -12.8l8.5 -1.7l8.4 -2.7l8.4 -6.9l8.3 -1.2l8.3 -3l16.4 -8.2l8.2 -3.4l8.1 -1.8l8.1 -6.4l8 -2.4l8 -7.3l7.9 -1.9l7.9 -0.8l15.6 -11.9l7.7 -1.2l7.7 -3.3l7.7 -1.6l15.2 -8.3l15 -6.8l7.4 -2l7.4 -3.9l7.4 -4.7l7.3 -3.2l7.3 -1.7l14.5 -8.6l7.2 -2.3l7.1 -1.5l7.1 -6.3l7.1 -3.5l14 -3.6l6.9 -4.5l13.8 -5l6.8 -5.2l6.8 -3.5l6.8 -1.6l13.4 -6.4l13.3 -4.9l6.6 -1.7l6.6 -3.6l6.5 -5.5l12.9 -3.1l6.4 -3.1" fill="none" stroke="#b4b4b4" stroke-opacity="0.8" stroke-width="1"/>
<path d="M531.4 724.1l444.6 -199.6M533.7 669.2l444.4 -191.4M534.8 613.8l444.2 -183.1M535.7 558.3l444.1 -174.8M536.5 502.8l444 -166.5M537.3 447.2l443.8 -158.1M598.7 371.1l25.1 -8.6M657 351.4l8.2 -2.7M696.5 337.7l77.2 -26M789.5 306.9l192.3 -65M697.4 285.1l7.9 -2.5M854.7 235.2l6.9 -2.3" fill="none" stroke="#3a3a3a" stroke-opacity="0.85" stroke-width="1.1"/>
<path d="M538.3 414.1l8.8 -5.5l8.8 -16.4l8.7 -8.8l8.7 0.9l8.6 -0.4l8.6 -6.9l8.5 -15.1l8.5 -4l8.4 1.9l8.4 -15.7l8.3 16.3l8.3 10.7l8.2 -7.8l8.2 -22.7l8.1 -1.3l0.2 1.3l-8.1 1.3l-8.2 22.6l-8.2 7.8l-8.3 -10.7l-8.3 -16.2l-8.4 15.6l-8.4 -1.9l-8.5 4l-8.5 15.1l-8.6 7l-8.6 0.4l-8.7 -0.9l-8.7 8.7l-8.8 16.3l-8.8 5.5z" fill="url(#s188)" stroke="url(#s188)" stroke-width="0.6"/>
<path d="M665.6 339.4l8.1 11.9l8 -20.6l8 11l8 -59.8l7.9 -1.7l7.9 25.3l7.8 -17.8l7.8 -13.9l7.7 1.2l7.7 -10l7.6 32.7l7.6 -14.2l7.6 -4.5l7.5 -20.9l7.5 58.5l0.2 1.2l-7.5 -58.3l-7.5 20.8l-7.6 4.5l-7.6 14.1l-7.6 -32.6l-7.7 10l-7.7 -1.2l-7.8 13.9l-7.8 17.7l-7.9 -25.2l-7.9 1.7l-8 59.6l-8 -11l-8 20.6l-8.1 -11.9z" fill="url(#s189)" stroke="url(#s189)" stroke-width="0.6"/>
<path d="M782.3 316.6l7.4 -13l7.4 -7.5l7.4 -2.8l7.3 0.8l7.3 -6l7.2 -10.9l7.2 -22.1l7.2 -3.4l7.1 1l7.1 -19.5l7 -4.8l7 11.2l7 5.3l6.9 -18.3l0.2 1.4l-6.9 18.3l-7 -5.3l-7 -11.2l-7 4.8l-7.1 19.5l-7.1 -1l-7.2 3.4l-7.2 22.1l-7.2 10.8l-7.3 6l-7.3 -0.8l-7.4 2.8l-7.4 7.5l-7.4 13z" fill="url(#s190)" stroke="url(#s190)" stroke-width="0.6"/>
<path d="M882.8 226.5l6.9 -1.7l6.9 23.3l6.8 -15.9l6.8 -8.2l6.8 11.6l13.4 -12.5l6.6 0.9l6.6 2.5l6.6 13.4l6.5 -2.9l6.5 -11.6l6.5 -0.5l6.4 3.8l6.4 -9.9l0.2 1.2l-6.4 9.9l-6.4 -3.8l-6.5 0.5l-6.5 11.6l-6.5 2.9l-6.6 -13.3l-6.6 -2.5l-6.6 -0.9l-13.4 12.4l-6.8 -11.6l-6.8 8.2l-6.8 15.9l-6.9 -23.2l-6.9 1.7z" fill="url(#s191)" stroke="url(#s191)" stroke-width="0.6"/>
<path d="M538.5 415.4l8.8 -5.5l8.8 -16.3l8.7 -8.7l8.7 0.9l8.6 -0.4l8.6 -7l8.5 -15.1l8.5 -4l8.4 1.9l8.4 -15.6l8.3 16.2l8.3 10.7l8.2 -7.8l8.2 -22.6l8.1 -1.3l0.2 3.9l-8.1 1.4l-8.2 22.4l-8.2 7.8l-8.3 -10.5l-8.3 -16l-8.4 15.6l-8.4 -1.8l-8.5 3.9l-8.5 15l-8.6 7l-8.6 0.5l-8.7 -0.8l-8.7 8.7l-8.8 16.2l-8.8 5.4z" fill="url(#s192)" stroke="url(#s192)" stroke-width="0.6"/>
<path d="M665.8 340.7l8.1 11.9l8 -20.6l8 11l8 -59.6l7.9 -1.7l7.9 25.2l7.8 -17.7l7.8 -13.9l7.7 1.2l7.7 -10l7.6 32.6l7.6 -14.1l7.6 -4.5l7.5 -20.8l7.5 58.3l0.2 3.5l-7.5 -57.5l-7.5 20.6l-7.6 4.5l-7.6 14l-7.6 -32.2l-7.7 9.9l-7.7 -1.2l-7.8 13.8l-7.8 17.6l-7.9 -24.9l-7.9 1.7l-8 59l-8 -10.8l-8 20.4l-8.1 -11.7z" fill="url(#s193)" stroke="url(#s193)" stroke-width="0.6"/>
<path d="M782.5 317.8l7.4 -13l7.4 -7.5l7.4 -2.8l7.3 0.8l7.3 -6l7.2 -10.8l7.2 -22.1l7.2 -3.4l7.1 1l7.1 -19.5l7 -4.8l7 11.2l7 5.3l6.9 -18.3l0.2 4.1l-6.9 18.1l-7 -5.2l-7 -11l-7 4.8l-7.1 19.3l-7.1 -1l-7.2 3.4l-7.2 21.8l-7.2 10.8l-7.3 5.9l-7.3 -0.7l-7.4 2.8l-7.4 7.5l-7.4 12.8z" fill="url(#s194)" stroke="url(#s194)" stroke-width="0.6"/>
<path d="M883 227.9l6.9 -1.7l6.9 23.2l6.8 -15.9l6.8 -8.2l6.8 11.6l13.4 -12.4l6.6 0.9l6.6 2.5l6.6 13.3l6.5 -2.9l6.5 -11.6l6.5 -0.5l6.4 3.8l6.4 -9.9l0.2 3.6l-6.4 9.8l-6.4 -3.7l-6.5 0.6l-6.5 11.5l-6.5 2.9l-6.6 -13.2l-6.6 -2.5l-6.6 -0.8l-13.4 12.4l-6.7 -11.4l-6.8 8.1l-6.8 15.7l-6.9 -22.9l-6.9 1.7z" fill="url(#s195)" stroke="url(#s195)" stroke-width="0.6"/>
<path d="M538.7 419.1l8.8 -5.4l8.8 -16.2l8.7 -8.7l8.7 0.8l8.6 -0.5l8.6 -7l8.5 -15l8.5 -3.9l8.4 1.8l8.4 -15.6l8.3 16l8.3 10.5l8.2 -7.8l8.2 -22.4l8.1 -1.4l0.3 14.6l-8.1 1.5l-8.2 21.6l-8.2 7.6l-8.3 -9.9l-8.3 -15.3l-8.4 15.2l-8.4 -1.7l-8.5 3.8l-8.5 14.6l-8.6 7l-8.6 0.6l-8.7 -0.7l-8.7 8.4l-8.8 15.7l-8.8 5.3z" fill="url(#s196)" stroke="url(#s196)" stroke-width="0.6"/>
<path d="M665.9 344.6l8.1 11.7l8 -20.4l8 10.8l8 -59l7.9 -1.7l7.9 24.9l7.8 -17.6l7.8 -13.8l7.7 1.2l7.7 -9.9l7.6 32.2l7.6 -14l7.6 -4.5l7.5 -20.6l7.5 57.5l0.3 13.2l-7.5 -54.7l-7.5 19.8l-7.6 4.5l-7.6 13.6l-7.6 -30.7l-7.7 9.6l-7.7 -1.2l-7.8 13.5l-7.8 17.1l-7.9 -23.7l-7.9 1.7l-8 56.7l-8 -10.2l-8 19.8l-8.1 -11.1z" fill="url(#s197)" stroke="url(#s197)" stroke-width="0.6"/>
<path d="M782.7 321.3l7.4 -12.8l7.4 -7.5l7.4 -2.8l7.3 0.7l7.3 -5.9l7.2 -10.8l7.2 -21.8l7.2 -3.4l7.1 1l7.1 -19.3l7 -4.8l7 11l7 5.2l6.9 -18.1l0.3 15.1l-6.9 17.5l-7 -4.9l-7 -10.4l-7 4.7l-7.1 18.8l-7.1 -0.9l-7.2 3.3l-7.2 21.1l-7.2 10.5l-7.3 5.7l-7.3 -0.5l-7.4 2.9l-7.4 7.3l-7.4 12.3z" fill="url(#s198)" stroke="url(#s198)" stroke-width="0.6"/>
<path d="M883.2 232l6.9 -1.7l6.9 22.9l6.8 -15.7l6.8 -8.1l6.7 11.4l13.4 -12.4l6.6 0.8l6.6 2.5l6.6 13.2l6.5 -2.9l6.5 -11.5l6.5 -0.6l6.4 3.7l6.4 -9.8l0.3 13.6l-6.4 9.5l-6.4 -3.5l-6.5 0.6l-6.5 11.3l-6.5 2.9l-6.6 -12.5l-6.6 -2.2l-6.6 -0.7l-13.4 12.1l-6.7 -10.8l-6.8 7.9l-6.8 15.3l-6.9 -21.7l-6.9 1.8z" fill="url(#s199)" stroke="url(#s199)" stroke-width="0.6"/>
<path d="M539 432.9l8.8 -5.3l8.8 -15.7l8.7 -8.4l8.7 0.7l8.6 -0.6l8.6 -7l8.5 -14.6l8.5 -3.8l8.4 1.7l8.4 -15.2l8.3 15.3l8.3 9.9l8.2 -7.6l8.2 -21.6l8.1 -1.5l0.3 21l-8.1 1.6l-8.2 20.4l-8.2 7.4l-8.3 -9l-8.3 -14.2l-8.4 14.7l-8.4 -1.4l-8.5 3.6l-8.5 14.1l-8.6 7l-8.6 0.8l-8.7 -0.5l-8.7 8l-8.8 15l-8.8 5.1z" fill="url(#s200)" stroke="url(#s200)" stroke-width="0.6"/>
<path d="M666.3 359.2l8.1 11.1l8 -19.8l8 10.2l8 -56.7l7.9 -1.7l7.9 23.7l7.8 -17.1l7.8 -13.5l7.7 1.2l7.7 -9.6l7.6 30.7l7.6 -13.6l7.6 -4.5l7.5 -19.8l7.5 54.7l0.3 19l-7.5 -50.7l-7.5 18.7l-7.6 4.5l-7.6 12.9l-7.6 -28.5l-7.7 9.2l-7.7 -1l-7.8 13l-7.8 16.4l-7.9 -22.1l-7.9 1.7l-8 53.4l-8 -9.4l-8 18.9l-8.1 -10.3z" fill="url(#s201)" stroke="url(#s201)" stroke-width="0.6"/>
<path d="M783 334.5l7.4 -12.3l7.4 -7.3l7.4 -2.9l7.3 0.5l7.3 -5.7l7.2 -10.5l7.2 -21.1l7.2 -3.3l7.1 0.9l7.1 -18.8l7 -4.7l7 10.4l7 4.9l6.9 -17.5l0.3 21.9l-6.9 16.7l-7 -4.5l-7 -9.6l-7 4.7l-7.1 18l-7.1 -0.7l-7.2 3.2l-7.2 20l-7.2 10l-7.3 5.4l-7.3 -0.3l-7.4 3.1l-7.4 7.1l-7.4 11.6z" fill="url(#s202)" stroke="url(#s202)" stroke-width="0.6"/>
<path d="M883.5 247.1l6.9 -1.8l6.9 21.7l6.8 -15.3l6.8 -7.9l6.7 10.8l13.4 -12.1l6.6 0.7l6.6 2.2l6.6 12.5l6.5 -2.9l6.5 -11.3l6.5 -0.6l6.4 3.5l6.4 -9.5l0.3 19.6l-6.4 9l-6.4 -3.2l-6.5 0.6l-6.5 10.9l-6.5 3l-6.6 -11.5l-6.6 -1.9l-6.6 -0.5l-13.4 11.7l-6.7 -10l-6.8 7.6l-6.8 14.6l-6.9 -20.1l-6.9 1.8z" fill="url(#s203)" stroke="url(#s203)" stroke-width="0.6"/>
<path d="M539.4 452.8l8.8 -5.1l8.8 -15l8.7 -8l8.7 0.5l8.6 -0.8l8.6 -7l8.5 -14.1l8.5 -3.6l8.4 1.4l8.4 -14.7l8.3 14.2l8.3 9l8.2 -7.4l8.2 -20.4l8.1 -1.6l0.9 64l-8.1 2l-8.2 16.8l-8.2 6.7l-8.3 -6.4l-8.3 -10.9l-8.4 13.1l-8.4 -0.5l-8.5 3.1l-8.5 12.5l-8.6 7l-8.6 1.4l-8.7 0.2l-8.7 6.7l-8.8 12.9l-8.8 4.6z" fill="url(#s204)" stroke="url(#s204)" stroke-width="0.6"/>
<path d="M666.6 380.2l8.1 10.3l8 -18.9l8 9.4l8 -53.4l7.9 -1.7l7.9 22.1l7.8 -16.4l7.8 -13l7.7 1l7.7 -9.2l7.6 28.5l7.6 -12.9l7.6 -4.5l7.5 -18.7l7.5 50.7l0.9 57.9l-7.5 -38.6l-7.5 15.2l-7.6 4.5l-7.6 11l-7.6 -21.8l-7.7 7.8l-7.7 -0.7l-7.8 11.5l-7.8 14.2l-7.9 -17.1l-7.9 1.6l-8 43.3l-8 -6.8l-8 16.3l-8.1 -7.6z" fill="url(#s205)" stroke="url(#s205)" stroke-width="0.6"/>
<path d="M783.3 353.5l7.4 -11.6l7.4 -7.1l7.4 -3.1l7.3 0.3l7.3 -5.4l7.2 -10l7.2 -20l7.2 -3.2l7.1 0.7l7.1 -18l7 -4.7l7 9.6l7 4.5l6.9 -16.7l0.8 66.5l-6.9 14l-7 -3.3l-7 -7l-7 4.4l-7.1 15.5l-7.1 -0.3l-7.2 3l-7.2 16.6l-7.2 8.8l-7.3 4.5l-7.3 0.5l-7.4 3.5l-7.4 6.4l-7.4 9.4z" fill="url(#s206)" stroke="url(#s206)" stroke-width="0.6"/>
<path d="M883.9 269l6.9 -1.8l6.9 20.1l6.8 -14.6l6.8 -7.6l6.7 10l13.4 -11.7l6.6 0.5l6.6 1.9l6.6 11.5l6.5 -3l6.5 -10.9l6.5 -0.6l6.4 3.2l6.4 -9l0.8 59.5l-6.4 7.7l-6.4 -2.2l-6.5 0.7l-6.5 9.9l-6.5 3.1l-6.6 -8.6l-6.6 -0.9l-6.6 0l-13.4 10.5l-6.7 -7.5l-6.8 6.7l-6.8 12.6l-6.9 -15.1l-6.9 2z" fill="url(#s207)" stroke="url(#s207)" stroke-width="0.6"/>
<path d="M540.2 513.4l8.8 -4.6l8.8 -12.9l8.7 -6.7l8.7 -0.2l8.6 -1.4l8.6 -7l8.5 -12.5l8.5 -3.1l8.4 0.5l8.4 -13.1l8.3 10.9l8.3 6.4l8.2 -6.7l8.2 -16.8l8.1 -2l1 76.2l-8.1 2.5l-8.2 12.5l-8.2 5.8l-8.3 -3.2l-8.3 -7l-8.4 11.3l-8.4 0.5l-8.5 2.4l-8.5 10.6l-8.6 7l-8.6 2.2l-8.7 0.9l-8.7 5.3l-8.8 10.5l-8.8 3.9z" fill="url(#s208)" stroke="url(#s208)" stroke-width="0.6"/>
<path d="M667.5 444.2l8.1 7.6l8 -16.3l8 6.8l8 -43.3l7.9 -1.6l7.9 17.1l7.8 -14.2l7.8 -11.5l7.7 0.7l7.7 -7.8l7.6 21.8l7.6 -11l7.6 -4.5l7.5 -15.2l7.5 38.6l1 68.9l-7.5 -24.2l-7.5 11.1l-7.6 4.5l-7.6 8.7l-7.6 -13.9l-7.7 6.2l-7.7 -0.2l-7.8 9.8l-7.8 11.6l-7.9 -11.2l-7.9 1.6l-8 31.3l-8 -3.8l-8 13.1l-8.1 -4.5z" fill="url(#s209)" stroke="url(#s209)" stroke-width="0.6"/>
<path d="M784.2 411.4l7.4 -9.4l7.4 -6.4l7.4 -3.5l7.3 -0.5l7.3 -4.5l7.2 -8.8l7.2 -16.6l7.2 -3l7.1 0.3l7.1 -15.5l7 -4.4l7 7l7 3.3l6.9 -14l1 79.2l-6.9 10.9l-7 -1.8l-7 -4l-7 4.1l-7.1 12.6l-7.1 0.2l-7.2 2.7l-7.2 12.5l-7.2 7.3l-7.3 3.4l-7.3 1.4l-7.4 4l-7.4 5.6l-7.4 6.7z" fill="url(#s210)" stroke="url(#s210)" stroke-width="0.6"/>
<path d="M884.7 335.4l6.9 -2l6.9 15.1l6.8 -12.6l6.8 -6.7l6.7 7.5l13.4 -10.5l6.6 0l6.6 0.9l6.6 8.6l6.5 -3.1l6.5 -9.9l6.5 -0.7l6.4 2.2l6.4 -7.7l1 70.9l-6.4 6.2l-6.4 -1.1l-6.5 0.9l-6.5 8.6l-6.5 3.3l-6.6 -5.2l-13.2 1l-13.4 9.1l-6.7 -4.5l-6.8 5.7l-6.8 10.3l-6.9 -9.2l-6.9 2.2z" fill="url(#s211)" stroke="url(#s211)" stroke-width="0.6"/>
<path d="M541.3 585.5l8.8 -3.9l8.8 -10.5l8.7 -5.3l8.7 -0.9l8.6 -2.2l8.6 -7l8.5 -10.6l8.5 -2.4l8.4 -0.5l8.4 -11.3l8.3 7l8.3 3.2l8.2 -5.8l8.2 -12.5l8.1 -2.5l8.1 4.5l8 -13.1l8 3.8l8 -31.3l7.9 -1.6l7.9 11.2l7.8 -11.6l7.8 -9.8l7.7 0.2l7.7 -6.2l7.6 13.9l7.6 -8.7l7.6 -4.5l7.5 -11.1l7.5 24.2l0.7 39.8l-7.5 -15.8l-7.5 8.7l-7.6 4.5l-7.6 7.3l-7.6 -9.4l-7.7 5.3l-7.7 0l-7.8 8.8l-7.8 10.1l-7.9 -7.8l-7.9 1.5l-8 24.3l-8 -2l-8 11.3l-8.1 -2.8l-8.1 2.7l-8.2 10l-8.2 5.3l-8.3 -1.4l-8.3 -4.7l-8.4 10.2l-8.4 1.1l-8.5 2.1l-8.5 9.5l-8.6 7l-8.6 2.6l-8.7 1.4l-8.7 4.4l-8.8 9l-8.8 3.6z" fill="url(#s212)" stroke="url(#s212)" stroke-width="0.6"/>
<path d="M785.2 480.3l7.4 -6.7l7.4 -5.6l7.4 -4l7.3 -1.4l7.3 -3.4l7.2 -7.3l7.2 -12.5l7.2 -2.7l7.1 -0.2l7.1 -12.6l7 -4.1l7 4l7 1.8l6.9 -10.9l6.9 -2.2l6.9 9.2l6.8 -10.3l6.8 -5.7l6.7 4.5l13.4 -9.1l13.2 -1l6.6 5.2l6.5 -3.3l6.5 -8.6l6.5 -0.9l6.4 1.1l6.4 -6.2l0.7 40.9l-6.4 5.2l-6.4 -0.4l-6.5 1l-6.5 7.9l-6.5 3.5l-6.6 -3.2l-13.2 2.1l-13.4 8.3l-6.7 -2.8l-6.8 5.1l-6.8 8.9l-6.9 -5.8l-6.9 2.3l-6.9 9.1l-7 -0.9l-7 -2.2l-7 4l-7.1 11l-7.1 0.4l-7.2 2.5l-7.2 10.2l-7.2 6.4l-7.3 2.8l-7.3 2l-7.4 4.3l-14.8 10.3z" fill="url(#s213)" stroke="url(#s213)" stroke-width="0.6"/>
<path d="M542 627.2l8.8 -3.6l8.8 -9l8.7 -4.4l8.7 -1.4l8.6 -2.6l8.6 -7l8.5 -9.5l8.5 -2.1l8.4 -1.1l8.4 -10.2l8.3 4.7l8.3 1.4l8.2 -5.3l8.2 -10l8.1 -2.7l8.1 2.8l8 -11.3l8 2l8 -24.3l7.9 -1.5l7.9 7.8l7.8 -10.1l7.8 -8.8l7.7 0l7.7 -5.3l7.6 9.4l7.6 -7.3l7.6 -4.5l7.5 -8.7l7.5 15.8l0.7 32.7l-7.5 -8.9l-7.5 6.8l-7.6 4.5l-7.6 6.2l-7.6 -5.6l-7.7 4.6l-7.7 0.2l-15.6 16.9l-7.9 -5l-7.9 1.5l-8 18.6l-8 -0.5l-8 9.8l-8.1 -1.3l-8.1 2.9l-8.2 7.9l-8.2 4.9l-8.3 0.1l-8.3 -2.9l-8.4 9.3l-16.9 3.3l-8.5 8.7l-8.6 7.1l-8.6 3l-8.7 1.7l-8.7 3.7l-8.8 7.8l-8.8 3.3z" fill="url(#s214)" stroke="url(#s214)" stroke-width="0.6"/>
<path d="M785.9 520.1l14.8 -10.3l7.4 -4.3l7.3 -2l7.3 -2.8l7.2 -6.4l7.2 -10.2l7.2 -2.5l7.1 -0.4l7.1 -11l7 -4l7 2.2l7 0.9l6.9 -9.1l6.9 -2.3l6.9 5.8l6.8 -8.9l6.8 -5.1l6.7 2.8l13.4 -8.3l13.2 -2.1l6.6 3.2l6.5 -3.5l6.5 -7.9l6.5 -1l6.4 0.4l6.4 -5.2l0.7 33.6l-6.4 4.5l-6.4 0.2l-6.5 1l-6.5 7.3l-6.5 3.5l-6.6 -1.6l-13.2 3l-13.4 7.7l-6.7 -1.3l-6.8 4.6l-6.8 7.8l-6.9 -3l-6.9 2.4l-6.9 7.6l-14 -1l-7 3.8l-7.1 9.6l-7.1 0.6l-7.2 2.4l-7.2 8.3l-7.2 5.7l-14.6 4.6l-14.7 9.4l-7.4 3.9z" fill="url(#s215)" stroke="url(#s215)" stroke-width="0.6"/>
<path d="M542.7 661.4l8.8 -3.3l8.8 -7.8l8.7 -3.7l8.7 -1.7l8.6 -3l8.6 -7.1l8.5 -8.7l16.9 -3.3l8.4 -9.3l8.3 2.9l8.3 -0.1l8.2 -4.9l8.2 -7.9l8.1 -2.9l8.1 1.3l8 -9.8l8 0.5l8 -18.6l7.9 -1.5l7.9 5l15.6 -16.9l7.7 -0.2l7.7 -4.6l7.6 5.6l7.6 -6.2l7.6 -4.5l7.5 -6.8l7.5 8.9l0.7 25l-7.5 -3.6l-22.7 15.1l-7.6 -2.7l-7.7 4l-7.7 0.3l-15.6 15.3l-7.9 -2.9l-7.9 1.5l-8 14.3l-8 0.6l-8 8.7l-8.1 -0.2l-8.1 3.1l-8.2 6.4l-8.2 4.6l-8.3 1.3l-8.3 -1.5l-8.4 8.7l-16.9 3.4l-8.5 8l-8.6 7.1l-8.6 3.3l-8.7 2l-8.7 3.1l-8.8 6.9l-8.8 3z" fill="url(#s216)" stroke="url(#s216)" stroke-width="0.6"/>
<path d="M786.6 552.8l7.4 -3.9l14.7 -9.4l14.6 -4.6l7.2 -5.7l7.2 -8.3l7.2 -2.4l7.1 -0.6l7.1 -9.6l7 -3.8l14 1l6.9 -7.6l6.9 -2.4l6.9 3l6.8 -7.8l6.8 -4.6l6.7 1.3l13.4 -7.7l13.2 -3l6.6 1.6l6.5 -3.5l6.5 -7.3l6.5 -1l6.4 -0.2l6.4 -4.5l0.7 25.7l-6.4 3.9l-12.9 1.6l-6.5 6.8l-6.5 3.6l-6.6 -0.3l-13.2 3.7l-13.4 7.1l-6.7 -0.2l-6.8 4.2l-6.8 6.9l-6.9 -0.8l-6.9 2.5l-6.9 6.4l-14 0.7l-7 3.7l-7.1 8.6l-7.1 0.8l-7.2 2.2l-7.2 6.8l-7.2 5.1l-7.3 1.8l-7.3 2.7l-14.7 9.3l-7.4 2.9z" fill="url(#s217)" stroke="url(#s217)" stroke-width="0.6"/>
<path d="M543.4 687.5l8.8 -3l8.8 -6.9l8.7 -3.1l8.7 -2l8.6 -3.3l8.6 -7.1l8.5 -8l16.9 -3.4l8.4 -8.7l8.3 1.5l8.3 -1.3l8.2 -4.6l8.2 -6.4l8.1 -3.1l8.1 0.2l8 -8.7l8 -0.6l8 -14.3l7.9 -1.5l7.9 2.9l15.6 -15.3l7.7 -0.3l7.7 -4l7.6 2.7l22.7 -15.1l7.5 3.6l0.7 17.8l-7.5 0.2l-22.7 13.4l-7.6 -0.7l-7.7 3.6l-7.7 0.4l-15.6 14.2l-7.9 -1.4l-7.9 1.4l-8 11.2l-8 1.4l-8 7.9l-8.1 0.6l-8.1 3.2l-8.2 5.2l-8.2 4.4l-8.3 2.1l-8.3 -0.5l-8.4 8.2l-8.4 2.2l-8.5 1.3l-17.1 14.6l-8.6 3.5l-17.4 4.9l-8.8 6.3l-8.8 2.8z" fill="url(#s218)" stroke="url(#s218)" stroke-width="0.6"/>
<path d="M787.3 577.7l7.4 -2.9l14.7 -9.3l7.3 -2.7l7.3 -1.8l7.2 -5.1l7.2 -6.8l7.2 -2.2l7.1 -0.8l7.1 -8.6l7 -3.7l14 -0.7l6.9 -6.4l6.9 -2.5l6.9 0.8l6.8 -6.9l6.8 -4.2l6.7 0.2l13.4 -7.1l13.2 -3.7l6.6 0.3l6.5 -3.6l6.5 -6.8l12.9 -1.6l6.4 -3.9l0.7 18.3l-6.4 3.5l-12.9 2l-6.5 6.5l-6.5 3.7l-6.6 0.6l-13.2 4.2l-13.4 6.8l-6.7 0.5l-6.8 3.9l-6.8 6.3l-6.9 0.7l-6.9 2.5l-6.9 5.6l-14 1.8l-7 3.7l-7.1 7.9l-7.1 0.9l-7.2 2.2l-7.2 5.7l-7.2 4.8l-7.3 1.5l-7.3 3l-14.7 9.2l-7.4 2.2z" fill="url(#s219)" stroke="url(#s219)" stroke-width="0.6"/>
<path d="M544.2 706.1l8.8 -2.8l8.8 -6.3l17.4 -4.9l8.6 -3.5l17.1 -14.6l8.5 -1.3l8.4 -2.2l8.4 -8.2l8.3 0.5l8.3 -2.1l8.2 -4.4l8.2 -5.2l8.1 -3.2l8.1 -0.6l8 -7.9l8 -1.4l8 -11.2l7.9 -1.4l7.9 1.4l15.6 -14.2l7.7 -0.4l7.7 -3.6l7.6 0.7l22.7 -13.4l7.5 -0.2l7.4 -2.2l14.7 -9.2l7.3 -3l7.3 -1.5l7.2 -4.8l7.2 -5.7l7.2 -2.2l7.1 -0.9l7.1 -7.9l7 -3.7l14 -1.8l6.9 -5.6l6.9 -2.5l6.9 -0.7l6.8 -6.3l6.8 -3.9l6.7 -0.5l13.4 -6.8l13.2 -4.2l6.6 -0.6l6.5 -3.7l6.5 -6.5l12.9 -2l6.4 -3.5l0.8 14.4l-6.4 3.2l-12.9 2.2l-6.5 6.3l-6.5 3.7l-6.6 1.3l-13.2 4.6l-13.4 6.5l-6.7 1.1l-6.8 3.7l-6.8 5.9l-13.7 4.5l-6.9 5l-7 1l-7 1.7l-7 3.6l-7.1 7.3l-7.1 1l-7.2 2.1l-14.4 9.4l-7.3 1.3l-7.3 3.2l-7.3 5.1l-7.4 4.1l-7.4 1.6l-15 6.6l-15.2 8.8l-7.6 0.9l-7.7 3.2l-7.7 0.5l-15.6 13.4l-7.9 -0.2l-7.9 1.4l-7.9 8.7l-8 2l-8 7.3l-8.1 1.2l-8.1 3.3l-16.4 8.5l-8.3 2.7l-8.3 0.3l-8.4 7.9l-8.4 2.4l-8.5 1.1l-17.1 14.3l-8.6 3.6l-17.4 4.7l-8.8 5.8l-8.8 2.7z" fill="url(#s220)" stroke="url(#s220)" stroke-width="0.6"/>
<path d="M545 720.8l8.8 -2.7l8.8 -5.8l17.4 -4.7l8.6 -3.6l17.1 -14.3l8.5 -1.1l8.4 -2.4l8.4 -7.9l8.3 -0.3l8.3 -2.7l16.4 -8.5l8.1 -3.3l8.1 -1.2l8 -7.3l8 -2l7.9 -8.7l7.9 -1.4l7.9 0.2l15.6 -13.4l7.7 -0.5l7.7 -3.2l7.6 -0.9l15.2 -8.8l15 -6.6l7.4 -1.6l7.4 -4.1l7.3 -5.1l7.3 -3.2l7.3 -1.3l14.4 -9.4l7.2 -2.1l7.1 -1l7.1 -7.3l7 -3.6l7 -1.7l7 -1l6.9 -5l13.7 -4.5l6.8 -5.9l6.8 -3.7l6.7 -1.1l13.4 -6.5l13.2 -4.6l6.6 -1.3l6.5 -3.7l6.5 -6.3l12.9 -2.2l6.4 -3.2l1 8.9l-6.4 3l-12.9 2.3l-6.5 6.2l-6.5 3.8l-6.6 1.7l-6.6 2.8l-6.6 2l-13.4 6.3l-6.7 1.5l-6.8 3.6l-6.8 5.6l-13.7 5.3l-6.9 4.6l-7 1.1l-7 2.1l-7 3.6l-7.1 7l-7.1 1l-7.1 2l-14.4 8.7l-7.3 1.1l-7.3 3.3l-7.3 5.2l-7.4 4l-7.4 1.2l-7.5 5.2l-7.5 2.8l-15.2 8.5l-7.6 2l-7.7 3l-7.7 0.5l-15.6 13l-7.9 0.5l-7.9 1.3l-7.9 7.2l-8 2.3l-8 7l-8.1 1.6l-24.5 11.3l-8.3 3.1l-8.3 0.7l-8.4 7.7l-8.4 2.5l-8.5 1l-17.1 14.2l-8.6 3.7l-17.4 4.6l-8.8 5.5l-8.8 2.6z" fill="url(#s221)" stroke="url(#s221)" stroke-width="0.6"/>
<path d="M546.1 729.8l8.8 -2.6l8.8 -5.5l17.4 -4.6l8.6 -3.7l17.1 -14.2l8.5 -1l8.4 -2.5l8.4 -7.7l8.3 -0.7l8.3 -3.1l24.5 -11.3l8.1 -1.6l8 -7l8 -2.3l7.9 -7.2l7.9 -1.3l7.9 -0.5l15.6 -13l7.7 -0.5l7.7 -3l7.6 -2l15.2 -8.5l7.5 -2.8l7.5 -5.2l7.4 -1.2l7.4 -4l7.3 -5.2l7.3 -3.3l7.3 -1.1l14.4 -8.7l7.1 -2l7.1 -1l7.1 -7l7 -3.6l7 -2.1l7 -1.1l6.9 -4.6l13.7 -5.3l6.8 -5.6l6.8 -3.6l6.7 -1.5l13.4 -6.3l6.6 -2l6.6 -2.8l6.6 -1.7l6.5 -3.8l6.5 -6.2l12.9 -2.3l6.4 -3l1.8 5.5l-6.4 2.8l-12.9 2.3l-6.5 6.2l-6.5 3.8l-19.8 6.9l-13.4 6.2l-6.7 1.7l-6.8 3.5l-6.8 5.5l-13.7 5.8l-6.9 4.4l-7 1.2l-7 2.3l-7 3.6l-7.1 6.9l-7.1 1l-7.1 2l-14.4 8.3l-7.3 0.9l-7.3 3.4l-7.3 5.3l-7.4 4l-7.4 1l-7.5 6.5l-7.5 2.4l-15.1 8.4l-15.3 5.4l-7.7 0.4l-15.6 12.8l-15.8 2.2l-7.9 6.3l-8 2.6l-8 6.8l-8.1 1.8l-32.8 14.3l-8.3 1l-8.4 7.7l-8.4 2.6l-8.5 0.8l-17.1 14.2l-8.6 3.8l-17.4 4.4l-8.8 5.3l-8.8 2.5z" fill="url(#s222)" stroke="url(#s222)" stroke-width="0.6"/>
<path d="M548.1 735.4l8.8 -2.5l8.8 -5.3l17.4 -4.4l8.6 -3.8l17.1 -14.2l8.5 -0.8l8.4 -2.6l8.4 -7.7l8.3 -1l32.8 -14.3l8.1 -1.8l8 -6.8l8 -2.6l7.9 -6.3l15.8 -2.2l15.6 -12.8l7.7 -0.4l15.3 -5.4l15.1 -8.4l7.5 -2.4l7.5 -6.5l7.4 -1l7.4 -4l7.3 -5.3l7.3 -3.4l7.3 -0.9l14.4 -8.3l7.1 -2l7.1 -1l7.1 -6.9l7 -3.6l7 -2.3l7 -1.2l6.9 -4.4l13.7 -5.8l6.8 -5.5l6.8 -3.5l6.7 -1.7l13.4 -6.2l19.8 -6.9l6.5 -3.8l6.5 -6.2l12.9 -2.3l6.4 -2.8l10 3.6l-6.4 2.8l-12.9 2l-6.5 6.4l-6.5 3.9l-19.8 7l-13.3 6.1l-6.7 1.7l-6.8 3.5l-6.8 5.6l-6.8 3.5l-6.9 2.5l-6.9 4.3l-6.9 1.1l-7 2.4l-7 3.6l-7.1 7.1l-7.1 0.8l-7.1 1.8l-14.4 8.2l-7.3 0.6l-7.3 3.4l-7.3 5.5l-7.4 4l-7.4 0.6l-7.5 7.5l-7.5 2.1l-7.5 4.7l-7.6 3.7l-15.3 5.6l-7.7 0.1l-15.6 13.1l-15.7 2.1l-7.9 5.9l-8 2.6l-8 6.9l-8.1 1.8l-16.3 6.6l-16.5 7.6l-8.3 0.9l-8.4 8l-8.4 2.5l-8.5 0.5l-17.1 14.8l-8.6 3.8l-17.4 4.1l-8.8 5.4l-8.8 2.3z" fill="#70349f" stroke="#70349f" stroke-width="0.6"/>
<path d="M558.8 739.4l8.8 -2.3l8.8 -5.4l17.4 -4.1l8.6 -3.8l17.1 -14.8l8.5 -0.5l8.4 -2.5l8.4 -8l8.3 -0.9l16.5 -7.6l16.3 -6.6l8.1 -1.8l8 -6.9l8 -2.6l7.9 -5.9l15.7 -2.1l15.6 -13.1l7.7 -0.1l15.3 -5.6l7.6 -3.7l7.5 -4.7l7.5 -2.1l7.5 -7.5l7.4 -0.6l7.4 -4l7.3 -5.5l7.3 -3.4l7.3 -0.6l14.4 -8.2l7.1 -1.8l7.1 -0.8l7.1 -7.1l7 -3.6l7 -2.4l6.9 -1.1l6.9 -4.3l6.9 -2.5l6.8 -3.5l6.8 -5.6l6.8 -3.5l6.7 -1.7l13.3 -6.1l19.8 -7l6.5 -3.9l6.5 -6.4l12.9 -2l6.4 -2.8l0.7 0.2l-6.4 2.8l-12.9 2l-6.5 6.4l-6.5 3.9l-19.8 7l-13.3 6.2l-6.7 1.7l-6.8 3.5l-6.8 5.6l-6.8 3.5l-6.9 2.5l-6.9 4.3l-6.9 1.1l-7 2.4l-7 3.6l-7.1 7.1l-7.1 0.8l-7.1 1.8l-14.4 8.2l-7.3 0.6l-7.3 3.4l-7.3 5.5l-7.4 4l-7.4 0.6l-7.5 7.5l-7.5 2.1l-7.5 4.7l-7.6 3.7l-15.3 5.6l-7.7 0.1l-15.6 13.1l-15.7 2.1l-7.9 5.9l-8 2.6l-8 6.9l-8.1 1.8l-16.3 6.6l-16.5 7.6l-8.3 0.9l-8.4 8l-8.4 2.5l-8.5 0.5l-17.1 14.8l-8.6 3.8l-17.4 4.1l-8.8 5.4l-8.8 2.3z" fill="#70349f" stroke="#70349f" stroke-width="0.6"/>
<path d="M538.3 414.1l0.7 18.7l3.7 228.5l1.4 44.7l0.9 14.7l1.1 9l2 5.6l11.4 4.3M555.9 392.3l0.7 19.6l3.7 238.4l1.4 46.7l0.9 15.3l1.1 9.4l2 5.8l11.4 4.5M573.4 384.4l0.7 19.8l3.7 240.7l1.4 47.2l0.9 15.5l1.1 9.6l2 6l11.4 4.9M590.6 377l0.7 19.6l3.7 238.2l1.4 46.7l0.9 15.3l1.1 9.4l1.9 5.8l11.4 4.5M607.6 358l0.7 20.2l3.7 246.3l1.4 48.3l0.9 15.8l1.1 9.8l1.9 6l11.3 4.6M624.4 344.2l0.7 20.4l3.7 248.9l1.4 48.7l0.9 16l1.1 9.8l1.9 6l11.3 4.4M641 371.2l0.7 18.6l3.7 226.5l1.4 44.4l0.9 14.5l1.1 9l1.9 5.5l11.3 4.3M657.4 340.7l0.7 19.9l3.7 242.8l1.4 47.6l0.9 15.6l1.1 9.6l1.9 6l11.3 4.5M673.7 351.3l0.7 19l3.7 231.5l1.4 45.4l0.9 14.9l1 9.2l1.9 5.7l11.2 4.5M689.7 341.7l0.7 19l3.7 231.8l1.4 45.4l0.9 14.9l1 9.2l1.9 5.7l11.2 4.3M705.6 280.2l0.7 22.2l3.6 270l1.4 53l0.9 17.4l1 10.8l1.9 6.7l11.2 4.9M721.3 287.6l0.7 21.3l3.6 259.5l1.4 50.9l0.9 16.7l1 10.3l1.9 6.4l11.2 4.7M736.8 275l0.7 21.7l3.6 263.7l1.4 51.7l0.9 17l1 10.5l1.9 6.5l11.1 4.8M752.1 297.6l0.7 20l3.6 243.7l1.4 47.8l0.9 15.7l1 9.7l1.9 6l11.1 4.6M767.3 279l0.7 20.6l3.6 251.1l1.4 49.2l0.9 16.2l1 10l1.9 6.2l11.1 4.5M782.3 316.6l0.7 17.9l3.6 218.3l1.4 42.7l0.9 14l1 8.6l1.9 5.3l11 3.8M797.1 296.1l0.7 18.8l3.6 229.2l1.4 44.9l0.9 14.7l1 9.1l1.9 5.6l11 4.1M811.8 294.1l0.7 18.4l3.6 224.6l1.4 44l0.9 14.4l1 8.9l1.9 5.4l11 3.8M826.3 277.2l0.7 19.1l3.6 232.9l1.4 45.6l0.9 15l1 9.2l1.9 5.7l11 4.1M840.7 251.7l0.7 20.2l3.6 246.6l1.4 48.3l0.9 15.9l1 9.8l1.9 6l10.9 4.3M854.9 233.2l0.7 20.9l3.6 254.3l1.4 49.8l0.8 16.3l1 10.1l1.9 6.2l10.9 4.3M868.9 239.6l0.7 20.2l3.6 245.5l1.4 48.1l0.8 15.8l1 9.7l1.9 6l10.9 4.2M882.8 226.5l0.7 20.6l3.5 250.8l1.4 49.2l0.8 16.1l1 10l1.9 6.1l10.9 4.3M896.6 248.1l0.7 19l3.5 231.4l1.3 45.4l0.8 14.9l1 9.2l1.9 5.7l10.8 4.1M910.2 224l0.7 19.9l3.5 242.3l1.3 47.5l0.8 15.5l1 9.6l1.9 5.9l10.8 4M923.7 228.9l0.7 19.3l3.5 235.4l1.3 46.1l0.8 15.1l1 9.3l1.8 5.7l10.8 4M937 224l0.7 19.3l3.5 235.1l2.2 61.2l1 9.3l1.8 5.7l10.8 4M950.2 240l0.7 18.1l3.5 220.3l2.2 57.3l1 8.7l1.8 5.4l10.7 3.9M963.2 225.5l0.7 18.3l3.5 223.7l2.2 58.1l1 8.8l1.8 5.4l10.7 3.5M976.1 228.8l0.7 18l3.5 219.5l2.2 57.1l1 8.7l1.8 5.3l10.7 3.8M552.4 737.6l8.8 -2.4l8.8 -5.3l17.4 -4.2l8.6 -3.8l17.1 -14.5l8.5 -0.7l8.4 -2.5l8.4 -7.8l8.3 -1l16.5 -7.5l16.3 -6.7l8.1 -1.8l8 -6.8l8 -2.6l7.9 -6l15.7 -2.2l15.6 -12.9l7.7 -0.3l15.3 -5.6l7.6 -3.8l7.5 -4.6l7.5 -2.2l7.5 -7.1l7.4 -0.7l7.4 -4l7.3 -5.4l7.3 -3.4l7.3 -0.8l14.4 -8.2l7.1 -1.9l7.1 -0.9l7.1 -6.9l7 -3.6l7 -2.4l7 -1.2l6.9 -4.3l6.9 -2.6l6.8 -3.4l6.8 -5.5l6.8 -3.5l6.7 -1.7l13.4 -6.2l19.8 -7l6.5 -3.9l6.5 -6.3l12.9 -2.2l6.4 -2.8" fill="none" stroke="#b4b4b4" stroke-opacity="0.8" stroke-width="1"/>
<path d="M546.1 729.3l43.3 -19.9l18.5 -7.3l15.8 -8l9.4 -3.4l7.4 -4.1l40.6 -18.6l25.1 -10.5l14.7 -7.5l16.9 -6.6l6.7 -3.8l15.1 -7l60.3 -26.8l35.2 -16.5l15 -6.1l33.9 -15.9l14.5 -5.9l38.9 -18.4l14.2 -5.6l18.2 -9.1M543 672.4l444.1 -192.2M541.8 616.1l444.3 -183.6M540.9 560l444.4 -175.1M540.1 503.9l444.6 -166.5M539.3 447.8l160.2 -56.5l284.5 -101.5M599.6 371.3l25.5 -8.5M657.9 351.7l8.1 -2.8M698.9 338.3l77.1 -26M790 307.1l193.3 -64.8M697.9 285.3l7.9 -2.5M855.1 235.3l7.1 -2.2" fill="none" stroke="#3a3a3a" stroke-opacity="0.85" stroke-width="1.1"/>
<path d="M559.5 739.7l8.8 -2.3l8.8 -5.4l17.4 -4.1l8.6 -3.8l17.1 -14.8l8.5 -0.5l8.4 -2.5l8.4 -8l8.3 -0.9l16.5 -7.6l16.3 -6.6l8.1 -1.8l8 -6.9l8 -2.6l7.9 -5.9l15.7 -2.1l15.6 -13.1l7.7 -0.1l15.3 -5.6l7.6 -3.7l7.5 -4.7l7.5 -2.1l7.5 -7.5l7.4 -0.6l7.4 -4l7.3 -5.5l7.3 -3.4l7.3 -0.6l14.4 -8.2l7.1 -1.8l7.1 -0.8l7.1 -7.1l7 -3.6l7 -2.4l6.9 -1.1l6.9 -4.3l6.9 -2.5l6.8 -3.5l6.8 -5.6l6.8 -3.5l6.7 -1.7l13.3 -6.2l19.8 -7l6.5 -3.9l6.5 -6.4l12.9 -2l6.4 -2.8l9.4 2.8l-6.4 2.8l-12.8 2l-6.5 6.5l-6.5 3.9l-19.7 7l-13.3 6.2l-6.7 1.8l-6.7 3.5l-6.8 5.6l-6.8 3.6l-6.9 2.6l-6.9 4.3l-6.9 1.1l-7 2.4l-7 3.6l-7 7.1l-7.1 0.8l-7.1 1.8l-14.4 8.2l-7.2 0.6l-7.3 3.5l-7.3 5.5l-7.4 4l-7.4 0.6l-7.4 7.7l-7.5 2.1l-7.5 4.7l-7.6 3.7l-15.3 5.7l-7.7 0.1l-15.5 13.2l-15.7 2.1l-7.9 5.9l-8 2.7l-8 7l-8.1 1.8l-16.3 6.6l-16.5 7.6l-8.3 0.9l-8.3 8l-8.4 2.5l-8.4 0.5l-17 14.9l-8.6 3.8l-17.4 4l-8.8 5.4l-8.8 2.3z" fill="#71339f" stroke="#71339f" stroke-width="0.6"/>
<path d="M569.6 743.3l8.8 -2.3l8.8 -5.4l17.4 -4l8.6 -3.8l17 -14.9l8.4 -0.5l8.4 -2.5l8.3 -8l8.3 -0.9l16.5 -7.6l16.3 -6.6l8.1 -1.8l8 -7l8 -2.7l7.9 -5.9l15.7 -2.1l15.5 -13.2l7.7 -0.1l15.3 -5.7l7.6 -3.7l7.5 -4.7l7.5 -2.1l7.4 -7.7l7.4 -0.6l7.4 -4l7.3 -5.5l7.3 -3.5l7.2 -0.6l14.4 -8.2l7.1 -1.8l7.1 -0.8l7 -7.1l7 -3.6l7 -2.4l6.9 -1.1l6.9 -4.3l6.9 -2.6l6.8 -3.6l6.8 -5.6l6.7 -3.5l6.7 -1.8l13.3 -6.2l19.7 -7l6.5 -3.9l6.5 -6.5l12.8 -2l6.4 -2.8l8.1 3l-6.4 2.8l-12.8 2.1l-6.5 6.4l-6.5 3.9l-19.7 7.1l-13.3 6.2l-6.7 1.8l-6.7 3.5l-6.8 5.6l-6.8 3.6l-6.8 2.6l-6.9 4.3l-6.9 1.2l-7 2.5l-7 3.6l-7 7.1l-7.1 0.8l-7.1 1.9l-14.3 8.2l-7.2 0.7l-7.3 3.5l-7.3 5.5l-7.4 4l-7.4 0.6l-7.4 7.7l-7.5 2.1l-7.5 4.7l-7.6 3.8l-15.2 5.8l-7.7 0.2l-15.5 13.1l-15.7 2.2l-7.9 5.8l-8 2.7l-8 6.9l-8 1.9l-16.2 6.6l-16.4 7.7l-8.3 1l-8.3 8l-8.4 2.5l-8.4 0.6l-17 14.8l-8.6 3.8l-17.3 4.1l-8.7 5.4l-8.8 2.3z" fill="url(#s223)" stroke="url(#s223)" stroke-width="0.6"/>
<path d="M578.2 747.3l8.8 -2.3l8.7 -5.4l17.3 -4.1l8.6 -3.8l17 -14.8l8.4 -0.6l8.4 -2.5l8.3 -8l8.3 -1l16.4 -7.7l16.2 -6.6l8 -1.9l8 -6.9l8 -2.7l7.9 -5.8l15.7 -2.2l15.5 -13.1l7.7 -0.2l15.2 -5.8l7.6 -3.8l7.5 -4.7l7.5 -2.1l7.4 -7.7l7.4 -0.6l7.4 -4l7.3 -5.5l7.3 -3.5l7.2 -0.7l14.3 -8.2l7.1 -1.9l7.1 -0.8l7 -7.1l7 -3.6l7 -2.5l6.9 -1.2l6.9 -4.3l6.8 -2.6l6.8 -3.6l6.8 -5.6l6.7 -3.5l6.7 -1.8l13.3 -6.2l19.7 -7.1l6.5 -3.9l6.5 -6.4l12.8 -2.1l6.4 -2.8l4.2 7.4l-6.4 2.8l-12.8 3l-6.5 5.7l-6.5 3.8l-19.7 7.6l-13.3 6.2l-6.7 2.1l-6.7 3.4l-6.8 5.1l-6.8 3.5l-6.8 2.7l-6.9 4.1l-6.9 1.6l-7 2.7l-7 3.6l-7 6.3l-7.1 1.4l-7.1 2.2l-14.3 7.9l-7.2 1.3l-7.3 3.5l-7.3 5.1l-7.3 3.9l-7.4 1.2l-7.4 6.8l-7.5 2.4l-15.1 8.2l-15.2 6.1l-7.7 0.9l-15.5 11.9l-15.7 3.3l-7.9 5.4l-8 2.9l-8 6.3l-8 2.3l-32.7 14.6l-8.3 1.6l-8.3 7.1l-8.4 2.9l-8.4 1.3l-17 13.4l-8.6 3.9l-17.3 5l-8.7 5.1l-8.8 2.7z" fill="url(#s224)" stroke="url(#s224)" stroke-width="0.6"/>
<path d="M582.7 756.6l8.8 -2.7l8.7 -5.1l17.3 -5l8.6 -3.9l17 -13.4l8.4 -1.3l8.4 -2.9l8.3 -7.1l8.3 -1.6l32.7 -14.6l8 -2.3l8 -6.3l8 -2.9l7.9 -5.4l15.7 -3.3l15.5 -11.9l7.7 -0.9l15.2 -6.1l15.1 -8.2l7.5 -2.4l7.4 -6.8l7.4 -1.2l7.3 -3.9l7.3 -5.1l7.3 -3.5l7.2 -1.3l14.3 -7.9l7.1 -2.2l7.1 -1.4l7 -6.3l7 -3.6l7 -2.7l6.9 -1.6l6.9 -4.1l6.8 -2.7l6.8 -3.5l6.8 -5.1l6.7 -3.4l6.7 -2.1l13.3 -6.2l19.7 -7.6l6.5 -3.8l6.5 -5.7l12.8 -3l6.4 -2.8l1.9 5.2l-6.4 2.9l-12.8 3.6l-6.5 5.2l-6.5 3.6l-19.7 8l-13.3 6.3l-6.7 2.3l-6.7 3.4l-6.8 4.7l-13.6 6.3l-6.9 3.9l-6.9 2l-13.9 6.3l-7 5.7l-14.2 4.2l-14.3 7.7l-7.2 1.7l-7.3 3.5l-7.3 4.8l-7.3 3.8l-7.4 1.7l-7.4 6.1l-7.5 2.6l-15.1 8l-15.2 6.3l-7.7 1.5l-15.5 11l-15.7 4.2l-7.9 5.1l-7.9 3.1l-8 5.8l-8 2.6l-32.6 14.8l-8.3 2.1l-8.3 6.5l-8.4 3.1l-8.4 1.9l-17 12.3l-8.6 3.9l-17.3 5.7l-8.7 4.9l-8.8 3z" fill="url(#s225)" stroke="url(#s225)" stroke-width="0.6"/>
<path d="M559.5 739.7l10.1 3.6l8.7 3.9l4.5 9.4l2 6.6M577.1 732.1l10 3.6l8.6 3.9l4.5 9.2l2 6.5M594.5 728l10 3.6l8.6 3.8l4.5 8.3l2 5.8M611.6 716.5l10 3.6l8.6 3.8l4.5 9l2 6.3M628.6 708.9l10 3.5l8.6 3.8l4.5 8.9l2 6.3M645.4 698.4l9.9 3.5l8.6 3.8l4.5 9.4l2 6.7M662 694l9.9 3.4l8.5 3.7l4.5 8.7l2 6.1M678.3 686.8l9.9 3.4l8.5 3.7l4.4 8.6l2 6M694.5 681.6l9.9 3.4l8.5 3.6l4.4 8.1l2 5.6M710.5 672l9.9 3.3l8.5 3.6l4.4 8.5l2 6M726.3 665l9.8 3.4l8.5 3.6l4.4 8.3l1.9 5.9M742 657.4l9.8 3.3l8.4 3.5l4.4 8.4l1.9 5.9M757.5 650.8l9.8 3.3l8.4 3.5l4.4 8.2l1.9 5.8M772.7 645.1l9.8 3.3l8.4 3.4l4.4 7.9l1.9 5.5M787.9 636.7l9.7 3.2l8.4 3.4l4.4 8.1l1.9 5.7M802.8 627.1l9.7 3.1l8.4 3.4l4.4 8.7l1.9 6.2M817.6 622.5l9.7 3.1l8.3 3.4l4.4 8.2l1.9 5.8M832.2 613.6l9.7 3.1l8.3 3.4l4.3 8.6l1.9 6.1M846.7 608.8l9.6 3.1l8.3 3.3l4.3 8.2l1.9 5.8M861 603l9.6 3.1l8.3 3.3l4.3 7.9l1.9 5.6M875.1 595.1l9.6 3.1l8.3 3.3l4.3 8.2l1.9 5.8M889.1 589.1l9.6 3l8.2 3.2l4.3 8l1.9 5.7M903 583.7l9.5 3l8.2 3.2l4.3 7.8l1.9 5.5M916.7 577.6l9.5 3l8.2 3.2l4.3 7.7l1.9 5.4M930.3 568.5l9.5 2.9l8.2 3.2l4.3 8.2l1.9 5.8M943.7 563.9l9.5 2.9l8.1 3.1l4.3 7.9l1.9 5.6M956.9 558.6l9.4 2.9l8.1 3.1l4.2 7.7l1.9 5.4M970.1 553.7l9.4 2.8l8.1 3l4.2 7.4l1.9 5.2M983.1 543.3l9.4 2.8l8.1 3.1l4.2 8.3l1.9 5.9M996 541.3l9.4 2.8l8.1 3l4.2 7.4l1.9 5.2M563.1 741.1l8.8 -2.3l8.8 -5.4l17.4 -4.1l8.6 -3.8l17.1 -14.8l8.5 -0.5l8.4 -2.5l8.4 -8l8.3 -0.9l16.5 -7.6l16.3 -6.6l8.1 -1.8l8 -7l8 -2.6l7.9 -5.9l15.7 -2.1l15.5 -13.1l7.7 -0.1l15.3 -5.7l7.6 -3.7l7.5 -4.7l7.5 -2.1l7.5 -7.6l7.4 -0.6l7.4 -4l7.3 -5.5l7.3 -3.4l7.2 -0.6l14.4 -8.2l7.1 -1.8l7.1 -0.8l7.1 -7.1l7 -3.6l7 -2.4l6.9 -1.1l6.9 -4.3l6.9 -2.5l6.8 -3.5l6.8 -5.6l6.8 -3.5l6.7 -1.7l13.3 -6.2l6.6 -2l6.6 -2.9l6.5 -2.1l6.5 -3.9l6.5 -6.5l12.9 -2l6.4 -2.8M573.9 744.8l8.8 -2.3l8.8 -5.4l8.7 -1.7l8.6 -2.3l8.6 -3.8l17 -15l8.4 -0.5l8.4 -2.5l8.3 -8.1l8.3 -0.9l16.4 -7.6l16.3 -6.6l8.1 -1.8l8 -7l8 -2.7l7.9 -5.9l15.7 -2.1l15.5 -13.2l7.7 -0.1l15.3 -5.7l7.6 -3.8l7.5 -4.7l7.5 -2l7.4 -7.7l7.4 -0.5l7.4 -4l7.3 -5.5l7.3 -3.5l7.2 -0.6l14.4 -8.2l7.1 -1.8l7.1 -0.8l7 -7.1l7 -3.6l7 -2.5l6.9 -1.1l6.9 -4.3l6.9 -2.6l6.8 -3.6l6.8 -5.6l6.7 -3.5l6.7 -1.8l13.3 -6.2l6.6 -2l6.6 -2.9l6.5 -2.1l6.5 -4l6.5 -6.5l12.8 -2l6.4 -2.8M584.7 763.2l8.8 -3l8.7 -4.9l17.3 -5.7l8.6 -3.9l17 -12.3l8.4 -1.9l8.4 -3.1l8.3 -6.5l8.3 -2.1l32.6 -14.8l8 -2.6l8 -5.8l7.9 -3.1l7.9 -5.1l15.7 -4.2l15.5 -11l7.7 -1.5l15.2 -6.3l15.1 -8l7.5 -2.6l7.4 -6.1l7.4 -1.7l7.3 -3.8l7.3 -4.8l7.3 -3.5l7.2 -1.7l14.3 -7.7l7.1 -2.4l7.1 -1.8l7 -5.7l7 -3.5l7 -2.8l6.9 -2l6.9 -3.9l13.6 -6.3l6.8 -4.7l6.7 -3.4l6.7 -2.3l13.3 -6.3l19.7 -8l6.5 -3.6l6.5 -5.2l12.8 -3.6l6.4 -2.9" fill="none" stroke="#b4b4b4" stroke-opacity="0.8" stroke-width="1"/>
<path d="M584.7 763.2l8.8 -3l8.7 -4.9l17.3 -5.7l8.6 -3.9l17 -12.3l8.4 -1.9l8.4 -3.1l8.3 -6.5l8.3 -2.1l32.6 -14.8l8 -2.6l8 -5.8l7.9 -3.1l7.9 -5.1l15.7 -4.2l15.5 -11l7.7 -1.5l15.2 -6.3l15.1 -8l7.5 -2.6l7.4 -6.1l7.4 -1.7l7.3 -3.8l7.3 -4.8l7.3 -3.5l7.2 -1.7l14.3 -7.7l14.2 -4.2l7 -5.7l13.9 -6.3l6.9 -2l6.9 -3.9l13.6 -6.3l6.8 -4.7l6.7 -3.4l6.7 -2.3l13.3 -6.3l19.7 -8l6.5 -3.6l6.5 -5.2l12.8 -3.6l6.4 -2.9l5.9 14.6l-19.1 8.4l-12.9 7l-39.6 18.3l-34 16.9l-20.8 9.5l-7 4l-14.2 6.1l-28.8 13.6l-14.6 7.5l-7.4 3l-7.4 4.3l-22.5 10.8l-22.9 10.1l-15.5 8.5l-15.7 6.6l-23.8 12.2l-48.9 22.4l-8.3 4.7l-16.8 7.2l-17 9.4l-43.4 19.9z" fill="url(#s226)" stroke="url(#s226)" stroke-width="0.6"/>
<path d="M591.1 781.7l43.4 -19.9l17 -9.4l16.8 -7.2l8.3 -4.7l48.9 -22.4l23.8 -12.2l15.7 -6.6l15.5 -8.5l22.9 -10.1l22.5 -10.8l7.4 -4.3l7.4 -3l14.6 -7.5l28.8 -13.6l14.2 -6.1l7 -4l20.8 -9.5l34 -16.9l39.6 -18.3l12.9 -7l19.1 -8.4l7.9 10l-440 213.1z" fill="url(#s227)" stroke="url(#s227)" stroke-width="0.6"/>
<path d="M599.6 794.6l440 -213.1l10.2 5l-19.1 9.9l-12.9 5.6l-39.5 19.8l-33.9 15.9l-20.8 10.5l-7 2.8l-14.1 7.5l-43.3 20.9l-7.4 4l-7.4 2.9l-22.4 10.9l-22.8 11.9l-15.4 6.6l-15.6 8.4l-23.8 10.9l-48.8 24.7l-8.3 3.4l-16.8 8.9l-17 7.2l-43.3 21.8z" fill="#8c1a96" stroke="#8c1a96" stroke-width="0.6"/>
<path d="M610.6 801.1l43.3 -21.8l17 -7.2l16.8 -8.9l8.3 -3.4l48.8 -24.7l23.8 -10.9l15.6 -8.4l15.4 -6.6l22.8 -11.9l22.4 -10.9l7.4 -2.9l7.4 -4l43.3 -20.9l14.1 -7.5l7 -2.8l20.8 -10.5l33.9 -15.9l39.5 -19.8l12.9 -5.6l19.1 -9.9l3.1 1.5l-19.1 10l-12.9 5.5l-39.4 19.9l-33.8 15.9l-20.7 10.6l-7 2.8l-14.1 7.6l-43.2 20.9l-7.3 4.1l-7.4 2.8l-22.4 11l-22.8 12l-15.4 6.5l-15.6 8.5l-23.7 10.9l-48.8 24.8l-8.3 3.3l-16.7 9l-16.9 7.1l-43.3 22z" fill="#8c1a96" stroke="#8c1a96" stroke-width="0.6"/>
<path d="M584.7 763.2l6.3 18.5l8.6 12.9l14.3 8.5M602.3 755.3l6.3 18.1l8.5 12.6l14.2 8.3M619.6 749.5l6.3 16.3l8.5 11.5l14.2 7.9M636.7 739.2l6.3 17.8l8.5 12.4l14.2 8.2M653.6 731.4l6.3 17.6l8.5 12.2l14.1 8.1M670.3 721.8l6.3 18.7l8.5 12.9l14.1 8.3M686.8 715.9l6.3 17.2l8.4 12l14.1 7.9M703.2 708.5l6.2 16.9l8.4 11.8l14 7.8M719.3 702.2l6.2 15.9l8.4 11.1l14 7.5M735.2 693.3l6.2 16.7l8.4 11.6l14 7.7M751 686.2l6.2 16.4l8.4 11.5l13.9 7.6M766.6 678.6l6.2 16.5l8.3 11.5l13.9 7.5M782 671.6l6.2 16.2l8.3 11.3l13.9 7.4M797.2 665.3l6.2 15.5l8.3 10.9l13.8 7.3M812.3 657.3l6.1 16.1l8.3 11.2l13.8 7.3M827.2 648.5l6.1 17.2l8.3 11.9l13.8 7.5M841.9 642.9l6.1 16.2l8.2 11.2l13.7 7.3M856.5 634.7l6.1 17l8.2 11.7l13.7 7.4M870.9 629l6.1 16.1l8.2 11.1l13.7 7.2M885.1 622.8l6.1 15.7l8.2 10.8l13.6 7M899.2 615.4l6.1 16.2l8.1 11.1l13.6 7.1M913.1 609.1l6 15.9l8.1 11l13.5 7M926.9 603.1l6 15.4l8.1 10.6l13.5 6.9M940.6 596.8l6 15.2l8.1 10.5l13.5 6.8M954.1 588.7l6 16.4l8.1 11.2l13.4 7M967.4 583.4l6 15.6l8 10.7l13.4 6.8M980.6 577.7l6 15.2l8 10.4l13.4 6.7M993.7 572.2l5.9 14.6l8 10.1l13.3 6.5M1006.6 563.3l5.9 16.5l8 11.2l13.3 6.9M1019.5 559.7l5.9 14.7l8 10.1l13.3 6.5M595.6 789.3l440.3 -211.9M606.6 798.7l43.3 -21.7l17 -7.4l16.8 -8.8l8.3 -3.5l48.8 -24.5l23.8 -11l15.6 -8.3l15.4 -6.7l22.8 -11.7l22.4 -10.9l7.4 -3l7.4 -4l43.3 -20.9l14.1 -7.4l7 -2.9l20.8 -10.4l33.9 -16l39.5 -19.6l12.9 -5.7l19.1 -9.8" fill="none" stroke="#b4b4b4" stroke-opacity="0.8" stroke-width="1"/>
<path d="M613.9 803l43.3 -22l16.9 -7.1l16.7 -9l8.3 -3.3l48.8 -24.8l23.7 -10.9l15.6 -8.5l15.4 -6.5l22.8 -12l22.4 -11l7.4 -2.8l7.3 -4.1l43.2 -20.9l14.1 -7.6l7 -2.8l20.7 -10.6l33.8 -15.9l39.4 -19.9l12.9 -5.5l19.1 -10l7.2 2.1l-19 10.1l-12.8 5.5l-39.4 19.9l-33.8 15.9l-20.7 10.6l-7 2.8l-14.1 7.6l-28.6 14.3l-14.6 6.7l-7.3 4.1l-7.4 2.9l-22.4 11l-22.8 12l-15.4 6.5l-15.6 8.6l-23.7 10.9l-48.7 24.9l-8.3 3.3l-16.7 9.1l-16.9 7.1l-43.2 22.1z" fill="#8c1a96" stroke="#8c1a96" stroke-width="0.6"/>
<path d="M621.6 805.9l43.2 -22.1l16.9 -7.1l16.7 -9.1l8.3 -3.3l48.7 -24.9l23.7 -10.9l15.6 -8.6l15.4 -6.5l22.8 -12l22.4 -11l7.4 -2.9l7.3 -4.1l14.6 -6.7l28.6 -14.3l14.1 -7.6l7 -2.8l20.7 -10.6l33.8 -15.9l39.4 -19.9l12.8 -5.5l19 -10.1l10.3 3.1l-19 10.1l-12.8 5.6l-39.3 20l-33.7 16l-20.7 10.7l-7 2.8l-14.1 7.7l-28.6 14.3l-14.5 6.7l-7.3 4.1l-7.4 2.9l-22.4 11.1l-22.7 12.1l-15.4 6.5l-15.6 8.6l-23.7 10.9l-48.6 25.1l-8.3 3.4l-16.7 9.1l-16.9 7.1l-43.2 22.2z" fill="#8c1a96" stroke="#8c1a96" stroke-width="0.6"/>
<path d="M632.7 810.1l43.2 -22.2l16.9 -7.1l16.7 -9.1l8.3 -3.4l48.6 -25.1l23.7 -10.9l15.6 -8.6l15.4 -6.5l22.7 -12.1l22.4 -11.1l7.4 -2.9l7.3 -4.1l14.5 -6.7l28.6 -14.3l14.1 -7.7l7 -2.8l20.7 -10.7l33.7 -16l39.3 -20l12.8 -5.6l19 -10.1l10.3 3.1l-18.9 10.2l-12.8 5.6l-39.2 20.1l-33.6 16.1l-20.6 10.7l-7 2.8l-14 7.7l-28.5 14.4l-14.5 6.7l-7.3 4.2l-7.4 2.9l-22.3 11.1l-22.7 12.2l-15.3 6.6l-15.5 8.7l-23.6 11l-48.5 25.2l-8.3 3.4l-16.7 9.2l-16.9 7.1l-43.1 22.3z" fill="#8c1a96" stroke="#8c1a96" stroke-width="0.6"/>
<path d="M643.8 814.2l43.1 -22.3l16.9 -7.1l16.7 -9.2l8.3 -3.4l48.5 -25.2l23.6 -11l15.5 -8.7l15.3 -6.6l22.7 -12.2l22.3 -11.1l7.4 -2.9l7.3 -4.2l14.5 -6.7l28.5 -14.4l14 -7.7l7 -2.8l20.6 -10.7l33.6 -16.1l39.2 -20.1l12.8 -5.6l18.9 -10.2l10.4 3.1l-18.9 10.2l-12.8 5.6l-39.1 20.2l-33.6 16.2l-20.6 10.8l-6.9 2.8l-14 7.7l-28.5 14.5l-14.5 6.8l-7.3 4.2l-7.3 2.9l-22.3 11.2l-22.7 12.2l-15.3 6.6l-15.5 8.7l-23.6 11l-48.5 25.4l-8.2 3.4l-16.6 9.2l-16.8 7.2l-43 22.4z" fill="#8c1a96" stroke="#8c1a96" stroke-width="0.6"/>
<path d="M655 818.4l43 -22.4l16.8 -7.2l16.6 -9.2l8.2 -3.4l48.5 -25.4l23.6 -11l15.5 -8.7l15.3 -6.6l22.7 -12.2l22.3 -11.2l7.3 -2.9l7.3 -4.2l14.5 -6.8l28.5 -14.5l14 -7.7l6.9 -2.8l20.6 -10.8l33.6 -16.2l39.1 -20.2l12.8 -5.6l18.9 -10.2l10.4 3.1l-18.9 10.3l-12.7 5.6l-39 20.3l-33.5 16.2l-20.5 10.8l-6.9 2.8l-14 7.8l-28.4 14.6l-14.4 6.8l-7.3 4.2l-7.3 2.9l-22.2 11.2l-22.6 12.3l-15.3 6.6l-15.5 8.8l-23.6 11.1l-48.4 25.5l-8.2 3.4l-16.6 9.3l-16.8 7.2l-43 22.6z" fill="#8c1a96" stroke="#8c1a96" stroke-width="0.6"/>
<path d="M666.2 822.6l43 -22.6l16.8 -7.2l16.6 -9.3l8.2 -3.4l48.4 -25.5l23.6 -11.1l15.5 -8.8l15.3 -6.6l22.6 -12.3l22.2 -11.2l7.3 -2.9l7.3 -4.2l14.4 -6.8l28.4 -14.6l14 -7.8l6.9 -2.8l20.5 -10.8l33.5 -16.2l39 -20.3l12.7 -5.6l18.9 -10.3l10.4 3.1l-18.8 10.3l-12.7 5.6l-38.9 20.4l-33.4 16.3l-20.5 10.9l-6.9 2.8l-13.9 7.8l-28.3 14.6l-14.4 6.8l-7.3 4.2l-7.3 2.9l-22.2 11.3l-22.6 12.4l-15.3 6.6l-15.4 8.8l-23.5 11.1l-48.3 25.6l-8.2 3.4l-16.6 9.3l-16.8 7.2l-42.9 22.7z" fill="#8c1a96" stroke="#8c1a96" stroke-width="0.6"/>
<path d="M677.5 826.8l42.9 -22.7l16.8 -7.2l16.6 -9.3l8.2 -3.4l48.3 -25.6l23.5 -11.1l15.4 -8.8l15.3 -6.6l22.6 -12.4l22.2 -11.3l7.3 -2.9l7.3 -4.2l14.4 -6.8l28.3 -14.6l13.9 -7.8l6.9 -2.8l20.5 -10.9l33.4 -16.3l38.9 -20.4l12.7 -5.6l18.8 -10.3l10.1 3l-18.8 10.4l-12.7 5.6l-38.9 20.5l-33.4 16.4l-20.5 11l-6.9 2.8l-13.9 7.9l-14.1 6.9l-14.2 7.8l-14.4 6.8l-7.3 4.3l-7.3 2.9l-22.1 11.3l-22.5 12.4l-15.2 6.7l-15.4 8.9l-23.5 11.2l-48.2 25.8l-8.2 3.4l-16.6 9.4l-16.8 7.2l-42.8 22.8z" fill="#8c1a96" stroke="#8c1a96" stroke-width="0.6"/>
<path d="M613.9 803l74.6 27.8M631.4 794.4l74.4 27.5M648.6 785.3l74.2 27.2M665.7 777.5l74 26.9M682.5 769.3l73.9 26.6M699.2 761.6l73.7 26.4M715.6 753l73.5 26M731.9 745l73.3 25.8M747.9 736.8l73.1 25.4M763.8 729.4l72.9 25.2M779.5 721.6l72.8 24.9M795 714.1l72.6 24.7M810.3 706.5l72.4 24.4M825.5 698.9l72.2 24.1M840.5 691.8l72 23.9M855.3 685.1l71.8 23.7M870 677.5l71.6 23.4M884.5 670.8l71.4 23.2M898.8 663.5l71.2 23M913 656.4l71.1 22.7M927 649.8l70.9 22.5M940.8 642.9l70.7 22.3M954.6 636l70.5 22.1M968.1 629.4l70.3 21.9M981.6 623.3l70.1 21.7M994.8 616.5l69.9 21.5M1008 610l69.7 21.2M1021 603.4l69.5 21M1033.9 597.9l69.3 20.9M1046.6 591l69.2 20.6M617.6 804.4l43.3 -22l16.9 -7.1l16.7 -9l8.3 -3.3l48.7 -24.9l23.7 -10.9l15.6 -8.5l15.4 -6.5l22.8 -12l22.4 -11l7.4 -2.8l7.3 -4.1l14.6 -6.7l14.4 -7.5l14.2 -6.7l14.1 -7.6l7 -2.8l20.7 -10.6l33.8 -15.9l39.4 -19.9l12.9 -5.5l19 -10.1M628.6 808.5l43.2 -22.1l16.9 -7.1l16.7 -9.1l8.3 -3.3l48.7 -25l23.7 -10.9l15.6 -8.6l15.4 -6.5l22.8 -12.1l22.4 -11l7.4 -2.9l7.3 -4.1l14.5 -6.7l14.4 -7.6l14.2 -6.8l14.1 -7.6l7 -2.8l20.7 -10.6l33.7 -16l39.3 -20l12.8 -5.5l19 -10.1M639.7 812.7l43.1 -22.3l16.9 -7.1l16.7 -9.2l8.3 -3.4l8.2 -4.6l40.4 -20.6l23.7 -11l15.5 -8.6l15.4 -6.6l22.7 -12.1l22.3 -11.1l7.4 -2.9l7.3 -4.2l14.5 -6.7l14.3 -7.6l14.2 -6.8l14 -7.7l7 -2.8l20.6 -10.7l33.7 -16.1l39.2 -20.1l12.8 -5.6l19 -10.2M650.9 816.8l43.1 -22.4l16.9 -7.2l16.7 -9.2l8.3 -3.4l8.2 -4.6l40.3 -20.7l23.6 -11l15.5 -8.7l15.3 -6.6l22.7 -12.2l22.3 -11.1l7.3 -2.9l7.3 -4.2l14.5 -6.7l14.3 -7.6l14.2 -6.8l14 -7.7l6.9 -2.8l20.6 -10.8l33.6 -16.1l39.1 -20.2l12.8 -5.6l18.9 -10.2M662.1 821l43 -22.5l16.8 -7.2l16.6 -9.3l8.2 -3.4l8.2 -4.7l40.2 -20.8l23.6 -11.1l15.5 -8.8l15.3 -6.6l7.6 -4.5l15 -7.8l22.2 -11.2l7.3 -2.9l7.3 -4.2l14.5 -6.8l14.3 -7.7l14.1 -6.8l14 -7.8l6.9 -2.8l20.6 -10.8l33.5 -16.2l39.1 -20.3l12.7 -5.6l18.9 -10.3M673.4 825.2l42.9 -22.6l16.8 -7.2l16.6 -9.3l8.2 -3.4l8.2 -4.7l40.1 -20.9l7.9 -3.4l15.6 -7.7l15.5 -8.8l15.3 -6.6l7.6 -4.5l15 -7.9l22.2 -11.3l7.3 -2.9l7.3 -4.2l14.4 -6.8l14.3 -7.7l14.1 -6.9l13.9 -7.8l6.9 -2.8l20.5 -10.9l33.5 -16.3l39 -20.4l12.7 -5.6l18.8 -10.3M684.7 829.5l42.8 -22.8l16.8 -7.2l16.6 -9.4l8.2 -3.4l8.2 -4.7l40.1 -21l7.9 -3.4l15.6 -7.8l15.4 -8.9l15.2 -6.7l7.6 -4.5l15 -7.9l22.2 -11.3l7.3 -2.9l7.3 -4.3l14.4 -6.8l14.2 -7.8l14.1 -6.9l13.9 -7.9l6.9 -2.8l20.5 -10.9l33.4 -16.3l38.9 -20.5l12.7 -5.6l18.8 -10.4" fill="none" stroke="#b4b4b4" stroke-opacity="0.8" stroke-width="1"/></g>
<path d="M161 659.5L689.7 853.4L1116.8 632.6" fill="none" stroke="#000" stroke-width="3" stroke-linejoin="miter"/>
<path d="M161 659.5l-10.9 3.7M216.7 682l-3.8 2.2M276.1 703.7l-7.4 4.1M339.8 727.6l-3.8 2.2M403.5 750.8l-7.4 4.1M473.3 776.3l-3.8 2.2M541.6 800.6l-7.4 4.1M614.5 828.4l-3.8 2.2M689.7 853.4l-9 4.5M730.7 838.9l4.6 2.4M771.7 816l7.5 3.8M810.3 796.7l4.6 2.4M851.3 775l7.5 3.8M887.5 756.9l4.6 2.4M926.1 737.5l7.5 3.8M959.9 718.2l4.6 2.4M993.7 698.9l7.5 3.8M1027.5 682l4.6 2.4M1058.9 663.9l7.5 3.8M1090.2 648.3l4.6 2.4M1116.8 632.6l7 3.6" fill="none" stroke="#000" stroke-width="2.8"/>
<text x="121" y="704.4" font-size="43" text-anchor="middle" transform="rotate(-37 121 704.4)">400</text>
<text x="246.9" y="756.5" font-size="43" text-anchor="middle" transform="rotate(-37 246.9 756.5)">800</text>
<text x="367.3" y="806.8" font-size="43" text-anchor="middle" transform="rotate(-37 367.3 806.8)">1200</text>
<text x="500.7" y="857" font-size="43" text-anchor="middle" transform="rotate(-37 500.7 857)">1600</text>
<text x="648.9" y="909.6" font-size="43" text-anchor="middle" transform="rotate(-37 648.9 909.6)">2000</text>
<text x="787" y="856.9" font-size="42" text-anchor="middle" transform="rotate(48 787 856.9)">10</text>
<text x="857.1" y="814" font-size="42" text-anchor="middle" transform="rotate(48 857.1 814)">20</text>
<text x="938.4" y="776.6" font-size="42" text-anchor="middle" transform="rotate(48 938.4 776.6)">30</text>
<text x="1007.8" y="740.4" font-size="42" text-anchor="middle" transform="rotate(48 1007.8 740.4)">40</text>
<text x="1067.5" y="705.5" font-size="42" text-anchor="middle" transform="rotate(48 1067.5 705.5)">50</text>
<text x="1132.8" y="669.2" font-size="42" text-anchor="middle" transform="rotate(48 1132.8 669.2)">60</text>
<text x="0" y="0" font-size="55.5" transform="translate(56.1 795.6) rotate(22)">Raman shift /cm<tspan font-size="31" dy="-20.5">-1</tspan></text>
<text x="0" y="0" font-size="55" transform="translate(905.5 899.6) rotate(-31)">Test points</text>
<rect x="1090" y="211.1" width="54.7" height="308.8" fill="url(#cba)"/>
<text x="1151.5" y="239" font-size="47">40000</text>
<text x="1168.5" y="537.1" font-size="47">0</text>
<text x="1201.6" y="455.8" font-size="48" transform="rotate(-90 1201.6 455.8)">Intensity</text>
<text x="1274.6" y="86.3" font-size="63">(b)</text>
<rect x="1424.4" y="105.8" width="880.8" height="722.7" fill="none" stroke="#000" stroke-width="3"/>
<line x1="1424.4" y1="466.6" x2="2305.2" y2="466.6" stroke="#000" stroke-width="3"/>
<path d="M1424.4 828.5v16M1496.6 828.5v9M1496.6 466.6v-8M1568.7 828.5v16M1568.7 466.6v-16M1640.9 828.5v9M1640.9 466.6v-8M1713 828.5v16M1713 466.6v-16M1785.2 828.5v9M1785.2 466.6v-8M1857.3 828.5v16M1857.3 466.6v-16M1929.5 828.5v9M1929.5 466.6v-8M2001.6 828.5v16M2001.6 466.6v-16M2073.8 828.5v9M2073.8 466.6v-8M2145.9 828.5v16M2145.9 466.6v-16M2218.1 828.5v9M2218.1 466.6v-8M2290.2 828.5v16M2290.2 466.6v-16" stroke="#000" stroke-width="3" fill="none"/>
<text x="1419.9" y="885.7" font-size="48" text-anchor="middle">0</text>
<text x="1567.7" y="885.7" font-size="48" text-anchor="middle">10</text>
<text x="1712" y="885.7" font-size="48" text-anchor="middle">20</text>
<text x="1856.3" y="885.7" font-size="48" text-anchor="middle">30</text>
<text x="2000.6" y="885.7" font-size="48" text-anchor="middle">40</text>
<text x="2144.9" y="885.7" font-size="48" text-anchor="middle">50</text>
<text x="2289.2" y="885.7" font-size="48" text-anchor="middle">60</text>
<text x="1764.2" y="945.4" font-size="56.5">Test points</text>
<text x="1355.9" y="462.4" font-size="56" text-anchor="middle" transform="rotate(-90 1355.9 462.4)">Intensity /a.u.</text>
<circle cx="1438.8" cy="278.2" r="12.8" fill="url(#mo)"/>
<circle cx="1453.3" cy="276" r="12.8" fill="url(#mo)"/>
<circle cx="1467.7" cy="268.8" r="12.8" fill="url(#mo)"/>
<circle cx="1482.1" cy="264.4" r="12.8" fill="url(#mo)"/>
<circle cx="1496.6" cy="265.9" r="12.8" fill="url(#mo)"/>
<circle cx="1511" cy="267.3" r="12.8" fill="url(#mo)"/>
<circle cx="1525.4" cy="266.6" r="12.8" fill="url(#mo)"/>
<circle cx="1539.8" cy="260.8" r="12.8" fill="url(#mo)"/>
<circle cx="1554.3" cy="258.6" r="12.8" fill="url(#mo)"/>
<circle cx="1568.7" cy="260.8" r="12.8" fill="url(#mo)"/>
<circle cx="1583.1" cy="255" r="12.8" fill="url(#mo)"/>
<circle cx="1597.6" cy="265.1" r="12.8" fill="url(#mo)"/>
<circle cx="1612" cy="273.1" r="12.8" fill="url(#mo)"/>
<circle cx="1626.4" cy="270.2" r="12.8" fill="url(#mo)"/>
<circle cx="1640.9" cy="257.9" r="12.8" fill="url(#mo)"/>
<circle cx="1655.3" cy="258.6" r="12.8" fill="url(#mo)"/>
<circle cx="1669.7" cy="266.6" r="12.8" fill="url(#mo)"/>
<circle cx="1684.1" cy="257.2" r="12.8" fill="url(#mo)"/>
<circle cx="1698.6" cy="265.1" r="12.8" fill="url(#mo)"/>
<circle cx="1713" cy="231.1" r="12.8" fill="url(#mo)"/>
<circle cx="1727.4" cy="230.4" r="12.8" fill="url(#mo)"/>
<circle cx="1741.9" cy="246.3" r="12.8" fill="url(#mo)"/>
<circle cx="1756.3" cy="238.3" r="12.8" fill="url(#mo)"/>
<circle cx="1770.7" cy="232.6" r="12.8" fill="url(#mo)"/>
<circle cx="1785.2" cy="233.3" r="12.8" fill="url(#mo)"/>
<circle cx="1799.6" cy="228.2" r="12.8" fill="url(#mo)"/>
<circle cx="1814" cy="249.9" r="12.8" fill="url(#mo)"/>
<circle cx="1828.4" cy="242.7" r="12.8" fill="url(#mo)"/>
<circle cx="1842.9" cy="242" r="12.8" fill="url(#mo)"/>
<circle cx="1857.3" cy="229.7" r="12.8" fill="url(#mo)"/>
<circle cx="1871.7" cy="270.2" r="12.8" fill="url(#mo)"/>
<circle cx="1886.2" cy="262.2" r="12.8" fill="url(#mo)"/>
<circle cx="1900.6" cy="259.3" r="12.8" fill="url(#mo)"/>
<circle cx="1915" cy="260.1" r="12.8" fill="url(#mo)"/>
<circle cx="1929.5" cy="262.2" r="12.8" fill="url(#mo)"/>
<circle cx="1943.9" cy="258.6" r="12.8" fill="url(#mo)"/>
<circle cx="1958.3" cy="253.6" r="12.8" fill="url(#mo)"/>
<circle cx="1972.7" cy="241.2" r="12.8" fill="url(#mo)"/>
<circle cx="1987.2" cy="239.8" r="12.8" fill="url(#mo)"/>
<circle cx="2001.6" cy="240.7" r="12.8" fill="url(#mo)"/>
<circle cx="2016" cy="231.4" r="12.8" fill="url(#mo)"/>
<circle cx="2030.5" cy="229.9" r="12.8" fill="url(#mo)"/>
<circle cx="2044.9" cy="238.3" r="12.8" fill="url(#mo)"/>
<circle cx="2059.3" cy="242.2" r="12.8" fill="url(#mo)"/>
<circle cx="2073.8" cy="232.2" r="12.8" fill="url(#mo)"/>
<circle cx="2088.2" cy="232.2" r="12.8" fill="url(#mo)"/>
<circle cx="2102.6" cy="249.2" r="12.8" fill="url(#mo)"/>
<circle cx="2117" cy="241.4" r="12.8" fill="url(#mo)"/>
<circle cx="2131.5" cy="237.6" r="12.8" fill="url(#mo)"/>
<circle cx="2145.9" cy="246.1" r="12.8" fill="url(#mo)"/>
<circle cx="2160.3" cy="243" r="12.8" fill="url(#mo)"/>
<circle cx="2174.8" cy="240.7" r="12.8" fill="url(#mo)"/>
<circle cx="2189.2" cy="242.2" r="12.8" fill="url(#mo)"/>
<circle cx="2203.6" cy="245.3" r="12.8" fill="url(#mo)"/>
<circle cx="2218.1" cy="255.3" r="12.8" fill="url(#mo)"/>
<circle cx="2232.5" cy="255.3" r="12.8" fill="url(#mo)"/>
<circle cx="2246.9" cy="250.7" r="12.8" fill="url(#mo)"/>
<circle cx="2261.3" cy="250.7" r="12.8" fill="url(#mo)"/>
<circle cx="2275.8" cy="253.8" r="12.8" fill="url(#mo)"/>
<circle cx="2290.2" cy="248.4" r="12.8" fill="url(#mo)"/>
<circle cx="1438.8" cy="594.5" r="12.8" fill="url(#mg)"/>
<circle cx="1453.3" cy="593.1" r="12.8" fill="url(#mg)"/>
<circle cx="1467.7" cy="584.4" r="12.8" fill="url(#mg)"/>
<circle cx="1482.1" cy="580.1" r="12.8" fill="url(#mg)"/>
<circle cx="1496.6" cy="581.5" r="12.8" fill="url(#mg)"/>
<circle cx="1511" cy="585.1" r="12.8" fill="url(#mg)"/>
<circle cx="1525.4" cy="590.2" r="12.8" fill="url(#mg)"/>
<circle cx="1539.8" cy="583" r="12.8" fill="url(#mg)"/>
<circle cx="1554.3" cy="580.8" r="12.8" fill="url(#mg)"/>
<circle cx="1568.7" cy="585.1" r="12.8" fill="url(#mg)"/>
<circle cx="1583.1" cy="576.4" r="12.8" fill="url(#mg)"/>
<circle cx="1597.6" cy="589.5" r="12.8" fill="url(#mg)"/>
<circle cx="1612" cy="597.4" r="12.8" fill="url(#mg)"/>
<circle cx="1626.4" cy="591.6" r="12.8" fill="url(#mg)"/>
<circle cx="1640.9" cy="580.1" r="12.8" fill="url(#mg)"/>
<circle cx="1655.3" cy="580.8" r="12.8" fill="url(#mg)"/>
<circle cx="1669.7" cy="590.9" r="12.8" fill="url(#mg)"/>
<circle cx="1684.1" cy="583" r="12.8" fill="url(#mg)"/>
<circle cx="1698.6" cy="593.8" r="12.8" fill="url(#mg)"/>
<circle cx="1713" cy="548.2" r="12.8" fill="url(#mg)"/>
<circle cx="1727.4" cy="548.9" r="12.8" fill="url(#mg)"/>
<circle cx="1741.9" cy="567.8" r="12.8" fill="url(#mg)"/>
<circle cx="1756.3" cy="559.1" r="12.8" fill="url(#mg)"/>
<circle cx="1770.7" cy="550.4" r="12.8" fill="url(#mg)"/>
<circle cx="1785.2" cy="552.6" r="12.8" fill="url(#mg)"/>
<circle cx="1799.6" cy="545.3" r="12.8" fill="url(#mg)"/>
<circle cx="1814" cy="580.8" r="12.8" fill="url(#mg)"/>
<circle cx="1828.4" cy="569.9" r="12.8" fill="url(#mg)"/>
<circle cx="1842.9" cy="569.9" r="12.8" fill="url(#mg)"/>
<circle cx="1857.3" cy="553.3" r="12.8" fill="url(#mg)"/>
<circle cx="1871.7" cy="591.6" r="12.8" fill="url(#mg)"/>
<circle cx="1886.2" cy="581.5" r="12.8" fill="url(#mg)"/>
<circle cx="1900.6" cy="580.8" r="12.8" fill="url(#mg)"/>
<circle cx="1915" cy="579.3" r="12.8" fill="url(#mg)"/>
<circle cx="1929.5" cy="583" r="12.8" fill="url(#mg)"/>
<circle cx="1943.9" cy="580.8" r="12.8" fill="url(#mg)"/>
<circle cx="1958.3" cy="572.8" r="12.8" fill="url(#mg)"/>
<circle cx="1972.7" cy="559.8" r="12.8" fill="url(#mg)"/>
<circle cx="1987.2" cy="558.3" r="12.8" fill="url(#mg)"/>
<circle cx="2001.6" cy="559.1" r="12.8" fill="url(#mg)"/>
<circle cx="2016" cy="548.3" r="12.8" fill="url(#mg)"/>
<circle cx="2030.5" cy="546" r="12.8" fill="url(#mg)"/>
<circle cx="2044.9" cy="555.3" r="12.8" fill="url(#mg)"/>
<circle cx="2059.3" cy="557.6" r="12.8" fill="url(#mg)"/>
<circle cx="2073.8" cy="547.5" r="12.8" fill="url(#mg)"/>
<circle cx="2088.2" cy="546.8" r="12.8" fill="url(#mg)"/>
<circle cx="2102.6" cy="569.2" r="12.8" fill="url(#mg)"/>
<circle cx="2117" cy="559.9" r="12.8" fill="url(#mg)"/>
<circle cx="2131.5" cy="556" r="12.8" fill="url(#mg)"/>
<circle cx="2145.9" cy="563.8" r="12.8" fill="url(#mg)"/>
<circle cx="2160.3" cy="560.7" r="12.8" fill="url(#mg)"/>
<circle cx="2174.8" cy="559.9" r="12.8" fill="url(#mg)"/>
<circle cx="2189.2" cy="562.2" r="12.8" fill="url(#mg)"/>
<circle cx="2203.6" cy="567.6" r="12.8" fill="url(#mg)"/>
<circle cx="2218.1" cy="576.1" r="12.8" fill="url(#mg)"/>
<circle cx="2232.5" cy="579.2" r="12.8" fill="url(#mg)"/>
<circle cx="2246.9" cy="572.2" r="12.8" fill="url(#mg)"/>
<circle cx="2261.3" cy="573" r="12.8" fill="url(#mg)"/>
<circle cx="2275.8" cy="576.9" r="12.8" fill="url(#mg)"/>
<circle cx="2290.2" cy="569.2" r="12.8" fill="url(#mg)"/>
<line x1="1425.9" y1="237.6" x2="2290.5" y2="237.6" stroke="#1565b5" stroke-width="3.6" stroke-dasharray="22.4 11.6 8.2 10.9 8.6 11.2" stroke-dashoffset="-0.5"/>
<line x1="1425.9" y1="250.6" x2="2290.5" y2="250.6" stroke="#f6424a" stroke-width="3.6" stroke-dasharray="25 22.9"/>
<line x1="1425.9" y1="264.1" x2="2290.5" y2="264.1" stroke="#1565b5" stroke-width="3.6" stroke-dasharray="22.4 11.6 8.2 10.9 8.6 11.2" stroke-dashoffset="-0.5"/>
<line x1="1425.9" y1="556.3" x2="2290.5" y2="556.3" stroke="#1565b5" stroke-width="3.6" stroke-dasharray="22.4 11.6 8.2 10.9 8.6 11.2" stroke-dashoffset="-0.5"/>
<line x1="1425.9" y1="572.1" x2="2290.5" y2="572.1" stroke="#f6424a" stroke-width="3.6" stroke-dasharray="25 22.9"/>
<line x1="1425.9" y1="586.8" x2="2290.5" y2="586.8" stroke="#1565b5" stroke-width="3.6" stroke-dasharray="22.4 11.6 8.2 10.9 8.6 11.2" stroke-dashoffset="-0.5"/>
<text x="1635.7" y="177.6" font-size="48">RSD= 6.2%</text>
<circle cx="1980" cy="175.3" r="13" fill="url(#mo)"/>
<text x="2043" y="190.7" font-size="48">1591 cm</text>
<text x="2226.2" y="174.3" font-size="23">-</text>
<text x="2236.1" y="174.3" font-size="23">1</text>
<text x="1639.4" y="520.6" font-size="40">RSD= 5.8%</text>
<circle cx="2026" cy="503.9" r="13" fill="url(#mg)"/>
<text x="2089.3" y="520.6" font-size="48">1079 cm</text>
<text x="2273.3" y="505" font-size="23">-</text>
<text x="2281.8" y="505" font-size="23">1</text>
<path d="M1446.6 360.9V421.1M1441.1 362.1h11M1441.1 419.9h11" stroke="#000" stroke-width="2.6" fill="none"/>
<text x="1454.5" y="402.2" font-size="30">10000</text>
<line x1="1579" y1="371.7" x2="1604" y2="371.7" stroke="#f6424a" stroke-width="3.6"/>
<line x1="1626.2" y1="371.7" x2="1651.2" y2="371.7" stroke="#f6424a" stroke-width="3.6"/>
<path d="M1967.7 372.5h21.5m11 0h8m10 0h8m10.5 0h21.5" stroke="#1565b5" stroke-width="3.6" fill="none"/>
<text x="1669.2" y="383.7" font-size="48">Average line</text>
<text x="2067.1" y="383.7" font-size="48">±</text>
<text x="2101" y="383.7" font-size="48">6.2% line</text>
<path d="M1450.1 669.3V728.6M1444.6 670.5h11M1444.6 727.4h11" stroke="#000" stroke-width="2.6" fill="none"/>
<text x="1457.5" y="709.3" font-size="30">10000</text>
<line x1="1582.4" y1="696.4" x2="1607.4" y2="696.4" stroke="#f6424a" stroke-width="3.6"/>
<line x1="1630.5" y1="696.4" x2="1655.5" y2="696.4" stroke="#f6424a" stroke-width="3.6"/>
<path d="M1959.1 697.2h21.5m11 0h8m10 0h8m10.5 0h21.5" stroke="#1565b5" stroke-width="3.6" fill="none"/>
<text x="1673.4" y="709.3" font-size="48">Average line</text>
<text x="2060.7" y="709.3" font-size="48">±</text>
<text x="2095.8" y="709.3" font-size="48">5.8% line</text>
<text x="28.4" y="1084.5" font-size="63">(c)</text>
<rect x="290" y="1132.4" width="43.8" height="245.4" fill="url(#cbc)"/>
<text x="340.4" y="1164.9" font-size="44">40000</text>
<text x="354.2" y="1377.2" font-size="44">0</text>
<text x="561.1" y="1347.4" font-size="48">Three months</text>
<text x="658.5" y="1694.4" font-size="48">Fresh</text>
<line x1="294.6" y1="1481.7" x2="291.1" y2="1495.2" stroke="#e6df00" stroke-width="3.6"/><line x1="291.1" y1="1495.2" x2="287.7" y2="1508.6" stroke="#e8174c" stroke-width="3.6"/>
<line x1="287.7" y1="1508.6" x2="304" y2="1517.7" stroke="#e8174c" stroke-width="3.6"/><line x1="304" y1="1517.7" x2="320.4" y2="1526.8" stroke="#111111" stroke-width="3.6"/>
<line x1="320.4" y1="1526.8" x2="320.4" y2="1545.2" stroke="#111111" stroke-width="3.6"/><line x1="320.4" y1="1545.2" x2="320.4" y2="1563.5" stroke="#111111" stroke-width="3.6"/>
<line x1="320.4" y1="1563.5" x2="303.5" y2="1573" stroke="#111111" stroke-width="3.6"/><line x1="303.5" y1="1573" x2="286.7" y2="1582.6" stroke="#111111" stroke-width="3.6"/>
<line x1="286.7" y1="1582.6" x2="286.7" y2="1601.7" stroke="#111111" stroke-width="3.6"/><line x1="286.7" y1="1601.7" x2="286.7" y2="1620.7" stroke="#111111" stroke-width="3.6"/>
<line x1="286.7" y1="1620.7" x2="303.5" y2="1631" stroke="#111111" stroke-width="3.6"/><line x1="303.5" y1="1631" x2="320.4" y2="1641.3" stroke="#111111" stroke-width="3.6"/>
<line x1="320.4" y1="1641.3" x2="337.1" y2="1631" stroke="#111111" stroke-width="3.6"/><line x1="337.1" y1="1631" x2="353.8" y2="1620.7" stroke="#111111" stroke-width="3.6"/>
<line x1="353.8" y1="1620.7" x2="353.8" y2="1601.7" stroke="#111111" stroke-width="3.6"/><line x1="353.8" y1="1601.7" x2="353.8" y2="1582.6" stroke="#111111" stroke-width="3.6"/>
<line x1="353.8" y1="1582.6" x2="337.1" y2="1573" stroke="#111111" stroke-width="3.6"/><line x1="337.1" y1="1573" x2="320.4" y2="1563.5" stroke="#111111" stroke-width="3.6"/>
<line x1="286.7" y1="1582.6" x2="273.6" y2="1575.2" stroke="#111111" stroke-width="3.6"/><line x1="273.6" y1="1575.2" x2="260.6" y2="1567.9" stroke="#e6df00" stroke-width="3.6"/>
<line x1="353.8" y1="1582.6" x2="367" y2="1575.2" stroke="#111111" stroke-width="3.6"/><line x1="367" y1="1575.2" x2="380.2" y2="1567.9" stroke="#e6df00" stroke-width="3.6"/>
<line x1="286.7" y1="1620.7" x2="274" y2="1628.8" stroke="#111111" stroke-width="3.6"/><line x1="274" y1="1628.8" x2="261.3" y2="1636.9" stroke="#e6df00" stroke-width="3.6"/>
<line x1="353.8" y1="1620.7" x2="367" y2="1628.4" stroke="#111111" stroke-width="3.6"/><line x1="367" y1="1628.4" x2="380.2" y2="1636.1" stroke="#e6df00" stroke-width="3.6"/>
<line x1="320.4" y1="1641.3" x2="320.4" y2="1666.6" stroke="#111111" stroke-width="3.6"/><line x1="320.4" y1="1666.6" x2="320.4" y2="1691.9" stroke="#1ba6dc" stroke-width="3.6"/>
<line x1="320.4" y1="1691.9" x2="337.1" y2="1700.3" stroke="#1ba6dc" stroke-width="3.6"/><line x1="337.1" y1="1700.3" x2="353.8" y2="1708.8" stroke="#e6df00" stroke-width="3.6"/>
<line x1="321.5" y1="1528.7" x2="336" y2="1520.3" stroke="#111" stroke-width="2.2"/>
<line x1="336" y1="1520.3" x2="350.5" y2="1511.8" stroke="#e8174c" stroke-width="2.2"/>
<line x1="319.3" y1="1524.9" x2="333.8" y2="1516.4" stroke="#111" stroke-width="2.2"/>
<line x1="333.8" y1="1516.4" x2="348.3" y2="1508" stroke="#e8174c" stroke-width="2.2"/>
<path d="M320.4 1571.2l26.7 15.3l0 30.5l-26.7 16.5l-27 -16.5l0 -30.5z" fill="none" stroke="#111" stroke-width="2.2" stroke-dasharray="4 3"/>
<circle cx="294.6" cy="1481.7" r="3.4" fill="url(#aty)"/>
<circle cx="287.7" cy="1508.6" r="8.6" fill="url(#atr)"/>
<circle cx="349.4" cy="1509.9" r="8.6" fill="url(#atr)"/>
<circle cx="320.4" cy="1526.8" r="9.4" fill="url(#atk)"/>
<circle cx="320.4" cy="1563.5" r="9.4" fill="url(#atk)"/>
<circle cx="286.7" cy="1582.6" r="9.4" fill="url(#atk)"/>
<circle cx="353.8" cy="1582.6" r="9.4" fill="url(#atk)"/>
<circle cx="286.7" cy="1620.7" r="9.4" fill="url(#atk)"/>
<circle cx="353.8" cy="1620.7" r="9.4" fill="url(#atk)"/>
<circle cx="320.4" cy="1641.3" r="9.4" fill="url(#atk)"/>
<circle cx="320.4" cy="1691.9" r="10.2" fill="url(#atc)"/>
<circle cx="353.8" cy="1708.8" r="4.2" fill="url(#aty)"/>
<circle cx="260.6" cy="1567.9" r="6.6" fill="url(#aty)"/>
<circle cx="380.2" cy="1567.9" r="6.6" fill="url(#aty)"/>
<circle cx="261.3" cy="1636.9" r="6.6" fill="url(#aty)"/>
<circle cx="380.2" cy="1636.1" r="6.6" fill="url(#aty)"/>
<path d="M186.3 1427.4l18.5 -0.8l5 -1.1l2.8 -1.8l1.4 -1l1.4 -0.1l4.3 2.4l5 0.7l11.4 -0.5l7.1 -1.4l4.3 -2l2.8 -2.6l2.1 -3.1l2.8 -5.9l1.4 -2.9l0.7 -1l0.7 -0.6l0.7 0l0.7 0.6l1.4 2.4l2.8 6.1l2.1 3.4l2.1 2.3l3.6 2.2l5.7 1.6l10.7 0.8l10.7 -0.4l5 -1.2l3.6 -1l7.8 1.5l5.7 -0.4l4.3 -1.4l2.8 -1.9l3.6 -3.9l2.1 -2.4l1.4 -0.6l1.4 0.6l5.7 6.3l3.6 2.2l5 1.3l6.4 0.2l5 -1l5.7 -2.3l2.1 0.2l6.4 3l7.1 1.4l20.6 0.8l53.4 -2.2l17.1 -1.6l5 -1.7l2.8 -2.1l2.8 -3.3l0.7 -0.4l1.4 0.5l2.8 2.1l2.8 0.6l5.7 -0.9l10 -3.6l3.6 -2.4l2.1 -2.7l1.4 -3.1l0.7 -2.1l0.7 -2.7l0.7 -3.4l0.7 -4.2l0.7 -5.2l0.7 -6.3l0.7 -7.6l0.7 -8.9l0.7 -10.4l0.7 -12l0.7 -13.5l0.7 -15l0.7 -16.3l0.7 -17.5l0.7 -18.4l2.1 -57.4l0.7 -17.9l0.7 -15.2l0.7 -10.5l0.7 -3.6l0.7 4.2l0.7 11.1l0.7 15.8l0.7 18.5l2.1 58.9l0.7 18.8l0.7 17.8l0.7 16.6l0.7 15.2l0.7 13.7l0.7 12.1l0.7 10.5l0.7 9l0.7 7.6l0.7 6.3l0.7 5.1l0.7 4.1l0.7 3.3l0.7 2.6l0.7 2l1.4 2.8l2.1 2.3l3.6 1.9l7.8 1.8l11.4 0.9l10.7 -0.5l5 -1.2l3.6 -2l2.1 -2.1l2.1 -3.4l2.1 -5.1l2.1 -6.1l0.7 -1.6l0.7 -1.1l0.7 -0.4l0.7 0.4l0.7 1.2l1.4 3.7l2.1 6.2l2.1 4.7l2.1 3.1l2.8 2.5l4.3 2.1l1.4 0.4l9.3 -2.1l17.1 -5.4l29.9 -5.8l29.9 7.4l13.5 3.9l32 -2.8l4.3 -1.6l2.8 -0.9l2.8 1.2l4.3 2l8.5 1.4l24.9 2.1l7.1 -0.1l4.3 -1.3l2.1 -1.5l1.4 -1.7l1.4 -2.6l1.4 -3.3l0.7 -1.3l0.7 -0.5l0.7 0.5l1.4 2.9l1.4 3l1.4 2.1l2.1 1.8l3.6 1.2l9.3 0.7l6.4 -0.1l26.3 -6l4.3 -1.9l2.1 -2l1.4 -2.4l0.7 -1.8l0.7 -2.2l0.7 -2.8l0.7 -3.5l0.7 -4.4l0.7 -5.3l0.7 -6.4l0.7 -7.6l0.7 -8.8l0.7 -10.1l0.7 -11.3l0.7 -12.5l0.7 -13.5l0.7 -14.4l0.7 -15l1.4 -31l0.7 -15l0.7 -13.6l0.7 -10.8l0.7 -6.1l0.7 -0.1l0.7 5.9l0.7 10.6l0.7 13.4l0.7 14.9l1.4 30.6l0.7 14.8l0.7 14.2l0.7 13.3l0.7 12.2l0.7 11.1l0.7 9.9l0.7 8.6l0.7 7.4l0.7 6.2l0.7 5.1l0.7 4.2l0.7 3.3l0.7 2.6l0.7 2l1.4 2.7l2.1 1.9l3.6 1l10.7 0l45.5 0l8.5 3.3l10.7 8.4l9.3 6.1l14.9 4.1l31.3 1.8l2.1 0" fill="none" stroke="url(#sgU)" stroke-width="5.2" stroke-linejoin="round"/>
<path d="M186.3 1769.2l17.8 -0.8l5 -1l2.8 -1.6l2.1 -1.7l1.4 -0.1l3.6 2.3l4.3 1l10.7 -0.2l7.8 -1.3l4.3 -1.7l2.8 -2.1l2.1 -2.5l2.1 -3.7l3.6 -8.1l0.7 -1.1l0.7 -0.6l0.7 0l0.7 0.6l1.4 2.6l2.8 6.5l2.1 3.7l2.1 2.5l3.6 2.4l5 1.6l9.3 0.9l11.4 -0.2l5.7 -1.2l4.3 -1.4l7.1 1.6l5.7 -0.3l4.3 -1.3l3.6 -2.4l2.8 -3.3l2.8 -3.5l1.4 -0.6l1.4 0.6l5 6.1l2.8 2.3l4.3 1.8l5.7 0.8l5.7 -0.5l5 -2l2.8 -1.1l2.1 0.3l6.4 3.2l6.4 1.4l17.1 0.8l33.4 -1l34.2 -2l8.5 -1.3l4.3 -1.9l2.1 -1.8l2.8 -3.6l0.7 -0.4l1.4 0.6l2.8 2.2l2.8 0.6l5 -0.8l10.7 -4.1l2.8 -2l2.1 -2.5l1.4 -2.7l0.7 -1.9l0.7 -2.4l0.7 -3l0.7 -3.8l0.7 -4.7l0.7 -5.8l0.7 -7l0.7 -8.5l0.7 -10l0.7 -11.7l0.7 -13.4l0.7 -15.2l0.7 -16.8l0.7 -18.3l0.7 -19.6l0.7 -20.7l2.1 -64.5l0.7 -20.1l0.7 -17.1l0.7 -11.8l0.7 -4l0.7 4.7l0.7 12.4l0.7 17.8l0.7 20.7l2.1 66.1l0.7 21.1l0.7 20l0.7 18.6l0.7 17l0.7 15.3l0.7 13.6l0.7 11.8l0.7 10.1l0.7 8.5l0.7 7l0.7 5.7l0.7 4.6l0.7 3.7l0.7 2.9l0.7 2.2l1.4 3.1l1.4 1.9l2.8 2.1l5.7 1.9l10 1.5l11.4 0.1l7.1 -1l4.3 -1.8l2.8 -2.5l2.1 -3.1l1.4 -3l2.1 -6l1.4 -4.3l0.7 -1.8l0.7 -1.2l0.7 -0.4l0.7 0.5l0.7 1.2l1.4 4l2.1 6.6l1.4 3.6l2.1 3.8l2.1 2.5l3.6 2.5l3.6 1.4l8.5 -2l17.8 -6l29.9 -6.3l29.9 7.9l13.5 4.2l32 -3l4.3 -1.7l2.1 -0.9l2.1 0.4l5 2.7l6.4 1.4l23.5 2.4l10.7 0.2l4.3 -1.1l2.1 -1.3l2.1 -2.5l1.4 -2.8l1.4 -3.6l0.7 -1.4l0.7 -0.6l0.7 0.5l1.4 3.1l1.4 3.3l1.4 2.2l2.1 1.9l3.6 1.3l8.5 0.7l7.1 -0.1l24.9 -6l5 -2.1l2.1 -1.8l1.4 -2.2l0.7 -1.5l0.7 -2l0.7 -2.5l0.7 -3.2l0.7 -4l0.7 -4.9l0.7 -6l0.7 -7.2l0.7 -8.6l0.7 -10l0.7 -11.4l0.7 -12.8l0.7 -14.1l0.7 -15.2l0.7 -16.2l0.7 -17l1.4 -35l0.7 -17l0.7 -15.4l0.7 -12.1l0.7 -6.9l0.7 -0.1l0.7 6.7l0.7 11.9l0.7 15.2l0.7 16.8l1.4 34.6l0.7 16.8l0.7 16l0.7 15l0.7 13.8l0.7 12.5l0.7 11.1l0.7 9.7l0.7 8.3l0.7 7l0.7 5.8l0.7 4.7l0.7 3.8l0.7 3l0.7 2.3l0.7 1.7l1.4 2.3l2.1 1.6l3.6 0.9l11.4 -0.1l44.1 0.1l8.5 3.5l10 8.5l10 7l14.9 4.4l30.6 1.9l2.8 0" fill="none" stroke="url(#sgL)" stroke-width="5.2" stroke-linejoin="round"/>
<rect x="190.8" y="1102.6" width="853.2" height="688.4" fill="none" stroke="#000" stroke-width="3.4"/>
<path d="M190.6 1791v13.5M233.3 1791v6.8M276 1791v6.8M318.7 1791v6.8M361.4 1791v6.8M404.1 1791v13.5M446.8 1791v6.8M489.5 1791v6.8M532.2 1791v6.8M574.9 1791v6.8M617.6 1791v13.5M660.3 1791v6.8M703 1791v6.8M745.7 1791v6.8M788.4 1791v6.8M831.1 1791v13.5M873.8 1791v6.8M916.5 1791v6.8M959.2 1791v6.8M1001.9 1791v6.8M1044.6 1791v13.5" stroke="#000" stroke-width="3.4" fill="none"/>
<text x="195.1" y="1854.8" font-size="48.5" text-anchor="middle">600</text>
<text x="408.6" y="1854.8" font-size="48.5" text-anchor="middle">900</text>
<text x="622.1" y="1854.8" font-size="48.5" text-anchor="middle">1200</text>
<text x="835.6" y="1854.8" font-size="48.5" text-anchor="middle">1500</text>
<text x="1049.1" y="1854.8" font-size="48.5" text-anchor="middle">1800</text>
<text x="375.4" y="1950.8" font-size="55.8">Raman shift /cm</text>
<text x="779.8" y="1932.2" font-size="31">-</text>
<text x="789" y="1932.2" font-size="31">1</text>
<text x="121.2" y="1444" font-size="56" text-anchor="middle" transform="rotate(-90 121.2 1444)">Intensity /a.u.</text>
<text x="1155.4" y="1080.2" font-size="63">(d)</text>
<rect x="1526.1" y="1271.2" width="68.7" height="532.8" fill="#008fce"/>
<rect x="1697.6" y="1336.2" width="67.4" height="467.8" fill="#008fce"/>
<rect x="1936.2" y="1360.3" width="68.8" height="443.7" fill="#ff9e00"/>
<rect x="2107.2" y="1411" width="67.9" height="393" fill="#ff9e00"/>
<path d="M1560.8 1256.9V1285.4M1551.8 1256.9h18M1551.8 1285.4h18" stroke="#111" stroke-width="4.4" stroke-linecap="round" fill="none"/>
<path d="M1731.4 1317.2V1355.2M1722.4 1317.2h18M1722.4 1355.2h18" stroke="#111" stroke-width="4.4" stroke-linecap="round" fill="none"/>
<path d="M1970.7 1348V1372.3M1961.7 1348h18M1961.7 1372.3h18" stroke="#111" stroke-width="4.4" stroke-linecap="round" fill="none"/>
<path d="M2140.9 1396.5V1424.2M2131.9 1396.5h18M2131.9 1424.2h18" stroke="#111" stroke-width="4.4" stroke-linecap="round" fill="none"/>
<rect x="1424" y="1114" width="853.3" height="690" fill="none" stroke="#000" stroke-width="3.4"/>
<path d="M1424 1804h-13M1424 1746.5h-7M1424 1689h-13M1424 1631.5h-7M1424 1574h-13M1424 1516.5h-7M1424 1459h-13M1424 1401.5h-7M1424 1344h-13M1424 1286.5h-7M1424 1229h-13M1424 1171.5h-7M1424 1114h-13" stroke="#000" stroke-width="3.4" fill="none"/>
<text x="1401" y="1818.5" font-size="46" text-anchor="end">0</text>
<text x="1401" y="1703.5" font-size="46" text-anchor="end">10000</text>
<text x="1401" y="1588.5" font-size="46" text-anchor="end">20000</text>
<text x="1401" y="1473.5" font-size="46" text-anchor="end">30000</text>
<text x="1401" y="1358.5" font-size="46" text-anchor="end">40000</text>
<text x="1401" y="1243.5" font-size="46" text-anchor="end">50000</text>
<text x="1401" y="1128.5" font-size="46" text-anchor="end">60000</text>
<text x="1227.7" y="1441.6" font-size="59" text-anchor="middle" transform="rotate(-90 1227.7 1441.6)">Intensity /a.u.</text>
<text x="1539.3" y="1238.3" font-size="47">1079 cm</text>
<text x="1721.9" y="1222.7" font-size="27">-</text>
<text x="1732.4" y="1222.7" font-size="27">1</text>
<text x="1981.5" y="1323.1" font-size="47">1591 cm</text>
<text x="2160" y="1305.7" font-size="27">-</text>
<text x="2174.5" y="1305.7" font-size="27">1</text>
<text x="1525.9" y="1846.6" font-size="48" transform="rotate(33 1525.9 1846.6)">Fresh</text>
<text x="1706.7" y="1842.1" font-size="48" transform="rotate(33 1706.7 1842.1)">Three months</text>
<text x="1950" y="1843.1" font-size="48" transform="rotate(33 1950 1843.1)">Fresh</text>
<text x="2100.4" y="1842.7" font-size="48" transform="rotate(33 2100.4 1842.7)">Three months</text>
</svg>
</body></html>
